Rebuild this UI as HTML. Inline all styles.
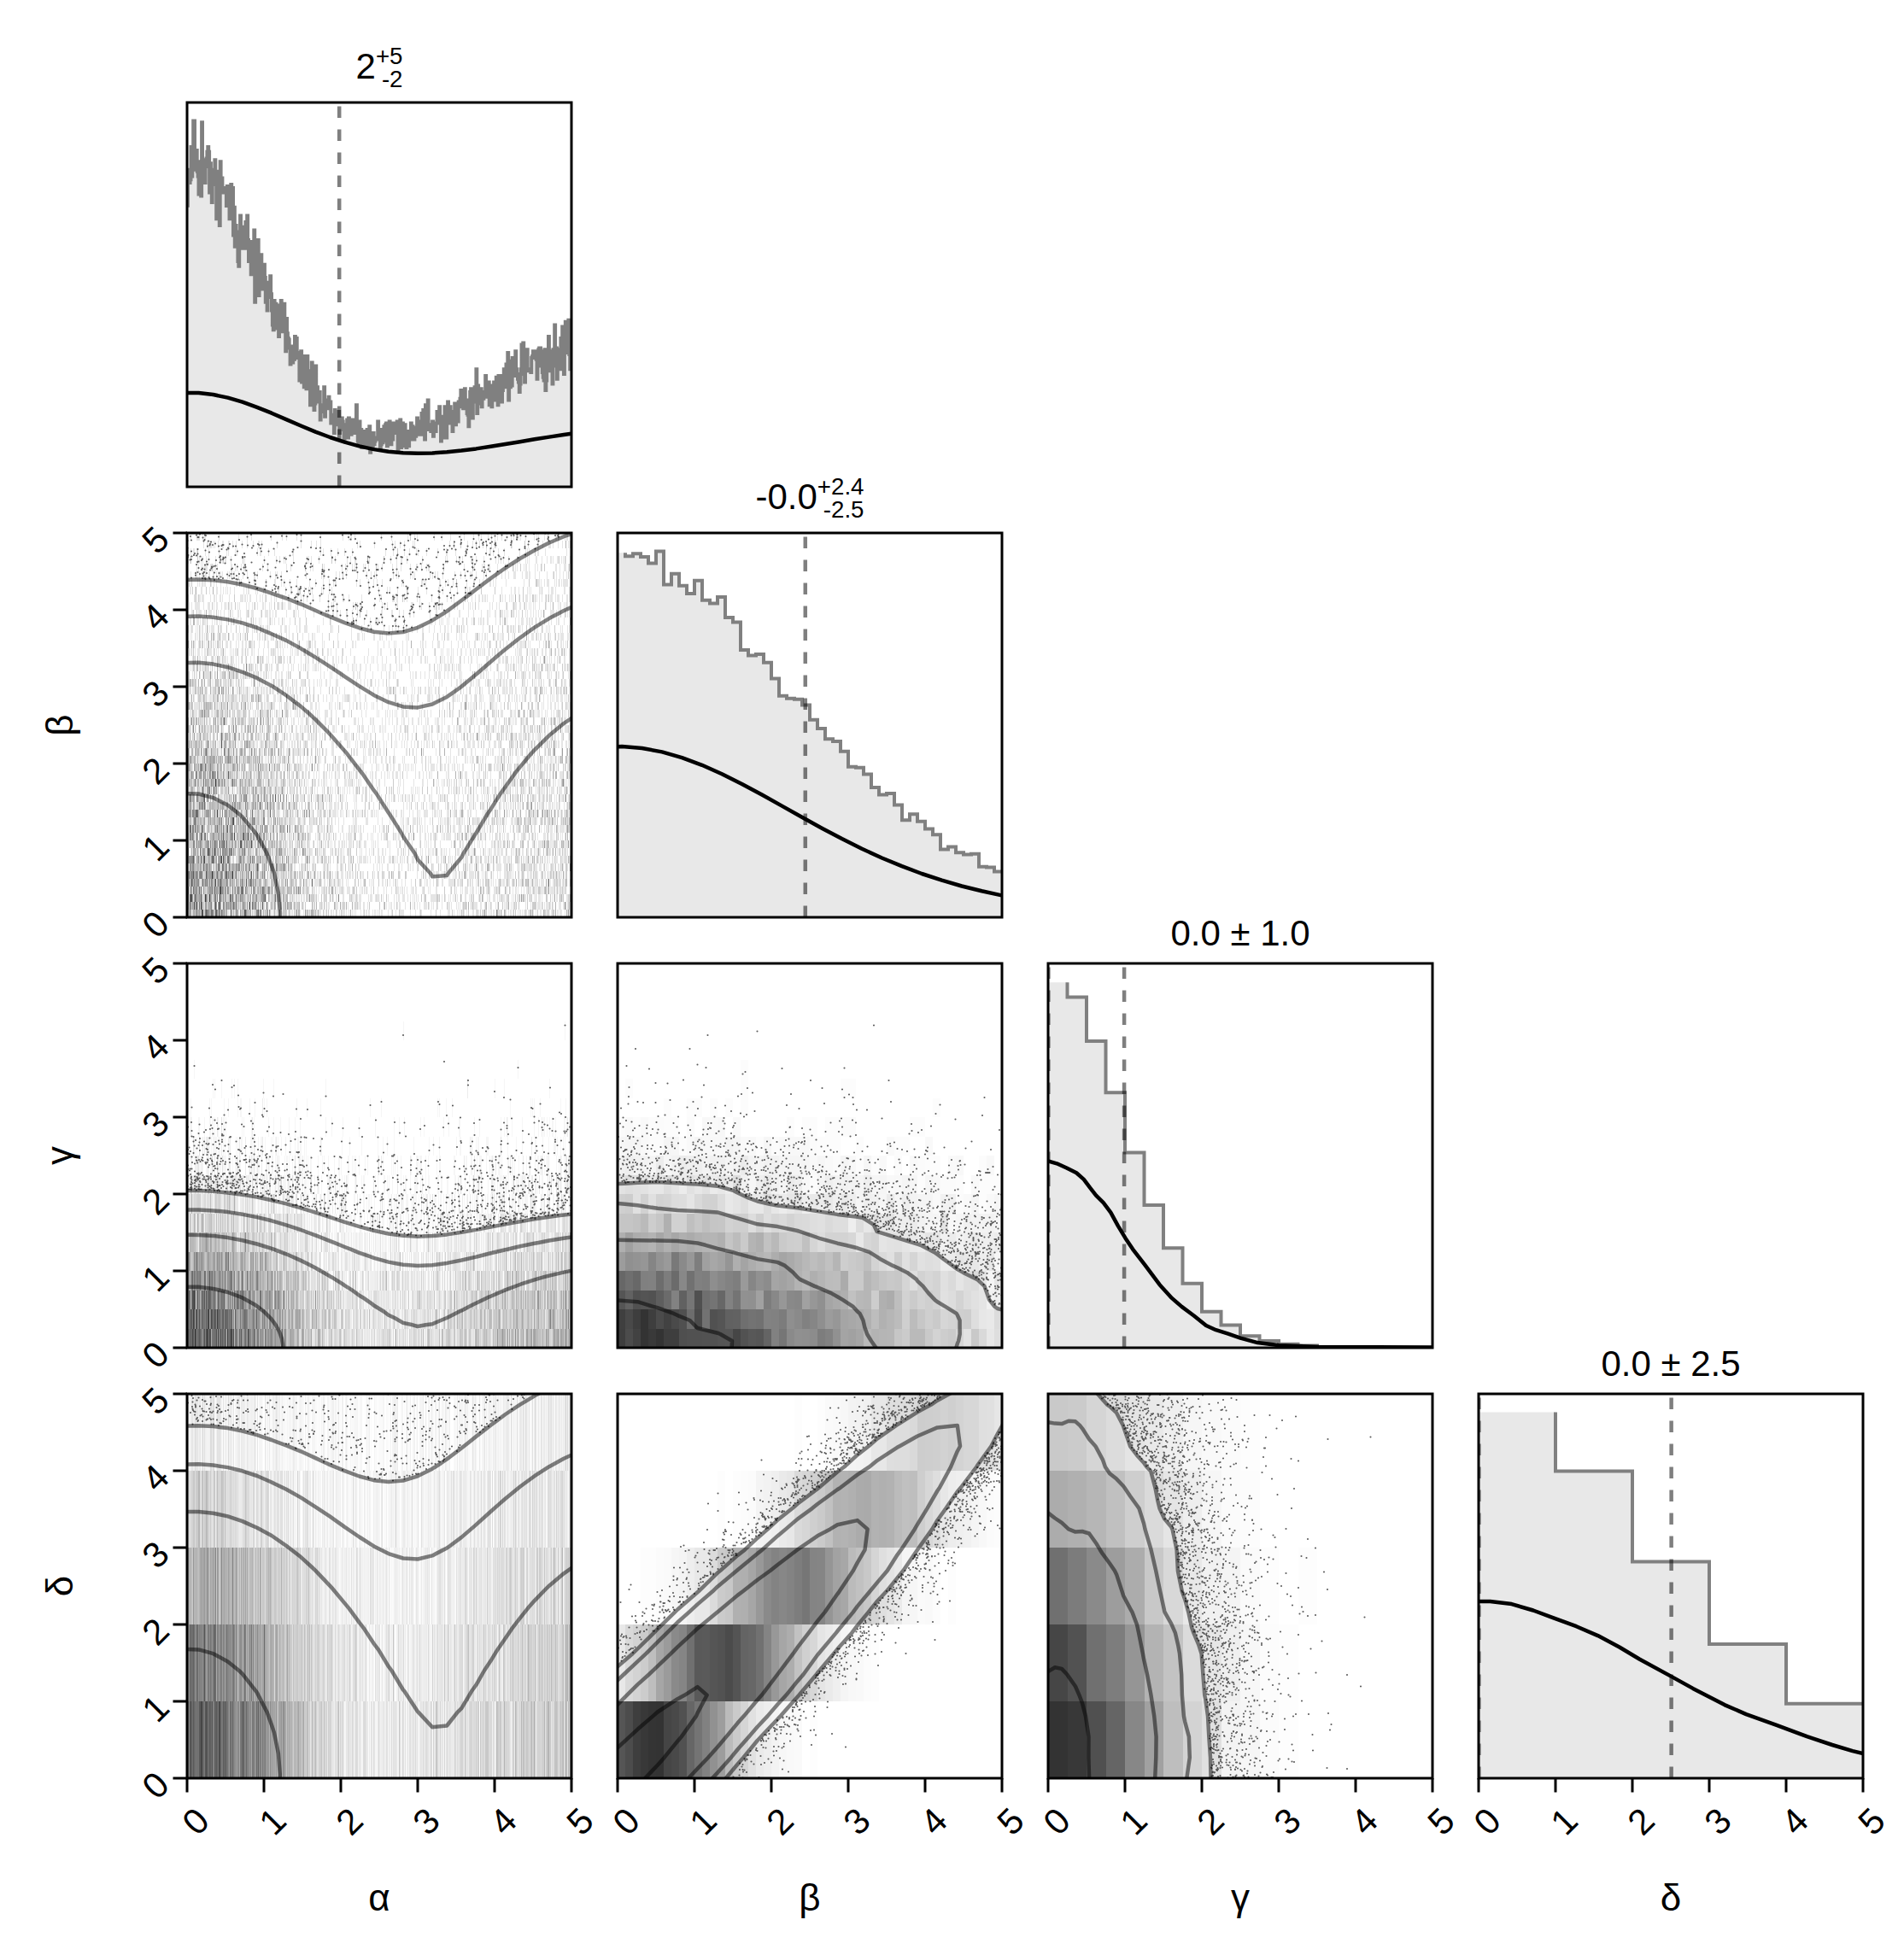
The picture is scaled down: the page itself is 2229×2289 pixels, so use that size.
<!DOCTYPE html><html><head><meta charset="utf-8"><title>pairplot</title><style>html,body{margin:0;padding:0;background:#fff}svg{display:block}text{font-family:"Liberation Sans",sans-serif;fill:#000}</style></head><body><svg width="2229" height="2289" viewBox="0 0 2229 2289"><rect width="2229" height="2289" fill="#fff"/><defs><clipPath id="c00"><rect x="219" y="120" width="450" height="450"/></clipPath><clipPath id="c10"><rect x="219" y="624" width="450" height="450"/></clipPath><clipPath id="c11"><rect x="723" y="624" width="450" height="450"/></clipPath><clipPath id="c20"><rect x="219" y="1128" width="450" height="450"/></clipPath><clipPath id="c21"><rect x="723" y="1128" width="450" height="450"/></clipPath><clipPath id="c22"><rect x="1227" y="1128" width="450" height="450"/></clipPath><clipPath id="c30"><rect x="219" y="1632" width="450" height="450"/></clipPath><clipPath id="c31"><rect x="723" y="1632" width="450" height="450"/></clipPath><clipPath id="c32"><rect x="1227" y="1632" width="450" height="450"/></clipPath><clipPath id="c33"><rect x="1731" y="1632" width="450" height="450"/></clipPath></defs><g clip-path="url(#c10)">
<g transform="translate(219.5,624) scale(1,9)" fill="none" stroke-width="1" shape-rendering="crispEdges"><path stroke="#333" d="M4 47v1m28-7v1m41 6v1"/><path stroke="#3c3c3c" d="M4 38v1m6 5v1m7-10v1m0 13v1m4-3v1m8-4v1m10 1v1m14-3v1"/><path stroke="#4d4d4d" d="M1 46v1m7 1v1m8-1v1m4-7v1m2 6v1m4-3v1m7-16v1m0 12v1m0 2v1m2-13v1m2 11v1m3-7v1m14-6v1m1 1v1m9 6v1m7-8v1m4 0v1"/><path stroke="#606060" d="M0 37v1m3-4v1m1 4v1m1 5v1m0 1v1m2-6v1m0 1v1m3 2v1m1-12v1m7 12v1m2-16v1m2 9v1m2-4v1m0 7v1m1-9v1m5 0v1m2-3v1m0 5v1m2 2v1m3-18v1m1 13v2m1-3v1m1-19v1m2 11v1m0 2v1m1-3v1m2 2v1m1 0v1m1-7v1m1-8v1m2 15v1m1-7v1m2-10v1m0 4v1m9 2v1m1-1v1m3-2v1m0 8v1m1 0v1m1-1v1m1-5v1m6-2v1m7-2v1m1 5v1m5-4v1m0 1v1m3-2v1m2 0v1m10-15v1m10 8v1"/><path stroke="#737373" d="M0 39v1m1 1v1m0 5v1m1-4v1m1-9v1m1 6v1m2-6v2m1 6v1m2-10v1m1-2v1m0 11v2m1-16v1m0 4v1m0 8v1m1-13v1m0 7v1m2 1v1m0 1v1m2-10v1m0 2v1m0 1v1m0 1v1m1-17v1m0 8v1m1-7v1m0 4v1m0 2v1m0 3v1m1-14v1m0 1v1m0 7v2m1-9v1m1-6v1m0 8v1m1-12v1m1 7v1m0 6v1m1-4v1m1-5v1m3 12v1m1-19v1m0 10v1m1-11v1m0 6v1m0 9v1m1-21v1m0 1v1m1 4v1m1 10v1m0 1v1m2-12v1m0 5v1m2-2v1m1-4v1m1 1v1m1-17v1m0 22v1m1-7v1m2-20v1m0 3v1m1 12v1m1 2v1m1-5v1m1 1v1m1-1v1m1-2v1m0 1v1m1-6v1m2-1v2m1 6v2m1 0v1m3-6v2m0 2v1m2-2v1m6-8v1m2 1v1m7 3v1m2-10v1m0 11v1m9-14v1m0 4v1m1 5v1m0 2v1m11-14v1m2 9v1m4 0v1m1-3v1m13-8v1m29 6v1m277-1v1"/><path stroke="#888" d="M0 34v1m0 5v1m1 1v1m0 5v1m2-14v1m0 6v1m0 4v2m1-20v1m0 14v1m0 3v2m1-19v1m0 10v1m0 1v1m1-9v1m0 5v4m1-21v1m0 10v1m0 1v1m0 1v1m0 2v1m1-7v1m0 2v1m0 3v2m1-16v1m0 7v1m0 2v1m0 5v1m1-17v1m1-2v2m0 8v1m0 4v2m1-9v1m1 3v1m0 2v1m1-11v1m0 8v1m1-15v1m0 4v1m0 4v2m0 2v1m1-15v1m0 16v1m1-14v1m0 3v1m0 8v2m2-18v1m1-9v1m0 15v1m1 5v1m0 3v1m1-3v1m1-9v1m0 4v2m1-14v1m0 13v1m1-14v1m1-3v1m0 1v1m0 7v1m0 3v2m1-17v1m0 9v1m1-9v1m0 12v1m0 2v1m1-4v2m0 2v1m1-6v1m1-12v1m0 1v1m0 6v1m4-12v1m0 15v1m1-5v1m0 1v1m1-26v1m0 16v1m0 4v1m0 6v1m1-2v2m1-20v1m0 13v1m1-8v1m0 1v2m0 3v1m1-9v1m0 3v2m0 4v1m1-9v1m0 1v2m0 1v1m0 4v1m1-17v1m0 16v1m1-23v1m2 13v1m0 3v1m0 2v1m1-3v1m1-19v2m0 7v1m0 6v1m2-16v1m1 17v3m1-6v1m1-2v1m1-19v1m0 8v1m2 0v1m1 0v1m0 11v1m1-20v2m0 5v1m1 6v1m2-1v1m1-2v1m0 4v1m1-2v1m1 0v2m1-6v3m3-11v1m0 10v1m1-30v1m0 16v1m0 1v1m1-10v1m0 9v1m1 0v1m2 1v1m0 2v1m1-2v1m1-15v1m0 16v1m1-9v1m0 4v1m1-10v1m0 11v1m1-9v1m0 8v1m2 1v1m1-2v1m0 1v1m1-6v1m0 4v1m1-20v1m0 3v1m0 5v1m1-12v1m1 9v1m0 5v1m1-22v1m2 15v1m1-4v1m0 8v2m1-14v1m0 2v1m0 6v1m0 2v1m1-7v1m2-3v1m2 6v1m1-17v1m0 18v1m1-16v1m1 8v1m1-16v1m1 14v1m1-6v1m3 4v1m1-5v1m0 3v1m3-3v1m0 7v1m1-16v1m2-12v1m19 22v1m5-6v1m5 0v1m6-13v1m31 16v1m161-5v1m24 5v1m78-18v1m8 10v1"/><path stroke="#9d9d9d" d="M0 38v1m0 8v1m0 1v1m1-22v1m0 11v1m0 3v2m1-16v1m0 11v1m0 2v1m0 3v1m1-12v1m1-5v1m0 7v1m0 2v2m1-23v1m0 8v1m0 12v1m1 0v2m1-15v2m0 3v1m0 1v1m1-16v1m0 9v1m0 5v1m0 3v2m0 1v1m1-18v1m0 3v1m0 8v2m1-20v1m0 4v1m0 4v2m0 7v1m1-23v1m0 17v1m1-11v1m0 1v1m0 10v1m0 1v1m0 1v1m1-20v1m0 9v1m1-16v1m0 5v1m0 15v1m0 1v1m1-24v1m0 4v1m0 11v1m0 3v1m1-20v1m0 2v1m0 9v1m1-23v1m0 20v1m0 3v1m1-22v1m1-6v1m0 16v1m0 10v1m1-18v1m0 7v1m0 3v1m1-14v1m0 2v2m0 15v1m1-17v1m0 7v1m0 2v1m0 1v1m0 2v1m1-20v1m0 3v2m0 12v1m0 1v1m1-27v1m0 3v1m0 6v1m0 3v1m1-2v1m0 4v3m0 3v1m1-6v2m0 4v1m1-32v1m0 10v1m0 1v1m0 4v2m0 6v1m0 1v3m1-21v1m0 13v1m0 1v1m0 1v1m1-18v1m0 5v1m0 5v1m1-11v1m0 8v2m1-18v1m0 12v1m0 9v1m1-16v1m0 5v2m0 5v1m0 1v2m1-25v1m0 6v1m0 6v1m0 1v2m1-10v2m0 6v1m0 1v3m0 1v1m0 1v1m1-31v1m0 11v1m0 9v1m0 5v1m0 2v1m1-25v1m0 13v1m0 1v1m1-4v1m0 6v1m1-1v1m1-11v1m0 5v1m0 5v2m1-29v1m0 17v1m0 6v2m1-15v1m0 2v1m0 8v1m0 4v1m1-30v1m0 10v1m0 14v2m1-6v2m0 4v1m1-13v1m0 7v1m0 1v1m1-21v1m0 2v1m0 6v2m0 8v2m0 1v1m1-14v1m0 1v2m1-18v1m0 6v1m0 5v1m0 9v1m1-13v1m0 12v1m0 1v1m1-31v1m0 17v1m0 5v1m1-4v1m0 4v2m0 2v1m1-13v2m0 1v1m0 3v1m1-3v1m1-22v1m0 14v1m0 3v2m0 4v1m0 2v1m1-21v1m0 1v1m0 10v1m1-16v1m0 5v1m0 2v1m0 2v1m0 9v1m1-25v1m0 1v2m0 6v1m0 5v1m0 5v1m1-22v1m0 19v1m0 3v1m1-19v1m0 3v1m0 13v1m2-13v1m0 5v1m0 2v1m1-12v1m0 6v1m1-11v2m0 3v1m0 7v1m0 3v1m1-22v1m0 5v1m0 7v2m1-11v1m0 6v2m0 3v1m1-8v1m0 2v1m0 4v1m1-14v2m0 2v1m0 4v1m0 4v1m1-21v2m0 1v1m0 3v1m0 5v1m1-19v1m0 11v1m0 3v2m0 3v1m1-4v1m0 2v2m0 4v1m1-15v1m0 10v1m0 1v1m1-9v1m0 3v1m1-18v1m0 1v1m0 11v1m0 1v1m0 2v1m1-15v1m0 12v1m1-21v1m0 13v1m0 4v1m0 2v1m0 1v1m1-4v1m2-13v2m0 1v1m0 1v1m0 4v1m0 1v3m1-30v1m0 22v1m1-6v1m0 7v1m0 2v1m1-20v2m0 4v1m1 3v1m0 1v1m0 1v1m1-5v1m1-19v1m0 21v1m0 4v1m1-18v1m1 6v1m0 3v1m0 6v1m1-20v1m1 16v1m1-10v1m0 5v1m0 2v1m1-12v1m0 2v2m1-8v1m0 5v1m0 3v1m0 2v1m1-12v1m0 2v1m0 6v1m1-12v1m1-9v1m0 8v1m0 2v1m0 3v1m0 6v1m1-15v1m0 13v1m1-18v1m1 13v1m1-12v1m0 3v1m0 2v1m1-14v1m0 14v1m1-5v1m1-7v1m0 9v1m1-8v1m1-8v1m0 17v1m1-23v1m0 10v1m1 3v1m1-2v1m2-13v1m2 9v1m1 2v1m1-9v1m0 8v1m1-8v1m0 2v1m0 8v1m1-17v1m2 13v1m1-25v1m0 12v1m0 7v1m1-13v1m0 14v1m0 2v1m1-20v1m0 12v2m1-16v1m0 6v1m1 1v2m4-17v1m0 11v1m1 6v1m1 2v1m1-7v1m1 7v1m0 2v1m2-11v1m2 6v1m4-2v1m1-10v1m1 12v1m2-29v1m3 14v1m0 10v1m3 1v1m3-6v1m1-16v1m8 4v1m9 9v1m2 1v1m27-8v1m69-1v1m9-12v1m8 13v1m38-12v1m5 12v1m1-23v1m6 19v1m4-2v1m12 7v1m21-20v1m2 5v1m10-1v1m10 10v1m9-12v1m3-2v1m7 0v1m6-1v1m2-21v1m0 23v1m3-5v1m2 9v1m7-23v1m0 3v1m0 7v1m7-12v1m2 2v1m3 8v1m0 10v1m1-15v1m1-2v1m0 2v1m1 1v1m1 1v1m0 8v1"/><path stroke="#b4b4b4" d="M0 15v1m0 11v1m0 1v1m0 5v1m0 6v4m0 2v1m1-35v1m0 7v1m0 2v1m0 3v2m0 8v1m0 9v1m1-28v1m0 4v1m0 1v1m0 2v1m0 3v1m0 1v2m0 8v1m1-30v1m0 6v1m0 2v2m0 1v1m0 4v1m0 1v1m0 3v2m0 1v1m0 2v1m1-31v1m0 4v1m0 10v3m1-24v1m0 6v2m0 4v2m0 3v1m0 1v1m0 6v1m1-23v1m0 3v1m0 4v1m0 2v1m0 1v2m1-24v1m0 2v1m0 9v1m0 6v1m0 5v1m0 7v1m0 2v2m1-39v1m0 17v2m0 1v1m0 1v2m0 5v1m0 1v1m1-25v1m0 8v2m0 13v1m1-37v1m0 12v1m0 7v1m0 16v1m1-5v1m0 1v1m0 5v1m1-34v2m0 10v2m0 3v1m0 3v1m0 1v1m0 1v3m0 4v1m1-30v1m0 4v1m0 3v1m0 3v1m0 1v1m0 1v3m0 4v1m0 2v2m0 1v1m1-32v1m0 8v1m0 10v3m1-21v1m0 13v1m0 2v1m0 1v1m0 9v1m1-27v1m0 3v1m0 9v2m0 1v1m0 2v1m1-24v1m0 2v1m0 1v1m0 7v1m0 8v1m0 2v1m1-17v1m0 14v1m1-24v1m0 4v1m0 1v1m0 1v1m0 2v1m0 3v1m0 3v1m0 3v1m1-27v1m0 2v1m0 1v2m0 5v1m0 4v1m0 1v1m0 4v1m0 1v1m1-11v2m0 3v1m0 2v1m1-34v1m0 11v2m0 6v1m0 5v1m1-25v1m0 9v1m0 3v3m0 11v2m1-25v2m0 12v1m0 1v1m0 10v2m1-32v1m0 7v1m0 4v1m0 1v2m0 9v1m0 6v1m0 1v1m1-21v2m0 4v1m0 6v1m0 5v1m1-30v2m0 1v1m0 11v2m0 3v1m0 1v1m0 1v1m0 5v1m1-37v1m0 11v1m0 3v2m0 2v1m0 4v2m0 3v1m0 3v1m1-18v1m0 6v1m0 2v1m1-34v1m0 5v1m0 6v2m0 3v1m0 1v1m0 2v1m0 2v2m0 1v1m0 9v1m1-13v1m0 9v2m1-26v1m0 1v1m0 8v1m0 1v1m0 3v1m0 6v1m0 4v1m1-31v1m0 5v1m0 1v1m0 5v1m0 1v1m0 6v1m0 3v1m1-18v1m0 8v2m1-24v2m0 3v1m0 1v1m0 2v1m0 1v1m0 6v1m0 1v1m0 3v1m0 3v1m1-27v1m0 1v1m0 1v1m0 5v1m0 1v2m0 1v2m0 6v1m0 1v1m0 1v1m0 1v2m1-34v1m0 13v1m0 3v2m0 3v2m0 3v1m0 1v2m1-19v1m0 6v2m0 1v1m0 1v3m1-20v1m0 4v1m0 1v2m0 4v2m1-17v1m0 1v2m0 6v1m0 14v1m1-25v1m0 2v1m0 2v1m0 15v1m1-31v1m0 8v1m0 10v1m0 9v1m0 3v1m1-20v1m0 3v2m0 2v1m0 2v1m0 3v1m1-28v1m0 3v1m0 1v1m0 3v1m0 10v1m0 2v1m0 2v1m0 1v1m1-29v1m0 14v2m0 2v1m0 1v3m0 2v1m0 2v1m1-12v1m0 5v1m0 5v1m1-27v1m0 2v1m0 12v1m0 1v1m0 2v1m0 3v1m1-36v1m0 3v1m0 2v1m1 4v5m0 4v1m0 5v1m0 3v1m0 3v1m1-30v1m0 11v1m0 3v1m0 5v2m1-26v1m0 9v1m0 4v1m0 11v2m1-24v1m0 6v1m0 5v1m0 1v1m0 2v1m0 6v1m0 1v1m1-23v1m0 2v1m0 2v1m0 2v1m1-19v1m0 24v1m0 5v1m1-20v1m0 5v1m0 6v1m0 1v2m1-17v1m0 10v1m0 2v1m0 3v1m1-21v2m0 2v1m0 1v1m0 3v1m0 1v1m1-23v1m0 18v1m0 1v1m0 8v1m1-26v1m0 15v1m0 5v1m0 1v1m0 1v1m1-26v1m0 10v1m0 2v1m0 1v3m0 4v2m1-29v1m0 5v1m0 2v2m0 10v1m0 4v1m1-19v1m0 6v1m0 2v2m0 4v1m0 3v1m1-27v1m0 13v1m0 1v2m0 5v1m0 1v1m1-24v1m0 3v1m0 3v1m0 3v2m0 11v1m1-29v1m0 7v2m0 11v1m1-17v1m0 4v1m0 6v1m0 1v2m0 4v1m0 2v1m1-12v2m0 4v2m1-21v1m0 6v2m0 14v1m1-22v1m0 3v1m0 7v1m0 6v1m1-34v1m0 15v1m0 3v1m0 2v1m0 2v2m0 8v1m1-25v1m0 5v2m0 9v1m0 2v1m0 1v1m1-23v1m0 18v2m0 3v1m1-22v1m0 2v1m0 6v1m0 3v1m1-12v1m0 4v2m0 3v1m1-21v1m0 4v1m0 5v1m0 6v1m1-14v1m0 8v1m0 2v1m0 1v1m0 6v1m1-27v1m0 3v1m0 16v2m1-16v2m0 9v1m0 8v1m1-21v1m0 4v3m0 10v2m1-22v1m0 6v1m0 4v1m0 2v1m0 2v2m0 1v1m1-23v1m0 7v1m0 4v1m0 3v1m0 1v1m1-29v1m0 7v1m0 4v1m0 2v1m0 1v2m0 4v1m0 1v1m0 3v1m1-31v1m0 14v2m0 3v2m0 4v1m0 1v1m0 1v1m1-19v1m0 3v1m0 6v1m0 6v1m1-24v1m0 8v1m0 11v1m1-22v1m0 8v1m0 2v1m0 6v1m0 4v1m1-15v2m0 1v4m0 4v1m1-20v1m0 4v1m0 11v2m1-20v1m0 24v1m1-22v1m0 7v1m0 1v1m0 2v1m1-15v1m0 5v1m0 6v1m0 5v1m0 2v1m1-23v1m0 10v1m0 2v3m1-14v1m0 10v1m0 3v1m1-23v1m0 10v1m0 6v1m0 2v1m0 1v1m1-23v2m0 2v1m0 11v2m0 1v1m0 3v1m2-25v1m0 9v1m0 7v1m0 1v1m1-22v1m0 8v1m0 3v1m0 9v1m0 2v1m1-8v1m0 5v1m1-18v1m0 4v2m0 8v1m1-27v1m0 15v1m0 3v1m1-12v1m0 7v1m0 3v1m0 6v1m0 1v1m1-17v1m0 8v1m0 3v1m0 1v1m1-23v2m0 14v1m0 1v1m1-15v1m0 6v1m0 4v1m1-34v1m0 10v1m0 13v2m0 5v1m1-26v1m0 13v1m0 11v2m0 3v1m1-11v2m0 8v1m1-8v2m0 1v1m0 4v1m1-24v1m0 12v1m0 4v1m0 4v1m1-14v1m0 7v1m1-12v1m0 1v1m0 9v1m0 1v1m0 1v2m1-21v1m0 4v1m1 3v2m0 8v2m1-7v1m0 4v1m1-14v1m0 11v1m1-12v1m0 9v2m1-2v1m0 1v1m1-18v1m1 14v1m0 1v1m1-13v1m0 7v1m0 3v1m1-6v1m0 1v2m0 1v1m2-10v1m1-19v1m0 13v1m0 10v1m0 1v1m1-17v1m0 5v1m0 3v1m1-21v1m0 22v1m1-15v1m0 3v1m1 0v1m0 1v1m1 10v1m1-36v1m0 17v1m0 7v1m0 7v2m1-12v1m2-1v1m0 1v1m1-2v1m1 1v1m1-14v1m0 5v1m1 4v1m0 1v1m0 1v1m1-8v1m1-1v1m0 9v2m0 1v1m1-22v1m0 15v1m1-22v1m0 11v1m0 8v1m1-3v1m1-18v1m1 8v1m0 14v1m1-17v1m0 14v1m1-13v1m1-12v1m0 23v1m2-9v1m0 7v1m1-2v1m2-15v2m0 13v1m1-11v1m1-3v1m0 7v1m2-19v1m0 12v1m1 1v1m1-8v1m1 8v1m0 2v1m1-22v1m1 20v1m2-10v1m2-5v1m1-9v1m0 18v1m0 1v1m3-2v1m2 1v1m1-20v1m3 12v1m3-9v1m0 13v1m2-24v1m1 22v1m4-1v1m5 0v1m2-7v1m0 4v1m1-38v1m0 14v1m0 15v1m7-10v1m7 11v1m3-43v1m9 23v1m5 7v1m5 2v1m1 9v1m2-21v1m2 9v1m1 5v1m1-25v1m2 23v1m2-25v1m2-6v1m9 23v1m9-2v1m0 9v1m1-35v1m1 7v1m5 3v1m0 15v1m20-11v1m4 8v1m0 3v1m1-15v1m3 6v1m5-11v1m1 13v1m3-16v1m2-6v1m1 13v1m5 3v1m0 4v1m1-15v1m2-8v1m4 22v1m1-12v1m1-1v1m0 2v1m2-14v1m1-5v1m0 20v1m1-3v1m0 6v1m1-10v1m1-2v1m1 9v1m1-12v1m3 1v1m1 8v1m2-31v1m2 3v1m1 3v1m0 2v1m1-4v1m3 19v1m2 0v1m1-13v1m2-12v1m2 23v1m1-14v1m0 7v1m1-1v1m0 1v1m3-24v1m2-3v1m1 21v1m1-9v1m1 1v1m2-3v1m0 7v1m1 6v1m1-2v1m1-3v1m1-37v1m0 8v1m1 29v1m3-17v1m1 15v1m1-39v1m0 22v1m0 11v1m3-7v1m1 7v1m1-6v1m1-10v1m1-9v1m2 7v1m2-3v1m1-25v1m0 9v1m1 22v1m0 3v1m1-46v1m0 26v1m1 6v1m0 2v1m1-26v1m0 10v1m1 23v1m1-16v1m0 1v1m0 1v1m1-15v1m1 22v1m1-14v1m0 2v1m0 4v1m0 6v1m1-25v1m0 1v1m0 17v1m1-15v1m0 7v1m1-24v1m0 23v1m0 6v1m1-33v1m1 21v1m1 2v1m0 3v1m0 2v1m1-13v1m1-11v1m0 13v1m1-3v1m0 13v1m2-8v1m0 2v1m0 3v1m1-18v1m0 3v1m1 3v1m0 1v1m5-2v1m1-21v1m0 3v1m0 12v1m1-19v1m0 8v1m2-13v1m2-8v1m0 38v1m1-26v1m1 21v1m1-33v1m0 17v1m0 12v1m1-13v1m0 6v1m0 8v1m1-9v1m1-28v1m0 13v1m0 11v1m0 8v1m3-35v1m0 8v1m0 11v1m1-11v1m0 10v1m1-29v1m0 21v1m0 5v1m0 3v1m0 2v1m0 4v1m1-33v1m0 9v2m1 11v1m0 6v1m1-29v1m0 11v1m0 9v1m0 6v2m1-19v1m0 6v1m0 5v1m4-29v1m0 30v1m1-19v1m1 10v1m0 6v1m1-19v1m0 2v1m0 10v1m1-7v1m0 2v1m0 3v1m1-30v1m0 4v1m1 12v1m0 2v1m0 4v2m1-42v1m0 27v1m0 9v1m1 5v1m0 3v1m1-22v1m0 2v1m0 7v1m1 2v1m1-13v1m0 4v1m0 1v1m2-15v2m0 9v1"/><path stroke="#ccc" d="M0 1v1m0 16v3m0 4v2m0 1v1m0 1v2m0 1v1m0 7v1m0 4v1m1-35v1m0 6v3m0 2v1m0 6v1m0 4v1m0 1v1m1-21v2m0 5v1m0 2v1m0 2v1m0 2v2m0 1v1m0 2v1m0 2v1m0 3v1m1-28v1m0 1v1m0 2v1m0 1v1m0 3v1m0 1v1m0 6v1m0 4v1m1-43v1m0 19v1m0 3v1m0 2v4m0 6v1m1-35v1m0 5v1m0 2v1m0 13v2m0 4v2m0 2v2m0 2v1m0 4v1m1-42v1m0 14v1m0 2v2m0 2v1m0 10v1m0 8v1m1-40v1m0 4v3m0 1v1m0 1v1m0 1v1m0 3v1m0 1v1m0 2v2m1-17v2m0 5v1m0 2v1m0 5v1m0 4v2m1-32v1m0 7v1m0 3v1m0 4v1m0 1v1m0 20v1m1-44v1m0 18v1m0 14v2m0 2v1m1-34v1m0 6v1m0 9v2m0 6v1m0 1v2m0 5v1m0 2v1m1-46v2m0 16v1m0 5v2m0 7v1m0 4v1m0 5v1m1-39v1m0 11v2m0 5v1m0 3v1m0 1v1m0 1v1m0 5v1m1-30v3m0 6v3m0 2v1m0 1v1m0 4v2m0 1v2m0 4v2m0 1v1m1-32v1m0 2v1m0 3v1m0 1v2m0 7v1m0 3v1m0 5v1m0 3v1m0 1v1m1-27v1m0 9v1m0 1v1m0 14v1m1-36v1m0 9v1m0 2v2m0 2v2m0 3v2m0 5v1m1-38v1m0 4v1m0 2v1m0 5v1m0 4v1m0 4v1m0 3v4m0 4v2m0 4v1m1-44v1m0 16v1m0 6v1m0 8v3m0 6v3m1-29v1m0 4v1m0 1v1m0 1v1m0 9v1m0 3v1m0 1v2m0 1v1m1-33v1m0 2v1m0 1v2m0 1v2m0 6v1m0 7v2m0 1v1m0 1v1m1-40v1m0 5v1m0 2v3m0 1v2m0 2v1m0 2v1m0 1v1m0 12v1m0 3v1m1-36v1m0 3v1m0 14v3m0 2v1m0 6v1m0 5v1m1-36v3m0 3v1m0 2v1m0 2v1m0 2v3m0 5v2m0 4v2m0 4v1m1-26v1m0 8v1m0 1v2m0 2v1m0 6v2m1-29v2m0 2v1m0 1v1m0 7v1m0 3v3m1-33v1m0 18v3m0 4v1m0 9v1m0 2v1m1-32v1m0 7v1m0 12v1m0 1v1m0 2v2m1-38v1m0 4v1m0 6v2m0 4v1m0 5v1m0 3v1m0 1v1m0 4v1m0 7v2m1-23v1m0 1v2m0 7v2m0 4v1m0 1v1m1-33v1m0 1v1m0 10v1m0 1v1m0 1v1m0 8v3m0 1v1m0 2v1m0 1v1m1-31v1m0 2v1m0 1v1m0 3v4m0 11v1m1-23v1m0 7v2m0 4v1m0 2v1m0 1v1m0 3v2m1-35v1m0 8v1m0 3v1m0 11v3m0 3v1m0 5v1m1-34v1m0 4v1m0 2v1m0 1v2m0 6v1m0 6v1m0 3v1m1-32v1m0 1v1m0 5v1m0 3v1m0 5v1m0 2v1m0 2v3m1-34v1m0 7v1m0 8v1m0 4v1m0 1v1m0 1v1m1-29v1m0 9v1m0 3v1m0 1v1m0 18v1m0 5v1m1-42v1m0 8v1m0 6v1m0 2v2m0 2v2m0 5v2m0 1v1m0 2v2m0 8v1m1-27v1m0 4v4m0 1v1m0 1v1m0 7v1m1-30v1m0 1v1m0 1v1m0 1v2m0 11v1m0 5v1m0 7v1m1-45v1m0 14v1m0 2v2m0 7v1m0 6v1m1-20v2m0 7v1m0 3v1m0 4v1m0 2v1m0 4v1m0 1v2m1-39v1m0 10v1m0 5v1m0 2v1m0 2v2m0 6v1m0 7v1m1-28v1m0 1v1m0 3v2m0 3v2m0 5v1m1-28v1m0 7v1m0 1v1m0 1v1m0 1v2m0 1v3m0 1v1m0 1v1m1-8v1m0 1v3m0 1v1m0 1v2m0 2v1m0 6v1m1-39v1m0 1v1m0 7v1m0 1v1m0 3v1m0 4v1m0 1v1m0 3v1m0 2v3m0 1v1m0 3v1m1-25v1m0 7v1m0 6v2m0 5v3m1-38v1m0 12v1m0 2v2m0 2v1m0 3v1m0 1v2m0 2v1m0 2v1m0 2v1m0 2v1m1-34v1m0 1v1m0 9v2m0 1v1m0 2v1m0 3v1m0 1v1m0 5v1m1-28v1m0 1v1m0 2v2m0 4v3m0 1v1m0 1v1m0 8v1m0 2v1m1-32v2m0 2v1m0 1v2m0 1v1m0 2v1m0 1v1m0 6v1m0 2v1m1-31v1m0 8v2m0 2v1m0 2v1m0 4v1m0 2v2m0 5v1m0 1v2m0 1v1m1-40v1m0 14v1m0 5v1m0 1v1m0 5v1m0 2v2m0 2v1m1-36v1m0 15v1m0 6v1m0 3v1m0 1v1m0 4v1m0 3v1m0 1v1m1-38v1m0 5v2m0 1v1m0 4v1m0 10v1m0 8v1m1-25v1m0 1v1m0 3v1m0 3v2m0 4v1m0 2v3m0 1v3m1-33v1m0 4v1m0 9v1m0 4v1m0 1v1m0 2v1m0 3v1m1-26v1m0 6v1m0 9v1m0 2v1m0 4v2m1-40v1m0 14v1m0 1v2m0 3v1m0 3v3m0 3v2m0 7v1m1-35v1m0 20v1m0 6v1m0 4v1m1-28v1m0 4v2m0 3v4m0 2v1m0 5v1m0 2v1m0 4v1m1-35v2m0 10v1m0 2v1m0 7v2m0 2v1m0 1v1m1-42v1m0 14v1m0 4v2m0 3v1m0 2v2m0 1v2m0 1v1m0 9v1m0 1v1m1-33v1m0 2v1m0 1v3m0 4v1m0 6v1m0 6v1m1-23v3m0 1v1m0 3v1m0 2v2m0 3v1m0 4v1m0 4v2m1-45v1m0 8v1m0 1v1m0 2v1m0 4v2m0 2v3m0 6v2m0 2v2m0 5v1m1-36v1m0 3v1m0 15v1m0 2v1m1-16v2m0 3v2m0 7v1m0 3v1m0 3v3m0 2v1m1-38v1m0 1v1m0 13v1m0 2v1m0 3v1m0 1v1m0 5v1m0 1v1m0 5v1m1-36v1m0 2v1m0 5v1m0 6v1m0 1v1m0 1v2m0 1v3m0 2v1m0 4v2m1-35v1m0 2v2m0 5v1m0 2v1m0 1v2m0 2v1m0 5v1m0 7v1m0 1v1m1-36v1m0 7v1m0 3v2m0 1v2m0 9v1m0 5v1m1-36v1m0 5v1m0 6v1m0 4v3m0 1v1m0 1v1m0 1v1m0 5v1m1-23v1m0 6v1m0 4v1m0 11v1m0 3v1m1-39v1m0 12v1m0 2v1m0 1v2m0 10v1m1-28v1m0 3v1m0 5v2m0 4v1m0 1v1m0 1v2m0 2v1m0 8v1m1-39v1m0 9v1m0 11v1m0 7v2m0 1v2m0 5v1m1-33v1m0 2v2m0 3v1m0 8v1m0 1v1m0 3v1m0 2v1m0 2v1m0 2v1m1-38v1m0 8v2m0 5v1m0 2v1m0 5v1m0 7v1m0 2v1m1-29v1m0 15v2m0 3v1m0 3v1m0 1v1m1-30v1m0 3v1m0 3v1m0 11v1m0 6v1m0 1v1m1-29v1m0 1v1m0 13v1m0 5v2m0 2v1m0 1v1m0 1v1m1-34v1m0 4v1m0 2v1m0 3v1m0 1v2m0 1v1m0 2v2m0 3v1m0 5v2m1-37v1m0 4v1m0 3v1m0 3v1m0 3v1m0 1v1m0 1v2m0 3v2m0 8v1m1-39v1m0 9v1m0 1v1m0 4v1m0 3v1m0 3v1m0 4v2m0 3v1m1-30v1m0 6v1m0 5v1m0 5v1m1-6v1m0 1v3m0 7v4m0 2v1m1-23v1m0 4v1m0 10v1m0 2v1m1-33v1m0 14v1m0 1v1m0 8v1m0 2v3m1-39v1m0 1v1m0 9v1m0 9v1m0 2v1m0 8v1m0 4v3m1-31v1m0 5v3m0 1v1m0 15v1m0 2v1m1-35v1m0 8v1m0 2v3m0 4v1m0 1v1m0 2v3m1-16v1m0 2v1m0 2v1m0 6v2m0 1v1m1-15v3m0 4v2m0 1v1m0 4v3m0 4v1m1-37v1m0 8v1m0 3v2m0 2v1m0 9v1m0 1v1m0 3v1m0 1v1m0 2v1m1-37v1m0 1v1m0 12v1m0 1v1m0 2v1m0 3v1m0 1v2m1-19v1m0 9v1m0 1v1m0 3v1m0 4v1m0 1v1m0 2v1m1-36v1m0 1v1m0 8v1m0 4v1m0 1v1m0 6v3m0 1v1m0 5v1m1-15v1m0 1v1m0 3v1m0 2v3m0 1v1m1-39v1m0 17v1m0 7v1m0 1v1m0 7v2m1-31v1m0 12v1m1-17v1m0 9v1m0 1v1m0 5v3m0 4v1m0 1v1m0 5v1m1-33v1m0 12v1m0 3v2m0 5v1m0 2v1m0 2v1m0 1v2m1-31v1m0 6v1m0 1v1m0 1v1m0 7v2m0 6v1m1-20v1m0 3v1m0 3v3m0 4v2m0 4v1m1-23v2m0 4v1m0 4v1m0 3v2m0 2v1m0 1v2m1-31v1m0 4v1m0 2v1m0 2v3m0 1v1m0 10v1m0 3v1m1-34v1m0 2v1m0 2v1m0 4v1m0 2v2m0 2v3m0 3v1m0 1v2m0 3v4m1-39v1m0 1v1m0 7v1m0 9v1m0 7v3m0 1v1m0 3v2m1-27v1m0 12v1m0 6v1m0 2v1m0 1v1m1-30v1m0 9v1m0 5v1m0 3v1m0 1v1m0 2v2m0 3v2m1-26v1m0 3v1m0 2v1m0 2v1m0 2v1m0 1v1m0 3v1m0 1v2m0 1v2m1-25v1m0 12v2m0 2v2m0 5v1m0 1v1m1-28v2m0 12v1m0 7v1m0 4v1m1-27v2m0 6v1m0 1v1m0 7v1m1-24v1m0 25v1m1-15v1m0 1v1m0 5v2m0 1v1m0 4v1m0 1v2m1-34v1m0 1v1m0 9v1m0 1v1m0 2v1m0 1v1m0 4v1m0 2v1m0 1v1m0 1v1m0 1v1m1-9v1m0 1v1m0 1v2m1-22v1m0 11v1m0 6v1m1-26v1m0 2v1m0 2v1m0 10v1m0 3v3m0 2v1m0 1v1m1-20v2m0 1v1m0 3v1m0 9v2m1-37v1m0 11v1m0 7v1m0 2v1m0 8v1m0 1v1m0 4v1m1-39v1m0 10v1m0 7v1m0 4v1m0 3v1m0 1v1m0 6v1m1-19v1m0 10v1m0 4v1m0 2v1m1-24v1m0 6v2m0 6v2m0 4v2m1-40v1m0 3v1m0 8v1m0 4v1m0 3v1m0 2v1m0 4v2m0 3v1m0 3v1m1-21v1m0 1v1m0 6v2m0 3v1m0 5v1m1-31v1m0 18v1m0 1v1m0 4v1m0 1v1m1-40v1m0 10v1m0 1v1m0 6v1m0 1v1m0 3v1m0 10v2m1-16v1m0 1v1m0 7v1m0 4v1m1-20v1m0 8v1m0 3v1m0 3v2m0 3v1m1-23v1m0 4v1m0 4v1m0 7v1m0 1v1m0 1v1m1-27v1m0 15v2m0 6v1m1-32v1m0 7v1m0 8v1m0 4v1m0 3v1m1-38v1m0 10v1m0 1v1m0 1v1m0 7v1m0 7v1m0 6v1m0 5v1m1-38v1m0 12v1m0 8v1m0 11v1m1-22v1m0 2v2m0 14v3m1-31v1m0 2v1m0 6v1m0 9v1m0 3v4m0 6v1m1-36v1m0 16v1m0 4v1m0 2v1m0 6v2m1-34v1m0 5v1m0 14v1m0 1v1m0 3v1m0 7v1m1-36v1m0 29v1m1-19v1m0 1v1m0 18v1m1-16v1m0 13v2m1-32v1m0 7v1m0 1v1m0 5v1m0 10v1m0 3v1m0 1v1m1-30v2m0 15v1m0 2v1m0 1v1m0 4v1m1-18v1m0 1v1m0 15v1m1-22v2m0 6v1m0 7v1m1-19v2m0 10v1m0 9v1m1-33v1m0 8v1m0 3v1m0 1v1m0 3v1m0 6v2m1-22v1m0 16v1m1-23v1m0 12v1m0 8v1m1 2v1m0 6v1m1-13v1m0 7v2m1-9v1m0 4v1m0 4v2m1-45v1m0 10v1m0 12v1m1 12v1m0 7v1m1-19v1m0 1v1m0 2v1m0 1v1m0 3v1m0 3v1m0 1v1m1-20v1m0 6v1m0 4v1m0 1v1m1-10v1m0 7v1m1-4v1m0 6v1m0 1v2m1-20v1m0 2v1m0 3v1m0 5v2m1-20v1m0 7v1m0 6v1m0 1v1m0 6v1m1-37v1m0 6v1m0 15v1m0 2v1m0 5v2m1-36v1m0 24v1m0 1v1m0 3v1m1-31v1m0 11v1m0 9v1m0 6v1m1-39v1m0 33v1m0 7v1m1-26v1m0 9v1m0 10v1m0 5v1m1-34v1m0 24v1m1-23v1m0 27v1m1-15v1m0 9v1m0 4v1m0 1v1m1-29v1m0 28v1m1-18v1m0 11v1m1-12v1m0 10v1m1-33v1m0 11v1m0 8v1m0 7v1m0 3v1m1-24v1m1 4v1m1 15v1m0 5v1m1-34v1m0 17v2m0 4v1m0 5v1m1-42v1m0 9v1m0 14v1m1-8v1m0 6v1m0 11v1m1-12v1m0 16v1m1-6v1m1-14v1m0 5v1m1-2v1m0 8v1m1-24v1m0 19v1m1 0v2m1-13v1m0 15v1m1-7v2m1-20v1m0 4v1m0 13v1m0 4v1m1-16v1m1 3v1m0 3v1m0 5v1m1-19v1m0 1v1m0 7v1m0 7v1m1-2v1m1-37v1m0 26v1m0 6v2m0 3v1m1-45v1m0 17v1m0 8v1m0 1v1m0 7v1m0 4v2m1-15v1m0 10v1m0 3v1m1-4v1m1-21v1m0 14v1m1-31v1m0 37v1m1-22v1m0 2v1m0 13v1m2-9v1m2-10v1m0 17v1m0 3v1m1-15v2m1-4v2m1 11v1m1-3v1m2-38v1m0 27v1m0 12v1m2-30v1m2 7v1m0 16v1m1-17v1m0 12v1m0 4v1m2-21v1m1-23v1m1 16v1m0 25v1m1-4v1m1 0v1m0 1v1m1 0v1m2-2v1m1-4v1m2-42v1m0 38v1m0 1v1m0 3v1m2-15v1m1-16v1m0 13v1m0 4v2m0 7v1m1-18v1m0 8v1m0 5v1m3-17v1m2-4v2m0 5v1m1 8v1m0 6v1m1-21v1m0 2v2m0 5v1m0 2v1m0 1v1m1-11v1m1-14v1m0 17v1m1-24v1m0 4v1m0 23v2m1 1v1m1-47v1m0 16v1m0 2v1m1 21v1m1-1v1m0 4v1m1-10v1m2-19v1m1-15v1m0 22v1m0 2v1m1-23v1m0 7v1m0 17v1m0 2v1m1-31v1m1 13v1m0 8v1m0 9v1m1-22v1m0 20v1m1-38v1m1 17v2m0 10v1m0 4v1m1-4v1m0 1v1m1-14v1m1-29v1m1 34v1m1-2v1m1-7v1m0 9v1m0 7v1m2-18v1m0 18v1m1-4v1m1-5v1m1-7v1m0 1v2m1-18v1m0 5v1m0 15v1m2 1v1m1-26v1m0 19v1m0 4v1m0 3v1m1-8v1m0 4v1m1-15v1m1-21v1m0 1v1m0 12v1m0 6v1m0 7v2m1 1v1m1-21v1m0 20v1m1-19v2m0 13v1m0 2v1m1-6v2m1-11v1m1 14v1m1-28v1m0 22v1m2-6v1m1-15v1m0 17v1m1-17v1m0 7v1m0 1v1m2-21v1m1-3v1m0 23v2m1-32v1m0 8v1m0 22v1m0 7v1m1-17v1m0 4v1m0 3v1m0 4v2m1-36v1m0 24v1m0 8v1m1-28v1m0 4v1m0 17v1m1-36v1m0 12v1m0 1v1m0 3v2m0 18v1m1-32v1m0 12v2m0 3v1m1 1v1m0 4v1m1-8v1m2-31v1m0 37v1m1-30v1m0 9v1m0 10v1m0 9v1m0 1v2m2-5v1m1-12v1m0 1v1m0 2v1m0 5v1m0 4v1m1-14v1m0 2v1m1-6v1m0 3v1m0 4v1m1-20v1m1 14v1m1-12v1m0 15v1m0 2v1m1-30v1m0 31v1m1-28v1m1-22v1m0 19v1m0 11v1m0 6v1m1-7v3m0 9v1m1-6v1m0 1v1m0 3v1m1-42v1m0 25v2m0 2v1m1-25v1m0 26v1m1-16v1m0 18v1m1-32v1m0 10v1m0 1v1m0 7v1m0 4v1m0 5v1m1-29v1m0 1v1m0 18v1m0 2v1m1-40v1m0 18v1m0 4v1m0 12v1m0 6v1m1-34v1m0 26v1m0 9v1m1-22v1m0 6v1m0 9v1m1-3v1m0 4v2m1-6v1m0 3v1m1-41v1m0 29v2m1-38v1m0 36v1m1-29v1m0 9v1m0 10v1m1-7v1m0 7v1m0 10v1m1-14v1m0 5v1m0 1v2m0 7v1m1-25v1m0 14v1m1-21v1m0 4v1m0 7v1m0 4v1m0 6v1m1-13v1m0 13v2m1-25v1m1-21v1m0 13v1m0 18v1m1-27v1m0 20v4m0 3v1m0 7v1m1-37v1m0 11v1m0 6v1m1-22v1m0 31v1m0 2v1m1-44v1m0 19v1m0 20v1m1-30v1m0 18v1m0 16v1m1-37v1m0 15v1m0 2v1m0 4v1m0 1v1m0 3v3m1-31v1m0 22v1m0 5v2m1-26v1m0 17v1m0 8v1m1-16v1m0 2v1m0 3v1m0 2v1m0 6v1m1-43v1m0 19v1m0 2v1m0 1v1m0 6v1m0 2v1m0 3v1m2-2v3m0 1v1m1-26v1m0 2v1m0 3v3m0 7v1m0 4v1m1-24v1m0 13v1m1-12v1m0 3v2m0 7v1m0 4v2m0 2v1m1-48v1m0 23v1m0 19v1m0 3v1m1-27v1m0 9v1m0 2v1m1-18v1m0 3v1m0 1v2m0 1v1m0 5v1m0 1v1m0 5v1m0 3v1m1-32v1m0 4v1m0 3v1m0 5v1m0 12v1m0 2v1m1-35v1m0 1v1m0 15v1m0 10v1m1-16v1m0 3v1m0 7v1m0 9v1m1-5v1m1-33v1m0 10v1m0 13v1m1-25v1m0 11v1m0 17v1m1-21v1m0 13v1m0 2v1m1-40v1m0 5v1m0 7v1m1 8v1m0 8v1m0 2v1m0 2v1m1-26v1m0 22v1m0 8v1m1-30v1m0 8v1m0 9v1m0 1v1m1-19v1m0 2v1m0 16v1m1-20v1m0 4v1m0 4v1m0 3v1m0 9v1m0 3v1m1-42v1m0 2v1m0 2v1m0 15v1m0 6v1m0 1v2m0 4v1m1-19v1m0 1v1m0 1v1m0 13v1m1-21v2m0 2v1m0 17v1m1-36v1m0 24v1m0 10v1m1-24v1m0 2v1m0 2v2m0 4v2m0 1v1m1-30v1m0 10v1m0 1v1m0 3v3m0 2v1m0 6v1m1-37v1m0 44v1m1-33v1m0 6v1m0 1v1m0 4v1m0 9v1m0 6v1m1-40v1m0 6v1m0 3v1m0 4v1m0 7v1m0 9v1m0 1v1m1-34v1m0 5v1m0 3v1m0 7v1m0 13v2m0 1v2m1-36v1m0 7v1m0 2v1m0 4v1m0 17v1m1-24v1m0 2v1m0 12v1m0 5v1m1-19v1m0 2v1m0 1v1m1-33v1m0 8v1m0 8v1m0 3v1m0 3v1m0 14v2m1-34v1m0 9v1m0 5v2m1-24v1m0 21v1m0 5v1m0 7v1m0 4v1m1-37v2m0 1v1m0 4v1m0 13v1m0 6v1m0 6v1m0 3v1m1-37v1m0 16v1m0 8v1m0 8v1m1-14v1m0 6v1m0 1v1m0 2v1m0 1v1m1-24v1m0 1v1m0 7v1m0 5v1m0 5v1m1-19v1m0 1v2m0 3v1m0 4v1m1-20v1m0 6v1m0 4v1m0 6v2m1-7v2m0 2v1m0 2v2m0 2v1m1-41v1m0 14v1m0 14v1m0 2v1m1-38v1m0 22v1m0 9v1m0 2v1m1-17v1m0 6v3m0 3v1m0 4v2m1-34v1m0 5v1m0 2v1m0 7v2m0 3v1m0 1v1m0 5v1m0 2v2m1-38v2m0 9v1m0 25v2m1-32v1m0 18v1m0 4v2m0 7v1m1-47v1m0 7v1m0 21v1m0 11v1m1-23v1m0 4v1m0 22v1m1-38v1m0 3v1m0 3v1m0 3v1m0 4v1m0 5v1m0 5v1m0 3v1m1-31v1m0 8v1m0 4v1m0 4v1m0 3v1m0 6v1m0 1v2m1-27v1m0 3v2m0 6v2m0 1v1m0 2v1m0 5v1m1-41v1m0 24v1m0 7v1m1-28v1m0 17v1m0 12v1m0 3v1m0 1v1m1-27v1m0 1v1m0 8v1m0 1v2m0 3v1m1-20v1m0 4v1m0 3v1m0 1v1m0 4v1m0 4v1m0 3v1m1-40v1m0 7v2m0 1v1m0 2v1m0 2v1m0 2v1m0 5v1m0 4v1m0 8v1m1-41v1m0 14v2m0 9v1m0 9v1m0 1v1m0 1v1m1-37v1m0 2v1m0 1v1m0 9v2m0 1v1m0 1v1m0 10v1m0 2v1m0 1v1m1-47v1m0 5v1m0 11v1m0 14v1m0 1v1m0 1v1m0 5v1m0 2v1m1-43v1m0 4v1m0 6v1m0 1v1m0 23v1m0 1v3m1-43v1m0 6v1m0 3v1m0 3v1m0 20v1m0 2v1m1-31v1m0 6v1m0 2v1m0 9v1m0 6v1m0 6v1m1-28v1m0 23v1m1-20v2m0 3v3m0 11v1m1-29v1m0 7v1m0 3v2m0 10v1m0 3v1m1-43v1m0 14v2m0 6v1m0 3v1m0 5v1m1-31v1m0 4v1m0 7v1m0 3v1m0 2v1m0 1v1m0 1v3m0 1v3m0 4v1m0 1v1m0 1v1m0 1v1m1-17v1m0 7v1m0 3v1m1-29v1m0 17v2m0 5v1m1-38v1m0 20v1m0 6v1m0 3v2m0 5v1m0 2v1m0 2v1m1-41v1m0 18v1m0 7v2m0 11v1m1-42v1m0 32v1m0 4v2m1-18v2m0 2v1m0 6v1m0 5v1m1-48v1m0 16v2m0 8v1m0 8v1m0 2v2m0 3v2m1-38v1m0 4v1m0 18v1m0 4v2m1-25v1m0 4v1m0 7v1m0 4v1m0 1v1m0 1v2m0 3v1m0 6v1m1-21v1m0 1v1m0 13v1m0 2v1m1-28v1m0 4v1m0 1v1m0 6v1m0 8v2m1 3v1m1-25v1m0 3v1m0 1v1m0 9v1m0 2v1m1-39v1m0 24v1m1-19v1m0 14v1m0 9v1m0 4v1m0 2v2m1-34v1m0 1v1m0 9v1m0 3v1m0 13v1m1-26v3m0 18v2m0 4v1m1-32v1m0 18v1m0 3v2m0 6v2m1-47v1m0 22v1m0 6v1m0 5v1m0 2v1m1-37v1m0 2v1m0 17v1m0 9v2m0 5v1m1-19v1m0 10v1m0 9v3m1-37v1m0 9v1m0 21v2m1-29v1m0 3v1m0 4v1m0 4v1m0 2v1m0 3v2m1-23v1m0 1v1m0 4v3m0 15v2m0 4v1m1-29v1m0 7v1m0 3v2m0 2v1m0 10v1m0 1v1m2-45v1m0 6v1m0 19v1m0 3v1m0 10v1m1-26v1m0 1v1m0 20v4m0 1v1m1-29v1m0 7v2m0 1v1m0 5v2m0 3v3m1-31v1m0 2v1m0 17v3m1-33v1m0 15v1m0 1v1m0 1v1m0 12v1m0 8v2m1-45v1m0 23v2m0 4v1m0 3v1m0 9v1m1-38v1m0 6v1m0 7v2m0 1v1m0 12v1m0 2v1m0 1v1m1-29v1m0 2v1m0 7v1m0 2v1m0 6v1m0 4v1m0 1v1"/><path stroke="#e5e5e5" d="M0 21v1m0 1v2m0 7v1m0 3v1m1-35v2m0 4v1m0 4v1m0 4v1m0 13v2m0 1v1m0 1v1m0 5v1m1-38v1m0 2v1m0 4v2m0 1v1m0 2v2m0 1v2m0 1v1m0 6v1m0 12v1m1-44v1m0 2v2m0 3v3m0 1v1m0 12v1m1-29v1m0 1v1m0 2v1m0 1v1m0 3v1m0 5v1m0 2v3m0 2v2m0 14v1m1-33v2m0 2v1m0 5v1m0 17v1m1-28v1m0 1v1m0 3v3m0 1v1m0 3v1m0 2v1m0 2v1m0 1v1m0 2v1m0 1v1m0 3v1m0 4v1m1-45v1m0 17v1m0 5v1m0 1v1m0 18v1m1-46v1m0 5v1m0 5v1m0 1v1m0 2v5m1-17v1m0 1v1m0 3v3m0 6v3m0 6v1m0 1v3m0 3v2m0 1v1m0 1v1m0 4v1m1-42v2m0 2v2m0 3v3m0 2v2m0 1v2m0 2v1m0 5v1m0 5v2m1-43v1m0 1v1m0 1v1m0 3v2m0 1v1m0 6v2m0 2v2m0 2v1m0 2v1m0 3v1m1-34v1m0 4v2m0 2v1m0 1v3m0 1v1m0 5v2m0 7v2m1-32v1m0 3v1m0 4v3m0 2v2m0 6v2m0 1v2m0 2v1m0 14v1m0 3v1m1-49v1m0 2v1m0 1v2m0 1v3m0 4v3m0 2v1m0 3v1m0 4v2m0 1v1m1-25v1m0 1v4m0 2v1m0 1v1m0 6v1m0 1v1m0 1v1m0 3v1m0 4v1m0 6v1m1-43v2m0 1v2m0 2v1m0 8v3m0 2v3m0 2v1m0 3v1m0 1v1m0 9v1m1-41v1m0 1v2m0 3v2m0 1v1m0 1v1m0 3v1m0 4v1m0 2v1m0 16v1m1-47v1m0 2v3m0 2v1m0 3v2m0 2v3m0 2v2m0 1v1m0 1v2m0 3v2m0 6v2m0 5v1m1-46v1m0 6v2m0 1v1m0 5v1m0 1v1m0 3v3m0 1v1m0 8v1m0 7v1m1-45v1m0 3v1m0 1v1m0 3v2m0 1v6m0 1v1m0 11v2m0 14v1m1-49v1m0 1v1m0 1v3m0 4v2m0 2v2m0 1v1m0 2v1m0 5v1m0 1v1m0 7v1m1-35v3m0 8v1m0 10v2m0 4v1m0 2v1m0 2v2m0 2v1m1-41v1m0 2v1m0 8v1m0 6v1m0 2v3m0 11v2m0 7v1m1-46v1m0 7v1m0 2v1m0 8v1m0 2v1m0 1v1m0 8v1m0 11v1m1-46v2m0 1v1m0 3v2m0 4v1m0 3v1m0 5v2m0 1v1m0 2v1m0 7v1m1-39v1m0 3v1m0 1v1m0 1v2m0 1v1m0 2v1m0 5v1m0 1v1m0 1v2m0 1v1m0 10v2m1-40v1m0 2v1m0 3v1m0 1v1m0 3v2m0 1v1m0 3v1m0 2v1m0 3v1m0 4v1m0 4v1m1-38v1m0 2v1m0 1v1m0 3v1m0 1v1m0 2v2m0 1v1m0 1v2m0 1v1m0 3v1m0 3v1m1-21v2m0 5v2m0 3v1m0 3v1m0 8v1m0 1v1m1-38v1m0 3v1m0 6v1m0 1v1m0 1v1m0 6v2m0 10v1m0 11v1m1-44v3m0 1v3m0 1v1m0 1v1m0 1v1m0 2v1m0 1v2m0 2v1m0 1v1m0 8v1m0 12v1m1-49v1m0 6v1m0 2v1m0 1v1m0 1v1m0 1v1m0 6v3m0 7v2m0 7v1m1-41v2m0 9v1m0 1v1m0 1v1m0 2v3m0 6v1m0 5v1m1-32v5m0 1v1m0 3v1m0 4v3m0 2v2m0 1v1m0 1v1m0 14v1m1-42v1m0 2v1m0 1v1m0 1v1m0 1v1m0 6v1m0 6v1m0 1v1m0 3v1m1-33v1m0 8v1m0 2v1m0 1v3m0 10v1m1-29v1m0 1v1m0 9v1m0 1v1m0 8v2m0 3v1m0 7v1m0 4v1m1-34v1m0 2v1m0 2v1m0 3v1m0 1v2m0 1v4m0 4v2m0 2v1m1-31v4m0 1v1m0 2v6m0 2v1m0 6v1m0 14v1m1-35v1m0 1v2m0 2v1m0 2v2m0 14v1m1-34v1m0 1v1m0 1v1m0 2v1m0 4v1m0 1v1m0 6v1m0 1v2m0 1v1m0 3v1m0 2v1m0 2v2m0 3v1m0 5v1m1-48v1m0 5v1m0 5v1m0 2v2m0 1v1m0 3v1m0 1v3m0 4v2m0 10v1m1-35v1m0 2v1m0 2v2m0 4v2m0 2v1m0 2v1m0 3v1m1-31v1m0 9v1m0 1v2m0 4v1m0 1v1m0 6v2m0 5v2m0 4v1m0 5v1m1-47v1m0 3v1m0 5v2m0 1v3m0 1v1m0 3v1m0 5v2m1-30v1m0 3v1m0 2v1m0 1v1m0 2v1m0 2v1m0 3v1m0 1v1m0 4v1m0 3v1m0 1v1m0 7v1m0 3v2m1-43v1m0 1v1m0 6v1m0 1v4m0 1v1m0 11v1m0 9v1m0 5v1m1-49v2m0 7v1m0 7v1m0 7v2m0 6v2m0 2v1m0 6v1m0 3v1m1-49v1m0 3v1m0 2v2m0 3v1m0 3v1m0 3v2m0 7v1m0 1v2m0 1v1m0 1v1m1-31v1m0 6v2m0 2v1m0 1v3m0 1v1m0 3v1m1-26v3m0 3v4m0 1v1m0 4v1m0 1v2m0 2v2m0 3v1m0 2v1m0 1v1m1-32v2m0 3v1m0 1v1m0 3v2m0 1v1m0 9v1m0 13v2m1-43v1m0 8v1m0 2v1m0 2v1m0 5v1m0 2v1m0 2v1m0 13v1m0 6v1m1-45v1m0 7v1m0 1v2m0 2v1m0 2v2m0 2v1m0 2v1m0 1v1m0 7v2m0 5v1m1-42v1m0 1v1m0 3v1m0 5v2m0 2v2m0 4v2m0 4v2m0 12v1m0 1v1m1-48v1m0 1v1m0 10v1m0 2v1m0 2v2m0 6v1m0 1v1m0 7v1m1-39v1m0 4v1m0 4v1m0 2v4m0 2v1m0 1v2m0 7v1m0 3v1m0 3v1m0 2v1m1-41v1m0 1v1m0 1v1m0 6v1m0 1v1m0 9v1m0 1v1m0 6v1m0 5v1m0 3v1m1-36v3m0 6v2m0 1v2m0 1v1m0 1v1m0 1v1m0 2v1m0 1v1m0 2v1m0 1v1m0 2v2m0 5v1m1-49v1m0 4v1m0 4v1m0 2v2m0 1v3m0 3v2m0 1v1m0 1v1m0 1v6m0 14v1m1-41v1m0 2v1m0 6v1m0 11v1m0 5v1m0 2v1m0 3v2m0 2v1m1-41v1m0 1v2m0 6v1m0 1v1m0 2v2m0 2v1m0 1v1m0 6v1m0 6v1m1-40v1m0 1v1m0 1v1m0 2v1m0 4v1m0 1v1m0 1v2m0 1v1m0 2v2m0 9v1m1-37v1m0 6v1m0 5v1m0 5v3m0 2v2m0 7v2m0 7v1m1-39v1m0 2v1m0 4v2m0 4v1m0 2v1m0 2v2m0 6v1m0 14v1m1-45v1m0 2v1m0 4v1m0 2v1m0 2v2m0 8v1m0 1v1m0 1v1m0 2v1m0 9v1m1-43v2m0 3v1m0 4v1m0 4v1m0 5v1m0 6v1m0 3v2m0 6v1m1-36v1m0 5v1m0 1v1m0 3v2m0 8v2m0 10v1m0 1v2m1-39v1m0 1v3m0 2v1m0 3v1m0 1v2m0 1v1m0 2v1m0 2v1m0 3v1m0 4v1m0 2v2m0 4v2m1-49v2m0 3v1m0 2v1m0 1v1m0 1v1m0 2v1m0 1v2m0 3v1m0 8v2m0 8v1m0 3v1m1-39v1m0 7v1m0 2v1m0 1v3m0 1v1m0 2v2m0 7v1m0 11v1m1-43v2m0 1v2m0 11v1m0 1v1m0 8v1m0 6v1m1-33v1m0 11v2m0 1v1m0 1v1m0 8v2m0 1v1m0 3v1m1-34v1m0 2v1m0 4v2m0 6v1m0 7v1m0 1v2m0 7v1m0 4v1m1-49v1m0 9v1m0 3v2m0 2v2m0 7v1m0 8v1m0 4v2m0 5v1m1-40v2m0 1v4m0 1v1m0 4v1m0 1v2m0 1v1m0 1v2m0 1v1m0 1v1m0 4v1m0 1v1m0 1v1m1-43v1m0 8v1m0 6v4m0 2v1m0 2v1m0 4v2m0 3v1m0 1v1m0 1v1m0 8v1m1-45v2m0 2v1m0 2v1m0 2v2m0 3v1m0 6v1m0 3v1m0 4v1m0 3v1m0 2v3m0 3v1m1-45v2m0 5v1m0 8v1m0 1v2m0 2v1m0 1v1m0 6v1m0 4v1m0 2v1m1-39v2m0 3v1m0 6v1m0 4v1m0 4v1m0 3v1m0 4v1m0 1v1m1-32v1m0 9v1m0 5v1m0 1v2m0 1v2m0 1v1m0 1v3m0 9v1m1-45v1m0 2v1m0 1v1m0 1v1m0 2v2m0 3v3m0 1v3m0 2v2m0 2v2m0 1v1m0 4v1m0 9v1m1-48v1m0 13v1m0 4v1m0 2v1m0 5v1m0 3v1m0 1v1m0 5v1m1-41v1m0 9v1m0 1v2m0 10v2m0 3v1m0 2v2m0 1v2m0 2v1m0 2v1m1-42v1m0 5v1m0 3v2m0 3v1m0 2v1m0 4v3m0 6v1m0 11v1m1-45v1m0 7v2m0 4v1m0 1v2m0 2v1m0 3v3m0 15v2m1-45v1m0 14v2m0 3v1m0 1v1m0 2v1m0 1v3m0 1v1m0 9v2m0 2v1m0 1v2m1-46v1m0 3v2m0 2v2m0 5v1m0 2v1m0 1v1m0 2v2m0 3v2m0 2v2m0 1v1m0 1v1m0 7v1m1-43v1m0 1v1m0 2v1m0 2v2m0 1v1m0 1v1m0 2v1m0 2v2m0 3v1m0 9v1m1-39v1m0 9v2m0 3v1m0 1v4m0 1v1m0 4v1m0 9v1m0 7v2m1-43v4m0 6v1m0 1v1m0 2v3m0 4v1m0 1v2m0 1v1m0 1v1m0 11v1m1-39v1m0 1v2m0 3v1m0 2v2m0 1v2m0 1v1m0 3v1m0 1v2m0 15v1m1-40v1m0 5v1m0 1v1m0 1v3m0 5v2m0 1v4m0 1v1m0 3v1m1-37v1m0 5v2m0 1v2m0 2v1m0 2v1m0 1v1m0 4v1m0 4v1m0 9v1m0 2v1m0 2v1m1-47v1m0 11v3m0 1v1m0 2v2m0 4v1m0 2v2m0 1v1m0 1v1m0 9v1m0 2v1m1-40v4m0 4v1m0 2v1m0 1v1m0 5v1m0 5v1m0 1v3m0 5v2m1-41v1m0 4v1m0 11v1m0 4v1m0 1v1m0 1v2m0 4v1m0 9v2m1-49v1m0 7v2m0 7v2m0 8v1m0 4v1m0 3v1m0 1v1m0 3v1m0 3v2m0 1v1m1-43v1m0 3v1m0 5v1m0 1v2m0 2v3m0 1v1m0 3v1m0 1v1m0 1v1m0 1v1m1-28v1m0 5v1m0 3v1m0 1v1m0 3v3m0 3v1m0 8v1m0 5v1m0 1v1m1-37v1m0 1v1m0 4v3m0 3v4m0 1v3m0 7v2m0 3v1m0 1v2m1-48v1m0 3v1m0 1v1m0 2v1m0 3v1m0 3v1m0 1v3m0 1v2m0 4v3m0 5v1m0 1v1m0 1v2m1-40v3m0 2v1m0 3v2m0 2v1m0 2v1m0 3v1m0 1v2m0 1v1m0 1v1m0 5v1m0 1v2m0 1v3m0 3v1m1-47v1m0 4v1m0 1v1m0 3v1m0 2v3m0 4v1m0 5v1m0 3v3m0 2v1m0 7v1m0 1v1m1-49v1m0 3v1m0 10v2m0 2v1m0 2v1m0 2v1m0 2v1m0 3v1m0 1v2m0 8v1m0 2v2m1-43v1m0 6v2m0 3v1m0 1v1m0 1v1m0 6v2m0 1v1m0 4v1m0 3v2m0 1v5m1-43v1m0 3v1m0 6v2m0 4v1m0 7v1m0 3v2m0 6v2m0 2v2m1-47v1m0 5v1m0 3v2m0 1v1m0 2v5m0 5v1m0 1v1m0 1v1m0 2v1m0 5v1m0 1v1m0 3v1m1-37v1m0 1v2m0 16v2m0 3v1m0 1v1m0 4v1m0 2v1m0 1v1m1-45v2m0 2v1m0 2v1m0 5v1m0 2v2m0 12v1m1-36v1m0 7v1m0 5v1m0 3v1m0 1v1m0 4v3m0 2v1m0 1v1m0 11v1m1-36v1m0 5v1m0 1v1m0 1v1m0 4v1m0 2v3m0 6v2m0 1v1m0 1v2m1-40v1m0 2v1m0 4v1m0 11v2m0 2v2m0 1v1m0 2v1m0 3v1m0 1v2m0 3v2m0 2v2m1-41v1m0 2v1m0 1v1m0 10v1m0 4v2m0 1v1m0 6v1m0 1v1m0 2v1m1-43v1m0 3v1m0 4v1m0 6v2m0 1v1m0 1v2m0 3v2m0 1v1m0 6v1m0 4v1m0 1v1m1-47v1m0 3v1m0 5v1m0 1v2m0 4v2m0 6v1m0 1v2m0 7v1m0 2v1m0 2v1m0 1v2m0 1v1m1-35v1m0 1v1m0 3v3m0 3v3m0 3v1m0 4v1m0 1v2m0 1v1m1-35v2m0 7v1m0 1v2m0 1v2m0 4v1m0 1v1m0 3v4m0 11v1m1-42v2m0 2v2m0 7v1m0 3v1m0 1v1m0 1v1m0 6v1m0 3v1m0 1v3m1-39v1m0 2v1m0 1v1m0 8v1m0 1v1m0 3v1m0 2v1m0 2v1m0 3v1m0 2v1m0 2v1m0 1v1m1-41v1m0 2v1m0 1v1m0 4v3m0 1v1m0 1v2m0 1v1m0 2v1m0 5v4m0 3v2m0 1v1m0 4v1m1-41v1m0 6v1m0 2v1m0 3v1m0 2v1m0 2v1m0 2v6m0 2v3m0 1v1m0 4v1m0 1v1m1-48v1m0 10v1m0 1v1m0 4v2m0 5v3m0 1v3m0 1v1m0 1v2m0 4v2m0 4v1m1-48v2m0 6v1m0 2v2m0 2v1m0 2v2m0 2v1m0 1v1m0 6v1m0 2v2m0 4v1m0 1v1m0 2v2m1-33v1m0 2v1m0 4v1m0 2v3m0 2v1m0 4v2m0 4v1m0 1v1m0 1v1m1-40v1m0 6v1m0 7v1m0 2v3m0 5v1m0 1v2m0 2v1m0 2v1m0 1v3m0 1v1m1-42v3m0 8v2m0 4v1m0 2v1m0 2v1m0 2v3m0 3v1m0 1v1m0 1v1m0 3v1m1-49v1m0 5v1m0 5v1m0 2v1m0 3v3m0 1v1m0 1v1m0 2v1m0 1v1m0 1v1m0 3v1m0 1v3m0 3v2m1-39v2m0 5v2m0 5v1m0 1v1m0 2v1m0 1v3m0 1v2m0 3v1m0 3v1m0 4v1m0 2v1m1-43v1m0 2v1m0 3v2m0 1v1m0 6v1m0 1v2m0 3v1m0 2v1m0 1v1m0 3v1m0 6v1m1-41v1m0 3v2m0 9v2m0 4v1m0 1v2m0 3v1m0 5v1m0 1v1m0 1v1m0 1v1m1-37v2m0 8v3m0 1v2m0 1v1m0 1v1m0 3v1m0 1v2m0 1v1m0 1v1m0 7v1m1-50v2m0 6v1m0 6v3m0 1v1m0 4v2m0 2v1m0 4v2m0 2v3m0 3v2m0 1v2m1-29v1m0 11v1m0 2v1m0 7v1m0 4v1m1-35v1m0 5v2m0 2v3m0 2v1m0 1v1m0 1v1m0 1v1m0 2v1m0 2v1m0 2v1m1-36v2m0 5v1m0 1v1m0 1v1m0 3v1m0 2v4m0 1v1m0 1v2m0 1v2m0 2v1m0 2v1m0 3v3m1-43v1m0 4v1m0 6v1m0 5v1m0 1v1m0 11v2m0 2v5m1-38v1m0 1v1m0 3v1m0 4v1m0 3v1m0 4v2m0 1v1m0 3v1m0 2v1m0 4v2m1-42v1m0 6v1m0 3v1m0 3v2m0 1v1m0 1v1m0 1v1m0 2v3m0 8v2m0 3v2m0 1v1m1-47v1m0 4v1m0 3v1m0 1v2m0 1v2m0 10v2m0 7v3m1-25v1m0 4v1m0 1v2m0 1v1m0 2v1m0 2v1m0 1v1m0 3v1m0 4v1m0 2v1m1-44v1m0 3v1m0 5v1m0 1v3m0 1v1m0 4v3m0 6v2m0 5v1m0 1v1m0 2v1m0 3v1m1-44v1m0 8v1m0 3v1m0 1v1m0 4v1m0 3v2m0 2v1m0 3v3m0 2v1m0 1v1m1-42v1m0 2v1m0 1v1m0 11v3m0 5v1m0 3v1m0 3v3m0 1v1m0 5v1m0 1v1m1-49v1m0 1v1m0 18v1m0 4v1m0 2v1m0 2v1m0 1v4m0 2v1m0 2v2m1-39v1m0 5v3m0 6v1m0 1v1m0 2v3m0 5v1m0 1v2m0 2v3m1-40v1m0 3v1m0 4v1m0 3v1m0 3v1m0 1v1m0 13v1m0 2v1m0 3v3m0 1v1m1-39v1m0 8v1m0 4v1m0 2v1m0 3v1m0 2v1m0 8v2m0 1v1m0 1v1m1-36v2m0 2v1m0 6v1m0 1v1m0 2v1m0 3v1m0 3v1m0 5v1m0 1v3m0 1v1m1-44v1m0 7v2m0 1v1m0 4v5m0 5v1m0 1v1m0 2v1m0 1v1m0 4v2m0 1v1m1-47v1m0 14v2m0 4v1m0 1v1m0 2v1m0 1v1m0 1v1m0 2v1m0 6v1m0 3v2m0 2v1m1-38v1m0 6v1m0 3v1m0 9v1m0 2v5m0 3v2m0 3v1m1-35v3m0 6v2m0 3v2m0 1v1m0 3v1m0 4v2m0 1v2m0 1v1m1-45v1m0 8v1m0 9v2m0 4v1m0 1v3m0 1v3m0 3v1m0 1v1m0 2v2m0 2v1m1-42v1m0 10v1m0 4v5m0 5v3m0 2v2m0 3v1m0 4v1m1-50v3m0 14v2m0 1v1m0 8v1m0 4v2m0 2v3m0 1v1m0 5v2m1-45v1m0 1v1m0 11v1m0 12v1m0 1v3m0 1v1m0 2v1m0 3v2m1-34v2m0 11v1m0 6v1m0 1v1m0 2v1m0 7v1m0 1v1m1-47v1m0 2v3m0 3v1m0 3v1m0 5v1m0 6v1m0 2v2m0 1v1m0 1v1m0 2v2m0 2v2m0 1v1m1-43v2m0 8v1m0 1v1m0 1v1m0 11v1m0 1v1m0 1v1m0 2v1m0 1v1m0 1v1m0 1v1m0 1v1m0 3v1m1-34v1m0 6v3m0 6v1m0 6v2m0 1v1m0 1v3m0 1v1m1-39v1m0 8v1m0 3v2m0 3v2m0 1v1m0 4v1m0 3v1m0 5v1m0 2v1m1-31v1m0 1v1m0 1v1m0 4v1m0 2v2m0 2v1m0 2v1m0 3v3m0 2v1m1-38v1m0 4v3m0 5v1m0 10v1m0 1v1m0 3v1m0 4v1m1-38v3m0 4v1m0 21v3m0 3v2m0 1v1m0 1v1m1-43v2m0 14v1m0 1v1m0 5v2m0 3v1m0 1v1m0 6v1m0 3v1m1-31v2m0 2v1m0 7v1m0 2v1m0 1v1m0 4v1m0 2v1m0 2v1m1-45v1m0 8v1m0 3v1m0 5v1m0 1v1m0 8v2m0 1v2m0 1v2m0 9v1m1-43v1m0 1v1m0 8v1m0 3v3m0 2v2m0 2v1m0 2v2m0 2v1m0 1v1m0 3v1m0 2v1m0 1v1m1-40v1m0 1v1m0 3v2m0 3v1m0 3v1m0 1v2m0 4v1m0 2v1m0 1v1m0 5v1m1-39v1m0 1v3m0 5v2m0 7v1m0 1v4m0 5v1m0 5v1m0 2v3m0 1v1m1-42v1m0 16v1m0 9v2m0 3v1m1-38v1m0 2v1m0 1v1m0 13v1m0 7v1m0 1v2m0 1v3m0 1v2m0 3v2m1-41v2m0 8v2m0 2v1m0 3v3m0 1v1m0 6v3m0 2v1m0 1v1m0 4v3m1-40v2m0 6v3m0 7v1m0 2v2m0 9v3m0 1v1m0 1v3m1-48v1m0 10v2m0 4v1m0 1v2m0 7v1m0 1v1m0 2v2m0 6v1m0 1v2m0 1v1m1-35v1m0 1v1m0 12v3m0 2v2m0 1v2m0 1v1m0 1v1m0 1v1m1-40v1m0 14v1m0 6v1m0 1v3m0 8v1m0 4v2m0 2v1m1-40v1m0 7v1m0 3v1m0 6v1m0 3v1m0 2v1m0 2v1m0 1v3m0 1v2m1-20v1m0 7v2m0 4v2m0 1v1m0 1v1m0 1v1m1-45v1m0 10v1m0 2v1m0 3v1m0 15v1m0 2v5m0 3v1m1-50v1m0 7v1m0 12v1m0 1v1m0 9v1m0 2v1m0 1v1m0 4v5m0 1v1m1-42v1m0 19v1m0 5v1m0 2v1m0 1v3m0 4v4m1-48v1m0 17v2m0 1v1m0 1v2m0 1v1m0 3v2m0 6v1m0 1v1m0 6v1m1-46v1m0 9v1m0 6v1m0 4v1m0 2v1m0 1v2m0 2v1m0 8v1m1-40v1m0 4v1m0 5v1m0 4v1m0 4v1m0 5v1m0 1v1m0 4v2m0 4v1m0 3v1m1-47v2m0 5v2m0 9v1m0 4v2m0 2v2m0 1v1m0 2v1m0 4v1m0 4v1m1-30v1m0 9v1m0 1v1m0 2v1m0 6v1m0 5v2m0 1v1m1-49v1m0 7v1m0 12v1m0 1v1m0 1v2m0 4v2m0 3v1m0 1v4m0 2v1m0 1v1m0 2v1m1-29v2m0 4v1m0 1v1m0 2v2m0 4v4m0 2v1m0 1v1m1-47v1m0 2v1m0 11v1m0 13v1m0 2v1m0 6v2m0 2v2m0 2v1m1-48v1m0 11v2m0 12v1m0 4v2m0 5v3m1-39v1m0 1v1m0 5v1m0 3v1m0 2v1m0 18v1m0 1v1m0 5v1m0 1v2m0 1v1m1-41v1m0 4v1m0 2v3m0 2v1m0 8v1m0 1v1m0 3v1m0 1v1m0 4v1m0 2v1m1-32v1m0 1v1m0 1v2m0 2v1m0 7v1m0 1v1m0 13v2m1-50v1m0 2v2m0 11v2m0 6v1m0 10v1m0 1v2m0 7v3m1-46v1m0 10v1m0 6v1m0 2v1m0 2v1m0 2v2m0 1v2m0 2v3m0 5v1m0 1v1m0 1v1m1-44v1m0 4v1m0 5v1m0 1v1m0 6v1m0 1v1m0 1v1m0 1v1m0 1v2m0 1v2m0 1v1m0 7v1m1-48v1m0 3v1m0 3v2m0 2v1m0 4v1m0 3v1m0 2v1m0 1v2m0 2v1m0 4v1m0 3v1m0 1v1m0 4v1m1-35v1m0 10v1m0 7v1m0 3v1m0 1v1m0 4v1m0 4v1m1-36v1m0 4v1m0 1v1m0 5v1m0 3v1m0 1v1m0 9v2m0 3v1m1-47v1m0 4v1m0 2v1m0 7v2m0 1v3m0 8v1m0 4v1m0 1v5m0 1v1m0 1v2m1-39v1m0 7v1m0 1v1m0 2v1m0 9v1m0 5v3m0 1v1m0 2v1m0 1v1m0 1v1m1-42v2m0 2v1m0 10v1m0 1v1m0 8v1m0 1v1m0 2v1m0 1v2m0 3v1m1-34v1m0 10v2m0 1v1m0 2v1m0 2v2m0 9v1m0 1v1m1-43v1m0 20v1m0 2v3m0 2v1m0 4v1m0 3v1m0 1v2m0 2v2m1-39v1m0 1v1m0 2v1m0 2v1m0 2v1m0 3v1m0 2v1m0 6v1m0 3v1m0 1v1m0 3v1m0 1v1m1-45v1m0 13v1m0 2v1m0 6v1m0 4v2m0 5v1m0 1v1m0 3v1m1-30v1m0 3v1m0 1v1m0 2v2m0 1v1m0 1v1m0 5v1m0 2v3m0 6v1m1-45v1m0 4v1m0 11v1m0 9v3m0 2v1m0 11v1m1-38v1m0 3v1m0 2v1m0 6v1m0 9v2m0 1v1m0 2v1m0 5v1m1-45v1m0 1v2m0 7v1m0 9v1m0 2v1m0 6v1m0 11v1m0 1v1m1-47v1m0 16v1m0 6v2m0 4v2m0 6v1m0 3v1m0 3v1m1-39v1m0 5v1m0 1v1m0 4v1m0 1v4m0 1v1m0 10v1m0 4v1m1-43v1m0 6v1m0 11v1m0 1v1m0 1v1m0 5v1m0 1v1m0 2v1m0 5v3m1-32v1m0 2v1m0 2v1m0 4v1m0 2v3m0 1v1m0 1v1m0 3v2m0 5v1m1-30v1m0 5v2m0 5v2m0 3v1m0 2v1m0 5v1m0 3v1m1-44v1m0 6v1m0 2v1m0 3v1m0 1v1m0 1v1m0 4v1m0 5v1m0 2v1m0 1v1m0 2v1m0 1v1m1-45v1m0 3v1m0 3v1m0 3v1m0 11v1m0 10v1m0 7v1m0 4v1m1-39v1m0 7v1m0 9v1m0 1v1m0 6v1m0 1v1m0 1v1m0 4v1m0 1v1m1-45v1m0 5v1m0 9v1m0 6v5m0 3v1m0 10v1m1-42v1m0 4v1m0 4v1m0 5v2m0 4v1m0 1v1m0 2v2m0 8v1m0 5v1m1-46v1m0 9v2m0 1v1m0 2v1m0 6v2m0 4v1m0 2v2m0 1v4m0 3v1m1-40v1m0 3v1m0 7v1m0 3v1m0 6v1m0 1v1m0 2v1m0 5v2m0 1v1m0 4v1m1-42v1m0 4v1m0 11v1m0 1v2m0 3v2m0 4v1m0 3v2m0 5v1m1-37v1m0 1v1m0 9v1m0 2v1m1-29v1m0 7v1m0 1v1m0 4v1m0 2v1m0 10v1m0 1v1m0 2v2m0 3v1m0 2v1m0 6v1m1-46v1m0 1v1m0 2v3m0 1v1m0 2v2m0 4v1m0 1v2m0 3v1m0 5v1m0 1v2m0 2v1m0 1v1m0 1v1m0 3v1m1-31v1m0 1v1m0 4v1m0 3v1m0 4v1m0 5v1m0 2v2m0 1v1m1-36v1m0 1v1m0 2v1m0 7v1m0 1v2m0 10v1m0 6v1m1-38v1m0 21v2m0 6v1m1-38v1m0 14v1m0 5v3m0 3v1m0 5v1m0 3v1m0 1v1m0 3v1m1-33v1m0 2v1m0 1v1m0 1v1m0 6v1m0 1v2m0 15v1m0 1v1m1-42v1m0 1v1m0 10v1m0 2v1m0 7v1m0 3v1m0 4v1m0 2v1m1-24v3m0 3v1m0 3v1m0 9v1m0 2v1m0 3v1m0 1v1m1-38v1m0 1v1m0 3v2m0 4v1m0 6v1m0 1v4m0 5v1m0 5v1m1-42v1m0 9v2m0 4v1m0 9v1m0 3v1m0 2v3m0 2v1m1-43v1m0 11v1m0 1v1m0 2v1m0 9v1m0 11v1m0 5v1m1-49v1m0 9v1m0 2v1m0 6v1m0 13v1m0 1v1m0 9v1m0 1v2m1-49v1m0 2v1m0 3v1m0 1v1m0 1v1m0 10v2m0 6v1m0 12v1m1-43v1m0 2v1m0 2v1m0 9v1m0 11v2m0 2v1m0 1v3m0 6v1m1-38v1m0 5v1m0 5v1m0 4v1m0 2v3m0 11v2m0 3v2m1-48v1m0 9v1m0 6v1m0 1v1m0 2v1m0 3v1m0 1v1m0 4v1m0 2v1m0 7v1m1-37v1m0 1v2m0 1v1m0 5v1m0 5v1m0 4v1m0 4v1m0 5v1m0 6v1m1-47v3m0 2v1m0 8v1m0 1v1m0 3v3m0 1v1m0 3v1m0 4v1m0 2v2m0 5v2m1-41v3m0 14v1m0 6v1m0 1v1m0 7v2m0 2v2m0 1v1m1-44v1m0 6v1m0 6v1m0 2v1m0 7v1m0 1v1m0 1v1m0 3v2m0 1v1m0 1v1m0 2v2m1-38v1m0 4v3m0 8v1m0 3v1m0 2v1m0 4v3m0 2v1m0 3v2m1-48v1m0 18v1m0 4v1m0 4v3m0 9v1m0 1v1m0 1v1m0 1v2m1-47v2m0 12v1m0 7v1m0 8v1m0 1v2m0 3v2m0 6v1m1-47v1m0 2v1m0 10v1m0 5v2m0 2v1m0 8v1m0 1v1m0 2v1m0 1v1m0 1v2m0 2v1m1-36v2m0 7v1m0 2v1m0 2v1m0 7v1m0 4v1m0 3v2m0 1v1m1-44v1m0 3v1m0 11v3m0 5v1m0 1v2m0 1v3m0 9v1m0 1v1m1-49v2m0 5v1m0 11v1m0 3v2m0 1v1m0 1v1m0 10v1m0 1v1m0 3v2m1-32v1m0 5v1m0 3v1m0 3v1m0 8v3m0 3v1m0 2v1m1-37v2m0 6v1m0 4v1m0 2v1m0 8v2m1-36v1m0 4v1m0 5v2m0 9v1m0 1v2m0 1v2m0 2v2m0 6v1m0 3v1m1-47v1m0 6v1m0 5v1m0 7v1m0 1v1m0 14v1m0 1v1m0 2v1m0 3v1m1-35v1m0 2v1m0 7v1m0 5v1m0 3v1m0 2v1m0 5v1m1-42v1m0 7v1m0 5v2m0 4v1m0 11v3m0 2v1m1-36v2m0 4v1m0 7v1m0 3v1m0 20v1m0 3v1m0 1v1m1-41v1m0 9v1m0 1v1m0 5v1m0 2v1m0 2v1m0 5v1m0 5v2m1-38v1m0 2v1m0 3v1m0 3v2m0 2v1m0 1v1m0 13v1m0 1v1m1-42v1m0 3v1m0 3v1m0 5v1m0 2v2m0 4v1m0 5v1m0 2v2m0 1v2m0 1v1m0 2v2m0 3v2m1-39v1m0 10v1m0 3v1m0 6v1m0 4v1m0 4v1m1-43v2m0 3v1m0 14v1m0 6v1m0 6v1m0 2v1m0 3v1m0 5v1m1-30v1m0 7v1m0 3v2m0 1v1m0 1v1m0 1v1m0 3v1m0 4v1m0 2v1m1-48v1m0 1v1m0 13v1m0 6v1m0 2v2m0 16v2m1-48v1m0 3v1m0 3v1m0 3v1m0 2v1m0 5v2m0 4v1m0 5v1m0 2v1m0 6v2m0 3v1m1-47v1m0 4v1m0 7v1m0 4v1m0 3v1m0 11v1m0 10v1m1-28v1m0 3v1m0 6v1m0 1v2m0 2v1m0 4v1m1-35v2m0 13v1m0 7v1m0 4v5m0 7v2m1-36v1m0 1v1m0 1v1m0 19v2m0 1v1m1-38v1m0 1v1m0 2v1m0 5v2m0 6v2m0 2v1m0 1v1m0 5v1m0 1v1m0 6v2m0 3v1m1-47v1m0 2v1m0 5v3m0 7v1m0 6v2m0 1v1m0 5v1m0 2v2m0 3v1m1-35v1m0 1v1m0 10v1m0 5v2m0 13v1m1-41v1m0 16v1m0 2v2m0 6v1m0 1v1m0 7v1m0 2v2m1-33v1m0 1v1m0 1v1m0 2v1m0 1v1m0 8v1m0 1v5m0 4v1m0 2v1m1-43v1m0 7v1m0 1v1m0 3v1m0 3v1m0 1v1m0 9v1m0 2v1m0 1v3m0 4v1m1-47v1m0 1v1m0 2v1m0 17v3m0 3v1m0 3v2m0 3v1m0 4v1m0 2v1m1-33v1m0 4v1m0 1v2m0 2v1m0 4v1m0 3v1m0 1v1m0 6v1m1-42v1m0 14v3m0 2v1m0 1v1m0 2v2m0 8v3m0 4v1m1-43v1m0 4v1m0 2v1m0 4v2m0 1v1m0 4v3m0 3v1m0 2v1m0 6v1m0 6v1m1-44v1m0 4v2m0 5v1m0 2v1m0 8v1m0 1v1m0 2v2m0 1v1m0 7v2m1-28v1m0 1v1m0 1v1m0 5v2m0 9v3m0 4v1m0 1v1m1-42v1m0 2v1m0 8v1m0 5v1m0 3v2m0 1v3m0 8v1m0 2v2m1-44v1m0 8v1m0 6v1m0 3v1m0 4v1m0 5v1m0 1v1m0 2v1m0 1v1m0 3v1m1-35v1m0 5v1m0 10v1m0 4v1m0 2v2m0 1v1m0 1v3m0 1v2m1-49v1m0 8v1m0 2v1m0 2v1m0 2v1m0 8v1m0 2v1m0 1v1m0 2v2m0 2v2m0 3v1m0 2v1m1-43v1m0 5v1m0 8v1m0 3v1m0 10v2m0 4v1m0 5v1m1-38v1m0 5v1m0 3v1m0 7v1m0 7v1m0 2v1m0 4v1m0 1v2m1-39v2m0 10v1m0 2v2m0 4v1m0 1v1m0 6v1m0 4v1m0 1v1m1-45v1m0 2v1m0 8v1m0 2v1m0 6v3m0 2v1m0 5v2m0 7v2m0 2v1m1-42v3m0 4v1m0 3v1m0 2v1m0 2v1m0 7v1m0 1v2m0 1v1m0 4v1m0 1v2m0 1v1m1-42v2m0 1v1m0 1v1m0 2v1m0 2v4m0 1v1m0 2v1m0 7v1m0 2v1m1-31v1m0 5v1m0 5v1m0 8v2m0 8v1m0 2v1m0 2v1m0 5v1m1-39v1m0 3v3m0 8v1m0 2v2m0 6v1m0 4v2m1-44v1m0 8v1m0 3v1m0 5v1m0 3v5m0 2v1m0 1v1m0 5v2m0 2v1m0 1v2m0 1v2m1-44v1m0 1v1m0 3v1m0 3v2m0 4v2m0 10v1m0 3v2m0 2v1m0 3v1m1-32v1m0 6v1m0 5v1m0 4v1m0 1v1m0 4v1m0 4v1m1-33v1m0 3v3m0 5v1m0 1v1m0 3v1m0 1v1m0 4v1m0 1v1m0 1v3m1-41v1m0 2v1m0 3v1m0 1v1m0 4v1m0 12v1m0 3v2m0 1v2m0 5v1m0 2v1m1-46v1m0 14v1m0 2v1m0 5v1m0 2v1m0 1v1m0 7v1m0 1v1m0 2v1m1-43v2m0 4v1m0 2v1m0 1v1m0 1v1m0 6v2m0 11v2m0 1v2m1-34v1m0 5v2m0 2v3m0 6v2m0 3v2m0 4v2m0 1v1m0 4v1m0 3v2m1-40v2m0 1v1m0 1v1m0 1v1m0 7v1m0 1v1m0 1v4m0 2v2m0 1v2m0 3v1m0 1v1m0 1v3m1-49v1m0 8v1m0 6v1m0 7v1m0 6v1m0 6v1m0 1v1m0 2v2m0 2v2m1-50v1m0 6v1m0 8v1m0 6v1m0 2v1m0 1v2m0 7v1m0 1v1m0 2v1m0 2v3m1-40v1m0 3v1m0 1v3m0 1v2m0 12v2m0 6v1m0 4v1m0 2v1m1-28v1m0 1v2m0 2v1m0 2v1m0 4v1m0 6v1m0 2v1m1-40v1m0 8v2m0 4v1m0 1v1m0 2v1m0 9v1m0 1v1m0 4v3m0 1v1m1-40v2m0 1v1m0 5v2m0 6v1m0 1v1m0 1v2m0 1v1m0 4v2m0 4v1m0 1v1m0 3v1m1-45v1m0 3v1m0 8v1m0 1v1m0 9v1m0 1v1m0 5v2m0 2v3m0 2v1m1-46v1m0 17v2m0 11v1m0 2v1m0 2v2m0 1v1m0 1v1m1-42v1m0 8v2m0 3v1m0 1v1m0 5v3m0 1v1m0 5v1m0 1v1m0 6v1m0 1v1m0 1v1m1-42v1m0 1v1m0 1v1m0 3v1m0 3v1m0 1v1m0 3v1m0 1v1m0 2v1m0 2v1m0 3v1m0 3v1m0 3v1m0 1v1m0 1v1m1-36v1m0 2v1m0 10v1m0 2v1m0 2v1m0 2v1m0 1v1m0 1v1m0 3v1m0 2v1m1-46v1m0 6v1m0 6v1m0 3v1m0 6v1m0 1v3m0 4v1m0 1v1m0 1v2m0 2v1m0 3v1m1-47v1m0 6v1m0 2v1m0 3v1m0 1v1m0 3v1m0 1v1m0 5v1m0 4v1m0 2v1m0 4v1m0 3v1m1-49v1m0 4v1m0 9v3m0 1v1m0 2v1m0 9v1m0 2v2m0 3v1m0 1v1m0 3v1m0 2v1m1-37v1m0 1v1m0 2v2m0 2v2m0 2v1m0 1v1m0 3v1m0 2v1m0 1v1m0 3v1m0 2v2m0 1v1m1-45v1m0 7v1m0 2v1m0 6v1m0 8v2m0 1v1m0 3v1m0 2v2m0 2v1m0 1v1m0 1v2m1-41v1m0 1v2m0 6v2m0 2v1m0 2v1m0 1v1m0 1v1m0 3v1m0 1v1m0 3v1m0 1v1m1-43v1m0 3v1m0 7v1m0 1v1m0 1v1m0 5v1m0 1v2m0 1v1m0 9v1m0 11v1m1-45v1m0 1v1m0 11v1m0 1v1m0 1v2m0 2v3m0 1v1m0 1v1m0 1v1m0 6v1m0 3v3m1-42v1m0 7v1m0 3v1m0 1v1m0 1v3m0 2v2m0 1v3m0 8v3m0 1v2m1-46v1m0 3v1m0 6v1m0 6v1m0 1v1m0 3v1m0 4v1m0 8v1m0 1v3m0 1v1m0 1v2m1-49v1m0 5v2m0 3v1m0 1v1m0 9v1m0 2v1m0 1v1m0 6v2m0 3v3m0 2v1m1-38v2m0 5v1m0 5v1m0 4v1m0 5v2m0 1v1m0 2v1m0 5v1m1-39v1m0 6v1m0 5v1m0 6v1m0 7v1m0 5v1m0 1v2m0 2v1m1-43v1m0 1v1m0 1v1m0 5v1m0 1v1m0 1v1m0 2v3m0 1v2m0 1v1m0 4v3m0 2v1m0 3v2m0 1v1m1-44v1m0 11v2m0 2v1m0 1v1m0 1v2m0 1v1m0 1v1m0 7v1m0 2v1m0 1v1m0 2v1m1-42v1m0 1v1m0 2v1m0 2v1m0 4v1m0 2v1m0 2v2m0 4v3m0 3v2m0 2v1m0 1v1m0 1v6m1-47v1m0 1v1m0 5v1m0 13v1m0 2v2m0 1v1m0 1v1m0 7v1m0 1v2m0 1v4m0 1v1m1-50v1m0 5v1m0 3v1m0 4v1m0 3v1m0 2v1m0 1v1m0 1v2m0 1v1m0 1v1m0 5v2m0 2v1m0 2v1m0 1v1m0 1v2m1-46v1m0 1v1m0 7v1m0 6v2m0 2v1m0 1v1m0 9v1m0 1v2m0 2v1m0 4v1m1-41v1m0 4v2m0 3v1m0 1v2m0 6v1m0 6v1m0 1v1m0 1v1m0 2v1m0 5v1m1-46v1m0 1v1m0 7v1m0 1v1m0 3v1m0 3v1m0 2v1m0 2v1m0 3v1m0 2v3m0 6v2m0 1v2m1-34v1m0 3v1m0 3v1m0 6v1m0 2v1m0 2v1m0 4v1m0 1v1m0 3v1m1-32v1m0 1v1m0 7v1m0 6v1m0 3v1m0 1v1m0 1v1m0 6v1m1-50v1m0 7v2m0 1v1m0 7v1m0 5v1m0 1v1m0 1v3m0 5v1m0 1v1m0 2v1m0 3v2m0 1v1m1-49v1m0 4v1m0 1v1m0 4v1m0 3v1m0 1v1m0 1v2m0 2v2m0 3v2m0 5v1m0 2v1m1-30v1m0 3v1m0 2v1m0 1v2m0 2v1m0 4v1m0 8v1m0 2v1m0 3v1m0 1v2m1-49v1m0 9v2m0 2v1m0 2v2m0 2v2m0 1v1m0 8v1m0 1v1m0 1v1m0 5v1m0 4v1m1-45v1m0 3v1m0 4v1m0 1v1m0 4v1m0 3v1m0 1v1m0 2v1m0 4v1m0 3v1m0 1v1m0 2v2m0 4v1m1-49v1m0 4v1m0 1v1m0 2v2m0 5v1m0 2v1m0 6v3m0 1v1m0 3v1m0 2v1m0 1v1m0 1v1m1-41v3m0 5v1m0 2v2m0 2v1m0 4v1m0 2v1m0 11v1m0 5v1m0 4v1m1-46v1m0 3v1m0 4v1m0 1v1m0 1v1m0 4v1m0 2v1m0 6v1m0 1v3m0 1v2m0 2v1m0 5v1m1-41v1m0 4v1m0 3v1m0 1v1m0 9v1m0 3v1m0 2v1m0 3v4m0 5v1m1-48v1m0 2v1m0 10v3m0 9v1m0 5v1m0 1v2m0 4v1m0 1v1m0 1v1m1-39v1m0 1v2m0 1v2m0 1v2m0 1v1m0 5v2m0 4v1m0 6v1m0 5v4m1-48v1m0 3v1m0 5v2m0 4v1m0 1v1m0 5v1m0 5v1m0 2v1m0 3v1m0 3v1m1-38v1m0 7v1m0 1v1m0 4v1m0 5v3m0 5v1m0 1v3m0 4v1m0 2v1m0 1v3m1-48v1m0 1v1m0 1v1m0 2v2m0 8v1m0 1v2m0 2v1m0 1v1m0 4v1m0 2v2m0 1v2m0 3v1m0 1v3m1-46v1m0 3v1m0 7v1m0 1v2m0 1v1m0 1v1m0 6v1m0 2v2m0 1v1m0 7v1m0 1v1m0 4v1m1-50v2m0 19v2m0 2v1m0 4v1m0 6v1m0 2v3m0 2v1m0 2v2m1-41v1m0 5v1m0 5v2m0 2v1m0 2v1m0 3v2m0 2v1m0 1v3m1-39v1m0 3v1m0 1v1m0 12v3m0 4v1m0 5v1m0 2v2m0 5v2m0 1v1m0 1v1m1-37v1m0 2v1m0 1v4m0 2v2m0 1v1m0 2v1m0 2v1m0 1v1m0 5v1m0 1v1m0 2v2m0 1v1m1-50v1m0 9v1m0 2v1m0 6v1m0 1v1m0 4v1m0 1v2m0 1v3m0 2v1m0 2v3m0 3v2m1-47v1m0 1v1m0 1v2m0 3v2m0 2v1m0 5v1m0 2v1m0 1v1m0 1v1m0 1v1m0 4v2m0 4v2m0 3v2m0 1v1m1-44v1m0 3v1m0 7v1m0 1v1m0 2v2m0 2v1m0 3v1m0 5v1m0 2v1m0 3v1m1-44v1m0 3v1m0 8v1m0 1v1m0 3v1m0 1v1m0 7v2m0 6v1m0 1v6m0 1v3m1-47v2m0 8v2m0 1v5m0 5v3m0 1v2m0 1v2m0 3v1m0 3v1m0 1v1m0 1v2m0 2v1m1-41v1m0 6v1m0 7v1m0 2v3m0 2v2m0 2v1m0 1v2m0 1v3m0 3v1m1-35v1m0 2v1m0 1v1m0 2v1m0 5v1m0 3v1m0 2v3m0 5v3m0 1v2m1-45v1m0 4v1m0 1v1m0 7v1m0 3v2m0 1v2m0 6v3m0 2v1m0 2v1m0 1v1m0 3v1m1-48v1m0 4v1m0 1v1m0 2v1m0 2v1m0 1v1m0 2v2m0 3v1m0 4v1m0 1v1m0 1v1m0 4v1m0 2v2m0 7v1m1-42v1m0 1v2m0 1v1m0 2v1m0 3v1m0 2v1m0 1v1m0 2v1m0 5v1m0 4v1m0 1v1m0 3v1m0 1v1m1-45v1m0 9v2m0 1v1m0 2v2m0 5v1m0 2v2m0 3v2m0 6v1m0 2v1m0 1v1m1-46v1m0 7v1m0 7v3m0 10v2m0 1v2m0 1v1m0 1v1m0 2v4m0 1v2m1-44v1m0 2v1m0 6v2m0 3v2m0 3v1m0 6v2m0 4v1m0 1v1m0 1v3m1-39v1m0 2v2m0 5v1m0 2v1m0 9v1m0 2v2m0 1v3m0 4v6m0 1v1m1-50v1m0 3v1m0 6v2m0 1v1m0 4v1m0 6v1m0 8v2m0 2v3m0 2v1m0 1v2m1-38v1m0 5v2m0 7v1m0 2v1m0 4v2m0 1v1m0 2v1m0 2v2m1-41v1m0 1v1m0 6v1m0 4v1m0 4v1m0 3v1m0 5v2m0 1v1m0 3v1m0 2v1m0 1v2m0 3v1m1-42v1m0 10v3m0 3v1m0 2v1m0 1v1m0 1v2m0 2v1m0 5v1m0 1v2m1-34v1m0 4v1m0 1v2m0 1v3m0 1v2m0 1v2m0 1v1m0 2v1m0 2v1m0 4v2m0 1v1m0 2v1m1-50v1m0 6v2m0 3v1m0 1v1m0 1v2m0 7v1m0 4v3m0 2v1m0 1v1m0 3v1m0 2v1m0 3v2m1-49v1m0 10v1m0 8v1m0 2v2m0 2v2m0 2v1m0 4v1m0 2v2m0 3v1m0 1v1m1-40v2m0 3v1m0 3v1m0 5v1m0 3v2m0 2v1m0 1v1m0 1v1m0 1v2m0 4v2m0 1v1m0 1v2m1-50v1m0 3v2m0 8v1m0 1v1m0 7v1m0 2v1m0 4v1m0 2v1m0 3v3m0 5v2m1-44v1m0 1v1m0 1v1m0 7v1m0 1v1m0 1v1m0 1v1m0 2v1m0 4v1m0 2v1m0 2v1m0 2v1m0 4v1m1-42v2m0 1v1m0 1v1m0 1v2m0 2v1m0 4v1m0 1v3m0 1v3m0 1v5m0 2v1m0 3v1m0 4v1m0 1v1m1-49v1m0 8v2m0 5v2m0 2v2m0 2v1m0 5v2m0 2v1m0 2v2m0 7v1m1-44v2m0 9v2m0 2v1m0 2v2m0 6v1m0 4v1m0 3v1m0 2v1m0 5v1m1-45v1m0 10v1m0 1v1m0 11v1m0 2v1m0 4v1m0 1v2m0 1v1m0 2v1m0 1v2m0 1v1m1-50v1m0 6v2m0 1v2m0 3v4m0 7v1m0 2v3m0 10v1m0 4v1m1-46v2m0 5v1m0 4v2m0 5v1m0 4v2m0 4v1m0 2v3m0 4v2m0 5v1m1-50v1m0 8v1m0 2v1m0 1v4m0 6v3m0 1v1m0 4v1m0 1v1m0 2v1m0 6v1m0 3v1m1-39v1m0 2v5m0 1v1m0 4v4m0 10v2m0 3v3m1-42v1m0 5v2m0 1v1m0 3v1m0 2v2m0 1v1m0 5v1m0 2v1m0 1v1m0 3v1m0 1v1m0 5v1m0 1v1m1-39v1m0 7v2m0 2v2m0 1v1m0 2v2m0 2v1m0 4v2m0 1v3m1-40v1m0 1v1m0 2v1m0 3v1m0 4v2m0 1v1m0 2v1m0 1v2m0 2v2m0 5v1m0 4v1m0 1v3m0 2v1m1-33v5m0 1v1m0 1v2m0 3v1m0 1v1m0 1v1m0 4v1m0 7v1m0 1v1m1-50v1m0 1v4m0 2v1m0 1v1m0 7v1m0 1v1m0 3v2m0 3v1m0 2v2m0 2v2m0 1v1m0 2v2m0 3v2m1-45v2m0 2v2m0 1v1m0 3v1m0 1v1m0 8v1m0 1v1m0 3v1m0 3v3m0 3v2m0 2v1m0 2v1m1-48v2m0 1v1m0 1v2m0 1v2m0 7v1m0 3v1m0 1v1m0 2v1m0 1v1m0 6v1m0 2v5m0 1v1m1-46v1m0 11v2m0 2v1m0 7v1m0 4v1m0 1v1m0 3v1m0 4v1m0 1v2m0 4v1m1-48v4m0 1v1m0 1v1m0 1v1m0 4v1m0 1v1m0 3v1m0 3v3m0 1v1m0 1v1m0 2v1m0 1v1m0 4v2m0 1v3m0 1v1m1-45v1m0 2v1m0 2v1m0 2v2m0 2v1m0 1v2m0 3v2m0 1v2m0 1v3m0 2v1m0 7v1m0 1v1m1-40v1m0 1v2m0 9v2m0 5v1m0 5v1m0 4v1m0 3v7m1-38v1m0 1v1m0 1v1m0 7v1m0 1v1m0 2v2m0 6v1m0 2v1m0 1v1m0 2v2m0 3v1m1-39v1m0 1v1m0 1v1m0 2v1m0 4v1m0 2v2m0 2v1m0 5v2m0 2v1m0 5v1m1-38v2m0 2v1m0 3v1m0 8v1m0 2v1m0 7v1m0 1v2m0 1v2m0 1v1m0 3v1m1-50v1m0 15v1m0 2v2m0 2v3m0 3v1m0 1v1m0 2v1m0 1v3m0 2v1m0 2v1m0 2v1m1-44v2m0 3v1m0 6v3m0 2v1m0 3v1m0 1v1m0 4v1m0 1v1m0 1v1m0 1v1m0 2v1m0 1v2m1-42v1m0 6v1m0 1v2m0 1v2m0 2v1m0 1v3m0 2v1m0 3v1m0 1v3m0 1v2m0 2v1m0 2v1m0 5v1m1-50v1m0 2v1m0 4v1m0 11v1m0 4v1m0 5v2m0 3v2m0 3v1m0 1v2m1-44v2m0 1v1m0 1v1m0 5v1m0 5v1m0 1v1m0 2v1m0 2v1m0 1v4m0 1v1m0 5v1m0 1v1m0 2v3m0 1v1m1-49v3m0 3v1m0 3v1m0 2v1m0 3v3m0 3v1m0 2v2m0 1v2m0 1v3m0 1v1m0 3v1m0 1v1m0 4v2m1-44v5m0 1v1m0 2v1m0 2v3m0 3v1m0 2v1m0 4v1m0 3v1m0 4v2m0 1v1m0 1v1m0 1v2m1-42v1m0 3v1m0 1v1m0 2v1m0 4v1m0 3v1m0 7v3m0 1v1m0 2v2m0 1v1m0 3v3m1-44v1m0 3v1m0 2v1m0 3v2m0 5v2m0 3v2m0 7v1m0 1v1m0 2v3m0 3v1m1-47v2m0 3v1m0 6v1m0 6v2m0 1v2m0 3v1m0 3v1m0 5v1m0 4v1m0 1v1m1-47v1m0 10v1m0 2v1m0 1v1m0 2v1m0 3v1m0 4v1m0 1v1m0 2v2m0 1v1m0 4v1m0 2v1m0 2v1m1-35v1m0 4v1m0 1v2m0 1v1m0 6v3m0 5v2m0 2v1m0 1v2m1-47v1m0 5v1m0 3v2m0 1v1m0 6v1m0 5v6m0 1v2m0 3v2m0 2v1m0 1v1m0 3v1m1-47v1m0 5v1m0 4v5m0 5v1m0 1v3m0 2v1m0 8v2m0 1v1m0 1v1m1-36v1m0 2v1m0 2v1m0 1v1m0 2v1m0 3v1m0 2v1m0 6v3m0 1v1m0 1v1m0 2v1m0 4v1m1-46v1m0 1v2m0 9v2m0 5v1m0 3v3m0 2v1m0 4v3m0 2v1m0 3v1m0 1v1m1-43v1m0 1v1m0 3v3m0 6v2m0 2v2m0 5v1m0 1v1m0 2v2m0 3v2m0 2v1m0 1v1m1-49v2m0 4v2m0 3v1m0 7v1m0 4v1m0 4v1m0 5v2m0 11v1m1-48v1m0 10v1m0 2v4m0 9v1m0 1v2m0 1v1m0 1v1m0 6v1m0 1v1m1-44v1m0 1v1m0 4v3m0 2v1m0 1v1m0 1v1m0 1v4m0 1v1m0 1v1m0 2v1m0 1v2m0 1v2m0 1v5m0 1v1m0 1v2m0 1v1m1-46v1m0 3v2m0 1v2m0 2v1m0 1v1m0 1v1m0 3v2m0 2v1m0 2v2m0 2v1m0 3v4m0 5v1m0 2v1m1-43v2m0 1v1m0 6v1m0 3v1m0 3v1m0 3v1m0 3v1m0 1v1m0 2v2m0 1v3m0 2v2m0 1v1m1-49v1m0 1v1m0 1v1m0 1v1m0 2v1m0 16v1m0 4v2m0 1v2m0 5v1m0 2v2m0 1v1m1-39v1m0 8v3m0 1v2m0 1v1m0 2v1m0 1v3m0 5v1m0 4v4m0 1v1m1-44v1m0 6v1m0 1v3m0 4v1m0 2v2m0 3v1m0 3v2m0 2v1m0 4v2m0 4v1m1-50v1m0 3v1m0 2v2m0 9v1m0 3v1m0 1v1m0 1v2m0 4v1m0 3v2m0 2v1m0 1v1m0 1v2m1-46v1m0 3v3m0 3v2m0 9v1m0 1v1m0 1v1m0 1v1m0 1v2m0 3v2m0 6v1m0 3v2m1-45v1m0 4v1m0 7v2m0 2v2m0 1v2m0 10v2m0 2v4m0 1v1m0 2v1m0 1v1m1-49v1m0 1v1m0 4v2m0 1v1m0 1v4m0 1v1m0 1v3m0 2v3m0 1v1m0 2v1m0 5v1m0 4v4m0 2v1m1-50v1m0 7v1m0 1v2m0 1v1m0 1v1m0 2v1m0 1v1m0 2v1m0 1v1m0 1v1m0 1v1m0 3v1m0 2v1m0 6v3m0 2v1m1-45v2m0 3v1m0 14v1m0 4v1m0 1v3m0 1v1m0 2v1m0 1v2m0 6v2m1-41v1m0 2v3m0 6v1m0 2v1m0 6v1m0 1v1m0 2v4m0 1v1m0 3v5m1-47v1m0 2v1m0 6v2m0 5v3m0 3v3m0 2v1m0 1v2m0 3v1m0 3v3m0 1v1m0 2v1m1-49v1m0 6v1m0 3v2m0 4v2m0 1v1m0 3v3m0 3v1m0 2v1m0 1v4m0 2v1m0 2v1m0 1v1m1-45v1m0 1v2m0 6v2m0 5v1m0 17v1m0 2v3m0 2v1m0 1v1m1-45v1m0 1v2m0 1v1m0 1v1m0 4v2m0 1v1m0 3v2m0 7v1m0 2v1m0 2v1m0 1v1m0 3v1m0 1v1m0 1v1m1-49v1m0 3v1m0 1v2m0 8v2m0 1v1m0 1v1m0 2v2m0 6v1m0 6v2m0 5v1m0 2v1m1-47v2m0 1v1m0 2v2m0 3v2m0 1v1m0 1v1m0 3v3m0 1v1m0 2v1m0 6v2m0 1v1m1-41v1m0 1v1m0 2v2m0 1v2m0 11v2m0 2v1m0 1v1m0 4v1m0 2v1m0 4v2m0 5v1m1-48v1m0 5v1m0 1v3m0 1v2m0 8v1m0 2v1m0 3v2m0 2v1m0 6v2m0 1v1m0 3v3m1-49v1m0 2v1m0 8v1m0 3v2m0 3v1m0 3v2m0 1v4m0 1v4m1-31v2m0 1v1m0 1v1m0 2v3m0 1v1m0 6v1m0 4v1m0 4v1m0 5v1m0 4v1m0 1v1m1-49v1m0 1v1m0 3v2m0 5v1m0 4v2m0 1v1m0 2v1m0 2v1m0 2v3m0 1v3m0 6v1m1-39v1m0 2v3m0 2v5m0 1v2m0 5v2m0 2v2m0 4v2m0 3v1m0 5v1"/></g>
<path transform="translate(219,624) scale(.5)" d="M1 18h0m0 17h0m7-27h0m2 35h0m0-26h0m8 31h0m4-43h0m3 44h0m0-11h0m0-28h0m2 0h0m3-7h0m7 8h0m2 8h0m2-3h0m1-11h0m1 36h0m1-35h0m4 25h0m2-12h0m2 26h0m1-16h0m1-3h0m2-5h0m4 7h0m6-3h0m8 6h0m0-22h0m1 34h0m6-13h0m0 8h0m2-10h0m2 0h0m8 11h0m3-4h0m1 2h0m3-11h0m8 5h0m6 0h0m4 12h0m4-27h0m7 11h0m5 21h0m7-39h0m1 20h0m8-25h0m2 31h0m3-5h0m9 17h0m2-21h0m3 2h0m3 8h0m2 7h0m1-16h0m16 16h0m5-34h0m7 28h0m8-14h0m11-16h0m11 1h0m14 36h0m2-5h0m8-35h0m2 30h0m8-29h0m0 14h0m23 15h0m12 2h0m10-26h0m0 25h0m0 8h0m26-1h0m16 5h0m10-42h0m7 39h0m7-34h0m5 5h0m1-11h0m4 41h0m6-31h0m4 10h0m8 8h0m33-8h0m16-13h0m11 27h0m13-29h0m2 18h0m2 12h0m4-5h0m13-10h0m9 5h0m0 11h0m9-22h0m4-14h0m1 0h0m6 29h0m4 2h0m1-21h0m6 3h0m2 25h0m19 0h0m5-5h0m12-27h0m10 35h0m8-35h0m6 29h0m0-9h0m6 15h0m2-5h0m5-10h0m2-30h0m3 37h0m5-7h0m1-9h0m3 18h0m9-30h0m3 17h0m1-10h0m0 7h0m7-22h0m4 42h0m1 4h0m2-8h0m1-8h0m11 3h0m3-20h0m6 10h0m1 12h0m5-31h0m1 28h0m5-17h0m3 8h0m1 4h0m1-6h0m6 26h0m0-28h0m2 9h0m4-14h0m4 9h0m1 12h0m2-25h0m1 10h0m4 22h0m3-36h0m0 20h0m1-3h0m1 5h0m4-27h0m10 3h0m5 36h0m3-24h0m4-7h0m9 18h0m1-5h0m0-17h0m1 13h0m4-17h0m1 4h0m7 9h0m1-5h0m0-8h0m0 2h0m4-4h0m1 39h0m3-33h0m10 30h0m0-4h0m2-24h0m6 19h0m1-7h0m12-18h0m3 35h0m4-22h0m2 12h0m2-8h0m0-6h0m16-12h0m6 13h0m1-4h0m1 8h0m15-12h0m6 1h0m1-3h0m1 5h0m-78 42h0m-17 7h0m-21 3h0m-4 16h0m-4 1h0m-5-20h0m-6 3h0m-4-6h0m-2-3h0m-2 38h0m-5-33h0m-11 4h0m0 0h0m-2 29h0m-1-39h0m-2 25h0m-1 9h0m-7 2h0m-2 5h0m0-25h0m-1 13h0m-4 9h0m-13-24h0m-4-15h0m0 23h0m-1 13h0m-4-5h0m-1-10h0m0-8h0m0 17h0m-1 19h0m-2-43h0m-8 34h0m-5-37h0m-3 33h0m-4-18h0m-4 31h0m-1-27h0m-2 1h0m0-16h0m-2 11h0m-5-1h0m-3 32h0m-18-32h0m-4 0h0m-6 16h0m0-9h0m-1 21h0m-15-38h0m-9 37h0m-5-2h0m-3-13h0m-3-3h0m-4 5h0m-8-18h0m-2 23h0m-3-14h0m-8 8h0m-2-30h0m-1 35h0m-8 7h0m-4 5h0m-1-13h0m-2-34h0m-5 13h0m-12-6h0m-2 15h0m-1-16h0m-8-5h0m-1 2h0m-1 32h0m-1-26h0m0 40h0m-7-6h0m-1-7h0m-5-24h0m-15-1h0m-1 9h0m-5 13h0m-9 3h0m-3 0h0m0 13h0m-1-25h0m-16-17h0m-1 30h0m-2-32h0m0 15h0m-1-3h0m-6 15h0m-4 7h0m-14 3h0m-2-11h0m0-8h0m-2-12h0m-2 27h0m0-30h0m-5 30h0m-6-17h0m-6-14h0m-1 21h0m-2 20h0m-1-14h0m-8 9h0m-2-16h0m-15-14h0m-7-5h0m0-1h0m-8 29h0m-11 2h0m-1 3h0m-1-39h0m-2 34h0m0 4h0m-1 6h0m-7-35h0m-16 17h0m-3-6h0m-1 8h0m-5-18h0m-3-2h0m0 36h0m-2-25h0m-1 12h0m-1 16h0m-1-20h0m0-2h0m-26-7h0m-5 6h0m-4-23h0m-7 37h0m-2-29h0m-4-2h0m-11 8h0m-7-2h0m-1 34h0m-2-18h0m-18 6h0m0-14h0m-8-9h0m-3 15h0m-7 6h0m-7 14h0m-5-1h0m-2-4h0m-6-25h0m-12 19h0m-2-8h0m-1-5h0m-1-19h0m-1 41h0m-1-16h0m-2 13h0m-1-36h0m0-2h0m-4 29h0m-4 11h0m-4-17h0m-5-27h0m-1 22h0m-3 22h0m-3-13h0m-2 2h0m-1 11h0m0-33h0m-9 34h0m-4-40h0m-1 14h0m-3-12h0m-1-1h0m-1 4h0m-5 1h0m-1-9h0m-1 15h0m-1-12h0m-1 37h0m-5-10h0m-2-20h0m-1 13h0m-3 16h0m-1-15h0m-4 2h0m-1-1h0m-1 4h0m-3 4h0m-3-25h0m-3 12h0m-1-1h0m-1 21h0m0-27h0m-4 8h0m-1 10h0m-1 7h0m-3 3h0m-1-34h0m0 22h0m-2-19h0m0 22h0m-3-31h0m-1 41h0m-3-29h0m0 15h0m-2 10h0m-1-24h0m0 0h0m-2 6h0m0-21h0m-2 46h0m0-5h0m-4-42h0m-5 3h0m-1 7h0m-3 1h0m-4-11h0m-1 4h0m8 49h0m26 1h0m3-5h0m3 5h0m1 2h0m8-4h0m2 3h0m8-4h0m3 7h0m6-8h0m4 5h0m5-4h0m5 3h0m15-6h0m7 7h0m4-1h0m5 2h0m1-8h0m3 9h0m5 8h0m3-1h0m15-11h0m4 11h0m12-5h0m2 1h0m0 8h0m4 10h0m18 2h0m3-8h0m0-9h0m10-13h0m5 32h0m4-12h0m2 9h0m2-6h0m0 13h0m4-33h0m1 25h0m1-4h0m6-24h0m1 8h0m7 6h0m4 17h0m9-17h0m3 11h0m1 12h0m11-14h0m2 18h0m1-40h0m2 40h0m0 2h0m2-13h0m3-6h0m0 4h0m7 17h0m1-11h0m4-5h0m4 18h0m4-14h0m2-26h0m0 34h0m5-13h0m9-12h0m9 29h0m4-4h0m5-13h0m0-7h0m1-22h0m10 2h0m3 31h0m0-13h0m5 23h0m4-33h0m1 33h0m2-33h0m2 12h0m1-17h0m8 2h0m7 37h0m1-38h0m32 5h0m9 12h0m14-24h0m5 16h0m1 26h0m1-14h0m1 11h0m3-33h0m5 20h0m2-25h0m8 21h0m3 13h0m2 11h0m5-22h0m12 16h0m6 0h0m2-29h0m1-3h0m5 41h0m8-4h0m2 1h0m1-18h0m3-27h0m8 11h0m1 35h0m1-31h0m0 31h0m3-2h0m4-20h0m3 6h0m1 11h0m0-14h0m17-20h0m5 41h0m2-6h0m8-19h0m3-15h0m4 11h0m3-11h0m2 21h0m5-22h0m7 38h0m7-43h0m8 4h0m1 29h0m1-28h0m1 30h0m2-15h0m5 11h0m8-20h0m3 34h0m2-26h0m5 18h0m4-14h0m3-18h0m2 38h0m6-21h0m0-6h0m2 22h0m18-41h0m1 40h0m0-12h0m2-16h0m5 29h0m3 1h0m2-1h0m0-41h0m7 25h0m1-6h0m2-10h0m3-4h0m8 17h0m15-22h0m-49 51h0m-33 1h0m-16 29h0m-5-14h0m-5 0h0m-1-15h0m-1-2h0m-1 18h0m0-17h0m-3 42h0m0-29h0m-3 28h0m-1-27h0m0 2h0m-4 5h0m-9 10h0m-1-10h0m-1 13h0m-16-19h0m-6 6h0m-1-22h0m-13 36h0m-1-18h0m-2 6h0m-2 4h0m-1-6h0m-2 9h0m-2 8h0m-6-37h0m-4 2h0m-5 42h0m-9 0h0m-5-18h0m-3-10h0m-4-17h0m-2 4h0m-1 40h0m-1-1h0m-12-16h0m-6-12h0m-6 32h0m0-24h0m-3 17h0m0-37h0m-14 14h0m0-14h0m-2 16h0m-19 23h0m-9-19h0m0-12h0m-2 16h0m-1 5h0m-1-17h0m-1 15h0m-6-10h0m-1 20h0m-2-23h0m-1 0h0m-5 4h0m-2 16h0m-8-30h0m-5 36h0m-1-14h0m-7-24h0m-8 37h0m-7-10h0m-1-16h0m-4-17h0m-4 21h0m-1-15h0m0 26h0m-1 12h0m-2-22h0m-8-12h0m0 13h0m0 9h0m-5 1h0m-12 4h0m-19-29h0m-6 7h0m-22-7h0m-8 2h0m-4-10h0m-3 2h0m-15 0h0m139 58h0m10 3h0m0-4h0m4 2h0m0 1h0m0-6h0m6-1h0m13 19h0m7-23h0m9 16h0m5-9h0m1 17h0m12-15h0m1-10h0m2 14h0m4-4h0m6-1h0m6 8h0m11 17h0m9-16h0m5-12h0m2 12h0m0-15h0m4 28h0m2-12h0m12 3h0m0 7h0m1-21h0m1-3h0m5 12h0m12 4h0m45-18h0" fill="none" stroke="#333" stroke-opacity=".8" stroke-width="4.2" stroke-linecap="round"/>
<g fill="none" stroke="rgba(0,0,0,.49)" stroke-width="4.5" stroke-linejoin="round"><path d="M323.3 1116.3L327.1 1092.9L328 1069.5L326 1046.1L321.1 1022.7L318 1013.7L312.5 999.3L300.9 977.7L299.7 975.9L283.8 956.7L279.2 952.5L266.7 942.8L249.6 934.1L232.5 929.5L215.4 929.1L198.3 932.8L181.2 940.8L165.4 952.5L164.1 953.7"/><path d="M506.1 1121.5L523.2 1122.4M728.4 815.1L711.3 819.7L694.2 826.5L677.1 835.5L677.1 835.5L660 847L645.4 858.9L642.9 861.1L625.8 878.1L621.9 882.3L608.7 898.1L602.7 905.7L591.6 921.3L586 929.1L574.5 947.4L571 952.5L557.4 975.4L557 975.9L542.5 999.3L540.3 1003.8L524.5 1022.7L523.2 1025.1L506.1 1026.3L504.1 1022.7L489 1006.6L485.6 999.3L471.9 979.3L470.3 975.9L455.6 952.5L454.8 951.5L440.6 929.1L437.7 925.4L424.3 905.7L420.6 901.2L406.2 882.3L403.5 879.3L386.4 859.7L385.7 858.9L369.3 842.3L361.9 835.5L352.2 827.1L335.1 814.2L332 812.1L318 802.9L300.9 793.9L288.2 788.7L283.8 786.8L266.7 781.2L249.6 777.6L232.5 775.8L215.4 775.9L198.3 777.9L181.2 781.8L164.1 787.9L162.5 788.7"/><path d="M728.4 693.8L721.4 695.1L711.3 696.9L694.2 701.4L677.1 707.4L660 715L653.5 718.5L642.9 724.1L625.8 734.7L615.5 741.9L608.7 746.8L591.6 760.2L585.5 765.3L574.5 774.7L558.4 788.7L557.4 789.6L540.3 803.8L528.6 812.1L523.2 815.9L506.1 824.5L489 828.4L471.9 827.4L454.8 822.2L437.7 813.9L434.9 812.1L420.6 803.4L403.5 792.2L398.5 788.7L386.4 780.6L369.3 769.6L362.1 765.3L352.2 759.3L335.1 749.9L318 742.2L317.2 741.9L300.9 735L283.8 729.4L266.7 725.4L249.6 722.8L232.5 721.6L215.4 721.8L198.3 723.5L181.2 726.8L164.1 731.8"/><path d="M728.4 610.6L711.3 613.2L694.2 617L677.1 622.1L669.5 624.9L660 628.2L642.9 635.5L625.8 644.2L618.8 648.3L608.7 654L591.6 665L582.3 671.7L574.5 677.1L557.4 690L550.8 695.1L540.3 703L523.2 715.6L518.8 718.5L506.1 726.4L489 734.8L471.9 740L454.8 741.5L437.7 739.7L420.6 735.2L403.5 729.1L386.4 722.2L377.5 718.5L369.3 714.8L352.2 707.3L335.1 700.5L319.1 695.1L318 694.7L300.9 689L283.8 684.5L266.7 681.3L249.6 679.2L232.5 678.4L215.4 678.8L198.3 680.5L181.2 683.6L164.1 688.3"/></g>
</g>
<g clip-path="url(#c20)">
<g transform="translate(219.5,1128) scale(1,22.5)" fill="none" stroke-width="1" shape-rendering="crispEdges"><path stroke="#333" d="M8 17v1m3 0v1"/><path stroke="#393939" d="M25 17v1m26 1v1"/><path stroke="#3f3f3f" d="M7 18v1m2 0v1m16-2v1m22 0v1m24-1v1"/><path stroke="#454545" d="M6 19v1m17-1v1m1-1v1m2-1v1m9-2v1"/><path stroke="#4b4b4b" d="M6 17v1m4 1v1m2-3v1m12 0v1m4-1v1m8 0v1"/><path stroke="#515151" d="M2 17v1m3 0v1m9-1v1m6 0v1m2-1v1m5-1v1m7-1v1m4-2v1m1 0v1m13-1v1m2-1v1m24-1v1"/><path stroke="#585858" d="M4 19v1m3-3v1m1 0v1m6 0v1m6-3v1m3-1v1m6 0v1m2-2v1m1 0v1m4-1v1m8 0v1m7-2v1m14-2v1"/><path stroke="#5e5e5e" d="M3 18v1m4 0v1m15-2v1m4-3v1m6-1v1m1 1v1m8 0v1m1-2v1m1-2v1m2 0v1m18 0v1"/><path stroke="#656565" d="M2 19v1m4-4v1m6 2v1m4-1v1m2-2v1m9-2v1m3 1v1m1-2v1m1 0v1m4-3v1m5 0v1m3-3v1m3 1v1m4-3v1m5 1v1m2-2v1"/><path stroke="#6c6c6c" d="M1 19v1m3-2v1m9 0v1m2-1v1m2-3v2m1-2v1m2-2v1m2 0v1m22 0v1m2-1v1m3-1v2m1-1v1m5-3v1m6 1v1m5-2v1m2 0v1m4-3v1m6 0v1m3-1v1m30 0v1"/><path stroke="#737373" d="M1 18v1m2 0v1m2-1v1m3-4v1m0 2v1m2-2v1m5-3v1m4 2v1m1-2v1m1-3v1m5 0v1m7 1v1m4-5v2m3 0v1m2 1v1m6-5v1m0 3v1m10-1v1m6-4v1m3 1v1m1-1v1m17-2v1m1-1v1m0 1v1"/><path stroke="#7a7a7a" d="M6 18v1m5-4v1m1 0v1m1 1v1m1-2v1m5-1v2m6 0v1m5-4v1m0 1v1m7-2v1m1 1v1m2-2v2m1-3v1m2 1v1m2-1v1m7-2v1m1-2v1m0 1v1m3-1v1m1-1v1m2-3v1m1-1v1m2-1v2m1-2v1m4 1v1m2-2v1m1-3v1m2 2v1m1-1v1m9-4v1m0 2v1m9-1v1m7-1v1m10-2v1m5-2v1"/><path stroke="#818181" d="M1 15v1m1 2v1m9-3v1m3-1v1m4 2v1m3-2v2m2-2v1m4-1v1m1-3v1m1 0v1m0 1v1m2-1v1m6-2v2m2-3v1m3-1v1m3-3v1m3 2v1m7-3v1m9 0v1m6 0v1m8-2v1m5 1v1m7-2v1m7-1v1m6-2v1m3 0v1m1-2v1m7 1v1m311-2v1m19-1v1m2-1v1"/><path stroke="#888" d="M0 17v1m0 1v1m3-5v1m1 0v1m1-1v1m3-2v1m1 0v2m2 1v1m2-4v1m2 1v1m1-4v1m0 2v1m8-4v1m1 0v1m3 0v1m1-2v1m3 0v1m1-1v1m1 0v1m1-4v1m4 0v1m2-1v1m2 1v1m5-2v1m2 0v1m2-3v1m5 1v1m5 0v1m2-2v1m5 0v1m5-3v1m0 1v1m2-1v1m1-2v1m3-1v1m8-1v2m8-3v2m25 0v1"/><path stroke="#909090" d="M0 14v1m1 1v2m1-2v1m1 0v1m2-1v1m4 0v1m1-4v2m2 1v1m6-4v1m3 1v1m2-4v1m4 1v1m4-2v1m4 3v1m4-2v1m7-4v1m3 0v1m1-1v2m3-4v1m1 3v1m2-2v1m4-2v1m4-2v1m0 3v1m1-4v1m3-3v1m0 2v1m5-1v1m1-2v1m2 1v1m1-4v1m4 0v1m2 1v1m2-3v1m1-2v1m5-1v1m1 3v1m1-3v1m1-2v1m1 2v1m2-3v1m2-1v1m1 0v2m3-1v1m8-2v1m8-1v1m249 0v1m7-1v1m9-1v1m24-4v1m2 0v1m33-1v1m6 1v1"/><path stroke="#989898" d="M4 17v1m3-2v1m3 0v1m2-3v1m1 1v1m1-3v1m2 0v2m1 1v1m6-4v1m1-1v1m2 1v1m4-2v1m5-1v1m3-1v1m1-3v1m1-1v1m7 0v1m1-1v1m3 0v1m8-2v1m0 1v1m6-1v1m1-2v1m0 1v1m1-3v1m5 0v1m4-3v2m1 1v1m2-1v1m1-4v1m2 1v1m3-1v1m9 0v1m3-1v1m2-4v1m2 1v1m1-2v1m0 1v1m3-1v1m1-3v1m1 1v1m8-1v1m12-2v1m8 0v1m15-3v1m213 1v1m3-1v1m15-4v1m12 2v1m10-1v1m4-1v1m4-3v1m18 0v1m8 0v1m5-2v1m1 0v1"/><path stroke="#a0a0a0" d="M0 18v1m2-4v1m20-2v1m2 2v1m3-4v1m8 1v1m3-1v1m4-1v1m5-2v1m0 1v1m6-3v1m0 2v1m1-4v2m6 2v1m1-3v1m4 1v1m5-1v1m1-4v1m2-1v1m0 1v1m1-4v1m0 2v1m1-1v2m2-3v1m3 1v1m3-4v1m1 1v1m4-4v1m0 1v1m1 0v1m2-2v2m2-1v1m1-2v2m2 0v1m2-4v1m0 1v1m1 0v1m3-4v1m3 0v1m5 1v1m13-2v1m5-2v1m1 0v1m2-1v1m4-1v1m218-2v1m12 0v1m10-3v1m2 2v1m4-1v1m6-1v1m10-1v1m1-1v1m22-1v1m2-3v1m2 0v1m5-2v1m1 1v1m4-1v1m6-3v2"/><path stroke="#a8a8a8" d="M9 15v1m6-2v1m2-2v4m1-1v1m1-1v1m2-3v1m4-1v1m1 0v1m2 3v1m4-5v1m1-2v1m1 1v1m7-2v1m2-2v1m1 0v1m1-2v1m4 2v1m2-3v1m6 1v1m1 0v1m3-1v1m2-4v2m0 1v1m4-4v1m2 1v1m1-1v1m5-3v1m3 0v1m2-2v1m1 3v1m1-3v1m2 1v1m3-2v1m2 0v1m3-3v1m1-3v1m0 3v1m2-3v1m9-1v1m0 1v1m4-4v2m0 1v1m1-3v2m3-2v1m3 0v1m3-2v1m1 1v1m4-1v1m1-3v1m0 1v1m2-4v1m3 2v1m16-1v1m6-2v1m3 0v1m8-2v1m151-2v1m25 1v1m2-4v1m29 0v1m0 1v1m13-2v1m3-3v1m1 1v1m6-1v1m4-2v1m9 1v1m1-3v3m3-1v1m2-2v1m12 0v1m5-2v1m1 0v1m4-1v1m5-3v1m0 1v1m2-1v1m2-1v1m2-1v1"/><path stroke="#b0b0b0" d="M1 14v1m2-1v1m9-2v1m1 1v1m2-1v1m0 1v1m4-4v2m6-1v1m2-1v1m1-2v1m1 0v1m1-1v1m1-2v1m2 1v1m1-2v1m2 0v1m1-3v1m3 1v1m4 0v1m1-1v1m1-2v1m0 2v1m7-4v1m1-3v1m1-3v1m2 3v1m2 2v1m1-2v1m1-3v1m1-2v1m4-1v1m1-2v1m1 1v1m3 1v1m4-3v1m1-2v1m1 0v1m4 0v1m1-3v1m1 1v1m2-3v1m0 3v1m2-4v2m0 1v1m2-4v1m3-2v1m0 2v1m6-5v1m0 2v1m1 0v1m1-3v1m2 1v1m1-3v1m1 1v1m1-4v2m1-1v1m0 2v1m3-4v1m3 2v1m2-2v1m2-3v2m2-2v1m3 0v1m1-1v2m6-1v1m2-1v2m2-2v1m3-3v1m1 2v1m4-3v1m2 1v1m4-2v1m7 0v1m91-1v1m54-1v1m14-1v1m13-1v1m23-2v1m22 0v1m1-1v1m1-3v1m9-1v1m4-1v2m6-2v1m10 1v1m12-3v1m3 1v1m5-1v1m5-3v1m6 1v1m2-5v1m1 3v1m4-2v2m3-3v1m1-3v1m3 3v1m1-1v1m1-6v1m0 4v1"/><path stroke="#b8b8b8" d="M0 15v1m4-2v1m1-3v1m0 1v2m1-2v1m1-1v2m1-3v1m1 0v1m2 2v1m9-4v2m2-1v1m6-1v1m8-1v1m5-2v1m2 1v1m7-2v1m1-3v1m1 3v1m3-4v2m0 3v1m1-5v1m1-1v1m1-1v1m10-1v1m1 0v1m1-4v1m9 1v1m3-3v1m6 2v1m3-1v1m2-1v1m2-1v1m1-1v1m1-1v1m4 2v1m1-6v1m3 3v1m5-3v2m2 0v1m5-6v1m2 3v1m2 0v1m1 0v1m1-3v1m1-2v1m3-2v1m1 3v1m1-4v1m1-1v1m4 2v1m6-2v1m7-1v1m8 0v1m3-1v1m2-2v1m4-2v1m3 0v1m14-1v1m52-3v1m58 1v1m14 0v1m7-2v1m4-1v1m6-1v1m13-4v1m3 1v1m2 1v1m3-2v1m1-1v1m6 0v1m2-3v1m3 0v1m7-2v1m11-3v1m1 2v1m1-2v1m4 1v1m5-5v1m3 0v2m4-3v1m0 3v1m2-2v1m6-1v2m3-1v1m2-3v1m5 0v1m6-1v1m3-2v1m1-2v1m3 2v1m3-3v1m2-2v1m0 1v1m1 0v1m3-1v1m1-3v1m6-3v1m4 0v1m1-1v1m2-1v1m1 0v1m1-1v1m1 0v1m1-2v1"/><path stroke="#c0c0c0" d="M4 13v1m4 0v1m1-2v1m5 0v1m4-2v2m4 1v1m1-2v1m1-3v1m2-1v1m1-2v1m1 0v1m1 0v1m2 1v1m2-2v1m1-3v2m0 2v1m2-4v1m6-1v2m3 0v1m1 0v1m1-5v1m2-2v1m2 1v1m3-2v1m0 3v1m3-4v1m1 1v1m4-3v1m3 0v1m1-3v1m5 0v2m0 1v1m1-4v1m3 2v1m3-4v1m1 2v2m1-2v1m1-3v1m3 1v1m3-3v1m2 1v1m1-2v2m5-3v1m2-1v1m6 2v1m1-4v1m5 3v1m2-4v1m2-2v1m0 2v2m3-1v1m1-4v1m1 1v1m3-3v1m4 2v1m1-1v1m2-5v2m1 0v1m4-2v1m1-2v1m2 0v1m0 1v1m2-3v1m0 2v1m2-1v1m1-5v1m1 0v3m3-2v1m4 0v1m3-2v1m2-2v1m1 0v1m3-2v1m0 1v1m2-2v1m6 0v1m2 0v1m4-2v1m2-1v1m3-3v1m2 2v1m15-4v1m3-1v1m1 2v1m15-2v1m36-4v1m23 1v1m4 1v1m6-1v1m1-1v1m10-4v1m2 2v1m6-2v1m4-1v1m2 0v1m12-2v2m2-2v1m4-3v1m1-1v1m10 1v1m1 0v1m7-4v2m3 1v1m1-1v1m1-3v1m4 0v1m1-1v2m1-3v1m1 0v1m2 0v1m3-3v1m0 1v1m1-2v1m2-1v2m3-3v1m3 0v1m1-2v1m1 1v1m6-2v1m8 0v1m1-2v1m3-2v1m0 1v1m1-4v1m0 1v1m2-2v1m1-2v1m4 0v2m1-2v1m1 0v1m2-2v2m1-1v1m2-4v1m1 0v1m4 1v2m1-1v1m1-1v1m1-1v1m2-4v1m2-1v1m0 1v1m1-1v1m1-2v1m1-2v1m2 1v1m1-1v1m2-3v1m1 1v1m4-2v2m1-3v2m5-1v2m1-1v1m3-3v1m1-2v1m3 1v1m4-1v1m1 0v1"/><path stroke="#c9c9c9" d="M3 16v1m1-6v1m2 3v1m4-4v1m1 1v1m1-3v1m1 0v1m6-1v1m2 1v1m3-2v1m3-2v1m4-1v1m1 0v1m1-3v1m2-2v1m0 2v1m1-2v1m1-2v1m1 2v1m1-3v1m1 0v1m1-2v1m2 1v1m1-4v1m2 1v1m1-3v1m1 1v1m1-1v2m1-4v1m5 5v1m1-5v1m3 0v1m1-1v1m5-2v1m1 1v1m1-1v1m2-2v1m1-2v2m2 0v1m4-5v1m0 1v1m1-2v2m7-1v1m0 1v1m1-4v1m1 2v1m2-3v1m2-2v1m0 5v1m4-5v1m1 2v1m6-7v1m0 2v1m9 2v1m2-4v1m2-1v1m0 1v1m2-3v1m1 3v1m1-1v1m2-4v1m0 2v1m2-4v1m2 1v1m1-3v2m1-1v2m1-3v1m5 0v1m1 0v1m1-2v1m2-1v1m3-2v1m0 1v1m1-5v1m4 4v1m3-3v1m1 0v1m2-1v2m2-4v1m1 1v1m6-2v1m2-2v1m3-1v1m1 1v1m1 0v1m3-3v1m0 1v1m2-3v1m2-2v1m0 1v1m4-2v1m1 1v1m1-3v1m5 1v1m5-2v1m18-1v1m24-1v1m6 0v1m22-3v1m5-1v1m10 1v1m7-1v1m1-6v1m7 2v1m3-3v1m0 2v1m7 0v1m3-3v1m1 1v1m3-2v1m2-2v2m1-2v1m5-2v1m1 0v1m5 1v1m1-1v1m1-4v1m0 2v1m2-3v1m1 0v1m2-2v1m0 1v1m3-4v1m0 2v1m1-2v2m1-2v1m1-2v1m1-1v1m4 0v1m3 0v1m1-4v1m4-1v2m3 1v1m1-3v1m1 0v1m1 0v1m5-6v1m1 2v1m1-2v1m0 1v2m1-2v1m1-1v1m1-3v1m2-1v2m1-2v1m1 1v1m3-1v1m2-1v1m1-1v1m1-3v4m5-5v2m1 0v1m1-1v1m0 1v1m2-5v1m0 1v1m1-1v2m1-1v1m4 0v1m1-2v1m3 0v1m2-3v1m4-4v1m2 2v1m0 1v1m1-5v1m2-1v1m0 1v1m1-2v1m1-3v1m0 2v1m2 0v1m1-2v1m0 1v1m3-4v1m1 0v1m1-2v1m0 1v1m1-4v1m0 3v1m1-5v1m0 1v1m0 1v1m2-1v1m1-4v1m0 2v1m3-7v1m0 3v1m2-3v2m1 0v1m3-1v1m1-2v1m2-1v1m1 1v1m1-4v2m1 1v1m4-2v1m2-4v2m2 3v1m2-6v1m2 4v1m2-5v2m2-3v1"/><path stroke="#d2d2d2" d="M1 13v1m1-2v1m1 0v1m5-2v1m1-2v1m1 2v1m3-3v1m1-1v1m1-1v1m1 1v1m5-2v1m1-1v1m4 0v1m3-2v1m5-2v1m4 0v2m1-1v1m4-3v1m1 0v1m4-1v1m4 0v2m1-3v1m3 2v1m2-4v1m3 1v1m1 0v1m1-3v1m3-1v1m3-1v1m1-3v1m2 0v1m1 1v1m2-3v1m1-1v1m3 2v1m1-3v1m1-1v1m2 0v1m1-1v1m1-2v1m1-2v1m0 4v1m1-5v1m2-1v2m1-1v1m2 0v1m3-5v1m1 1v2m1-3v1m1 1v1m1-2v1m1 2v1m2-5v1m0 1v1m1-2v2m4 0v1m1-4v1m1 0v1m1 0v1m2-3v1m1 2v1m1-3v1m1 0v1m0 1v1m1 0v1m1-5v1m0 3v1m2-3v1m1 1v1m3-3v1m1-2v1m1-3v1m0 4v1m2-2v1m0 1v1m3-3v1m3 1v1m1-2v1m1-2v1m2-2v1m0 1v1m1-5v1m3 3v1m2-1v2m2-5v1m1-2v2m7 1v1m1 0v1m1-4v1m1 3v1m1-6v1m2 4v1m1-4v1m1-3v1m2-2v1m3 3v1m2-1v1m2 0v1m3 0v1m7-2v1m3 0v1m2-2v1m4 0v1m4-3v1m0 1v1m5-3v2m4-2v2m1-1v1m2-3v1m6 1v1m7-1v1m1 0v1m7-4v1m3-1v1m1 2v1m2-4v1m2 2v1m2-1v1m1-2v1m3-3v1m2-1v1m0 1v1m1-2v1m3-2v1m3 0v1m3-2v1m3 1v1m3-3v1m0 1v1m2 0v1m1-6v1m4 3v1m1 0v1m3-3v1m1-1v1m1-1v1m3-2v1m7 0v1m1 0v1m3-2v1m3-2v1m3-1v1m4-2v1m0 1v2m6-2v1m1-3v1m4 3v1m2-4v1m1 1v1m3-2v1m1 0v1m3-2v1m1 0v1m3-3v1m2-4v1m1 2v1m3 1v2m1-5v1m2 0v1m2-2v1m1 1v1m1 0v1m2-1v1m1-4v1m0 1v1m1-1v1m1-4v1m1 2v3m3-3v1m1-1v1m0 1v1m2-3v2m1 0v1m1-2v1m1-3v2m1-3v2m0 1v1m2-2v1m0 1v1m1-6v1m1 1v1m2-2v1m1 0v1m2-1v1m0 1v1m2-2v1m0 1v1m2-5v1m0 3v1m1-6v1m0 3v1m1-4v1m1 1v1m0 1v1m1-4v1m1 1v1m4-5v2m5 2v1m1-3v1m0 1v1m2-1v1m1-1v1m2-8v1m1 1v1m0 2v1m0 2v1m1-4v1m1-3v1m0 4v1m1-5v3m1-3v1m1 0v3m1-2v1m1-5v1m0 4v1m1-6v1m2 1v1m1 2v1m1-1v2m1-2v1m1-1v1m1-3v1m1-1v1m1-1v1m1 0v1m4-2v1m1-2v1m1-3v1m0 3v1m3-3v1m2-1v1m0 2v1m2-3v3m2-2v1m2-4v1m1 4v1m1-2v1m2-3v1m1-4v1m0 3v1m2 1v1m2-5v1m1 1v1m1-2v1m1-3v1m4-1v1m0 3v1m2-3v1m2 1v1m3-2v1m2 0v1m1-3v1m1 1v1m1-5v3m1 1v1"/><path stroke="#dadada" d="M0 16v1m4-5v1m1-2v1m1 1v1m1-1v1m5 0v1m1-4v1m3 1v1m4-2v1m1-1v1m3-2v2m1-2v1m0 1v1m3-3v1m2 2v1m5-5v1m0 1v1m1-1v1m2-1v1m1-1v1m3 0v1m1-1v1m2-1v1m1-3v2m1-2v1m0 2v1m1-3v1m1 0v1m3-3v2m2-1v1m2-1v2m2-2v1m6 1v1m3-2v1m1-2v1m4-1v1m2 1v1m4-2v1m0 1v1m3-3v1m6-1v1m3 0v1m2-1v1m1-1v1m2-2v2m1-2v1m2-2v1m1 2v1m2 1v1m2-5v1m3-1v1m1 4v1m1-4v1m1-1v1m1-5v1m1 5v1m2-4v1m1 1v1m1-3v1m0 1v1m1-4v2m2-2v1m1 1v1m1-3v1m0 1v1m5-1v1m2-2v1m1-3v1m1 0v1m1 1v1m1 0v1m0 2v1m2-8v2m0 3v1m1-5v1m4 3v1m1-4v1m0 4v1m2-3v1m0 1v1m2-3v1m2-7v1m1 4v1m2-1v1m3-3v1m0 4v1m1-2v2m2-7v1m0 3v1m1 0v1m2-3v3m1-2v1m1-2v1m0 1v1m1-7v1m0 6v1m1-2v2m1-4v1m1-3v1m0 2v1m0 1v1m2-3v1m2-1v1m2 0v1m1-4v1m1-1v2m0 1v1m1 0v1m2-4v2m0 1v1m1-3v1m0 1v1m1-6v1m0 1v1m2-1v1m1-4v1m1 5v1m1-4v1m1 1v1m1-2v1m2 1v1m1-2v2m1-2v2m4-4v1m3 1v2m2-5v1m1 1v1m2-1v3m2-1v1m4-1v1m3-5v1m1 2v1m3-3v1m3 2v1m2-7v1m1 3v1m1-1v1m1-1v1m1-1v1m2 0v2m2-7v1m0 5v1m3-1v1m1-1v1m3-1v1m1-2v1m2-2v1m0 1v1m3-6v2m3 2v2m2-5v1m0 2v1m2-3v1m1 2v1m1-4v1m1-1v1m0 2v1m4-5v1m0 1v1m1 1v1m1-3v2m1 0v1m1-4v1m0 1v1m6-1v2m2-1v1m1-1v1m1-2v1m1 0v1m1-2v2m2-1v1m1-1v1m3-3v1m2-2v1m1 0v2m1-1v1m3-1v1m2-2v1m1 0v1m1 0v1m1-4v1m0 2v1m1-5v1m0 2v1m3-1v1m8-4v1m2 2v1m1-3v1m3 2v1m3-3v2m1-4v1m0 3v1m2-2v2m2-5v1m1 3v1m1-5v1m2 3v1m1-1v1m1-5v4m2-5v1m1 2v1m2-1v1m1 0v2m2-3v1m1 0v1m1-2v1m1-3v1m0 2v2m1-2v1m1-3v1m1-1v1m0 2v1m3-9v1m0 5v1m1-4v1m1 3v1m3-1v1m2-1v2m3-1v1m2-5v1m4-1v2m2-3v2m2-2v1m2-3v1m4 2v1m2 1v1m1-4v1m2 0v1m1-3v1m1 2v1m1-2v1m1 1v1m1-2v1m1-1v1m1-3v1m1 1v1m0 2v1m1-6v1m1 1v1m1 0v1m1-1v1m2-3v2m1-3v1m0 3v1m1 0v1m1-5v1m1-3v2m2-2v1m2 1v1m1-1v2m1-1v1m2-1v2m1-2v1m1-3v1m1-1v1m0 2v1m1-3v1m0 3v1m1-6v4m1-3v1m1-2v1m1-1v1m1-1v1m0 3v1m1-7v1m0 3v1m1-4v1m1 0v1m0 3v2m3-4v1m1 1v1m1-4v1m1 0v1m1-4v1m0 1v1m1-3v1m1-1v1m2 0v1m1-1v1m6 0v1m2 0v1m0 2v1m1-5v1m1 3v1m1-1v1m1-5v1m3-3v3m1-2v1m0 3v1m1-7v1m0 1v1m1 1v2m1-5v2m0 1v1m0 1v1m1-4v1m0 3v1m1-6v1m1 1v1m1 0v1m1-5v2m1-2v1m1-1v1m2-1v1m1 1v1m0 1v1m3-2v1"/><path stroke="#e3e3e3" d="M0 11v1m1 0v1m1 0v2m2 0v1m2-4v1m1-4v1m0 2v1m2-1v1m2-2v3m1-3v1m1-2v1m1-2v1m0 3v1m1-1v1m3-3v2m1-1v1m2-2v1m2 0v2m2-2v1m1-1v1m1-2v1m1 0v1m1-3v1m0 1v1m1 0v1m2-2v2m1-3v1m4-1v1m0 1v1m3-6v1m0 4v1m1-4v1m3 3v1m6-1v1m2-2v1m1-3v1m2 1v1m1-3v1m1 1v1m2-1v2m1-2v2m2-4v1m1 1v1m2-3v2m4 0v1m2-1v1m1-3v1m0 3v1m1-3v2m2-1v1m1-4v1m1 0v1m2 0v2m3-1v1m1-1v1m1-2v1m3-2v1m2 0v1m2-1v1m1-1v1m4-3v1m1-1v1m0 2v1m2-3v1m1 1v2m1 0v1m1-5v1m2 0v2m0 1v1m1-4v1m2-1v1m0 1v1m1-2v1m1-4v1m0 1v1m1 0v1m1-1v1m1-3v1m1-1v2m2-1v1m2-2v1m0 4v1m1-3v1m1-4v1m1 1v1m0 2v1m1-3v1m1-4v4m1-5v1m0 2v2m2-2v1m1-5v1m0 2v1m0 1v1m2-3v1m1-3v1m0 3v1m1-3v2m1-2v1m0 3v1m1-5v3m0 3v1m1-5v1m1-2v1m2 0v1m1-3v1m0 5v1m1-5v1m0 2v1m1-4v1m0 1v1m1-6v1m0 2v2m2-2v1m1 0v1m1 0v1m1-2v1m0 1v1m1 0v1m2-3v1m0 1v1m1-7v1m0 2v2m0 1v1m1-5v2m1-5v1m0 2v1m4 0v1m2 2v1m3-5v1m2 1v1m1-2v1m1-4v2m1 0v2m0 2v1m1-6v2m1-3v1m0 5v1m3-1v1m2-3v1m1-3v1m1-1v1m1 0v1m1 0v3m1-6v2m0 3v1m3-8v1m0 2v1m0 1v1m2-2v1m2-3v1m1-3v1m0 2v1m1-1v1m1-1v1m0 1v1m1-1v2m1-2v1m1-2v3m1-2v1m1 1v1m1-5v2m1 0v1m1-3v1m0 1v3m1-4v1m0 1v2m1-2v1m1-4v1m2-1v1m0 2v2m2-6v1m1 1v2m0 1v1m1-3v1m0 1v1m2-4v3m2-5v1m0 4v1m1-5v2m1 2v1m1-4v1m1 0v1m1-4v1m0 4v1m2-5v2m1 0v1m1-2v1m0 1v2m2-2v1m1-1v1m1-1v1m1-2v1m1-2v2m1-8v1m0 6v2m1-3v1m0 1v1m1-5v2m0 2v1m1-2v1m0 1v1m1-8v1m0 3v1m0 1v1m1-4v1m1 0v2m1-3v1m0 3v1m1-5v1m0 2v1m1-2v1m0 1v1m2-4v1m2 0v1m1 1v1m1-4v1m1 0v1m1-2v2m1-4v1m1 4v1m1-7v2m1-1v1m0 3v1m1-2v2m1-5v1m0 3v1m1-4v1m1-3v1m0 5v1m2-1v1m1-2v2m2-6v1m1 1v2m3 1v1m3-1v1m1-5v2m1-1v1m0 1v1m1-1v1m2-3v2m1 0v1m2-5v1m0 1v1m0 1v1m1-4v1m2 3v1m1-3v2m1-7v1m0 2v1m1 2v1m1-4v1m0 2v1m3-1v2m1-5v1m2-3v1m0 1v3m2-1v1m0 1v1m1-2v1m2-7v1m0 1v1m0 2v1m0 1v1m1-1v1m2-6v1m0 4v1m1-1v1m1-4v2m0 1v1m1-2v2m1-5v3m0 1v1m1-4v1m1-4v1m0 1v1m0 1v1m3-2v1m0 1v1m1-2v1m0 1v1m1-6v1m0 4v1m1-1v1m2-7v2m0 1v1m0 1v1m1-4v1m0 1v1m1-4v2m0 1v1m1-2v1m2-3v1m0 4v1m4-6v2m1 3v1m1-6v2m0 2v1m1-4v2m1-1v2m1-6v1m0 1v1m0 4v1m1-4v1m1 0v2m2-2v1m1 1v1m1-5v1m1-2v1m1 0v1m2 2v1m2-2v1m1-4v1m0 2v1m1-5v1m0 1v1m1-1v1m1-1v1m0 2v2m1-4v1m0 2v1m2-4v1m1-1v1m1-1v1m1-2v1m1-5v1m0 4v1m0 1v1m3 0v1m1-4v1m1 1v1m1-6v1m0 3v1m3-2v1m1-3v1m1 1v1m0 1v1m1-6v1m0 5v1m1-4v1m1-4v1m0 5v1m2-4v1m0 2v1m1-7v1m1-2v3m1 0v1m1-2v1m4-1v1m1-1v1m1-6v1m0 5v1m1-3v1m0 3v1m1-5v1m1-1v1m0 1v1m1-4v1m1 0v1m2 1v1m0 1v1m1 0v1m1-5v1m1-3v2m1-1v1m0 5v1m1-7v2m0 1v1m3-4v2m2 2v1m4-6v1m1 1v1m0 4v1m1-6v2m2-3v1m1-1v1m1 1v1m0 3v1m1-7v1m0 1v1m3-3v1m2 1v1m2-3v2m1-1v1m1 0v1m1 2v1m3-4v1m1-3v2m3-1v1m0 1v1m1-2v1m1-2v1m2 1v1m0 1v1m1-5v1m0 2v1m1-6v1m0 2v1m2-2v2m1-2v1m0 1v1m0 1v1m1-5v1m1-1v1m1-3v1m1 0v1m1-3v1m0 1v1m0 2v1m1-4v1m1 0v1m1-2v1m1-1v1m0 1v1m2-5v1m1 5v1m1-7v2m3 2v2m1-5v1m1 0v1m0 2v1m2-3v1m0 1v1m1-3v2m2-2v2m1-5v1m0 1v2m2-1v1m1 0v1m1-4v1m0 2v2"/><path stroke="#ececec" d="M0 10v1m0 1v2m2-5v1m0 1v1m1 0v1m1-5v1m1 1v1m2 0v1m1-1v1m1-2v1m1 0v1m1-2v1m1-1v1m1 3v1m1-4v1m1-1v1m1-1v2m1-3v1m0 1v1m1-4v1m2-1v1m0 1v1m2-3v1m0 1v2m1-4v1m1-1v2m2 0v1m4-1v1m1-1v2m1-3v2m1 1v1m1-3v1m1-4v1m0 4v1m1-4v2m2-1v1m1-1v1m1-3v1m0 2v1m1-1v1m1-2v2m2-2v1m1 0v1m1 0v1m2-5v1m1 0v1m1-2v3m1-1v1m2 0v1m2-2v1m2-1v1m1-2v2m0 2v1m1-5v1m1 0v1m1-3v3m0 2v1m1-3v1m1-1v1m1-1v2m1-1v1m1-2v1m2-4v2m1 0v2m1-2v1m3-2v1m0 1v1m1-2v3m1-4v1m0 1v1m1-5v1m1 2v1m1-3v2m0 1v1m1-2v2m1 0v1m1-3v1m1-2v2m1 0v1m3-2v1m0 2v1m1-5v1m1-4v1m0 1v1m0 1v1m0 1v1m2-3v1m1 0v1m0 1v1m1-3v1m1-3v2m1 2v1m1-5v1m3 2v1m1-1v1m1-2v1m1 1v1m2-4v1m1-3v1m0 2v1m1-3v1m1 0v1m0 2v1m1-5v3m0 1v1m3-2v1m1 1v1m1-2v1m0 1v1m2-4v1m2-2v1m1 2v1m1-5v2m0 1v1m1-4v1m0 2v1m1-3v1m1 0v1m2-2v2m1-2v1m0 1v1m2-1v1m1-4v3m4-4v1m0 4v1m2-2v1m1 1v1m1-7v1m0 3v2m1-4v3m1-1v1m4-2v2m0 1v1m1-3v1m1-2v2m1-4v1m0 6v1m1-6v1m1 3v1m1-2v1m0 2v1m1-6v2m1-1v1m1-3v2m1-2v1m0 3v1m2-7v1m0 1v2m0 1v1m2-4v1m1-5v1m0 2v1m0 2v1m0 2v1m2-6v1m1 0v1m2-3v1m1 1v2m1-1v1m0 2v1m1-1v1m2-8v1m0 1v1m1-3v1m0 3v1m2-2v2m1-4v1m0 4v1m1 1v1m1-5v1m1-5v2m1 0v1m1 0v1m0 3v1m1-4v1m1 2v1m1-6v1m0 3v2m2-5v1m1-3v2m0 3v1m0 1v1m1-6v2m0 1v1m1-6v2m0 4v1m1-4v2m1 0v1m1-7v1m0 1v1m0 2v2m2 1v1m1-6v3m1-2v1m0 3v1m1-2v2m1-6v1m0 2v2m2-5v2m2-3v2m0 2v1m1-7v1m1 2v1m1-3v1m0 2v2m2-2v1m0 1v1m1-5v1m0 1v1m0 3v1m2-6v1m1 2v2m2-4v1m0 3v1m1-2v1m1-2v1m1-4v2m1-1v1m0 3v1m1-1v1m1-3v1m1-5v1m0 1v1m0 1v2m1-2v1m1-5v1m0 4v2m2-9v1m0 2v1m0 4v1m1-5v2m1-3v1m0 1v1m1-1v1m0 2v1m1-7v1m0 1v2m0 2v1m2-1v1m1-3v1m1-6v1m0 4v1m0 1v1m1-10v1m0 7v1m1-5v1m0 2v1m1-1v1m1-4v1m0 3v1m1-3v2m1-4v1m0 2v1m1-3v1m1 1v2m1-1v1m1-1v1m1-6v1m1 4v1m1-7v1m0 6v1m1-6v2m0 2v1m1-6v1m1 1v1m1 0v1m1 0v1m1-3v1m0 1v1m0 1v1m1-9v1m0 1v1m0 1v1m1-1v1m0 1v1m1-4v1m0 3v1m2 0v1m1-8v1m0 3v3m2-3v2m1-2v1m0 2v1m1-5v1m1 1v1m0 1v1m1-6v2m0 2v2m2-7v1m0 2v1m1-2v1m0 2v1m1-9v1m1 2v2m1 2v1m0 1v1m1-8v1m0 3v1m1-2v2m1-2v1m1-1v1m0 1v1m1-4v4m1 1v1m1-4v1m0 1v1m1-3v1m0 1v1m1-3v1m0 1v1m1 0v1m1-2v1m1-8v1m0 5v1m0 1v1m1-3v1m1-5v2m0 1v1m0 2v1m1-4v2m1-3v3m1-6v1m0 1v1m0 2v2m1-7v1m0 1v1m2-1v1m0 1v1m0 1v1m1-7v1m0 1v2m2 1v1m2-1v2m1-5v3m0 1v2m3-6v1m1-2v1m0 1v1m0 1v1m1 0v1m2-3v1m0 2v1m1-7v1m0 3v2m1-6v1m0 2v2m1-5v2m1-2v1m1 1v1m1 2v1m1-7v1m1 2v1m0 1v1m1-4v1m0 1v1m1-4v1m1 1v1m1-2v1m2-3v1m0 2v1m0 1v1m1-3v2m0 1v1m1-3v1m1-5v1m1 1v1m0 3v1m1-3v1m0 2v1m1-7v1m1-3v1m0 2v2m2-3v1m0 3v1m1-7v1m0 3v1m1-2v1m1-3v1m0 1v2m1-3v2m0 3v1m1-9v1m0 3v1m0 1v1m1 0v1m1-4v1m1-2v1m0 2v1m1-11v1m0 5v2m0 1v2m1 0v1m1-4v2m1-7v1m0 2v1m1 1v1m1-6v1m0 6v1m0 2v1m1-4v1m2-7v1m0 8v1m2-8v1m1-1v4m1-5v2m0 1v1m0 2v1m1-4v1m0 2v1m1-5v3m1-3v1m0 1v1m1-5v1m0 1v2m1-3v1m2 1v1m0 1v1m1-4v1m1 0v1m1-1v2m0 2v1m2-4v1m2-2v1m0 2v1m2-7v1m0 1v1m0 1v1m0 1v1m0 1v1m1-10v2m0 3v1m0 1v2m1-5v1m1 2v1m1-2v1m1-7v1m0 5v1m1-5v1m0 1v1m2-2v1m1-2v1m0 2v1m1 1v1m1-7v2m0 1v1m0 1v1m0 2v1m1-6v2m1-4v1m0 3v1m1-6v1m0 2v1m1-2v1m1 1v1m1-3v1m1-6v1m0 5v1m2-2v1m0 1v1m0 1v1m0 1v1m2-10v1m0 3v1m3-3v2m3-2v1m2 1v1m6-4v1m0 3v1m1-6v1m0 3v1m1-4v1m0 1v1m1 2v1m1-4v1m3-3v1m0 3v1m1-5v1m1-2v1m0 2v1m2-5v1m0 1v1m0 4v1m1-6v2m1-1v2m1-2v3m2-4v1m0 2v1m1 1v2m2-4v1m1-4v1m1 2v1m1-3v2m1-6v1m0 1v1m1 4v1m3-2v2m0 2v1m1-6v1m0 3v1m1-8v1m1 0v2m1-3v1m0 1v1m1-2v1m0 3v1m2-2v1m1-1v1m1-2v1m5 1v1m1-3v1m1-2v1m0 2v1m0 1v1m1-4v1m1-5v2m3 0v1m1 5v1m1-8v2m1-3v1m0 2v1m1-4v2m1-4v1m1 1v2m0 1v1m1-1v1"/><path stroke="#f6f6f6" d="M0 9v1m1-2v1m0 1v2m2-2v1m1-4v1m0 2v1m1-3v1m0 4v1m1-3v1m2-7v1m0 3v1m1-1v1m1 0v1m0 2v1m1-5v1m2-2v1m1-1v1m0 1v1m1-1v1m1-1v1m1 0v1m1-2v1m2-3v1m0 4v1m2-4v1m1-1v2m2-3v2m1-4v3m1-2v1m0 1v1m1-4v1m0 1v2m1-3v1m1-3v1m0 1v2m0 2v1m1-4v1m1-4v1m0 1v2m1-1v1m1-1v1m2-2v2m1-1v2m1-2v2m1-1v1m1-5v1m0 4v1m1-1v1m1-4v3m1-4v2m0 1v1m1-2v2m1-3v1m0 1v2m3-5v1m0 2v2m1-3v1m0 1v1m2 0v1m1-7v1m1 3v1m1 0v1m1-6v1m1 3v1m1-2v2m0 1v1m2-7v2m0 1v1m0 1v2m1-1v1m1 0v1m1-7v1m0 2v1m0 2v1m1-7v1m0 1v1m0 1v1m1-4v2m0 1v1m2-4v1m0 2v1m1-1v2m1 0v1m3-3v2m1-3v1m1-4v1m1 1v1m1-2v2m1-1v2m1-1v1m1-3v1m1-2v1m0 1v2m1 0v2m1-3v1m1 1v1m1-4v2m0 2v1m1-4v1m0 1v1m1-2v2m1-4v1m0 2v1m1-4v1m1 2v1m1-7v1m0 4v2m1-6v1m0 4v1m1-4v1m0 1v1m1-2v2m1-5v1m0 4v2m1-3v3m1-6v1m1 1v1m0 1v1m1-1v1m1-4v1m1 0v1m1-2v3m0 1v1m1-8v1m0 1v1m1 2v1m1-3v2m0 1v1m1-2v1m1 0v1m0 1v1m1-6v1m0 5v1m2-5v2m1-5v1m0 3v1m1-4v1m1 2v2m1-3v1m1-1v1m1-2v3m1-4v1m0 1v2m1-3v1m1-1v2m2-4v1m0 1v1m0 2v1m1-5v1m1-1v1m0 1v1m0 2v1m2-5v1m1 0v1m0 1v1m2-6v2m0 1v2m2-6v1m0 3v1m0 2v1m1-6v1m1-1v3m1-1v1m0 2v1m1-7v5m0 3v1m1-8v2m1 0v1m1-1v3m2-5v4m0 2v1m0 1v1m1-7v3m1-5v3m0 1v1m1-7v1m0 5v1m1-4v3m1-1v1m1 2v1m1-6v1m0 3v3m1-7v1m0 3v1m1-3v2m1-1v1m0 1v1m1-4v2m1-3v2m0 1v1m1-3v1m1 3v1m1-6v1m0 3v1m1-6v1m0 4v1m1-5v1m0 3v1m1-4v1m0 1v1m1-8v1m0 5v2m0 1v2m1-9v1m0 1v2m1-3v1m1 2v1m0 1v1m1-6v1m0 2v2m1 0v1m0 1v1m1-12v1m0 1v1m0 4v1m0 5v1m2-9v2m0 6v1m1-10v5m1-3v1m0 3v1m1-5v1m0 1v1m0 1v1m1-6v1m0 3v2m0 1v1m1-11v1m0 2v1m1 1v2m0 1v1m1-6v1m1-2v1m0 2v2m1-1v1m0 2v1m1-7v1m0 2v1m1 0v1m1-5v2m1-3v1m1-1v3m1 3v1m0 1v1m1-9v1m0 2v1m0 2v1m1-8v1m0 1v1m0 2v2m1-8v1m0 3v2m0 5v1m1-6v1m0 1v1m1-6v2m0 4v2m1-5v1m0 1v1m1-5v1m0 1v1m1-4v1m0 1v2m1-5v2m0 1v3m1-6v1m0 2v1m1-5v1m0 3v1m1-1v3m1-3v1m0 1v1m1-6v1m1 2v1m1-4v1m0 1v1m0 3v1m1-6v2m1-3v1m0 3v2m0 3v1m1-9v1m0 4v1m1-3v1m1-1v1m1-7v1m0 1v1m0 3v1m0 1v1m1-5v1m1 0v1m1-5v1m0 1v1m0 1v1m0 1v2m0 1v1m1-5v2m1-5v2m0 2v1m0 3v1m1-9v4m0 2v1m1-8v1m0 5v2m1 1v1m1-8v1m0 3v3m1-9v1m0 2v2m0 2v1m1-6v1m0 2v1m1-4v1m0 2v2m1-10v1m0 8v1m1-5v1m0 1v1m0 3v1m1-5v1m2-2v1m0 1v2m1-5v2m1-6v1m0 2v1m0 1v1m0 1v1m0 3v1m1-6v1m1-1v1m0 3v1m1-10v3m0 1v3m1-3v3m1-2v2m2-9v1m0 7v2m1-4v1m0 1v1m1-7v2m0 2v1m0 4v1m1-8v3m0 1v1m1-5v1m2 2v1m1-6v1m0 1v1m0 1v1m0 2v1m1-5v1m0 1v2m1-5v1m0 1v2m0 1v2m1-6v1m0 1v3m1-4v1m0 3v1m1-8v1m0 2v1m0 1v1m0 1v2m1-8v1m0 1v1m0 5v1m1-10v1m0 3v2m1-8v2m0 2v1m0 4v1m1-8v1m0 3v1m1-3v1m0 2v2m1-5v2m1-4v1m1 1v1m0 6v1m1-12v1m0 3v1m1 3v1m0 1v1m1-9v4m0 2v3m1-6v1m1-2v1m1-10v1m0 7v5m0 2v1m1-11v1m1 2v1m1-1v3m1-2v1m0 3v2m1-6v4m0 1v1m1-4v1m0 3v1m1-5v1m0 1v1m1-6v1m0 4v3m1-9v1m0 1v1m0 4v1m1-5v2m1-2v3m1-7v1m0 2v3m0 2v1m1-7v2m0 1v1m1-4v4m0 1v1m1-7v4m1-4v2m0 1v1m0 1v1m1-6v1m1 1v4m1-6v1m1-3v1m0 1v2m0 1v2m0 1v1m1-7v1m0 2v1m1 1v2m1-5v1m0 1v1m1-7v1m0 3v1m0 2v1m1-2v1m0 4v1m1-10v3m1 0v1m0 5v1m1-7v1m0 1v2m1-7v2m1-3v1m0 1v1m0 1v1m1 2v1m1-4v3m1-2v2m0 2v1m1-6v1m1-5v1m0 3v1m1-2v1m1-1v2m0 1v3m1-6v1m0 1v2m0 1v1m1-8v1m1-4v1m0 3v1m0 2v1m1-4v4m1-8v1m0 1v2m1-1v1m0 1v1m0 1v1m1-4v2m0 1v1m0 4v1m1-9v1m0 6v1m1-4v1m0 1v1m1-10v1m0 3v1m0 1v1m1-2v1m1-1v2m0 1v1m1-10v1m0 6v1m0 2v2m1-8v1m1-1v3m1-6v1m1 3v3m1-2v1m1-2v1m0 2v2m1-10v1m0 5v2m0 1v1m1-4v2m0 2v1m1-8v1m0 2v2m1-5v2m0 1v1m0 2v1m1-6v1m0 5v1m1-9v1m1 4v1m1-2v1m1-6v1m1-1v2m0 1v2m0 2v1m1-7v1m0 3v1m1-3v1m0 1v1m0 2v1m2-2v1m1-4v2m1-3v1m0 1v1m0 1v1m1-6v1m1-1v1m0 1v1m0 1v1m1-1v1m0 4v1m1-7v2m1-4v1m0 1v1m1-1v1m1-4v1m1-1v1m0 2v1m1-3v2m0 1v1m1-1v1m1-7v1m0 2v3m0 2v1m1-3v2m1-7v1m0 1v1m0 3v1m1-6v1m1-2v1m1-1v1m0 3v1m0 1v1m1-8v1m0 1v2m1-2v1m1-1v1m0 1v1m0 2v1m1-5v1m0 2v2m1-4v1m0 1v2m3-4v2m1-5v2m0 2v1m1-5v1m0 2v2m1-5v1m0 1v3m2-4v1m0 4v1m1-4v1m0 3v1m1-7v1m0 1v1m2-3v2m0 3v1m1-5v1m0 3v1m1-10v1m0 4v1m0 1v1m1-1v1m2-3v1m0 4v1m1-7v1m1-1v2m1-2v1m0 1v2m1-6v1m1 1v1m0 1v1m0 5v1m1-8v1m0 2v1m1-3v1m1-7v1m0 1v1m0 2v1m1-1v1m0 2v1m1-4v2m1-2v1m1-4v3m0 2v1m0 1v1m1-6v2m2-5v1m1 4v1m0 2v1m1-8v1m0 1v2m0 2v1m1-5v2m0 3v1m2-6v1m0 1v1m0 1v1m2-6v1m0 1v1m0 1v1m0 1v1m1-5v1m1-7v1m0 5v1m0 2v1m1-5v2m1 1v1m1-3v2m1-2v1m0 2v1m1-7v2m0 2v1m0 1v1m1-4v2m2-2v2m1-2v2m0 1v1m1-5v1m0 1v2m1-2v1m2-3v1m1 0v1m0 4v1m1-10v1m0 7v1m1-4v1m1-6v1m0 5v1m2-7v2m1 0v4m0 1v2m1-7v1m0 2v1m2-3v2m0 2v1m1-7v1m0 1v1m2-4v1m0 2v1m1-1v1m1 0v3m1-5v5m1-6v1m0 3v2m0 1v1m1-8v1m0 1v1m0 2v1m1-1v1m2-6v1m0 3v1m0 2v1m1-3v1m1-5v1m1-4v1m0 1v1m0 4v2m1-1v1m1 0v1m1-8v1m1-1v1m0 2v2m1-4v1m0 2v1m0 2v1m1-7v1m1-2v2m1 0v1m0 1v1m1-4v1m0 1v1m0 1v1m0 2v1m2-7v2m1-1v1m0 1v1m1-7v1m0 1v1m0 2v2m1-4v2m0 1v1m1-2v1m1-4v1m1-2v1m0 1v1m0 1v1m1-10v1m0 4v2m1-3v1m0 3v2m1-5v1m2 3v1m1-5v3m1 0v3m1-1v1"/></g>
<path transform="translate(219,1128) scale(.5)" d="M885 145h0m-379 23h0m-489 72h0m585-10h0m173 14h0m75 47h0m-192-17h0m0 11h0m-548 1h0m-5 4h0m-24-16h0m-15 21h0m-6-11h0m-49 53h0m41 2h0m44 4h0m24-34h0m1 27h0m3 5h0m2-2h0m33-13h0m20-23h0m2 37h0m6 6h0m15-35h0m23-5h0m31 35h0m26 1h0m43-31h0m104 21h0m26-8h0m133 0h0m3 6h0m31 3h0m98-33h0m22 14h0m15 5h0m49 19h0m3 2h0m18-11h0m45 20h0m24 34h0m-5-9h0m0 15h0m-3 4h0m-2-33h0m-1 37h0m-2-4h0m-7-41h0m-13 41h0m-6-29h0m-2 28h0m-6-5h0m-5-8h0m-7-2h0m-4 13h0m-1-18h0m-1 12h0m-7-15h0m-11-10h0m0 14h0m-27 19h0m-26-29h0m-11 23h0m0-6h0m-7-7h0m-7 16h0m-50-23h0m-13 8h0m-32-13h0m-4 24h0m-24-10h0m-4-19h0m-8 28h0m-44-4h0m-10 8h0m-37-15h0m-11 24h0m-12-25h0m-44-5h0m-39 19h0m-38 0h0m-25-11h0m-14 20h0m-13-39h0m-47 8h0m-12 30h0m-35 2h0m-17 2h0m-10-15h0m-4 10h0m-10-34h0m-2-4h0m-22 20h0m0 13h0m-4-19h0m-4-17h0m-13 30h0m-5-5h0m-37-4h0m-3 16h0m-1-34h0m-5 21h0m-8 11h0m-2 1h0m-2-14h0m-5-7h0m-4 32h0m-2-13h0m-3-26h0m0 19h0m-2 9h0m-10 2h0m-4 5h0m-11-18h0m-2 21h0m-16-6h0m-1-20h0m-8 11h0m0 53h0m3 10h0m0-15h0m3 9h0m3-35h0m4 1h0m0 11h0m0 27h0m2-17h0m3-13h0m3 19h0m4-7h0m2-7h0m1-9h0m0 28h0m6-12h0m2 22h0m2-31h0m0 0h0m5 5h0m0 12h0m2 14h0m1-12h0m1 6h0m0-18h0m2-2h0m2-13h0m3 40h0m5-25h0m2 23h0m3-1h0m1-28h0m3 14h0m4-17h0m0 19h0m2-11h0m6-5h0m0-15h0m0 10h0m0-13h0m3 3h0m1 36h0m3-12h0m7 13h0m1-16h0m3-17h0m1 39h0m1-40h0m13 11h0m5 19h0m3 1h0m1-28h0m2 31h0m3 5h0m6-13h0m3-4h0m11 2h0m2 14h0m3-34h0m3 37h0m1-29h0m0-16h0m1 26h0m7 8h0m7 2h0m2-9h0m2 11h0m0 0h0m7 9h0m3-3h0m10-7h0m4-13h0m7 13h0m1-10h0m0 2h0m4-3h0m7 8h0m11-11h0m7-25h0m3 42h0m2-26h0m10-4h0m4 30h0m3 1h0m1-1h0m1 0h0m4-24h0m1-11h0m8 0h0m4 1h0m17 2h0m16 29h0m0-10h0m4-18h0m46 6h0m19 4h0m29-15h0m37 1h0m13 36h0m9-20h0m16 25h0m27-43h0m20 41h0m35-8h0m10-13h0m14 6h0m41-1h0m9-14h0m1 4h0m22 8h0m0 15h0m3 4h0m1-30h0m5-15h0m4 37h0m4 4h0m1 4h0m10-15h0m8 8h0m3-10h0m2 3h0m30-9h0m1-8h0m0 25h0m15-19h0m1-22h0m19 38h0m12 6h0m4-25h0m13-19h0m7 22h0m1-2h0m7 24h0m2-36h0m1 20h0m1 11h0m13-12h0m4 15h0m10 3h0m14-1h0m2-26h0m0-5h0m5 13h0m9-11h0m5 20h0m4 14h0m10-30h0m1 33h0m-2 17h0m0-8h0m-2 36h0m-3-24h0m0 15h0m-2-18h0m-1 15h0m-2 2h0m-6-15h0m-3-5h0m0 0h0m-3-7h0m0 33h0m-1-29h0m-4 32h0m-3-4h0m-9 6h0m-1-6h0m-8-9h0m0-1h0m-3 4h0m0 9h0m-5-21h0m-5-14h0m-2-1h0m-1 12h0m-1 8h0m-1-17h0m-4 6h0m-1 22h0m-5-28h0m0 23h0m-2 11h0m-1-14h0m-11-28h0m0 4h0m-1 19h0m-2-9h0m-6 26h0m-8-3h0m0-23h0m-10 27h0m-9-34h0m-2 38h0m-3-43h0m-3-5h0m-3 37h0m0-9h0m-4-2h0m-2-20h0m-14 16h0m-3 5h0m-3-27h0m-2 16h0m-6-7h0m0-7h0m-6 30h0m-1-7h0m-1 20h0m0-24h0m-1-9h0m-5-1h0m-5 36h0m-2-8h0m-10-29h0m-3 30h0m-2-6h0m-2-11h0m-5 11h0m-5-12h0m-2-12h0m-1 14h0m-4 6h0m-3-6h0m-10 19h0m-2-13h0m-3 6h0m-2-12h0m-8 24h0m-2-18h0m-10-18h0m-2 13h0m-34-16h0m0 27h0m-7-25h0m-20 12h0m-7-12h0m-9 21h0m-1-18h0m-1 27h0m-2-4h0m-5-28h0m-1 33h0m-2-13h0m-1 18h0m-11-37h0m-1 23h0m0-12h0m-22 6h0m-9 18h0m-1-33h0m-5 5h0m-4-17h0m-3 0h0m-20 33h0m-3-19h0m-2 28h0m-1-17h0m-5 11h0m0-27h0m-1 19h0m-2-16h0m-23-12h0m-6 32h0m-15-10h0m-8-13h0m0 37h0m-1-1h0m-1-2h0m-3 1h0m-11-7h0m-2-22h0m-15-11h0m-3-2h0m-3 28h0m-7 16h0m-3-45h0m-7 44h0m-6-13h0m-2-4h0m-2 18h0m-7-29h0m-3 22h0m-12-14h0m-15 21h0m0-42h0m-2 35h0m-6-3h0m-2 9h0m-1-23h0m-2 16h0m-4-13h0m-3-3h0m0-11h0m-4 10h0m-1 17h0m-1 7h0m-1-7h0m0-17h0m-3-18h0m-1 38h0m-7 1h0m0-16h0m0 12h0m-6-29h0m-8 35h0m-3 2h0m-2-14h0m0-13h0m-5 15h0m-5-15h0m-8 15h0m0 12h0m-1-18h0m-1 18h0m0-1h0m-2-23h0m-1 16h0m-4-3h0m-7-20h0m-1 9h0m-3 21h0m0-1h0m-2-42h0m-2 37h0m-1-22h0m-2 0h0m-3-14h0m0 1h0m-1 30h0m-6 11h0m-4-2h0m0-32h0m-5-11h0m-2 24h0m-2-17h0m-2 36h0m0-32h0m-1 34h0m0-30h0m-3 30h0m-1-34h0m-2-3h0m0 13h0m0-1h0m-4 1h0m-3 5h0m-1 14h0m-2-31h0m-1 4h0m-1 12h0m-6-10h0m-1-7h0m-1-9h0m-2 10h0m-2 0h0m-9 3h0m0 23h0m0 10h0m-1-12h0m-3 6h0m0-13h0m-2-6h0m-1-2h0m0 23h0m-1 1h0m0-37h0m-1 12h0m-3-16h0m-4 38h0m-1 9h0m-1-1h0m-4-7h0m-1 2h0m-1-27h0m-1 25h0m0-33h0m-3 25h0m-6-18h0m-1 5h0m-1 22h0m-2 0h0m-2 1h0m0-31h0m0 32h0m-4-37h0m0 42h0m-1-35h0m-2 6h0m-3 22h0m-1-42h0m-1 47h0m0-46h0m-1 30h0m0-25h0m-1 14h0m0-4h0m-4 14h0m0 17h0m-1-23h0m0 24h0m-3-23h0m0 10h0m-3-15h0m0-6h0m-1-3h0m-2 32h0m-1-36h0m-3 15h0m-2 5h0m-1 22h0m0-38h0m-1-2h0m-1 7h0m-1 32h0m-2-29h0m-1-3h0m-6 30h0m0-34h0m-1-7h0m-2 5h0m0 30h0m-3-26h0m0 29h0m-3-33h0m-1 35h0m0-4h0m-3 1h0m0-25h0m-1-5h0m-1-1h0m-1-7h0m-3 33h0m0 12h0m0-30h0m-6-3h0m-1-13h0m0 28h0m-3 13h0m-1-13h0m-1 4h0m-3 12h0m-1-15h0m0-9h0m-2 3h0m0 24h0m1 22h0m3 7h0m4 0h0m0-12h0m0 8h0m1-22h0m1 27h0m0-12h0m0 5h0m0-11h0m0-12h0m1 26h0m0-19h0m2 8h0m5-7h0m0 13h0m0-7h0m0 13h0m2-21h0m0 0h0m1 4h0m1 13h0m0 8h0m1-31h0m1 2h0m0 2h0m1 3h0m1-2h0m1 23h0m0-5h0m1-5h0m1-15h0m0 20h0m0 6h0m1-19h0m1 2h0m2 17h0m0 0h0m2-11h0m2-13h0m3-5h0m0 5h0m3 16h0m1 10h0m0-23h0m0-1h0m1 5h0m4 13h0m0-9h0m0 4h0m0-14h0m2-3h0m2 26h0m0-7h0m2-22h0m1 5h0m0 20h0m1 1h0m0-6h0m3-10h0m1 17h0m1-15h0m0 2h0m1-2h0m0 16h0m1 4h0m4-26h0m0-6h0m3 24h0m0-6h0m0-6h0m0 20h0m1-10h0m2 8h0m1-10h0m1-16h0m0 29h0m1-13h0m3 6h0m2-8h0m1-6h0m2 10h0m4-14h0m0 27h0m2-22h0m1 14h0m1-15h0m0 4h0m0-1h0m1-15h0m1 16h0m0-16h0m0 9h0m1 6h0m5 0h0m1 9h0m0 10h0m1-34h0m2 0h0m0 26h0m1-6h0m0-5h0m2-6h0m1 7h0m1 5h0m1-15h0m1 30h0m1-10h0m0 13h0m2-4h0m0-9h0m1-8h0m1 16h0m0-23h0m2 2h0m1 12h0m1-19h0m1 15h0m1 15h0m1-29h0m1-7h0m1 33h0m1 5h0m1-33h0m2 28h0m0-23h0m1 5h0m1 1h0m2 6h0m1 9h0m0-31h0m2 41h0m2-28h0m1 1h0m1 19h0m0 6h0m2-11h0m1 1h0m1 1h0m0-6h0m3-14h0m0 11h0m5 14h0m1 5h0m0-10h0m2-24h0m0 18h0m4 14h0m0-31h0m2 8h0m2 8h0m1 14h0m1 8h0m4-39h0m0 9h0m3 32h0m0 0h0m0-9h0m1-30h0m0 9h0m2 29h0m1-3h0m0-17h0m1-9h0m1 26h0m2-29h0m1-4h0m1 4h0m2 20h0m0 0h0m2 5h0m1-27h0m2 20h0m1 9h0m2-25h0m0 24h0m1-19h0m2-18h0m1 41h0m4-39h0m4 11h0m0 0h0m2-2h0m0-1h0m0-3h0m1 34h0m0-39h0m1 29h0m4-30h0m4 3h0m0 35h0m2-20h0m0 10h0m0 4h0m1 3h0m1-16h0m0 4h0m0-25h0m3 28h0m1-28h0m0 34h0m4-2h0m0 0h0m2 2h0m4-2h0m1-27h0m0 34h0m0-1h0m3-4h0m0-36h0m3 30h0m0-7h0m0 23h0m2-40h0m1 40h0m1 2h0m1-1h0m0-12h0m1-17h0m0 3h0m2 17h0m3-31h0m1 17h0m0 4h0m3-27h0m1 11h0m1 23h0m0-11h0m1-17h0m1-5h0m1 15h0m2 12h0m6 9h0m1-19h0m1 24h0m3-41h0m2 23h0m5 21h0m2-44h0m4 1h0m1 26h0m1-14h0m0 18h0m1-10h0m5 15h0m3-19h0m6 0h0m1-18h0m1 5h0m1 8h0m8-4h0m6 31h0m8-25h0m3 12h0m2-3h0m1 13h0m0-36h0m4 11h0m1 35h0m1-25h0m4-22h0m1 40h0m0-30h0m2 35h0m1-7h0m1-23h0m0 26h0m2-8h0m4-27h0m1 36h0m3 0h0m1-21h0m2 22h0m3-4h0m1-25h0m2 6h0m1 23h0m2-22h0m1-3h0m1 17h0m2 2h0m18-3h0m3-14h0m12 5h0m3 10h0m2-17h0m22-19h0m0 35h0m1 6h0m2-31h0m1 36h0m1-25h0m5 14h0m9 12h0m1-7h0m1-1h0m3-26h0m3-3h0m5 21h0m3-2h0m10-27h0m11 4h0m1 6h0m3 32h0m4-27h0m1 23h0m3 3h0m2-29h0m2 17h0m5-24h0m9 22h0m5 19h0m6-34h0m4 22h0m2-21h0m7 19h0m2 15h0m2-43h0m2 13h0m7 11h0m4-7h0m4 2h0m14 19h0m2-41h0m4 11h0m1 14h0m6 7h0m1-34h0m12 47h0m1-46h0m2 46h0m1-47h0m9 37h0m7-10h0m1-11h0m5 14h0m1-15h0m1 30h0m1-27h0m5 10h0m0-7h0m1 4h0m6 15h0m2-36h0m5 26h0m1-18h0m5 8h0m7 10h0m1-1h0m1-24h0m0 29h0m0 1h0m1-15h0m1-14h0m2 26h0m2-27h0m4 6h0m1 20h0m0 8h0m2-39h0m0 3h0m1-2h0m3 36h0m1-26h0m1 13h0m0 19h0m2-40h0m2 38h0m16-38h0m4 26h0m0-8h0m1 27h0m1-27h0m2-17h0m1 26h0m1-25h0m6 33h0m1-36h0m1 6h0m3 29h0m0 9h0m4-29h0m0 2h0m5-8h0m0 6h0m1 27h0m0-19h0m1 10h0m2-34h0m3 15h0m3-4h0m4 20h0m6-1h0m2-6h0m3 3h0m1-28h0m0 5h0m1 16h0m0 0h0m3 20h0m1-3h0m2-37h0m2 19h0m1 0h0m1 26h0m1-1h0m2-2h0m0-6h0m2-18h0m2 18h0m2-9h0m0 11h0m1 4h0m1-34h0m1 25h0m1-23h0m1 24h0m2-15h0m5 5h0m0-24h0m4 28h0m0-20h0m2 22h0m1 13h0m1-1h0m1-30h0m1 10h0m1-4h0m1 9h0m1 12h0m3-30h0m2-5h0m1 41h0m4-35h0m4 13h0m0-3h0m6 3h0m1 0h0m5-9h0m1 26h0m7-23h0m0 3h0m3 7h0m1-16h0m3 9h0m0-1h0m1 18h0m5-32h0m6 14h0m1-4h0m0-2h0m2 29h0m0-2h0m1-14h0m0-26h0m1 36h0m1 3h0m1-37h0m3 3h0m1 27h0m1 1h0m1-32h0m7 41h0m0-34h0m1-6h0m1 22h0m2 9h0m1-4h0m0 6h0m1-27h0m1 18h0m1-21h0m1 20h0m1 20h0m0-47h0m4 24h0m1 25h0m0 5h0m0 25h0m-2-12h0m-5 19h0m-2-31h0m-4-2h0m0 7h0m-3 6h0m-2 9h0m0-14h0m-1 6h0m-2 4h0m0-16h0m-1 0h0m-2 17h0m-5-22h0m-1 5h0m0 22h0m-1-15h0m0 27h0m-1-15h0m-1 9h0m-1-27h0m-4 31h0m-1-23h0m-2 15h0m-2 10h0m-1-12h0m0 13h0m-6-16h0m-1-24h0m0 3h0m-1 33h0m0-12h0m0 9h0m-1 7h0m-1-24h0m-1-14h0m-1 17h0m-4 22h0m0-8h0m-1 1h0m-2 3h0m-2-35h0m-1 31h0m-2-30h0m-1 33h0m0-32h0m-2 22h0m-1 10h0m-4 6h0m-4-7h0m-1-29h0m-2 28h0m-1 14h0m0-2h0m-1-33h0m0 27h0m0-33h0m-1 8h0m-2-7h0m-1 31h0m-1-17h0m0 23h0m-1-15h0m-1 2h0m-1 2h0m-1-4h0m0 16h0m-8-26h0m-1 23h0m-2-19h0m-1-5h0m-1 25h0m-1-29h0m-3 11h0m-1 16h0m-4-7h0m0 6h0m-2 6h0m0-47h0m-1 36h0m-4-18h0m-3 18h0m-1 2h0m0 1h0m-2-30h0m0 27h0m-1 10h0m0 2h0m-2 0h0m0-15h0m-1 14h0m-1 2h0m0-8h0m-2-38h0m-1 27h0m-3-9h0m-3-2h0m-2-19h0m0 3h0m-1 41h0m-2-8h0m-2-3h0m-2 10h0m-1 0h0m-1 6h0m-1-1h0m-1-18h0m0-21h0m-1 10h0m0 27h0m-3-17h0m0 18h0m0-38h0m-2 0h0m-1 14h0m-1-19h0m-1 25h0m0 16h0m-2-28h0m-7 9h0m-1-18h0m-4 35h0m-1-22h0m0 3h0m0 25h0m0-15h0m-1 12h0m-2-19h0m0-11h0m-1 11h0m-1 3h0m-1-17h0m-9 0h0m-1 5h0m-3 31h0m-1-25h0m-2 21h0m0-3h0m-5-37h0m0 35h0m-2-21h0m-2-4h0m-6 18h0m-1-17h0m-1 6h0m-1 5h0m0 3h0m-1-24h0m-5 24h0m-1 14h0m-4-14h0m-4 16h0m-1-17h0m0-19h0m-4 22h0m-1 14h0m0-28h0m-4 4h0m-8 21h0m-1-14h0m0 2h0m-1 15h0m-3-13h0m-3-15h0m-1-11h0m0 10h0m-3 23h0m-2 6h0m-5-42h0m0 16h0m-4 22h0m0-13h0m-1-19h0m-2-5h0m0 0h0m0 8h0m-1 17h0m-2 14h0m-3-11h0m0 16h0m-5-3h0m-2-36h0m-4 34h0m-1-10h0m-1-1h0m-2 4h0m0-3h0m-2 3h0m-3-20h0m-1 11h0m0 20h0m-4-24h0m-1 23h0m-7-28h0m-1 22h0m-2-27h0m-3 18h0m-1-26h0m0 17h0m-2 16h0m-2-29h0m-1 18h0m-2 20h0m-3-13h0m-1-13h0m-1 4h0m0 11h0m-2-5h0m0-28h0m-1 2h0m-3-4h0m-1 34h0m-1-26h0m-4-1h0m-1 20h0m-7-14h0m-5 18h0m-2-6h0m-1-15h0m-3 10h0m-2 7h0m-1 19h0m-1-8h0m-3-37h0m-7 26h0m-1-5h0m-3 1h0m-6 7h0m-3 2h0m0-33h0m-8 10h0m-3 11h0m-1 14h0m-1 7h0m0-38h0m-2 33h0m-1-33h0m-3-3h0m-2 45h0m0 1h0m-2-5h0m-2-15h0m0 6h0m-3-31h0m-1 4h0m0 40h0m0-32h0m0 20h0m-5-7h0m-9 9h0m0-5h0m-1 6h0m-1-36h0m-2 41h0m-1-40h0m-3 28h0m0-26h0m-7 31h0m-7 0h0m-2 0h0m-2 7h0m-2-1h0m-1-20h0m0 19h0m-5-12h0m-1 2h0m-6-31h0m-6 30h0m-1-1h0m-6 14h0m-1-7h0m0-33h0m-1 7h0m-6 3h0m-1 2h0m-4 22h0m0-11h0m-2-10h0m-6 18h0m-9 8h0m-3-12h0m-1 16h0m-1-37h0m-1 22h0m-1-16h0m-4-15h0m0 40h0m-3-35h0m0 23h0m-2-12h0m0-3h0m-2 28h0m-1 4h0m-5-21h0m-4 24h0m-2-35h0m-6-9h0m-5 10h0m-2-8h0m-3 17h0m-2 9h0m-1 9h0m-1 0h0m0-2h0m-3-8h0m0-20h0m-2 13h0m0 2h0m-1-3h0m-5-18h0m-3 18h0m-1-8h0m-1 21h0m-1-28h0m-6 20h0m-1-4h0m0-16h0m-2 6h0m-1 6h0m-2-19h0m-2 13h0m-3 5h0m-7 0h0m-2-10h0m-2-8h0m0 16h0m-4-14h0m-1 15h0m-2-14h0m-2 11h0m-2 7h0m-3-11h0m-1 8h0m-2 0h0m-5-17h0m-3 14h0m-1-1h0m-3 1h0m-5 0h0m-9-11h0m-3 1h0m-4-3h0m-18 3h0m-9-1h0m-1 1h0m-3-2h0m-2-3h0m-1 0h0m186 56h0m6-5h0m19 13h0m7-5h0m7-4h0m1 0h0m5 14h0m5-15h0m0 9h0m1 8h0m6-19h0m5 13h0m2-1h0m1 2h0m1-3h0m1 4h0m0-12h0m6 12h0m12 2h0m3 2h0m6-17h0m2 25h0m8-22h0m1 11h0m2 13h0m1-4h0m5 8h0m2-25h0m1-1h0m0 18h0m1-24h0m3 20h0m3-15h0m2 23h0m5-18h0m2 22h0m2-12h0m0 11h0m1-29h0m0 28h0m0-26h0m5 25h0m1-31h0m0 28h0m6-19h0m4 9h0m1 17h0m1-16h0m2 4h0m4-17h0m3-3h0m2 33h0m0-36h0m2 21h0m6-13h0m5 20h0m1-11h0m2-3h0m1-2h0m1-7h0m10 12h0m2-17h0m5 15h0m2 5h0m1 8h0m2-8h0m2-15h0m3 23h0m1-18h0m0-8h0m0-2h0m2 32h0m1-12h0m2 4h0m1-22h0m0 11h0m2-11h0m2 11h0m2 5h0m4 7h0m0-20h0m0-2h0m2 11h0m3 0h0m5-6h0m0 14h0m1-8h0m0 0h0m4 7h0m2-16h0m0 24h0m6-13h0m6-8h0m1-8h0m1 27h0m4-20h0m0 6h0m0 5h0m1 6h0m1-20h0m1 6h0m0 8h0m2 1h0m4-20h0m1 8h0m3 1h0m2 6h0m2 5h0m1-3h0m1-7h0m3-1h0m7-9h0m5 9h0m0 13h0m6-13h0m0-6h0m1 16h0m1-10h0m6 4h0m3-14h0m1 17h0m4-3h0m1-7h0m3 4h0m1-2h0m1-4h0m3 7h0m0-12h0m2 7h0m5 8h0m1-3h0m13-7h0m3-2h0m0-2h0m1 0h0m1 10h0m3-2h0m1-5h0m7 5h0m2-9h0m6 2h0m1-2h0m3 2h0m0-1h0m6 4h0m3-5h0m18 3h0" fill="none" stroke="#333" stroke-opacity=".8" stroke-width="4.2" stroke-linecap="round"/>
<g fill="none" stroke="rgba(0,0,0,.49)" stroke-width="4.5" stroke-linejoin="round"><path d="M283.8 1636.4L293.3 1631.4L300.9 1626.6L305.3 1623.4L314.3 1615.3L318 1611.1L321 1607.3L325.9 1599.3L329.1 1591.3L330.9 1583.3L331.1 1575.3L329.9 1567.3L327.1 1559.3L322.8 1551.3L318 1544.8L316.7 1543.3L308.5 1535.2L300.9 1529.4L297.7 1527.2L283.8 1519.5L283.1 1519.2L266.7 1513L259.7 1511.2L249.6 1508.9L232.5 1506.8L215.4 1506.7L198.3 1508.6L186.6 1511.2L181.2 1512.6L164.1 1519.2L164.1 1519.2"/><path d="M432.7 1631.4L437.7 1627.5L444.8 1623.4L454.8 1616.3L457 1615.3L471.9 1607.3L471.9 1607.3L489 1603L506.1 1605.7L509.2 1607.3L523.2 1612.8L527.4 1615.3L540.3 1621.5L543.4 1623.4L557.4 1630.2L559.6 1631.4M728.4 1480.3L711.3 1481.7L694.2 1483.6L677.1 1486.3L672.2 1487.2L660 1489.6L642.9 1493.6L636.9 1495.2L625.8 1498.4L610.9 1503.2L608.7 1504L591.6 1510.4L589.5 1511.2L574.5 1517.7L570.9 1519.2L557.4 1525.8L554.2 1527.2L540.3 1534.4L538.4 1535.2L523.2 1543L522.5 1543.3L506.1 1550.2L498.3 1551.3L489 1553L483.1 1551.3L471.9 1548.9L462.3 1543.3L454.8 1539.8L448.8 1535.2L437.7 1528.5L436.2 1527.2L424.8 1519.2L420.6 1516.7L413.1 1511.2L403.5 1505.2L400.7 1503.2L387.9 1495.2L386.4 1494.4L374.2 1487.2L369.3 1484.6L359.1 1479.2L352.2 1475.9L341.9 1471.2L335.1 1468.3L321.6 1463.2L318 1461.8L300.9 1456.5L295.5 1455.2L283.8 1452.3L266.7 1449.1L250.8 1447.1L249.6 1447L232.5 1445.9L215.4 1445.8L198.3 1446.8L195.7 1447.1L181.2 1448.9L164.1 1452.1"/><path d="M728.4 1443.2L711.3 1444.2L694.2 1445.7L680.9 1447.1L677.1 1447.5L660 1449.8L642.9 1452.5L629.1 1455.2L625.8 1455.8L608.7 1459.3L592 1463.2L591.6 1463.2L574.5 1467.3L558.9 1471.2L557.4 1471.6L540.3 1475.5L523.2 1478.9L520.9 1479.2L506.1 1481.2L489 1481.9L471.9 1480.7L463.4 1479.2L454.8 1477.6L437.7 1472.8L433.2 1471.2L420.6 1466.8L411.7 1463.2L403.5 1460L391.7 1455.2L386.4 1453.1L371.4 1447.1L369.3 1446.3L352.2 1440L349.6 1439.1L335.1 1434.3L324.2 1431.1L318 1429.3L300.9 1425.1L290.6 1423.1L283.8 1421.7L266.7 1419.1L249.6 1417.4L232.5 1416.5L215.4 1416.5L198.3 1417.3L181.2 1419L164.1 1421.6"/><path d="M728.4 1417L711.3 1417.8L694.2 1419L677.1 1420.6L660 1422.5L655.6 1423.1L642.9 1424.7L625.8 1427.3L608.7 1430.2L603.8 1431.1L591.6 1433.3L574.5 1436.6L561.3 1439.1L557.4 1439.9L540.3 1442.8L523.2 1445.4L506.1 1447.1L506.1 1447.1L489 1447.7L478.1 1447.1L471.9 1446.8L454.8 1444.5L437.7 1440.8L431.6 1439.1L420.6 1436.1L404.4 1431.1L403.5 1430.8L386.4 1425.2L380.2 1423.1L369.3 1419.6L354.7 1415.1L352.2 1414.3L335.1 1409.4L325.5 1407.1L318 1405.2L300.9 1401.5L286 1399.1L283.8 1398.7L266.7 1396.4L249.6 1394.8L232.5 1394L215.4 1394L198.3 1394.7L181.2 1396.2L164.1 1398.6L161.5 1399.1"/></g>
</g>
<g clip-path="url(#c21)">
<g transform="translate(723,1128)" shape-rendering="crispEdges"><path fill="#333" d="M27 427.5h9v22.5h-9zM27 405h9v22.5h-9zM45 427.5h9v22.5h-9z"/><path fill="#393939" d="M36 427.5h9v22.5h-9z"/><path fill="#3e3e3e" d="M0 427.5h9v22.5h-9zM18 405h9v22.5h-9zM36 405h9v22.5h-9zM54 427.5h9v22.5h-9zM63 427.5h9v22.5h-9z"/><path fill="#3f3f3f" d="M0 405h9v22.5h-9z"/><path fill="#424242" d="M18 427.5h9v22.5h-9zM54 405h9v22.5h-9z"/><path fill="#464646" d="M135 427.5h9v22.5h-9z"/><path fill="#494949" d="M9 405h9v22.5h-9z"/><path fill="#4a4a4a" d="M63 405h9v22.5h-9z"/><path fill="#4b4b4b" d="M45 405h9v22.5h-9zM90 405h9v22.5h-9z"/><path fill="#4c4c4c" d="M9 427.5h9v22.5h-9z"/><path fill="#4f4f4f" d="M72 427.5h9v22.5h-9z"/><path fill="#505050" d="M72 405h9v22.5h-9zM90 382.5h9v22.5h-9z"/><path fill="#515151" d="M18 382.5h9v22.5h-9zM81 427.5h9v22.5h-9zM90 427.5h9v22.5h-9zM108 405h9v22.5h-9z"/><path fill="#525252" d="M36 382.5h9v22.5h-9zM99 427.5h9v22.5h-9zM108 427.5h9v22.5h-9zM144 427.5h9v22.5h-9z"/><path fill="#545454" d="M27 382.5h9v22.5h-9z"/><path fill="#555" d="M0 382.5h9v22.5h-9zM117 427.5h9v22.5h-9zM117 405h9v22.5h-9z"/><path fill="#565656" d="M126 427.5h9v22.5h-9zM162 427.5h9v22.5h-9z"/><path fill="#585858" d="M153 427.5h9v22.5h-9z"/><path fill="#5e5e5e" d="M45 382.5h9v22.5h-9z"/><path fill="#616161" d="M72 382.5h9v22.5h-9zM126 405h9v22.5h-9z"/><path fill="#626262" d="M9 382.5h9v22.5h-9zM135 405h9v22.5h-9z"/><path fill="#646464" d="M171 427.5h9v22.5h-9z"/><path fill="#676767" d="M0 360h9v22.5h-9zM117 382.5h9v22.5h-9z"/><path fill="#686868" d="M18 360h9v22.5h-9z"/><path fill="#6b6b6b" d="M54 382.5h9v22.5h-9zM63 360h9v22.5h-9z"/><path fill="#6d6d6d" d="M45 360h9v22.5h-9zM81 405h9v22.5h-9z"/><path fill="#6f6f6f" d="M9 360h9v22.5h-9zM99 382.5h9v22.5h-9zM144 405h9v22.5h-9z"/><path fill="#717171" d="M81 360h9v22.5h-9zM162 405h9v22.5h-9z"/><path fill="#727272" d="M99 405h9v22.5h-9z"/><path fill="#737373" d="M153 405h9v22.5h-9z"/><path fill="#747474" d="M108 382.5h9v22.5h-9zM135 382.5h9v22.5h-9z"/><path fill="#767676" d="M81 382.5h9v22.5h-9zM189 427.5h9v22.5h-9z"/><path fill="#797979" d="M63 337.5h9v22.5h-9z"/><path fill="#7c7c7c" d="M189 405h9v22.5h-9z"/><path fill="#7d7d7d" d="M54 360h9v22.5h-9zM171 382.5h9v22.5h-9zM234 427.5h9v22.5h-9z"/><path fill="#7e7e7e" d="M90 337.5h9v22.5h-9zM99 360h9v22.5h-9zM135 360h9v22.5h-9z"/><path fill="#808080" d="M27 360h9v22.5h-9zM90 360h9v22.5h-9z"/><path fill="#818181" d="M36 360h9v22.5h-9zM180 427.5h9v22.5h-9zM180 405h9v22.5h-9zM216 405h9v22.5h-9z"/><path fill="#828282" d="M63 382.5h9v22.5h-9zM126 382.5h9v22.5h-9zM126 360h9v22.5h-9zM171 405h9v22.5h-9zM243 427.5h9v22.5h-9z"/><path fill="#858585" d="M36 337.5h9v22.5h-9z"/><path fill="#868686" d="M153 360h9v22.5h-9zM225 405h9v22.5h-9z"/><path fill="#878787" d="M117 360h9v22.5h-9zM207 382.5h9v22.5h-9z"/><path fill="#888" d="M72 360h9v22.5h-9zM180 382.5h9v22.5h-9z"/><path fill="#898989" d="M198 382.5h9v22.5h-9z"/><path fill="#8a8a8a" d="M72 337.5h9v22.5h-9zM198 427.5h9v22.5h-9zM207 405h9v22.5h-9z"/><path fill="#8c8c8c" d="M171 360h9v22.5h-9zM225 427.5h9v22.5h-9z"/><path fill="#8e8e8e" d="M108 360h9v22.5h-9z"/><path fill="#8f8f8f" d="M198 405h9v22.5h-9zM216 427.5h9v22.5h-9zM234 405h9v22.5h-9z"/><path fill="#909090" d="M9 337.5h9v22.5h-9zM153 382.5h9v22.5h-9zM207 427.5h9v22.5h-9zM234 382.5h9v22.5h-9z"/><path fill="#919191" d="M144 382.5h9v22.5h-9zM162 360h9v22.5h-9zM252 427.5h9v22.5h-9z"/><path fill="#939393" d="M18 337.5h9v22.5h-9zM45 337.5h9v22.5h-9z"/><path fill="#959595" d="M126 337.5h9v22.5h-9z"/><path fill="#969696" d="M27 337.5h9v22.5h-9z"/><path fill="#979797" d="M81 337.5h9v22.5h-9zM189 382.5h9v22.5h-9zM225 382.5h9v22.5h-9zM252 405h9v22.5h-9z"/><path fill="#9a9a9a" d="M54 337.5h9v22.5h-9zM144 360h9v22.5h-9z"/><path fill="#9c9c9c" d="M0 337.5h9v22.5h-9zM243 405h9v22.5h-9z"/><path fill="#a0a0a0" d="M9 315h9v22.5h-9zM99 337.5h9v22.5h-9z"/><path fill="#a1a1a1" d="M162 382.5h9v22.5h-9zM216 382.5h9v22.5h-9zM270 427.5h9v22.5h-9z"/><path fill="#a2a2a2" d="M117 337.5h9v22.5h-9zM189 360h9v22.5h-9z"/><path fill="#a4a4a4" d="M144 337.5h9v22.5h-9zM261 427.5h9v22.5h-9z"/><path fill="#a5a5a5" d="M180 360h9v22.5h-9zM189 337.5h9v22.5h-9zM243 382.5h9v22.5h-9zM261 405h9v22.5h-9z"/><path fill="#a6a6a6" d="M45 315h9v22.5h-9zM279 427.5h9v22.5h-9z"/><path fill="#a7a7a7" d="M63 315h9v22.5h-9zM108 337.5h9v22.5h-9zM198 360h9v22.5h-9z"/><path fill="#a8a8a8" d="M270 405h9v22.5h-9z"/><path fill="#aaa" d="M198 337.5h9v22.5h-9zM252 382.5h9v22.5h-9z"/><path fill="#ababab" d="M81 315h9v22.5h-9zM261 360h9v22.5h-9zM279 405h9v22.5h-9z"/><path fill="#acacac" d="M18 315h9v22.5h-9zM315 382.5h9v22.5h-9z"/><path fill="#adadad" d="M153 337.5h9v22.5h-9zM180 337.5h9v22.5h-9z"/><path fill="#afafaf" d="M0 315h9v22.5h-9zM27 315h9v22.5h-9zM72 315h9v22.5h-9zM135 337.5h9v22.5h-9zM162 315h9v22.5h-9zM225 360h9v22.5h-9zM261 382.5h9v22.5h-9z"/><path fill="#b0b0b0" d="M54 315h9v22.5h-9zM54 292.5h9v22.5h-9zM117 315h9v22.5h-9zM306 382.5h9v22.5h-9z"/><path fill="#b1b1b1" d="M90 315h9v22.5h-9zM207 337.5h9v22.5h-9zM288 405h9v22.5h-9zM306 405h9v22.5h-9z"/><path fill="#b3b3b3" d="M36 315h9v22.5h-9zM162 337.5h9v22.5h-9zM207 360h9v22.5h-9zM297 427.5h9v22.5h-9z"/><path fill="#b4b4b4" d="M99 315h9v22.5h-9zM153 315h9v22.5h-9z"/><path fill="#b5b5b5" d="M108 315h9v22.5h-9zM234 360h9v22.5h-9zM252 337.5h9v22.5h-9zM306 427.5h9v22.5h-9z"/><path fill="#b6b6b6" d="M288 382.5h9v22.5h-9zM288 360h9v22.5h-9zM315 427.5h9v22.5h-9zM315 405h9v22.5h-9z"/><path fill="#b8b8b8" d="M171 337.5h9v22.5h-9zM216 337.5h9v22.5h-9zM279 382.5h9v22.5h-9z"/><path fill="#b9b9b9" d="M180 315h9v22.5h-9zM234 337.5h9v22.5h-9zM288 427.5h9v22.5h-9z"/><path fill="#bababa" d="M27 292.5h9v22.5h-9zM216 360h9v22.5h-9zM342 427.5h9v22.5h-9zM351 427.5h9v22.5h-9z"/><path fill="#bcbcbc" d="M135 315h9v22.5h-9zM243 360h9v22.5h-9zM324 405h9v22.5h-9zM342 405h9v22.5h-9z"/><path fill="#bdbdbd" d="M252 360h9v22.5h-9zM297 405h9v22.5h-9z"/><path fill="#bebebe" d="M225 337.5h9v22.5h-9zM297 360h9v22.5h-9zM324 382.5h9v22.5h-9z"/><path fill="#bfbfbf" d="M81 292.5h9v22.5h-9zM99 292.5h9v22.5h-9zM288 337.5h9v22.5h-9z"/><path fill="#c1c1c1" d="M216 315h9v22.5h-9zM243 337.5h9v22.5h-9zM270 382.5h9v22.5h-9z"/><path fill="#c2c2c2" d="M18 292.5h9v22.5h-9zM171 315h9v22.5h-9z"/><path fill="#c5c5c5" d="M0 292.5h9v22.5h-9zM9 292.5h9v22.5h-9zM108 292.5h9v22.5h-9zM126 315h9v22.5h-9zM306 360h9v22.5h-9z"/><path fill="#c6c6c6" d="M45 292.5h9v22.5h-9zM117 292.5h9v22.5h-9zM324 427.5h9v22.5h-9z"/><path fill="#c7c7c7" d="M90 292.5h9v22.5h-9zM279 337.5h9v22.5h-9zM324 360h9v22.5h-9zM351 405h9v22.5h-9z"/><path fill="#c9c9c9" d="M315 360h9v22.5h-9zM360 427.5h9v22.5h-9zM414 427.5h9v22.5h-9z"/><path fill="#cacaca" d="M144 315h9v22.5h-9zM189 315h9v22.5h-9zM270 360h9v22.5h-9zM270 337.5h9v22.5h-9zM279 360h9v22.5h-9zM369 405h9v22.5h-9zM387 427.5h9v22.5h-9z"/><path fill="#cbcbcb" d="M333 427.5h9v22.5h-9zM342 382.5h9v22.5h-9z"/><path fill="#cdcdcd" d="M9 270h9v22.5h-9zM36 292.5h9v22.5h-9zM297 382.5h9v22.5h-9zM324 337.5h9v22.5h-9zM378 427.5h9v22.5h-9z"/><path fill="#cecece" d="M198 315h9v22.5h-9zM261 337.5h9v22.5h-9zM405 405h9v22.5h-9z"/><path fill="#cfcfcf" d="M0 270h9v22.5h-9zM135 292.5h9v22.5h-9zM144 292.5h9v22.5h-9zM207 315h9v22.5h-9zM333 405h9v22.5h-9zM360 405h9v22.5h-9zM360 382.5h9v22.5h-9zM396 405h9v22.5h-9z"/><path fill="#d1d1d1" d="M27 270h9v22.5h-9zM63 292.5h9v22.5h-9zM72 292.5h9v22.5h-9zM108 270h9v22.5h-9zM162 292.5h9v22.5h-9z"/><path fill="#d2d2d2" d="M99 270h9v22.5h-9zM126 292.5h9v22.5h-9zM333 382.5h9v22.5h-9zM351 360h9v22.5h-9z"/><path fill="#d3d3d3" d="M45 270h9v22.5h-9zM198 292.5h9v22.5h-9zM243 315h9v22.5h-9zM252 315h9v22.5h-9zM261 315h9v22.5h-9zM297 337.5h9v22.5h-9zM297 315h9v22.5h-9zM351 382.5h9v22.5h-9zM369 427.5h9v22.5h-9zM369 382.5h9v22.5h-9zM369 360h9v22.5h-9zM387 405h9v22.5h-9zM396 382.5h9v22.5h-9z"/><path fill="#d5d5d5" d="M54 270h9v22.5h-9zM225 315h9v22.5h-9zM333 360h9v22.5h-9zM342 337.5h9v22.5h-9z"/><path fill="#d6d6d6" d="M378 405h9v22.5h-9zM396 427.5h9v22.5h-9z"/><path fill="#d7d7d7" d="M180 292.5h9v22.5h-9zM270 315h9v22.5h-9zM288 315h9v22.5h-9zM360 360h9v22.5h-9z"/><path fill="#d9d9d9" d="M90 270h9v22.5h-9zM207 292.5h9v22.5h-9zM423 427.5h9v22.5h-9z"/><path fill="#dadada" d="M189 292.5h9v22.5h-9zM216 292.5h9v22.5h-9zM243 292.5h9v22.5h-9zM306 337.5h9v22.5h-9zM387 360h9v22.5h-9z"/><path fill="#dcdcdc" d="M63 270h9v22.5h-9zM117 270h9v22.5h-9zM405 382.5h9v22.5h-9zM414 360h9v22.5h-9zM441 405h9v22.5h-9z"/><path fill="#ddd" d="M72 270h9v22.5h-9zM153 292.5h9v22.5h-9zM171 270h9v22.5h-9zM234 315h9v22.5h-9zM279 292.5h9v22.5h-9zM387 382.5h9v22.5h-9z"/><path fill="#dedede" d="M9 247.5h9v22.5h-9zM54 247.5h9v22.5h-9zM135 247.5h9v22.5h-9zM144 270h9v22.5h-9zM171 292.5h9v22.5h-9zM225 292.5h9v22.5h-9zM252 292.5h9v22.5h-9zM261 292.5h9v22.5h-9zM342 360h9v22.5h-9zM360 337.5h9v22.5h-9zM405 360h9v22.5h-9zM414 405h9v22.5h-9zM441 427.5h9v22.5h-9z"/><path fill="#e0e0e0" d="M18 270h9v22.5h-9zM18 247.5h9v22.5h-9zM36 270h9v22.5h-9zM234 292.5h9v22.5h-9zM297 292.5h9v22.5h-9zM315 337.5h9v22.5h-9zM333 337.5h9v22.5h-9zM369 337.5h9v22.5h-9zM378 360h9v22.5h-9z"/><path fill="#e1e1e1" d="M81 247.5h9v22.5h-9zM99 247.5h9v22.5h-9zM324 315h9v22.5h-9zM351 337.5h9v22.5h-9zM378 382.5h9v22.5h-9zM414 382.5h9v22.5h-9z"/><path fill="#e2e2e2" d="M0 247.5h9v22.5h-9zM27 247.5h9v22.5h-9zM207 270h9v22.5h-9zM315 315h9v22.5h-9zM405 427.5h9v22.5h-9z"/><path fill="#e4e4e4" d="M63 247.5h9v22.5h-9zM135 270h9v22.5h-9zM315 292.5h9v22.5h-9zM360 315h9v22.5h-9zM378 292.5h9v22.5h-9z"/><path fill="#e5e5e5" d="M81 270h9v22.5h-9zM306 315h9v22.5h-9zM333 315h9v22.5h-9zM396 360h9v22.5h-9zM396 337.5h9v22.5h-9zM423 382.5h9v22.5h-9z"/><path fill="#e7e7e7" d="M36 247.5h9v22.5h-9zM45 247.5h9v22.5h-9zM90 247.5h9v22.5h-9zM117 247.5h9v22.5h-9zM180 270h9v22.5h-9zM198 270h9v22.5h-9zM288 292.5h9v22.5h-9zM306 292.5h9v22.5h-9zM369 315h9v22.5h-9zM423 405h9v22.5h-9zM423 360h9v22.5h-9zM432 427.5h9v22.5h-9zM441 360h9v22.5h-9z"/><path fill="#e8e8e8" d="M126 270h9v22.5h-9zM153 270h9v22.5h-9zM162 270h9v22.5h-9zM261 270h9v22.5h-9zM279 315h9v22.5h-9zM405 337.5h9v22.5h-9zM414 337.5h9v22.5h-9zM432 337.5h9v22.5h-9z"/><path fill="#e9e9e9" d="M171 247.5h9v22.5h-9zM225 270h9v22.5h-9zM243 270h9v22.5h-9zM342 315h9v22.5h-9zM414 315h9v22.5h-9zM432 405h9v22.5h-9z"/><path fill="#ebebeb" d="M108 247.5h9v22.5h-9zM144 225h9v22.5h-9zM198 247.5h9v22.5h-9zM315 270h9v22.5h-9zM342 292.5h9v22.5h-9zM351 315h9v22.5h-9zM387 337.5h9v22.5h-9z"/><path fill="#ececec" d="M45 225h9v22.5h-9zM72 247.5h9v22.5h-9zM72 225h9v22.5h-9zM126 247.5h9v22.5h-9zM189 270h9v22.5h-9zM234 270h9v22.5h-9zM378 337.5h9v22.5h-9zM387 315h9v22.5h-9zM441 315h9v22.5h-9z"/><path fill="#eee" d="M216 270h9v22.5h-9zM270 292.5h9v22.5h-9zM270 270h9v22.5h-9zM333 292.5h9v22.5h-9zM423 337.5h9v22.5h-9zM441 382.5h9v22.5h-9z"/><path fill="#efefef" d="M9 225h9v22.5h-9zM81 225h9v22.5h-9zM90 225h9v22.5h-9zM162 247.5h9v22.5h-9zM207 247.5h9v22.5h-9zM243 247.5h9v22.5h-9zM252 270h9v22.5h-9zM288 270h9v22.5h-9zM288 247.5h9v22.5h-9zM324 292.5h9v22.5h-9zM333 270h9v22.5h-9zM405 315h9v22.5h-9zM423 315h9v22.5h-9zM432 315h9v22.5h-9z"/><path fill="#f1f1f1" d="M0 225h9v22.5h-9zM108 225h9v22.5h-9zM117 225h9v22.5h-9zM144 247.5h9v22.5h-9zM261 247.5h9v22.5h-9zM297 270h9v22.5h-9zM378 315h9v22.5h-9zM387 270h9v22.5h-9zM405 292.5h9v22.5h-9zM432 382.5h9v22.5h-9z"/><path fill="#f2f2f2" d="M18 225h9v22.5h-9zM63 225h9v22.5h-9zM135 225h9v22.5h-9zM171 225h9v22.5h-9zM180 247.5h9v22.5h-9zM180 225h9v22.5h-9zM351 292.5h9v22.5h-9zM378 270h9v22.5h-9zM396 315h9v22.5h-9zM432 292.5h9v22.5h-9z"/><path fill="#f3f3f3" d="M27 225h9v22.5h-9zM99 225h9v22.5h-9zM126 202.5h9v22.5h-9zM153 225h9v22.5h-9zM252 247.5h9v22.5h-9zM270 247.5h9v22.5h-9zM342 270h9v22.5h-9zM414 292.5h9v22.5h-9zM423 292.5h9v22.5h-9z"/><path fill="#f5f5f5" d="M9 202.5h9v22.5h-9zM18 202.5h9v22.5h-9zM36 225h9v22.5h-9zM54 202.5h9v22.5h-9zM90 202.5h9v22.5h-9zM126 225h9v22.5h-9zM135 202.5h9v22.5h-9zM162 225h9v22.5h-9zM189 247.5h9v22.5h-9zM189 225h9v22.5h-9zM198 225h9v22.5h-9zM207 225h9v22.5h-9zM216 225h9v22.5h-9zM234 247.5h9v22.5h-9zM261 225h9v22.5h-9zM279 270h9v22.5h-9zM279 247.5h9v22.5h-9zM306 247.5h9v22.5h-9zM333 247.5h9v22.5h-9zM351 270h9v22.5h-9zM360 292.5h9v22.5h-9zM360 270h9v22.5h-9zM369 292.5h9v22.5h-9zM414 270h9v22.5h-9zM432 360h9v22.5h-9zM441 292.5h9v22.5h-9z"/><path fill="#f6f6f6" d="M0 202.5h9v22.5h-9zM54 225h9v22.5h-9zM63 202.5h9v22.5h-9zM153 247.5h9v22.5h-9zM171 202.5h9v22.5h-9zM234 225h9v22.5h-9zM288 225h9v22.5h-9zM297 247.5h9v22.5h-9zM306 270h9v22.5h-9zM324 270h9v22.5h-9zM342 247.5h9v22.5h-9zM360 247.5h9v22.5h-9zM396 292.5h9v22.5h-9zM441 337.5h9v22.5h-9zM441 270h9v22.5h-9z"/><path fill="#f8f8f8" d="M99 202.5h9v22.5h-9zM99 180h9v22.5h-9zM108 202.5h9v22.5h-9zM117 202.5h9v22.5h-9zM117 180h9v22.5h-9zM153 202.5h9v22.5h-9zM198 202.5h9v22.5h-9zM207 202.5h9v22.5h-9zM216 247.5h9v22.5h-9zM216 202.5h9v22.5h-9zM270 225h9v22.5h-9zM324 247.5h9v22.5h-9zM369 247.5h9v22.5h-9zM387 292.5h9v22.5h-9zM396 225h9v22.5h-9zM432 225h9v22.5h-9z"/><path fill="#f9f9f9" d="M9 180h9v22.5h-9zM27 202.5h9v22.5h-9zM27 180h9v22.5h-9zM81 202.5h9v22.5h-9zM108 180h9v22.5h-9zM135 180h9v22.5h-9zM144 202.5h9v22.5h-9zM189 202.5h9v22.5h-9zM225 225h9v22.5h-9zM243 225h9v22.5h-9zM306 225h9v22.5h-9zM315 247.5h9v22.5h-9zM315 202.5h9v22.5h-9zM342 225h9v22.5h-9zM360 202.5h9v22.5h-9zM369 270h9v22.5h-9zM387 225h9v22.5h-9zM405 270h9v22.5h-9zM414 247.5h9v22.5h-9zM432 270h9v22.5h-9z"/><path fill="#fbfbfb" d="M0 180h9v22.5h-9zM36 202.5h9v22.5h-9zM45 202.5h9v22.5h-9zM45 180h9v22.5h-9zM81 180h9v22.5h-9zM180 202.5h9v22.5h-9zM225 247.5h9v22.5h-9zM225 202.5h9v22.5h-9zM252 225h9v22.5h-9zM261 180h9v22.5h-9zM270 180h9v22.5h-9zM324 225h9v22.5h-9zM351 225h9v22.5h-9zM378 247.5h9v22.5h-9zM387 247.5h9v22.5h-9zM396 270h9v22.5h-9z"/><path fill="#fcfcfc" d="M9 135h9v22.5h-9zM18 180h9v22.5h-9zM36 180h9v22.5h-9zM54 180h9v22.5h-9zM54 157.5h9v22.5h-9zM63 180h9v22.5h-9zM72 202.5h9v22.5h-9zM81 157.5h9v22.5h-9zM90 157.5h9v22.5h-9zM108 157.5h9v22.5h-9zM126 157.5h9v22.5h-9zM144 157.5h9v22.5h-9zM144 135h9v22.5h-9zM144 112.5h9v22.5h-9zM162 202.5h9v22.5h-9zM198 180h9v22.5h-9zM216 180h9v22.5h-9zM225 180h9v22.5h-9zM234 202.5h9v22.5h-9zM243 202.5h9v22.5h-9zM243 180h9v22.5h-9zM252 202.5h9v22.5h-9zM252 180h9v22.5h-9zM261 135h9v22.5h-9zM270 135h9v22.5h-9zM279 225h9v22.5h-9zM279 202.5h9v22.5h-9zM297 225h9v22.5h-9zM324 202.5h9v22.5h-9zM333 202.5h9v22.5h-9zM342 180h9v22.5h-9zM351 247.5h9v22.5h-9zM351 180h9v22.5h-9zM360 225h9v22.5h-9zM369 225h9v22.5h-9zM369 157.5h9v22.5h-9zM396 247.5h9v22.5h-9zM423 270h9v22.5h-9zM423 247.5h9v22.5h-9zM423 225h9v22.5h-9zM432 247.5h9v22.5h-9zM441 247.5h9v22.5h-9z"/></g>
<path transform="translate(723,1128) scale(.5)" d="M600 145h0m-273 14h0m-116 9h0m-190 72h0m21-40h0m32 47h0m95-47h0m18 37h0m20 7h0m178 2h0m146-1h0m104 29h0m-109 21h0m-47-3h0m-27-18h0m-148 18h0m-5-38h0m-6 5h0m-91 26h0m-48-12h0m-37 8h0m-28-1h0m-62 10h0m-19 49h0m17-10h0m1-17h0m21 12h0m13 2h0m29 0h0m34-6h0m40 17h0m14-13h0m11 16h0m9-27h0m32 25h0m23-5h0m14 13h0m16-35h0m8-5h0m26-3h0m5 43h0m75-14h0m10-26h0m19 34h0m59-12h0m47-14h0m11-7h0m9 7h0m1 16h0m8 13h0m24 0h0m56-19h0m115 7h0m104-17h0m35 76h0m-40-34h0m-63 9h0m-46-13h0m-11 29h0m-22 9h0m-8 6h0m-15-4h0m-1-16h0m-5 23h0m-64-36h0m-61 10h0m-8-6h0m-24 16h0m-2-20h0m-4 6h0m-2 25h0m-19-21h0m-12 21h0m-36-5h0m-19-3h0m-28-3h0m-1 1h0m-9 11h0m-92-41h0m-6 5h0m-8-8h0m-13 23h0m-3 6h0m-2 4h0m-4 14h0m-15-23h0m-2-13h0m0 25h0m-2-18h0m-10 24h0m-6 5h0m-4-39h0m-8 15h0m-1 12h0m-2-1h0m-4 3h0m0-14h0m-11 15h0m-19-33h0m-12 34h0m-5-11h0m-21 18h0m-2-38h0m-3 24h0m-8-9h0m-20-19h0m0 44h0m-16-41h0m0 31h0m-2 8h0m-2-25h0m-9 16h0m-13 10h0m0-19h0m-1 7h0m-17-6h0m-11 6h0m-4 5h0m-3-20h0m-13-3h0m-7 15h0m0-22h0m-7 14h0m-4 31h0m6 25h0m4-15h0m2 24h0m3-2h0m1-2h0m3 0h0m3 11h0m0-43h0m4 6h0m1-4h0m3 36h0m0 6h0m1-9h0m4-33h0m1 24h0m2 4h0m3-12h0m2 23h0m2-30h0m4 32h0m6-19h0m1-23h0m9 41h0m3-20h0m0 8h0m8-32h0m1 32h0m3-8h0m5 14h0m14-10h0m0 16h0m1 0h0m7-46h0m0 46h0m2-40h0m1 37h0m0-14h0m1 11h0m1-8h0m4 13h0m9-26h0m0 6h0m1 4h0m2-20h0m4 24h0m8-12h0m11 16h0m5-30h0m12 35h0m2-39h0m5 21h0m0-5h0m2 17h0m3-3h0m1-6h0m5-10h0m3 15h0m0-19h0m4 23h0m2-15h0m1 16h0m0 11h0m2-47h0m1 16h0m2 8h0m4 21h0m3-46h0m9 30h0m1-14h0m4 22h0m3 11h0m4-22h0m6 1h0m4 2h0m0-7h0m8 5h0m3-7h0m2 21h0m1-32h0m3 33h0m1-5h0m2 9h0m5-37h0m3 16h0m3-19h0m1-3h0m4 39h0m1 3h0m2-25h0m3 4h0m2 14h0m1-15h0m14 11h0m4-13h0m1 0h0m1 19h0m3-25h0m4 8h0m3 13h0m2-15h0m6 7h0m2 2h0m11 1h0m10 4h0m1 7h0m0-2h0m2-24h0m0 25h0m8-17h0m6-16h0m5 35h0m4-26h0m9 18h0m6 6h0m3-14h0m3-14h0m7-3h0m1 33h0m0-17h0m10 4h0m1-6h0m5-4h0m5 13h0m1-16h0m6 2h0m2-2h0m2 27h0m2-45h0m1 23h0m0-15h0m1 8h0m0 1h0m16 19h0m1-33h0m8 44h0m2-34h0m12 16h0m7 11h0m8-13h0m7 10h0m7 5h0m8-1h0m12-40h0m19 4h0m9 38h0m4-41h0m4 20h0m11 18h0m12-11h0m34 11h0m12 4h0m1-20h0m6-2h0m1 6h0m9-9h0m7 15h0m11 2h0m12 4h0m17-5h0m25 12h0m2-9h0m3 2h0m1-9h0m15 14h0m24-14h0m50 2h0m14-16h0m45 19h0m16 59h0m-11-19h0m-8 14h0m-3 0h0m-1-8h0m-2 8h0m-3 0h0m-13-3h0m0 9h0m-3-10h0m-4 10h0m-29-25h0m-10 1h0m-1-10h0m-1 1h0m-3 20h0m-1-9h0m-5 22h0m-10-36h0m-5 29h0m-1-16h0m-1 17h0m-13 6h0m-15-3h0m-5-28h0m-5 32h0m-9-11h0m-2-29h0m-7 34h0m-5 4h0m-8-41h0m-6 27h0m-3-27h0m-2 18h0m-3 16h0m-6 7h0m-8-23h0m-14 22h0m-3-27h0m-2-8h0m-11 18h0m-22 7h0m-7 0h0m-4-2h0m-2 8h0m-3-31h0m-7 8h0m-13-1h0m0 0h0m-1 20h0m-2-26h0m-3 24h0m-5 0h0m-10-25h0m-2 31h0m-8 6h0m-5-34h0m-3 1h0m0 27h0m-7-14h0m-1 5h0m-3-24h0m-3 35h0m0-36h0m-3 21h0m-2 8h0m-3 6h0m-1 6h0m0 1h0m-1-32h0m-5 30h0m-2-23h0m-2 2h0m-7 12h0m-15 7h0m-7-7h0m0-34h0m-1 41h0m-8-18h0m-1 11h0m-1-2h0m-5-13h0m-1 16h0m-3 1h0m-5-5h0m-6-9h0m0 6h0m-8 12h0m-2-4h0m-2-38h0m-3 42h0m-2-6h0m-1-12h0m-1 4h0m-2-19h0m-6-9h0m0 40h0m-1-40h0m-1 35h0m-1-8h0m-4-7h0m-1 3h0m-13-4h0m-4 21h0m-2 0h0m-1 2h0m0-23h0m-1 21h0m-2 8h0m0-20h0m-5-3h0m0-19h0m-2 34h0m-1-1h0m-3 7h0m-1-47h0m-2 14h0m-2 5h0m-3 27h0m-1 1h0m-3-23h0m-2 3h0m0 1h0m-3 11h0m-1-10h0m0-15h0m-1 21h0m-7 6h0m-3-32h0m-2 11h0m-1 20h0m-4-34h0m-1 25h0m-1-30h0m-4 35h0m0-11h0m-3-15h0m-1 18h0m-1 6h0m-3-23h0m-2 23h0m-8-30h0m-3 13h0m0-3h0m-2 28h0m-2-24h0m0-15h0m0 31h0m-1 9h0m-8-12h0m-3 13h0m0-17h0m-2 8h0m-3 10h0m-1-26h0m0 11h0m0 0h0m-3 12h0m-1-30h0m-4 20h0m-2-3h0m0-29h0m-2 32h0m0-31h0m-2 7h0m0 0h0m-2 5h0m-3 20h0m0-8h0m-2 13h0m0-1h0m-6-21h0m-2 19h0m-1-28h0m0 11h0m0 15h0m-6 13h0m-2-5h0m-1-27h0m-1-13h0m-4-1h0m0 19h0m-1 20h0m-6-37h0m-1 31h0m-1 12h0m-1 1h0m-1-23h0m-3 4h0m-2-4h0m-1-21h0m-1 33h0m0 6h0m-1-9h0m-1 15h0m-4-45h0m-2 37h0m0-23h0m-4 13h0m-1 12h0m-1-18h0m-1 7h0m-3-2h0m-1 13h0m-3-21h0m-1 13h0m-2-6h0m-1-6h0m0 7h0m-1-3h0m-5 19h0m-2-40h0m0 18h0m-1 4h0m-3-10h0m-6 29h0m-3-33h0m-2-2h0m0 36h0m-3-46h0m-2 15h0m0 3h0m-2-3h0m-1 21h0m-1-6h0m0-16h0m-3-10h0m-3 21h0m-2-14h0m-3 31h0m-2-9h0m0-19h0m-2-4h0m-3 28h0m0-1h0m0-2h0m-2 14h0m0-9h0m0-24h0m-3 2h0m-4-8h0m0-2h0m-4 21h0m-1 11h0m-3 3h0m0-12h0m0 8h0m-1 6h0m0-1h0m-1-1h0m0-23h0m-2-13h0m-1 16h0m-1 14h0m0-18h0m-1-9h0m-3 39h0m-4-24h0m-1 10h0m-2-23h0m-2 0h0m-1 35h0m-2-14h0m-3-1h0m-1-22h0m-3 14h0m-5-2h0m0 26h0m-4-11h0m-3-4h0m-1-2h0m0 9h0m-3-3h0m-1 4h0m-4-12h0m0-4h0m-2 4h0m0-23h0m-1 36h0m-1 6h0m0-5h0m-2-32h0m-1 1h0m-2-5h0m-4 35h0m-2 5h0m-3-31h0m-3 14h0m-2 5h0m0-16h0m-1 23h0m-1 7h0m-1-44h0m-2 42h0m-1-17h0m-5-6h0m-1 20h0m-4 4h0m0 1h0m-1-41h0m0 31h0m-2-16h0m-1-5h0m0 28h0m-1-13h0m-1-12h0m-2 25h0m-1-1h0m-4-13h0m-1-13h0m-1 3h0m-3-6h0m-2 22h0m-1-28h0m-2 15h0m-1-9h0m-1 16h0m-2-5h0m-2 22h0m-2-15h0m-1-17h0m0-16h0m0 14h0m-1 32h0m-3-19h0m-1-19h0m-1 12h0m-1-1h0m-6-9h0m-1 33h0m0-41h0m-1 45h0m0-27h0m-1-19h0m0 17h0m-4 12h0m-3 14h0m0-37h0m-4 4h0m8 40h0m2 8h0m4-2h0m2 2h0m1 3h0m1 1h0m0 0h0m2-8h0m2 6h0m3 0h0m11-10h0m1 10h0m8-8h0m0-2h0m4 2h0m0-2h0m0 3h0m1 5h0m0-10h0m2 7h0m1-3h0m10 8h0m1-4h0m2-2h0m9 4h0m0 2h0m6 0h0m0-8h0m7 7h0m1 1h0m1-4h0m3-5h0m1 2h0m1-5h0m2 12h0m3-9h0m1-1h0m6 10h0m1-9h0m3 7h0m6-3h0m5 2h0m1-3h0m1 7h0m10-11h0m3 10h0m2-7h0m1-2h0m4 8h0m3 2h0m5-7h0m0 9h0m1-5h0m0-6h0m4 8h0m12-4h0m1 1h0m0-8h0m1 12h0m0-6h0m8 1h0m3 5h0m4-7h0m3-5h0m1 14h0m1-3h0m0-9h0m4 11h0m3-2h0m0-2h0m3 4h0m0-14h0m3 13h0m6 6h0m2-14h0m3-4h0m1 3h0m0 10h0m9-8h0m3 8h0m2 3h0m0-9h0m6 14h0m2-16h0m3 2h0m2 6h0m1 8h0m2-4h0m2 5h0m1-1h0m3-16h0m4 6h0m0 3h0m3-12h0m3 5h0m3 20h0m1-20h0m1-3h0m5 20h0m1-15h0m0 2h0m3 15h0m1-4h0m0 3h0m1-2h0m0-21h0m0 25h0m1 3h0m1-13h0m3 15h0m1-4h0m0-17h0m0 15h0m0 9h0m1-30h0m1 22h0m0-15h0m1 5h0m0-8h0m2-5h0m3 24h0m4 5h0m1-25h0m2 35h0m0-3h0m1 4h0m1-22h0m1 17h0m2-22h0m1 7h0m0 6h0m1-25h0m1 37h0m1-4h0m4 3h0m8-6h0m2-6h0m1 8h0m0-2h0m0-35h0m1 25h0m2 3h0m0-22h0m2-7h0m0 7h0m4 31h0m3 10h0m1-39h0m0 21h0m2-6h0m3-5h0m1 0h0m0-2h0m0 20h0m1 0h0m2-17h0m1-20h0m1 46h0m0-8h0m0 10h0m1-14h0m0 11h0m1-43h0m0 13h0m1-8h0m1 8h0m1 14h0m1-2h0m1 20h0m3 1h0m0-32h0m1 33h0m2-18h0m1-19h0m0-8h0m3 39h0m0-32h0m1 18h0m2 20h0m2-35h0m0 32h0m1-18h0m0-24h0m0 28h0m8 15h0m4 0h0m1-25h0m0-11h0m6-4h0m0 28h0m6-13h0m1 10h0m1-22h0m1-7h0m2 12h0m0-10h0m0 22h0m1 1h0m2-15h0m3-12h0m3 29h0m2-10h0m1-19h0m3 48h0m0-15h0m1 6h0m1-19h0m1-17h0m1 30h0m0-8h0m1 19h0m0-5h0m1 7h0m3-46h0m2 18h0m1-17h0m1 38h0m0 9h0m2-14h0m0-19h0m3-13h0m2 37h0m1 0h0m1-23h0m1 22h0m7 8h0m1-13h0m0-1h0m7-33h0m1 23h0m12 14h0m2-30h0m1 9h0m1 27h0m2 2h0m1-15h0m0 19h0m2-49h0m1 40h0m1-16h0m3 17h0m1 5h0m1-25h0m1 5h0m3-15h0m0 19h0m1 4h0m2-12h0m5 6h0m0 11h0m2-17h0m0 23h0m2-40h0m0 40h0m2-18h0m2 8h0m0 6h0m1-38h0m1 35h0m2-36h0m1 37h0m1-6h0m4-8h0m3-9h0m2 33h0m3-9h0m0-23h0m1-14h0m3 27h0m5 4h0m2-16h0m0 28h0m2-8h0m0 8h0m1-36h0m0 35h0m1-7h0m6-4h0m1-23h0m4-1h0m3 28h0m0-7h0m1 7h0m1-36h0m6 20h0m1 0h0m1-1h0m1-11h0m2 38h0m1-26h0m1-6h0m0 7h0m12 18h0m1-25h0m0 28h0m1-9h0m0-8h0m3-24h0m1 39h0m0-8h0m4-5h0m1 6h0m4-17h0m1-2h0m0-13h0m1 30h0m2-6h0m2-15h0m2 3h0m3 7h0m1 22h0m4-7h0m0-25h0m5 16h0m0-17h0m0 3h0m7 11h0m2-9h0m6 0h0m2-1h0m5-1h0m1 21h0m5 8h0m2-19h0m3-9h0m7-4h0m0 28h0m2-29h0m1 28h0m5-16h0m6 14h0m1 2h0m8-14h0m2 23h0m3-8h0m0-18h0m1-16h0m1 2h0m5 30h0m3-31h0m1 23h0m5 6h0m1-16h0m15 15h0m6-6h0m3 11h0m10-29h0m2 6h0m0 18h0m1-5h0m5 6h0m1-13h0m3-6h0m1 16h0m6-3h0m7-29h0m13 44h0m2-41h0m10-1h0m6-1h0m1 30h0m7-2h0m1 15h0m13-30h0m19-1h0m4 32h0m4-1h0m0-19h0m4 17h0m2 1h0m2-9h0m5-27h0m28 23h0m0 0h0m4-7h0m9 17h0m6 1h0m1 0h0m0 32h0m-3 4h0m-2 12h0m-4-3h0m-2 7h0m-4-14h0m0-19h0m-5 20h0m0-4h0m-5-6h0m-3 25h0m-6-38h0m-4 22h0m-3 17h0m-1 0h0m-3-25h0m-1 23h0m0 5h0m-10-31h0m-5-4h0m0 29h0m-1-13h0m-1 11h0m-10-32h0m-3 11h0m-1 16h0m-3 7h0m-3 1h0m-1-26h0m-3 30h0m0-13h0m-8-27h0m-5 3h0m-7 0h0m-2 24h0m0-6h0m-1-16h0m0 17h0m-3 5h0m-2-16h0m-1-19h0m-5 23h0m-2 25h0m0-45h0m0 28h0m-3 8h0m0-1h0m-2 5h0m0-1h0m-4-38h0m-1 6h0m-1 21h0m-4 0h0m0-22h0m0 34h0m0-7h0m-1-17h0m-2 20h0m0 10h0m0-18h0m-1 1h0m-2-1h0m-5-12h0m-2 3h0m-4 24h0m-5-23h0m-8-5h0m0-10h0m-1 22h0m-1-17h0m-2 10h0m-2 23h0m0-31h0m0 17h0m-7-4h0m-3 16h0m-2-14h0m-1-6h0m-3-19h0m-2 24h0m-1-25h0m-1 41h0m-1-23h0m-3 17h0m-7 8h0m0-18h0m-1 0h0m-1-7h0m0-12h0m-1 16h0m-1 8h0m0-11h0m-1 17h0m-3-4h0m0 13h0m0-13h0m-1-26h0m0 36h0m-2-41h0m0 37h0m-2-12h0m-2-29h0m-5 33h0m0-7h0m-1 14h0m-1-30h0m0 26h0m-3-7h0m0-5h0m0 11h0m-1-17h0m0 1h0m-2-4h0m-3-15h0m-4 48h0m-4-14h0m-2-17h0m0 9h0m-2-19h0m0 23h0m0 13h0m-4 4h0m0-2h0m-1-17h0m0-16h0m0 19h0m-1-13h0m-3-17h0m-1 15h0m-3 22h0m-1-7h0m0-22h0m-1 13h0m-1 1h0m0-14h0m-3 28h0m-1-18h0m0-6h0m0 27h0m-3-14h0m-2 9h0m-2 4h0m-1-35h0m0 23h0m-2 16h0m-1-20h0m-6 22h0m-1-45h0m0 35h0m-1-16h0m-1 16h0m-2 7h0m-1-12h0m0 3h0m-1-7h0m-4-17h0m-1 4h0m-1 18h0m-2 9h0m-1 0h0m-1-31h0m0 32h0m-1 6h0m0-2h0m-1-16h0m-1-16h0m-2 27h0m-1 8h0m-1-24h0m-2-10h0m0-12h0m-1 35h0m-1 5h0m0-40h0m-1 41h0m-2-24h0m-1-17h0m-2 42h0m0-1h0m-1-7h0m0-10h0m0 12h0m-3-19h0m-1 23h0m-1-4h0m0-19h0m0 23h0m-1-11h0m0-25h0m-2 23h0m-7 6h0m-2 4h0m-1-7h0m-3-11h0m0 7h0m-1 9h0m-3-18h0m0 11h0m-1-6h0m0-10h0m-1 6h0m-2 12h0m-2-14h0m-1-15h0m-1 9h0m-3 17h0m-2 8h0m-1-30h0m0 0h0m0 14h0m0 13h0m-1-20h0m0 24h0m-3-5h0m-1-23h0m-2 3h0m0-1h0m-3 22h0m0-22h0m-3 22h0m0 1h0m-1-23h0m0 14h0m-2-6h0m-1-19h0m-2 16h0m0 17h0m-1-9h0m-2-16h0m0-2h0m-3 10h0m0-3h0m-1-3h0m-1 14h0m-1-6h0m-6 11h0m-6 1h0m-3-18h0m-2 19h0m0-5h0m-2-12h0m-1-7h0m0 6h0m-1 5h0m0-12h0m-4 3h0m0-5h0m0 15h0m-2-15h0m-1 17h0m-6-5h0m-2 12h0m-3-30h0m-3 11h0m-2 19h0m-1-23h0m0 7h0m-1-10h0m-1 0h0m-9 8h0m-2-2h0m-2 14h0m0 3h0m0-7h0m-3-6h0m-1 4h0m0-1h0m0-16h0m-6 9h0m0 16h0m-7-6h0m-2-8h0m-3 7h0m-3-19h0m0 18h0m-1-15h0m-3 18h0m-1-11h0m-7-4h0m-1 15h0m0-10h0m0 4h0m-2-3h0m-2-1h0m-1 0h0m-2-3h0m0-3h0m0 5h0m-7 4h0m-1-12h0m-1-2h0m-3 19h0m-5-7h0m-3-9h0m-2 3h0m0 8h0m-9-3h0m-3 3h0m-4 1h0m-9-6h0m-2-9h0m-2 11h0m-2-2h0m-3-4h0m-2 1h0m0-1h0m-2-5h0m-5 0h0m-3 4h0m-3 1h0m-4-1h0m-6-4h0m-13 0h0m287 61h0m3-8h0m0 6h0m2 5h0m1-13h0m2 13h0m1-8h0m1 22h0m1-6h0m0-6h0m1 11h0m3-24h0m0 17h0m1-16h0m1 14h0m5-2h0m1-6h0m1 6h0m1-1h0m3-3h0m0-7h0m2 3h0m0 15h0m4-19h0m0 8h0m1-3h0m1 12h0m0 1h0m0-16h0m3-4h0m1 13h0m3-15h0m1 23h0m0-14h0m2-5h0m1 35h0m0-32h0m1 19h0m0-17h0m4 4h0m3 14h0m3-3h0m1-7h0m0 13h0m2-20h0m1 29h0m1-11h0m1-27h0m1 32h0m1-5h0m0 7h0m2 1h0m2-5h0m1-3h0m2-2h0m3-9h0m0-2h0m1 8h0m1-14h0m1 38h0m0-2h0m3-17h0m1 9h0m1 8h0m1 2h0m2-36h0m0 17h0m0-4h0m1 11h0m0-17h0m6-15h0m0 28h0m1 1h0m2 2h0m0 1h0m3-9h0m0 22h0m1-19h0m3-10h0m0-16h0m3 25h0m1 10h0m1 8h0m3-4h0m1-14h0m1 16h0m1-26h0m1 4h0m1 7h0m2 17h0m4-36h0m1 33h0m5-40h0m2 40h0m1 3h0m2-7h0m0-18h0m1-3h0m3-13h0m0 18h0m2-14h0m1 26h0m1-3h0m1-8h0m1-6h0m3 10h0m0-19h0m2 30h0m6-12h0m1-11h0m1-13h0m0 44h0m1-35h0m0-3h0m1 15h0m2 7h0m2-26h0m7 26h0m0-17h0m0 9h0m2-14h0m0-9h0m1 49h0m0-23h0m2 12h0m11-7h0m2-17h0m0 10h0m1-20h0m8 23h0m3 19h0m0-29h0m1 8h0m2-16h0m1 0h0m0 40h0m1-12h0m1-37h0m6 29h0m2-8h0m2-2h0m1-15h0m0-4h0m5 33h0m1 8h0m3-4h0m1-30h0m1 15h0m0 0h0m1 8h0m0 3h0m1-22h0m3 34h0m0-3h0m0 7h0m0-3h0m5-31h0m2 18h0m1 1h0m0-1h0m3-14h0m1 28h0m3-15h0m0-25h0m0 28h0m3 3h0m2 0h0m3-19h0m3 22h0m3-27h0m2-4h0m3-3h0m2 34h0m2-9h0m1 5h0m1-27h0m1 19h0m0-16h0m1-3h0m0-6h0m2 4h0m3-2h0m3 40h0m1-42h0m2 42h0m0-29h0m2 32h0m0-41h0m3 13h0m1 21h0m0 4h0m2-14h0m2 4h0m0 39h0m-1-15h0m-1-2h0m-1 35h0m-1-25h0m-6-16h0m0 7h0m-2 37h0m-1-19h0m-2 14h0m-4 2h0m-1-36h0m0 41h0m-1-28h0m-2-15h0m0 5h0m0 22h0m0-7h0m-2-8h0m-1 1h0m0 27h0m-2-34h0m0 17h0m-2 15h0m0-8h0m-1-15h0m0 29h0m-6-33h0m-2 28h0m-1-17h0m0-10h0m-2-14h0m-4 5h0m-2 17h0m-1 16h0m-1-11h0m0-30h0m-1 15h0m-1 32h0m0-21h0m0 4h0m-3-1h0m0 0h0m-1 2h0m-1 11h0m0-15h0m0-17h0m0-3h0m-1 23h0m0 5h0m-1-9h0m-5-16h0m0 11h0m-1-3h0m0 22h0m-1 2h0m0-6h0m0 12h0m-2 1h0m-1-25h0m-2-17h0m-1 27h0m-3 9h0m-2-28h0m0 12h0m-1 21h0m-1-46h0m0 26h0m-1-7h0m0-12h0m-2 9h0m-2-7h0m-3 18h0m0 2h0m-6-4h0m0 3h0m-2 19h0m0-2h0m-1-41h0m-1-1h0m-1 18h0m-1 25h0m-1-24h0m0-5h0m-4-10h0m0 29h0m0 6h0m0-41h0m-2 45h0m-1-43h0m0 7h0m-1 13h0m-1-3h0m-3-5h0m-1-9h0m0 38h0m-1-21h0m-2 3h0m0-24h0m-1 12h0m0 33h0m-3-23h0m-2-12h0m0-3h0m0 38h0m-2-37h0m-1 10h0m-3-10h0m-1 20h0m-2-28h0m-2 19h0m-1 15h0m-1-6h0m-1-30h0m-5 5h0m0-5h0m-2 25h0m0-14h0m-1-2h0m0-3h0m0 10h0m-2 6h0m-3-22h0m0 13h0m-2 5h0m-3-6h0m0 6h0m-2-14h0m-1 10h0m-1 3h0m0-19h0m-6 0h0m0 0h0m-4 18h0m-1-3h0m-1-12h0m0 10h0m0-13h0m-5 1h0m0 2h0m-2 5h0m-1 0h0m-3 0h0m-6-5h0m-7-1h0m-7 0h0m-11-2h0m100 57h0m7 4h0m2-4h0m0 7h0m1-6h0m1 3h0m3-3h0m2-4h0m2 14h0m4-12h0m2 8h0m4 2h0m1 7h0m0-20h0m1-1h0m1 20h0m1-9h0m1-11h0m3 16h0m2 2h0m3-7h0m0-11h0m3 3h0m4 23h0m0-5h0m2 8h0m2-12h0m3 14h0m0 3h0m3-2h0m4 5h0m1-14h0m0 6h0m1-10h0m3-2h0m0-13h0m1 12h0m0 11h0m1 8h0m0-14h0m2-19h0m2 36h0m0 1h0m0-16h0m0 14h0m3-30h0m2-9h0m1 13h0m0-2h0m1 24h0m0 3h0m1-37h0m0 25h0m1 14h0m1-36h0m0 12h0m1 25h0m11-26h0m0-10h0m1 21h0m1-17h0m1 27h0m1-18h0m1 16h0m0-10h0m1 7h0m5-2h0m1-26h0m0 39h0m1-14h0m3-2h0m1 15h0m1-9h0m1-4h0m0-15h0m1 64h0m0 21h0m-5-2h0m-1-22h0m0-16h0m0 40h0m-2-40h0m-1 5h0m0-8h0m-3 24h0m-2-8h0m0-10h0m-1 35h0m0-40h0m0 16h0m-1 27h0m0-9h0m-3 2h0m0-17h0m-6-23h0m-1 27h0m0 12h0m-2-4h0m0-30h0m-2 24h0m-2-15h0m-6-4h0m-4-10h0m42 55h0" fill="none" stroke="#333" stroke-opacity=".8" stroke-width="4.2" stroke-linecap="round"/>
<g fill="none" stroke="rgba(0,0,0,.49)" stroke-width="4.5" stroke-linejoin="round"><path d="M676.2 1626.1L699.6 1630.4L723 1630.7L746.4 1626.8L751.1 1626.1L769.8 1621.8L781.3 1618L793.2 1615.1L812.5 1610L816.6 1608.8L834.3 1602L840 1599.9L852.2 1594L856.2 1586L856.6 1578L857 1570L843.2 1562L840 1560.7L816.6 1555L815.5 1554L807.7 1546L793.2 1540.1L788.7 1537.9L769.8 1531.2L765 1529.9L746.4 1524.2L723 1522.6L711.5 1521.9L699.6 1520.8L693 1521.9L676.2 1526.6L668.4 1529.9M676.2 1626.1L676.2 1626.1"/><path d="M988.4 1634.1L999.8 1626.1L1003.8 1623.3L1009.9 1618L1017.5 1610L1019.6 1602L1024.3 1594L1027.2 1589.2L1029.3 1586L1027.2 1582L1025.6 1578L1019.9 1570L1015.1 1562L1012.3 1554L1010.5 1546L1006.6 1537.9L1003.8 1535.6L998.8 1529.9L986.6 1521.9L980.4 1518.2L972.7 1513.9L957 1507.2L953.5 1505.9L936.4 1497.9L933.6 1495.4L928.7 1489.9L918.9 1481.9L910.2 1477.9L886.8 1474.1L886.1 1473.9L863.4 1467.9L857 1465.9L840 1461.9L825.8 1457.8L816.6 1455.5L793.2 1452.9L769.8 1452.4L746.4 1452.3L723 1451.8L699.6 1451.7L676.2 1452.7"/><path d="M1097.4 1637.7L1101.6 1634.1L1110.4 1626.1L1116.5 1618L1116.3 1610L1109.7 1602L1108 1594L1114.6 1586L1119.4 1578L1120.8 1573.3L1122.1 1570L1123.7 1562L1123.6 1554L1123.6 1546L1120.8 1539.6L1119.7 1537.9L1106.8 1529.9L1097.4 1524.3L1094.4 1521.9L1086.8 1513.9L1080.5 1505.9L1074 1499.8L1072.8 1497.9L1062 1489.9L1050.6 1484.2L1045.2 1481.9L1030.2 1473.9L1027.2 1471.9L1017.6 1465.9L1003.8 1461.3L989.5 1457.8L980.4 1455.7L959.2 1449.8L957 1449L936.3 1441.8L933.6 1441L910.2 1436.1L890.7 1433.8L886.8 1433.3L863.4 1426.4L861.5 1425.8L840 1419.4L816.6 1418.1L809.2 1417.8L793.2 1417.1L769.8 1414.8L746.4 1411.2L731.6 1409.8L723 1409L720.1 1409.8L699.6 1414.1L676.2 1415.1"/><path d="M1161.7 1634.1L1167.6 1631.2L1181.3 1626.1L1191 1620.3L1193.9 1618L1197.6 1610L1197 1602L1193 1594L1192.7 1586L1196.2 1578L1194.1 1570L1191 1565.8L1188.7 1562L1191 1555.9L1191.9 1554L1193.4 1546L1191 1540.4L1188.6 1537.9L1167.6 1532L1164.5 1529.9L1158.2 1521.9L1155.4 1513.9L1152.5 1505.9L1144.2 1498.2L1143.8 1497.9L1127.5 1489.9L1120.8 1486.1L1115.2 1481.9L1104.3 1473.9L1097.4 1468.7L1093.4 1465.9L1077.6 1457.8L1074 1456.6L1052.1 1449.8L1050.6 1449.3L1027.2 1442.1L1026.5 1441.8L1022.7 1433.8L1010 1425.8L1003.8 1424.8L980.4 1421.9L957 1418.1L954.9 1417.8L933.6 1414.3L910.2 1411.6L900.9 1409.8L886.8 1406.5L874.5 1401.8L863.4 1396.5L858.4 1393.8L840 1388.7L816.6 1386.6L799.8 1385.8L793.2 1385.3L769.8 1384L746.4 1384.7L731.2 1385.8L723 1386.1L699.6 1386.1L676.2 1389"/></g>
</g>
<g clip-path="url(#c30)">
<g transform="translate(219.5,1632) scale(1,90)" fill="none" stroke-width="1" shape-rendering="crispEdges"><path stroke="#333" d="M17 4v1"/><path stroke="#393939" d="M4 4v1"/><path stroke="#494949" d="M37 4v1"/><path stroke="#4d4d4d" d="M38 4v1"/><path stroke="#505050" d="M22 4v1"/><path stroke="#545454" d="M15 4v1m1-1v1m4-2v1"/><path stroke="#575757" d="M21 4v1m2-1v1m6-1v1"/><path stroke="#5b5b5b" d="M3 3v1m4 0v1m7-1v1m12-1v1m6-2v1m2 0v1m8-1v1m2-1v1"/><path stroke="#5e5e5e" d="M53 4v1m13-1v1"/><path stroke="#626262" d="M7 3v1m20 0v1m5-1v1m1-1v1m18-1v1"/><path stroke="#656565" d="M8 4v1m11-1v1m16-1v1m29-1v1m19-1v1"/><path stroke="#696969" d="M0 4v1m5-2v1m1 0v1m5-2v1m28-1v2m6-1v1m20-1v1m4-1v1"/><path stroke="#6d6d6d" d="M0 3v1m10 0v1m2-2v2m12-1v1m1-1v1m3-1v1m15-1v1m3-1v1m35-1v1m9-2v1"/><path stroke="#717171" d="M3 4v1m3-2v1m2-1v1m25-1v1m58 0v1"/><path stroke="#757575" d="M1 4v1m4-1v1m4-1v1m4-1v1m5-1v1m9-2v1m3-1v1m6 0v1m11-1v1m3-1v1m4-2v1m13-1v1m19 0v1m2-1v1"/><path stroke="#787878" d="M2 4v1m2-2v1m7 0v1m5-2v1m8-1v1m7-1v1m9 0v1m1-1v1m5-2v1m16 0v1m1-1v1m12-2v1m1 0v1"/><path stroke="#7c7c7c" d="M14 3v1m5-1v1m1 0v1m5-2v1m10-1v1m18-1v1m18 0v1m6-1v1m1-1v1"/><path stroke="#808080" d="M18 3v1m10-1v1m3 0v1m6-2v1m31-1v2m14-1v1m30-1v1"/><path stroke="#848484" d="M21 3v1m9 0v1m12-2v1m1-1v1m2-1v1m2-1v1m1 0v1m5-3v1m1 1v1m5-1v1m11-1v1m15-1v1"/><path stroke="#888" d="M1 3v1m8-1v1m6-1v1m18-2v1m7 0v1m8-1v1m7-1v2m3-2v1m9 0v1m23-1v1m3-1v1"/><path stroke="#8c8c8c" d="M10 3v1m3-1v1m13-1v1m14-2v1m9 0v1m1-1v1m1-1v1m6 0v1m3-1v1m2-2v1m4-1v1m7-1v2m1-1v1m3-2v1m5-1v1m2 0v1m5-1v1m8-1v1"/><path stroke="#909090" d="M17 2v1m7-1v1m28 1v1m11-2v1m17 0v1m5-2v1m29 0v1"/><path stroke="#949494" d="M17 3v1m12-1v1m7-1v1m13 0v1m7-1v1m1-2v1m15 0v1m8-2v1m15 0v1m15-1v1"/><path stroke="#999" d="M1 2v1m1 0v1m5-2v1m12-1v1m3 0v1m1-2v1m7-1v1m5-1v1m6 0v1m11-1v1m9-1v1m3-1v1m10-1v1m5 0v1m25-1v1m1-2v1"/><path stroke="#9d9d9d" d="M20 2v1m3 0v1m37-1v1m10-1v1m2-1v1m27 0v1"/><path stroke="#a1a1a1" d="M15 2v1m21-1v1m12-1v1m8 0v1m2-2v1m25 0v1m4 0v1m2-2v1m2-1v1m3 0v1m13-1v1m2-1v1"/><path stroke="#a5a5a5" d="M4 2v1m23-1v1m5-1v1m11-1v1m1 0v1m13-2v1m1 1v1m3-1v1m2-3v1m5-1v1m7 1v1m1-2v1m2-1v1m7-2v1m2 0v1m11 0v1m2-1v1m1-1v1m1-1v1m6-1v1m5-1v1m4-2v1m13 0v1m6-1v1"/><path stroke="#aaa" d="M2 2v1m8-1v1m12-1v1m12 0v1m4-1v1m32-2v1m11 0v1m7-1v1m4 0v1m1-2v1m4-1v1m1-1v1m1-1v1m5-1v1m13 0v1m3-1v1"/><path stroke="#aeaeae" d="M21 2v1m7-1v1m11-1v1m3-1v1m3-1v1m4-1v1m3-1v1m13-1v1m38 0v2m16-1v1m3-1v1m7-1v1m277-1v1"/><path stroke="#b3b3b3" d="M8 2v1m8-1v1m6-2v1m7 0v1m2-1v1m10-1v1m3-1v1m2-1v1m8-1v1m2-1v1m9 0v1m1-2v1m3 0v1m2-1v1m5-2v1m8 0v1m8-1v1m3-2v1m1 1v1m1-3v1m3 0v1m1-1v1m9-2v1m1 1v1m4-1v1m3-1v1m14-1v1m239-1v1m52-1v1m17-1v1m5-2v1"/><path stroke="#b7b7b7" d="M12 2v1m1-2v1m1-1v2m11-1v1m22-1v1m3-1v1m11-1v1m18 0v1m4-2v1m3-1v1m8 0v1m1-1v1m3-2v1m7 1v1m2-2v1m1-1v1m4-1v1m13 0v1m1-1v1m1-1v1m13-1v1m6-1v1m238-1v1m7-1v1m8-2v1m4 0v1m15-1v1m4-1v1m4-2v1m13-2v1m5 0v2m2-1v1"/><path stroke="#bcbcbc" d="M0 2v1m9-1v1m2-1v1m7-1v1m17-2v1m16 0v1m4-1v1m12-1v1m6-1v1m1-1v1m1-1v1m5-1v1m6 0v1m7-2v1m16 0v1m7-1v1m4-1v1m1 0v1m10-1v1m4-1v1m15-1v1m27-1v1m185-1v1m5-1v1m27-1v1m21-2v1m6-1v1m8-2v1m11 0v1m3-1v2"/><path stroke="#c0c0c0" d="M13 2v1m4-2v1m7-1v1m2 0v1m34-1v1m9-1v1m8-1v1m19-1v1m15 0v1m2-2v2m3 0v1m3-2v1m4 0v1m1-2v1m4-1v2m1-3v1m4 0v1m1 0v1m3-2v1m6-1v1m149 0v1m37-2v1m52-1v1m47-1v1m2 0v1m2-1v1m7-1v1m8-2v1"/><path stroke="#c5c5c5" d="M3 2v1m3-1v1m5-2v1m7-1v1m14-1v1m5 0v1m3-2v1m1-1v1m23 0v1m4-2v1m3 0v1m11-1v1m4-2v1m2 0v1m6-1v1m2 0v1m4-2v1m2-1v1m4-1v1m0 1v1m4-2v1m8-1v1m8-1v1m7 0v1m7-2v1m1 0v1m1-3v1m3 0v1m12 0v1m10-1v1m74-2v1m97 0v1m2-1v1m23-1v1m3-4v1m4 1v1m15 0v1m7-2v1m1 0v1m7-2v1m7-1v1m3-2v1m2 0v1m18-1v1m1-1v2m6-1v1m5-2v2m6-1v1m1-2v1"/><path stroke="#c9c9c9" d="M5 2v1m2-2v1m1-1v1m15-1v1m11 0v1m3-2v1m2-1v1m3-1v1m2-1v1m35 0v1m10-1v1m14-1v1m1-1v1m4-1v1m8-1v1m6 0v1m16 0v1m4-2v1m7 0v1m4-2v1m7 0v1m37-2v1m51 0v1m53-2v1m19 0v1m5-1v1m18-1v1m6-1v1m1-1v1m1-1v1m1-1v1m7-2v1m6-1v1m13-2v1m17 0v1m2 0v1m1-1v1m4-2v2m11-3v1m5-1v1m3 1v1m4-1v1m8-1v1m1-3v1m2 1v1m3-2v1m7-2v1m3-1v1"/><path stroke="#cecece" d="M12 1v1m8-1v1m1-1v1m6-1v1m4-1v1m7 0v1m13-2v1m8 1v1m3-2v1m10-1v1m6-2v1m3 0v1m9-1v1m2-1v1m19-1v1m3 0v1m6-2v1m4 1v1m4-3v1m1 0v1m2-1v1m1-2v1m3 0v1m2 0v1m1-2v1m1-2v1m2 0v1m2 0v1m13-1v1m5-1v1m2-1v1m1-2v1m1 0v1m4-2v1m122 0v1m15-2v1m26 0v1m3-2v1m29 0v1m1-1v1m6-2v1m2-2v1m0 1v1m5-2v1m1-2v1m2 1v1m3-3v1m5 1v1m2-3v1m2-1v2m1-2v1m2 1v1m3-1v1m6-1v1m2-1v1m5-3v1m1 0v1m2-2v1m0 1v1m2-1v1m1-2v1m2 0v1m3-2v1m1-1v2m2-3v1m4-1v1m3 0v1m5-2v1m0 1v1m6-3v1m2 0v1m2-2v1"/><path stroke="#d3d3d3" d="M1 1v1m4-1v1m1-1v1m4-1v1m35-1v1m14 0v1m10-2v1m24-1v1m13-1v1m9 0v2m2-2v1m2-1v1m2 0v1m2-2v1m2-1v1m2-1v1m2-2v1m1 0v2m4-1v1m5 0v1m2-3v1m1 1v1m4-2v1m1 0v1m3-3v2m1 0v1m1-3v2m2 0v1m1-1v1m4-2v1m1-1v1m8-1v1m11 0v1m10-2v1m75 0v1m21-1v1m2-2v1m1 0v1m8-1v1m17-2v2m9-1v1m4-3v1m1 0v1m1-1v1m5-1v1m2-2v1m5 0v1m1 0v1m5-1v1m1-2v1m4-2v1m2 0v1m4-1v1m3-2v1m1 0v1m5 0v1m9-2v2m2-3v1m5 1v1m2-4v1m3 1v2m1-4v1m0 1v1m2-2v2m2-2v1m0 1v1m6-3v2m3 0v1m2-2v1m1-3v1m0 2v1m1-2v1m1-2v1m2 0v1m2 0v1m1-2v2m1-1v1m1-1v1m3-1v1m3-2v1m13-3v1m0 1v1m2 0v1m2-2v1m1-3v1m1 1v1m1-3v1m4 0v1m2-1v1m2 1v1m2-4v1m0 2v1"/><path stroke="#d8d8d8" d="M0 1v1m9-1v1m6-1v1m4-1v1m7-1v1m8-1v1m16-1v1m7-1v1m15-1v1m6 0v1m6-1v1m3-2v2m4-1v1m3-2v1m1-1v1m11 1v1m1-2v1m2-1v1m15-1v1m1 0v1m7-1v1m8-3v1m6 0v1m2 1v1m6-2v1m1-1v1m11-1v1m1-1v1m2 0v1m7-1v1m5-1v1m2-2v1m4-1v1m6 0v1m4-1v1m1-2v1m10 0v1m1-2v1m15 0v1m6-1v1m17-2v1m54 0v1m11-2v1m6 0v1m2-2v1m1 0v1m1-2v1m4 0v1m4-1v1m1-1v1m3-2v1m2 0v1m2-3v1m4 0v1m4-1v1m1 0v1m2-2v1m6 0v1m1-1v1m7-3v1m1-2v1m1 0v1m1 0v1m2-2v1m4 1v1m2-3v1m2 1v1m3-5v1m0 2v1m3-3v1m2 1v1m2-2v1m5 0v1m6-2v1m3 1v1m1-4v3m3-1v1m2-3v1m0 1v1m2-2v1m2 0v1m5-3v1m1 1v1m7-3v1m5 2v1m3-3v1m4-2v1m7 0v1m6 0v1"/><path stroke="#dcdcdc" d="M2 1v1m1-1v1m1-1v1m5-2v1m9-1v1m9-1v1m1-1v2m2-2v2m1-2v1m5 0v1m7-1v1m4-1v1m1-2v1m1 0v1m4-1v1m1-1v1m2-1v1m3-1v1m7-1v1m1-1v1m3-1v1m1-1v1m6-1v1m4-1v1m1-1v1m19 0v1m1 0v1m9-3v1m1 0v1m2-1v1m4-2v1m4 0v1m4-1v1m1 0v1m4-2v1m4-1v1m2-1v1m3-1v1m3-1v1m2 1v1m4-2v1m2-2v2m7-1v2m1-1v1m6-2v1m1 0v1m7-2v2m2-1v1m2-2v1m4-1v1m1 0v1m2-2v1m4 0v1m2-2v1m4-3v1m1 1v1m1-1v1m2-2v1m0 1v1m1-1v1m4-2v1m3 0v1m1-1v1m7-3v1m4 1v1m17-2v1m1-1v1m3 0v1m5-4v1m5 2v1m3-1v1m1-2v1m11-1v1m3 0v1m5-2v1m4 0v1m3-1v1m1-1v1m2-2v1m10-1v1m3-3v1m1 0v1m2 1v1m6-2v2m1-3v1m9 1v1m2-1v1m2-2v1m2-3v1m1 1v1m4-2v2m6-3v1m2 2v1m1-1v1m1-1v1m1-3v1m8-2v1m0 2v1m1-1v1m3-2v1m5 0v1m1-3v1m0 1v1m3-4v1m1 0v1m0 1v1m11-4v2m0 1v1m1-3v1m0 1v1m4-1v1m3-1v1m3-2v1m2-1v1m1-2v2m2-1v1m1-4v1m0 2v1m6-3v1m1-2v1m1 0v1m1 2v1m1-2v1m4-3v1m3 0v1m1-1v1m3-3v1m1 0v1m1 0v1m0 1v1m3-4v1m2 1v2m3-2v1m3-2v1m1-1v1m1 0v1m3-3v3m2-1v2m1-3v1m2-2v1m4 1v1m3-1v1m1-3v1m3-1v1m2-2v1m2-1v1"/><path stroke="#e1e1e1" d="M20 0v1m5 0v1m10-2v1m2-1v1m11 0v1m4-1v1m3-1v1m10-1v1m23-1v1m3-1v1m1-1v1m7 0v1m3-2v1m3 0v1m4-2v1m1-1v1m6-1v1m7 1v1m1-3v1m12 0v2m2-3v2m6-1v2m3-3v1m0 1v1m5 0v1m1-1v1m1-3v1m1-1v1m2 0v1m5 0v1m4-3v1m1-1v1m3 0v1m4-2v1m2 0v1m13 0v1m2-2v1m1-2v1m2 0v2m5-3v1m2 0v1m1 0v1m3-2v1m10 0v1m5-2v1m5-1v1m3-3v1m5 1v2m1-1v1m7-1v1m2-5v1m0 3v1m10-1v1m2-1v1m5-1v1m1-1v1m8-2v1m5-3v1m7 2v1m5-1v1m7-2v2m2-3v1m3-1v2m3-2v1m4 0v1m2-2v1m0 1v1m1-2v1m1-3v1m2-1v1m1-1v1m3 0v2m4-1v1m1-2v1m3 1v1m5-1v1m3-2v1m5-3v1m1 2v1m2-3v1m5-1v2m4 0v1m4-4v3m1-3v1m1-1v1m1 1v1m4 0v1m1-4v1m2 0v1m2-1v1m2-1v1m1-1v1m4-2v2m1-2v1m0 1v1m1-1v1m2-2v1m6-1v1m4-1v1m1 1v1m4-1v1m6-5v2m1-1v1m7-2v1m1 1v1m4-2v1m5-2v1m0 1v1m5 1v1m1-2v1m2-3v2m1-3v1m1 0v1m2-2v2m3 2v1m6-1v1m2-3v1m5-3v1m5 1v1"/><path stroke="#e6e6e6" d="M5 0v1m1-1v1m4-1v1m1-1v1m1-1v1m3-1v1m14 0v1m7-2v1m2-1v2m1-2v1m3-1v1m3-1v1m1 0v1m5-2v1m3-1v1m4 0v1m6-1v1m6-2v1m4 0v1m1-1v1m4-2v1m3-1v1m1 0v1m1-1v1m5-1v1m2-2v1m6 0v1m1-1v1m5-1v1m1-2v1m10 0v1m4 0v1m3-2v1m10-1v1m5-1v1m5-1v1m3 2v1m4-4v3m5-2v1m3 0v1m1-2v1m3-2v1m1 1v1m1-2v1m6 1v1m2-3v1m1-2v1m0 2v1m2-3v1m1 0v2m1-4v1m3 1v1m2 0v1m1-3v1m2 1v1m3-3v1m0 1v1m4-1v1m1-1v1m11-3v1m1-1v1m6 1v1m1-1v1m5-3v1m1-1v1m0 1v1m1-3v1m1-1v1m1 1v1m4-2v1m5-1v2m5-3v1m4 0v1m5 0v1m2-1v1m1-1v1m5-2v1m2-2v1m5-1v1m1 0v2m1-2v1m1-2v1m2 1v1m1-4v2m3 1v1m2-3v1m1 1v1m1-4v1m3 2v1m1-1v1m3-1v1m1-3v1m3-1v1m1 1v1m1-3v1m3-1v1m3-2v1m0 1v1m1-1v2m3-4v2m1-1v1m0 1v1m1-5v1m0 2v1m1-1v1m1-1v1m4-3v1m1 1v1m1 0v1m1-4v1m1 2v1m1-3v1m2-1v1m0 1v1m6-2v1m4-2v1m1-1v1m7 0v1m1-2v1m3-1v2m1-2v1m1-1v1m1-1v1m1-3v1m5 2v1m1-3v1m1 0v1m1-1v1m1-1v2m4-3v2m1-3v2m1 0v1m1 0v1m4-1v1m1-3v1m5 1v1m1-3v2m1 0v1m2-1v1m3-3v1m1 1v1m6-4v1m2 1v2m1-1v1m1 0v1m2-3v1m5-2v1m2 0v1m2-1v2m1-4v1m1 0v1m6-2v1m0 2v1m3-4v1m2 0v2m3-2v1m3-2v1m5 0v1m3-1v1m1 0v1m2-2v2m3-3v1m1 1v1m2-3v1m1 3v1m2-4v1m3-2v1m1 1v1m1-2v1m1-1v1m1 1v1m5-3v1m1 0v1m2-2v1m2 2v1m3-4v1"/><path stroke="#ebebeb" d="M14 0v1m2 0v1m1-2v1m12-1v1m31-1v2m1-2v2m1-1v1m1-2v2m1-2v1m2-1v1m7 0v1m3-1v1m2-2v1m2 0v1m16-2v1m5 0v1m3-1v1m1-2v2m3-1v1m5-1v1m4-1v1m4 0v1m3-3v1m9 1v1m1-1v1m5-2v1m0 1v1m5-3v1m1 0v1m5-2v1m8-1v1m3 0v1m1 0v1m1-1v1m1-3v1m0 2v1m4-4v1m2-1v1m0 2v1m1-3v1m5-1v1m2 1v1m1-2v1m3-3v1m0 1v1m3-1v1m2 0v1m5-1v1m2-3v1m1 1v1m2-4v1m4 0v1m0 1v1m1-4v1m5-1v1m1 1v1m3 0v1m2-2v2m8-2v1m1-2v2m1-2v1m0 1v1m1-2v1m1-2v1m0 1v1m2-4v1m3 0v1m2-1v3m2-2v1m2-2v1m0 1v1m1-1v1m2-4v1m0 1v1m3-1v1m1-3v1m1 0v1m1-3v1m3 2v1m1-1v1m2-2v1m0 1v1m1-2v1m1-3v1m1-1v1m1 1v1m1-2v1m1-3v1m5 1v1m3 0v1m1-1v1m2-1v2m1-3v1m2 0v1m1 0v1m1-2v1m1-2v2m1 0v1m1-5v1m1 2v1m1 0v1m1-5v1m0 2v1m1-2v2m2-3v1m1 1v2m1-4v1m5 2v1m2-4v1m3-1v1m0 1v1m1 0v1m4-2v1m3-4v1m4 0v1m0 2v1m3-2v2m1-2v2m1-1v1m1-3v1m0 1v1m3-4v1m0 2v1m1-5v2m0 1v1m1-2v1m0 1v1m1-4v1m1-1v1m0 2v1m2-4v1m1 0v1m1-2v2m1-2v2m0 1v1m1-5v2m1-1v1m1 2v1m1-3v1m1 1v1m3-2v1m1-3v1m2-1v1m1 1v1m1-4v1m0 1v2m2 0v1m2-4v1m1-2v1m3 1v1m3-1v1m3-2v1m0 1v1m4-2v1m1 0v1m2-4v1m0 2v1m1-2v1m1-3v1m1-1v1m0 3v1m7-4v1m0 2v1m2-5v1m4 0v1m1-2v2m1-2v1m3 0v1m1 2v1m1-4v1m1 0v1m1-2v1m0 2v1m5-1v1m3-5v1m3 2v1m1-3v1m4 0v1m8-2v1m1 2v1m2-4v1m1-2v1m0 1v1m3-2v1m1-2v1m1 1v1m1-3v1m1-1v2m2-2v1m4-1v1m0 1v1m3-1v1m1-3v1m1 0v1m0 1v1m3-4v1m3-1v1m0 1v1m1-3v1m0 1v1m2-3v1m2-1v1m1 2v2m3-5v2m3-2v2"/><path stroke="#f0f0f0" d="M1 0v1m1-1v1m2-1v1m3-1v1m1-1v1m5-1v1m6-1v1m2-1v1m1-1v1m2-1v1m2-1v1m7 0v1m1-2v1m15-1v1m1-1v1m8-1v1m1-1v1m6-1v1m2-1v1m4-1v1m1-1v1m2-1v1m1-1v1m1-1v1m4-1v1m10 0v1m4-2v1m5 0v1m1-2v1m1-1v1m2-1v1m4-1v2m1-2v1m3-1v1m9 0v1m3-1v1m2-2v1m1-1v1m2-1v1m2 0v1m3-2v1m2 0v1m2-1v1m1-2v1m4-1v2m1-1v1m3-1v1m1 0v1m2-1v1m4-2v1m3 0v1m2-1v1m1-3v1m1-1v1m0 1v1m3-1v1m6-1v1m1-3v1m1-1v1m0 2v1m1-2v3m2-5v1m3-1v2m2-1v1m1 1v1m1-4v1m1-1v1m1 1v1m1-1v1m1-1v1m1-3v1m0 2v1m1-3v1m1 0v1m1-1v1m1-1v1m3 0v1m2-2v1m1-3v1m0 3v1m2-4v1m1 1v1m1 0v1m2-2v1m1 0v1m2-3v1m1 0v1m1-2v2m2-2v1m1-3v1m1 0v2m1-1v1m1-3v2m3 1v1m1-1v1m1-3v1m2 0v1m1-2v1m1-1v1m1-1v1m3 0v1m0 1v1m1-1v1m1-3v1m1-1v1m4-2v1m1 0v1m3-2v2m3 1v1m1-5v2m1 0v1m1-1v1m2-2v3m1-4v1m0 1v2m2-2v1m3 0v1m1-3v1m1 0v1m1-1v1m1-2v1m2-1v1m0 2v1m1-4v1m3-2v1m1 0v1m0 1v1m2-3v2m1 1v1m1-5v1m3-1v1m1 1v3m5-4v1m0 1v1m1-3v3m2-1v1m1-2v1m3-1v1m1-3v1m1 3v1m2-5v1m2 2v1m2-4v1m2 1v1m2-3v1m2 0v1m1 0v1m2-3v2m0 2v1m1-3v3m3-5v1m0 2v1m2-3v1m2-2v1m1 0v1m1 0v1m1-1v1m3-2v1m3 0v1m1 0v1m1-4v1m3 1v1m3 0v1m2-4v1m1 0v1m1-2v1m7-1v1m2 0v1m1 1v1m1-3v1m2 1v1m2-3v1m2 1v1m1-3v2m1-3v1m2 0v1m1-2v1m0 1v1m3-3v1m0 1v1m1-3v1m2 1v1m1 1v1m2-4v1m3-1v1m2-2v1m2-1v1m4 0v1m1-2v1m1-1v1m0 1v1m1-3v1m1 2v1m2-3v1m2-1v1m1 2v1m1-4v1m1-2v1m5 0v1m2-2v1m0 1v1m1-3v1m1 0v1m3-1v1m1-2v1m1-1v1m0 1v1m1-1v1m2-3v2m2 0v1m6-3v1m3 2v1m2-3v1m16-2v2m2-2v1m4 1v1m1-3v1m8 0v1m3-1v1m1-2v1"/><path stroke="#f5f5f5" d="M3 0v1m20-1v1m2-1v1m7-1v1m8-1v1m3-1v1m4-1v1m5-1v1m1-1v1m3-1v1m1-1v1m11-1v1m1-1v1m4-1v1m4-1v1m7-1v1m1-1v2m1-2v1m1-1v1m5-1v1m8 0v1m2-2v1m4-1v1m4-1v1m3-1v1m2 0v1m2-2v1m2-1v2m1-2v1m1-1v1m1 0v1m1-2v1m2 0v1m1-1v1m1-1v1m4-2v1m1-1v2m3-2v1m5-1v1m1-1v1m5-1v1m1-1v1m1-1v1m1-1v1m2 0v1m3-2v2m1-1v1m1-1v1m1-2v1m2 0v2m2-2v1m1-1v1m1-1v1m1-2v1m0 1v1m1-3v1m0 1v1m1-2v1m1-1v1m1-2v1m0 1v1m1-3v1m4-1v2m1-1v1m1 0v2m1-4v1m1 1v1m1-2v1m1 0v1m1-1v1m1-2v1m1 0v1m1-2v1m2-2v1m0 3v1m1-4v1m1-2v1m0 1v1m1-2v1m3-2v1m1 0v1m0 1v1m1-2v1m1-3v1m1 0v1m1-1v2m1-1v1m1-3v1m1-1v1m2 0v1m1-2v1m2-1v5m1-1v1m1-3v1m2-2v2m2-1v2m2-4v1m2 0v1m0 1v1m3 0v1m1-2v1m1-4v2m1-1v1m0 2v1m1-3v1m0 1v1m1-1v1m2-4v1m1-1v1m2 0v2m2-4v1m0 3v1m1-5v1m0 2v1m1-1v1m4-3v1m0 2v1m3-5v2m0 2v1m1-3v1m1-3v2m0 1v1m6-3v1m0 2v1m1-4v2m0 1v1m1-4v1m1 0v1m2-3v2m1-2v1m2 2v2m1-3v1m1-3v1m1 2v1m1-2v1m1-2v1m0 2v1m1-4v1m1 0v2m2-1v2m1-5v1m1-1v1m0 1v1m1-2v1m1 0v2m1-3v1m1-1v1m2 0v1m1-3v1m1-1v1m0 1v1m1-3v1m1-1v1m3 0v1m1-1v1m1-1v1m1-1v1m0 1v1m1-4v1m1 0v1m1 1v1m1-4v2m0 1v1m1-3v1m0 1v1m1-4v1m0 1v1m1-2v2m1-1v1m2-3v1m1-1v1m5 0v1m0 2v1m2-3v1m1-2v1m2 0v1m0 1v1m2-5v1m0 1v1m2-3v1m1 0v1m3-1v1m1 0v1m2-3v1m1 0v1m5-2v1m1-1v1m1-1v1m1-1v2m1 1v1m1-4v1m3-1v1m1 0v1m1-1v1m3-1v1m1-2v1m1 1v1m2-3v1m2-1v2m2 0v1m2-2v1m3-2v2m1-2v1m6-1v1m3-1v1m1-1v1m1 1v1m2-3v1m1 3v1m2-5v1m1-1v2m0 1v1m2-3v1m2 1v1m1-4v1m1 2v1m8-4v2m5-2v1m1-1v1m1-1v1m3 0v1m5-2v1m7-1v2m4-2v2m7-2v1m2-1v1m4-1v1m1 0v1m2-2v1m2 0v1m10-1v1m2-2v1m3 0v1m1-2v1m2-1v1m1 1v1m1-3v1m5 0v1m2-2v1m1-1v1"/><path stroke="#fafafa" d="M0 0v1m16-1v1m17-1v1m8-1v1m3-1v1m2-1v1m16-1v1m17 0v1m9-2v1m5-1v1m2-1v1m1 0v1m1-2v1m1-1v1m1-1v1m10-1v1m3-1v2m2-2v1m1-1v1m1-1v1m2-1v1m4-1v1m5-1v1m1 0v1m2-2v1m4-1v1m2-1v1m7-1v1m1-1v1m6-1v1m1-1v1m1-1v2m4-2v1m2-1v1m3-1v1m4 0v1m1-2v1m1-1v1m2 0v1m3-2v1m4 0v1m2-2v1m0 1v1m1-3v1m5 0v1m0 2v1m4-2v1m1-4v2m1-1v1m1-1v2m1-3v1m1-1v2m4-2v1m2 0v1m1-2v1m0 1v2m3-4v2m2-1v1m3-2v1m1 0v1m1-1v1m1-2v1m0 2v1m1-3v1m0 1v2m1-3v1m1 1v1m1-5v2m0 1v1m2-3v1m2 0v1m1-3v1m1-1v1m1-1v1m2-1v1m0 1v1m1-3v1m1-1v1m1-1v1m1-1v1m1 2v1m1-3v1m1-1v2m0 1v1m1-4v1m1-2v1m1-1v1m1-1v1m0 1v1m1-2v1m1-2v1m1 2v1m2-2v1m1-1v1m1-3v2m1 1v1m7-4v2m0 2v1m4-5v1m2 0v1m0 1v2m2-5v1m1-1v1m0 1v1m1-3v1m0 2v1m1-3v1m6-1v1m1-2v1m3 0v1m0 2v1m2-4v1m2 0v1m2-2v2m3-3v1m4 1v1m1-1v1m2-2v1m0 2v1m1-5v1m2 0v2m1-1v2m1-3v1m5-2v1m1-1v2m2-2v1m1-1v1m2 0v1m2-2v1m2 2v1m4-1v1m1-4v1m1 1v1m1-3v1m0 1v1m1-3v1m2 0v1m6-2v1m6-1v1m0 1v1m1-3v2m1-2v1m8-1v1m2-1v1m1 3v1m1-5v1m6-1v1m1 0v1m1-2v1m6-1v1m8-1v1m2-1v1m2-1v1m4 0v1m7-2v1m5-1v1m4 0v1m12-2v1m1-1v1m3-1v1m2 1v1m2-3v1m4-1v1m7 0v1m1-2v1m9-1v1"/></g>
<path transform="translate(219,1632) scale(.5)" d="M2 21h0m6 23h0m3-40h0m1 26h0m1-11h0m0 16h0m1 3h0m0-28h0m2 31h0m2 8h0m1-7h0m0-17h0m1 3h0m0 3h0m3-16h0m4-6h0m3 20h0m4 20h0m1-14h0m1-21h0m1 26h0m3 1h0m1-24h0m2 0h0m2 25h0m1-18h0m6 11h0m2 8h0m0-1h0m1-34h0m0 18h0m1-3h0m2 21h0m3-3h0m7-35h0m1 26h0m2-7h0m0 19h0m1-4h0m2-12h0m2 8h0m3 7h0m1-36h0m1 35h0m9-2h0m6-2h0m1-12h0m6-2h0m0-2h0m3-6h0m3-2h0m9 18h0m0-11h0m1-6h0m3 18h0m5-28h0m5 10h0m0 29h0m6-4h0m3-39h0m1 14h0m0 21h0m1 6h0m18-3h0m3-3h0m11-4h0m10 6h0m2 5h0m2-22h0m6-6h0m5 16h0m5 3h0m4-14h0m15 11h0m4 12h0m12-32h0m0 19h0m7 2h0m9-11h0m8 25h0m3-40h0m11 16h0m1 25h0m10-25h0m4 17h0m4-24h0m5 28h0m7-38h0m10 32h0m1-6h0m1-4h0m1 19h0m9-6h0m8-33h0m2 5h0m6 0h0m7 33h0m2-43h0m1 1h0m19 26h0m6 7h0m1-23h0m4 11h0m6 12h0m1-27h0m29 18h0m3 20h0m1-11h0m0-25h0m5 0h0m7 32h0m4 3h0m28-45h0m3 23h0m9 24h0m1-4h0m2-18h0m6-16h0m17 8h0m14 28h0m5-17h0m6-2h0m11 17h0m14-24h0m5-14h0m2 34h0m6-14h0m1-17h0m4-4h0m3 12h0m6 21h0m3-24h0m2-4h0m0 0h0m8-2h0m3 6h0m6 1h0m3 18h0m3-24h0m1 13h0m11 7h0m3 3h0m7-14h0m4 21h0m4-24h0m7 3h0m1-3h0m2 6h0m3-5h0m1 4h0m0-18h0m9 38h0m3-7h0m4-7h0m0 22h0m10-22h0m0 13h0m13-2h0m3-17h0m0-12h0m2 6h0m5-12h0m1 1h0m2 15h0m3 30h0m5-19h0m0-28h0m3 42h0m6-28h0m25 0h0m7 10h0m2 11h0m3-24h0m8-12h0m2 5h0m10-2h0m2 5h0m3 3h0m0-9h0m-57 54h0m-8-2h0m-1 8h0m-6-4h0m-3 5h0m-3 0h0m-5 13h0m-4-6h0m-4-15h0m-1 22h0m-4 6h0m-3-9h0m-4 16h0m-6-7h0m-2-6h0m-1 11h0m-2-20h0m-3-2h0m-2-13h0m-14 13h0m-2 19h0m-1-3h0m-1 11h0m0-39h0m-3 34h0m0-38h0m-5 23h0m-2 0h0m-2 19h0m-2-4h0m-7-35h0m-5 6h0m-16 39h0m-4-33h0m0 1h0m-4 29h0m-6-35h0m-2 15h0m-3-15h0m-2 17h0m-14-7h0m-4-6h0m-2 17h0m-1 5h0m-8 2h0m-1 8h0m-5-19h0m-2 21h0m-2-16h0m-3-32h0m-1 6h0m-12 24h0m-1-22h0m-4 7h0m-5 26h0m-3 4h0m-3-12h0m-1-26h0m-1 10h0m0 12h0m-10-8h0m-2 23h0m-12-7h0m-2-25h0m0 13h0m-3-11h0m-4 17h0m-1-5h0m0-8h0m-5 18h0m-10 1h0m-6 1h0m-5-37h0m-5 43h0m-5-17h0m-21-21h0m-5 18h0m-32-20h0m-2 38h0m-12-16h0m-2-8h0m0-17h0m-8 40h0m-16-23h0m0 20h0m-1 4h0m-3-20h0m-2 1h0m0 20h0m-1-2h0m-7-7h0m-2-25h0m-1-5h0m-9 11h0m-5 33h0m-19-10h0m-2 6h0m0-1h0m-2-25h0m-1 17h0m-7 9h0m-8-19h0m-12 8h0m-1 4h0m-8-30h0m0-4h0m-3 33h0m-5-1h0m-23-24h0m-3 34h0m-10-21h0m-2 14h0m-2-26h0m-1 23h0m-6 3h0m-6-3h0m-5-35h0m-2 43h0m-6 2h0m-1-13h0m0 13h0m-7-40h0m-3-2h0m-1 31h0m0-15h0m-2 2h0m0 7h0m-5-4h0m-2 12h0m-2-22h0m-3 6h0m-2 23h0m0-3h0m-4 0h0m-2-6h0m-3 0h0m-4 4h0m-8-6h0m0-14h0m-3 0h0m-5 14h0m-7-23h0m0 20h0m-3-27h0m0 16h0m0-8h0m-8 13h0m-4 6h0m-3-26h0m-2-2h0m-8 9h0m-5-2h0m-1 6h0m-5 5h0m-3-1h0m-3 6h0m-4-13h0m-8 10h0m-1-12h0m-4 12h0m-1-11h0m-3-3h0m-3-7h0m-2 9h0m-1 0h0m-2 2h0m-8-8h0m-1 11h0m-5-13h0m-5 11h0m-1 2h0m-1-8h0m-2 3h0m-9 12h0m219 46h0m6 0h0m4-14h0m3 8h0m2-7h0m7 23h0m1 1h0m6-18h0m2 6h0m4-9h0m1 11h0m2-2h0m1 2h0m2 5h0m3 3h0m8-10h0m2-15h0m2 0h0m14 36h0m12-18h0m1 28h0m1-37h0m16-2h0m3-7h0m3 24h0m1-5h0m4 9h0m6-4h0m5-10h0m5 28h0m3-40h0m0 29h0m1-18h0m1 0h0m9 31h0m2-45h0m5 0h0m4 26h0m2 17h0m4-41h0m6 19h0m1-12h0m0 16h0m1 15h0m0-3h0m3-29h0m4 12h0m1-14h0m2 11h0m2 18h0m0-7h0m7-24h0m10 44h0m11-38h0m2 13h0m3-12h0m10-10h0m9 3h0m7 30h0m17 11h0m1-3h0m0-36h0m0 5h0m3 33h0m1-42h0m13 2h0m7 9h0m2 32h0m4-35h0m2-3h0m3-1h0m17 32h0m12-26h0m0 10h0m8-15h0m8-6h0m5 8h0m2-4h0m7 20h0m1 13h0m1 3h0m1 2h0m2 4h0m5-16h0m7-13h0m1 25h0m3 3h0m0 1h0m2-11h0m1-35h0m3 40h0m4-36h0m3 24h0m5-6h0m12 11h0m1-33h0m3 24h0m3-5h0m-37 33h0m-2 4h0m-8 2h0m-3-1h0m-8 6h0m-8-1h0m-7-8h0m-1 11h0m-5 10h0m-6-8h0m-1-5h0m0-11h0m-7 19h0m-2-13h0m-3 29h0m-1-19h0m-1 5h0m-2 15h0m-1-25h0m0 24h0m-3-31h0m-2 23h0m-3 10h0m-7 3h0m-6-1h0m-1-28h0m-5 31h0m0 5h0m-4-36h0m-3-12h0m-4 44h0m-2 0h0m-4-42h0m-3 34h0m-2-28h0m-5 25h0m-5-27h0m0 12h0m-11 18h0m-3 3h0m-1 0h0m-1-12h0m-1-2h0m-5 0h0m-1 11h0m0 2h0m-3 0h0m0 9h0m-2-35h0m-5 19h0m-4 17h0m-15-1h0m-1-4h0m-3-43h0m-2 11h0m-5 19h0m-21-9h0m-3 6h0m-17-25h0m-9 25h0m-8-19h0m-13-1h0m-5 6h0m-9-12h0m-6 0h0m-3 7h0m162 44h0" fill="none" stroke="#333" stroke-opacity=".8" stroke-width="4.2" stroke-linecap="round"/>
<g fill="none" stroke="rgba(0,0,0,.49)" stroke-width="4.5" stroke-linejoin="round"><path d="M323.1 2126.1L326.9 2101.8L327.8 2077.5L325.9 2053.2L321 2028.9L318 2019.7L312.6 2004.6L300.9 1981.9L299.9 1980.3L283.8 1959.8L279.8 1956L266.7 1945.4L249.6 1936.2L233.5 1931.7L232.5 1931.5L215.4 1931L212.2 1931.7L198.3 1934.8L181.2 1943.2L164.8 1956L164.1 1956.7"/><path d="M728.4 1809.5L725.8 1810.2L711.3 1814.3L694.2 1821.2L677.1 1830.5L671.1 1834.5L660 1842.3L642.9 1856.7L640.7 1858.8L625.8 1874.1L617.9 1883.1L608.7 1894.6L598.9 1907.4L591.6 1918.2L582.3 1931.7L574.5 1944.6L566.9 1956L557.4 1972.8L552 1980.3L540.3 2000.1L535.7 2004.6L523.2 2020.5L506.1 2022.2L489.7 2004.6L489 2004.1L473.5 1980.3L471.9 1978.5L458.5 1956L454.8 1951.1L443.1 1931.7L437.7 1924.5L426.6 1907.4L420.6 1899.7L408.5 1883.1L403.5 1877.1L388.2 1858.8L386.4 1856.9L369.3 1838.9L364.7 1834.5L352.2 1823.1L335.7 1810.2L335.1 1809.8L318 1798L300.9 1788.7L294.3 1785.9L283.8 1781.1L266.7 1775.4L249.6 1771.7L232.5 1769.9L215.4 1770L198.3 1772L181.2 1776L164.1 1782.3"/><path d="M728.4 1685.7L713 1688.7L711.3 1689L694.2 1693.7L677.1 1699.9L660 1707.8L650.6 1713L642.9 1717.2L625.8 1728.2L613.4 1737.3L608.7 1740.8L591.6 1754.7L583.7 1761.6L574.5 1769.7L557.4 1785.2L556.6 1785.9L540.3 1799.9L526.4 1810.2L523.2 1812.5L506.1 1821.4L489 1825.5L471.9 1824.5L454.8 1819.1L437.7 1810.5L437.3 1810.2L420.6 1799.5L403.5 1787.9L400.8 1785.9L386.4 1775.7L369.3 1764.3L365 1761.6L352.2 1753.4L335.1 1743.7L321.5 1737.3L318 1735.5L300.9 1728L283.8 1722.3L266.7 1718.1L249.6 1715.5L232.5 1714.3L215.4 1714.5L198.3 1716.2L181.2 1719.6L164.1 1724.7"/><path d="M728.4 1599.4L711.3 1602.1L694.2 1606.1L677.1 1611.3L665.4 1615.8L660 1617.8L642.9 1625.3L625.8 1634.3L616.3 1640.1L608.7 1644.6L591.6 1656L580.3 1664.4L574.5 1668.6L557.4 1681.9L548.9 1688.7L540.3 1695.4L523.2 1708.4L516.5 1713L506.1 1719.7L489 1728.3L471.9 1733.6L454.8 1735.1L437.7 1733.2L420.6 1728.5L403.5 1722.2L386.4 1715.1L381.8 1713L369.3 1707.1L352.2 1699.3L335.1 1692.4L324.9 1688.7L318 1686L300.9 1680.1L283.8 1675.5L266.7 1672.1L249.6 1670.1L232.5 1669.2L215.4 1669.6L198.3 1671.4L181.2 1674.5L164.1 1679.3"/></g>
</g>
<g clip-path="url(#c31)">
<g transform="translate(723,1632)" shape-rendering="crispEdges"><path fill="#333" d="M45 360h9v90h-9z"/><path fill="#343434" d="M36 360h9v90h-9z"/><path fill="#383838" d="M27 360h9v90h-9z"/><path fill="#3e3e3e" d="M18 360h9v90h-9z"/><path fill="#454545" d="M54 360h9v90h-9z"/><path fill="#494949" d="M63 360h9v90h-9z"/><path fill="#4b4b4b" d="M126 270h9v90h-9z"/><path fill="#4c4c4c" d="M9 360h9v90h-9z"/><path fill="#515151" d="M72 360h9v90h-9z"/><path fill="#525252" d="M117 270h9v90h-9z"/><path fill="#545454" d="M135 270h9v90h-9z"/><path fill="#555" d="M0 360h9v90h-9zM108 270h9v90h-9z"/><path fill="#595959" d="M90 270h9v90h-9z"/><path fill="#5a5a5a" d="M99 270h9v90h-9z"/><path fill="#646464" d="M144 270h9v90h-9z"/><path fill="#666" d="M81 360h9v90h-9z"/><path fill="#676767" d="M153 270h9v90h-9z"/><path fill="#707070" d="M81 270h9v90h-9z"/><path fill="#717171" d="M162 270h9v90h-9z"/><path fill="#747474" d="M90 360h9v90h-9z"/><path fill="#767676" d="M216 180h9v90h-9z"/><path fill="#7d7d7d" d="M207 180h9v90h-9z"/><path fill="#818181" d="M99 360h9v90h-9z"/><path fill="#838383" d="M180 180h9v90h-9zM198 180h9v90h-9z"/><path fill="#848484" d="M171 270h9v90h-9zM225 180h9v90h-9z"/><path fill="#858585" d="M72 270h9v90h-9zM234 180h9v90h-9z"/><path fill="#878787" d="M189 180h9v90h-9z"/><path fill="#8a8a8a" d="M63 270h9v90h-9zM171 180h9v90h-9z"/><path fill="#919191" d="M108 360h9v90h-9z"/><path fill="#959595" d="M243 180h9v90h-9z"/><path fill="#989898" d="M162 180h9v90h-9zM180 270h9v90h-9z"/><path fill="#9b9b9b" d="M54 270h9v90h-9z"/><path fill="#9d9d9d" d="M117 360h9v90h-9z"/><path fill="#a2a2a2" d="M252 180h9v90h-9z"/><path fill="#a6a6a6" d="M45 270h9v90h-9zM153 180h9v90h-9zM189 270h9v90h-9z"/><path fill="#a7a7a7" d="M261 180h9v90h-9z"/><path fill="#aaa" d="M288 90h9v90h-9z"/><path fill="#ababab" d="M279 90h9v90h-9z"/><path fill="#adadad" d="M198 270h9v90h-9z"/><path fill="#afafaf" d="M144 180h9v90h-9z"/><path fill="#b0b0b0" d="M135 180h9v90h-9zM270 90h9v90h-9zM306 90h9v90h-9z"/><path fill="#b2b2b2" d="M252 90h9v90h-9zM297 90h9v90h-9zM315 90h9v90h-9z"/><path fill="#b3b3b3" d="M261 90h9v90h-9z"/><path fill="#bbb" d="M126 360h9v90h-9zM270 180h9v90h-9zM324 90h9v90h-9z"/><path fill="#bebebe" d="M36 270h9v90h-9zM342 90h9v90h-9z"/><path fill="#c0c0c0" d="M333 90h9v90h-9z"/><path fill="#c1c1c1" d="M243 90h9v90h-9zM279 180h9v90h-9z"/><path fill="#c2c2c2" d="M207 270h9v90h-9z"/><path fill="#c7c7c7" d="M126 180h9v90h-9z"/><path fill="#c8c8c8" d="M288 180h9v90h-9z"/><path fill="#cacaca" d="M135 360h9v90h-9zM234 90h9v90h-9z"/><path fill="#cbcbcb" d="M117 180h9v90h-9z"/><path fill="#ccc" d="M27 270h9v90h-9z"/><path fill="#cdcdcd" d="M351 0h9v90h-9z"/><path fill="#cecece" d="M351 90h9v90h-9zM360 0h9v90h-9z"/><path fill="#cfcfcf" d="M225 90h9v90h-9zM369 0h9v90h-9zM387 0h9v90h-9z"/><path fill="#d0d0d0" d="M216 270h9v90h-9z"/><path fill="#d2d2d2" d="M378 0h9v90h-9z"/><path fill="#d3d3d3" d="M18 270h9v90h-9zM396 0h9v90h-9z"/><path fill="#d5d5d5" d="M144 360h9v90h-9zM297 180h9v90h-9z"/><path fill="#d6d6d6" d="M216 90h9v90h-9z"/><path fill="#d7d7d7" d="M225 270h9v90h-9zM360 90h9v90h-9zM405 0h9v90h-9zM414 0h9v90h-9z"/><path fill="#d9d9d9" d="M9 270h9v90h-9zM342 0h9v90h-9z"/><path fill="#dadada" d="M207 90h9v90h-9z"/><path fill="#dbdbdb" d="M108 180h9v90h-9z"/><path fill="#ddd" d="M324 0h9v90h-9zM333 0h9v90h-9z"/><path fill="#dedede" d="M315 0h9v90h-9zM369 90h9v90h-9z"/><path fill="#dfdfdf" d="M306 180h9v90h-9zM423 0h9v90h-9z"/><path fill="#e0e0e0" d="M432 0h9v90h-9z"/><path fill="#e1e1e1" d="M153 360h9v90h-9z"/><path fill="#e4e4e4" d="M315 180h9v90h-9z"/><path fill="#e5e5e5" d="M234 270h9v90h-9z"/><path fill="#e6e6e6" d="M441 0h9v90h-9z"/><path fill="#e7e7e7" d="M198 90h9v90h-9zM297 0h9v90h-9zM306 0h9v90h-9zM378 90h9v90h-9z"/><path fill="#e8e8e8" d="M0 270h9v90h-9zM90 180h9v90h-9zM99 180h9v90h-9z"/><path fill="#eaeaea" d="M162 360h9v90h-9zM189 90h9v90h-9zM243 270h9v90h-9zM324 180h9v90h-9z"/><path fill="#ededed" d="M387 90h9v90h-9z"/><path fill="#eee" d="M81 180h9v90h-9zM171 360h9v90h-9z"/><path fill="#efefef" d="M180 90h9v90h-9zM252 270h9v90h-9zM396 90h9v90h-9z"/><path fill="#f0f0f0" d="M288 0h9v90h-9z"/><path fill="#f1f1f1" d="M405 90h9v90h-9z"/><path fill="#f2f2f2" d="M171 90h9v90h-9zM279 0h9v90h-9z"/><path fill="#f3f3f3" d="M180 360h9v90h-9zM270 0h9v90h-9z"/><path fill="#f4f4f4" d="M72 180h9v90h-9zM162 90h9v90h-9z"/><path fill="#f5f5f5" d="M261 270h9v90h-9zM333 180h9v90h-9zM414 90h9v90h-9z"/><path fill="#f6f6f6" d="M63 180h9v90h-9zM342 180h9v90h-9z"/><path fill="#f7f7f7" d="M189 360h9v90h-9zM261 0h9v90h-9z"/><path fill="#f8f8f8" d="M270 270h9v90h-9zM423 90h9v90h-9z"/><path fill="#f9f9f9" d="M198 360h9v90h-9zM252 0h9v90h-9zM279 270h9v90h-9zM360 180h9v90h-9z"/><path fill="#fafafa" d="M54 180h9v90h-9zM207 360h9v90h-9zM243 0h9v90h-9zM351 180h9v90h-9z"/><path fill="#fbfbfb" d="M45 180h9v90h-9zM153 90h9v90h-9zM432 90h9v90h-9z"/><path fill="#fcfcfc" d="M144 90h9v90h-9zM288 270h9v90h-9zM369 180h9v90h-9zM441 90h9v90h-9z"/><path fill="#fdfdfd" d="M27 180h9v90h-9zM36 180h9v90h-9zM117 90h9v90h-9zM135 90h9v90h-9zM207 0h9v90h-9zM225 360h9v90h-9zM234 0h9v90h-9zM297 270h9v90h-9zM387 180h9v90h-9z"/></g>
<path transform="translate(723,1632) scale(.5)" d="M498 33h0m19 0h0m19-18h0m14 27h0m5-34h0m7 32h0m4-10h0m8-15h0m2 25h0m4 4h0m1-3h0m6-12h0m0 7h0m2 0h0m4-7h0m0 20h0m2-19h0m2 3h0m1-5h0m1-1h0m1-20h0m0 27h0m1 9h0m8 3h0m10-15h0m2 17h0m2-5h0m0-8h0m1 14h0m6-24h0m1 18h0m2-1h0m2-33h0m0 12h0m1 14h0m1-21h0m3-4h0m0 36h0m2-2h0m1 4h0m0-6h0m0 5h0m2-7h0m2-12h0m0 20h0m1-31h0m1 27h0m2-1h0m1-42h0m3 48h0m3-20h0m1 16h0m0-7h0m1-31h0m1-3h0m3 33h0m1-17h0m0 19h0m4-27h0m2-3h0m1 21h0m0 2h0m1 10h0m2-11h0m2-11h0m0 21h0m1-5h0m3-16h0m2 1h0m1-6h0m3 5h0m2 19h0m1-11h0m0-17h0m1 3h0m1 8h0m1 17h0m2-5h0m2-24h0m3 28h0m2-5h0m0-2h0m1 2h0m0 9h0m1-23h0m0 16h0m2 2h0m0-21h0m1 6h0m0 16h0m1-35h0m0 8h0m1 6h0m0-7h0m1-2h0m0 20h0m3-14h0m0 4h0m0 12h0m1-4h0m2-11h0m1-4h0m1 18h0m0-2h0m1-3h0m3-2h0m0-9h0m2-4h0m1 10h0m2-16h0m2 20h0m1-2h0m0 5h0m1-1h0m4-3h0m1-19h0m3 16h0m3-15h0m1 11h0m5-5h0m1-1h0m0-3h0m1 6h0m3-7h0m1 4h0m2-2h0m140 83h0m-1 1h0m-2-1h0m-1 5h0m-213-42h0m-4-3h0m-1 9h0m-6-3h0m-2-3h0m-1 2h0m-1 11h0m0-7h0m-11 9h0m-2-12h0m0 5h0m0 12h0m-1-20h0m-1-1h0m0 0h0m-3 21h0m0-2h0m-2 7h0m0-1h0m-1-26h0m-5 6h0m-2 3h0m-1 23h0m0-32h0m-1 27h0m-1-10h0m-2 15h0m-1-2h0m-2-6h0m-1-16h0m-2-3h0m0 5h0m0-9h0m-5 6h0m0 5h0m-1 30h0m0-35h0m-2 12h0m-1 23h0m-1-25h0m-1 30h0m0-26h0m-2 11h0m-1 15h0m-1-6h0m0-6h0m-1-1h0m-1-17h0m0-4h0m0 27h0m-4-23h0m-3-11h0m0 11h0m0 15h0m0 12h0m-1 1h0m-2 2h0m-1-3h0m-6-11h0m0 11h0m-3 3h0m-2-29h0m-3-6h0m0 36h0m-2-10h0m0-18h0m-1 12h0m-3 6h0m-2-11h0m-1-6h0m0 6h0m0-27h0m0 46h0m-6-4h0m-5 3h0m-5-9h0m-1-23h0m-2 21h0m-1 13h0m-1-20h0m-1 15h0m-4-3h0m-7 4h0m-7-15h0m-1 9h0m-11-4h0m-2-16h0m-3 23h0m-4-35h0m-1 37h0m-21-32h0m-5 34h0m-38 4h0m-21 40h0m4-4h0m13-35h0m2 31h0m6-13h0m14 27h0m9-10h0m2-19h0m1 21h0m7 1h0m2-11h0m1 13h0m0-19h0m2-11h0m4-5h0m4 22h0m1 11h0m0-9h0m0-25h0m8 27h0m5-20h0m7-6h0m2 20h0m1 18h0m1-26h0m1 23h0m1-7h0m2-1h0m2 6h0m2-32h0m0 41h0m1-40h0m1 8h0m3 25h0m1 2h0m0-27h0m1-14h0m0 30h0m0-18h0m0 27h0m2-14h0m1-23h0m1 4h0m1 1h0m1 19h0m1-20h0m1 19h0m0-17h0m1 3h0m1 13h0m1 2h0m1-16h0m2 11h0m2-4h0m0 18h0m1-14h0m0 17h0m1-25h0m1 19h0m0-5h0m1 3h0m1-13h0m0 11h0m1 3h0m2-22h0m0 24h0m1 8h0m2-5h0m1-6h0m0-30h0m0 13h0m0-12h0m1 5h0m2 26h0m1-17h0m1-7h0m2 7h0m2 9h0m9-11h0m1-8h0m1 12h0m7-3h0m3-12h0m1-3h0m3 1h0m1 0h0m2 8h0m2-9h0m0 2h0m255 43h0m1 1h0m4-7h0m1-1h0m1 0h0m0 2h0m2 9h0m2-8h0m4 6h0m1-7h0m0-15h0m1 3h0m0 17h0m2-22h0m0-6h0m1-3h0m0 3h0m2 29h0m2-42h0m0 14h0m0 20h0m1-16h0m0-5h0m0 18h0m2-15h0m0-7h0m1 18h0m0-11h0m2 22h0m0 6h0m2-10h0m0-11h0m1-24h0m1 33h0m0-34h0m1 45h0m0-38h0m1-3h0m2 17h0m0 6h0m2 1h0m-1 56h0m-1 6h0m0-32h0m-3-10h0m-1 29h0m-3 9h0m-1-29h0m-1 17h0m-1-8h0m-2-9h0m-2 26h0m-1-33h0m0 16h0m0-10h0m-1-5h0m-2 8h0m-1 4h0m-3 16h0m-1-7h0m-2-6h0m-2-10h0m0 16h0m-1-24h0m0 24h0m0 25h0m0-46h0m-1 35h0m-1-29h0m-1 24h0m-1 12h0m0-36h0m0 25h0m-1-28h0m0-5h0m0 12h0m-1 4h0m0 10h0m-1 19h0m0-46h0m-2 7h0m-2 5h0m0 30h0m0-12h0m0-23h0m-1 38h0m-1-21h0m0 12h0m-1-9h0m-1-1h0m-2 4h0m0 19h0m-1-9h0m0-13h0m-2 4h0m0 7h0m0-14h0m0 18h0m-2-17h0m-1-13h0m-2 20h0m-1 14h0m-1-5h0m0-7h0m0-12h0m-1 0h0m-1 11h0m-1 15h0m0-13h0m-1-1h0m-4 14h0m-5-11h0m-287-29h0m0-8h0m-2 5h0m-5-5h0m-2 13h0m-4-1h0m0-5h0m-2-2h0m-1-5h0m0 6h0m-2 7h0m-4-1h0m-1 16h0m-3-13h0m-1 10h0m-2-23h0m-1 2h0m0 13h0m-1-15h0m-2 1h0m-1-1h0m-1 29h0m-1-24h0m0 11h0m-2 8h0m0-23h0m-3 30h0m-1-19h0m-2 13h0m-2-17h0m0 32h0m-3 4h0m0-13h0m-1 1h0m-1-33h0m-2 20h0m0-12h0m-1 40h0m-1-23h0m0-1h0m-1 14h0m-3-30h0m0 21h0m-1 15h0m-4-3h0m0-12h0m-1 5h0m-3 10h0m0-12h0m-2-19h0m-1 28h0m-2-2h0m-5-10h0m0-2h0m-4 6h0m-4-30h0m-3 12h0m0 27h0m-8-40h0m-1 26h0m-5 18h0m-1-3h0m-1-2h0m-3 6h0m-4-46h0m-2 15h0m-3 13h0m-2-28h0m-4 43h0m-2-33h0m-6 36h0m-49 0h0m-21-9h0m-5-34h0m-102 78h0m49-2h0m35 13h0m1 4h0m14 1h0m2-22h0m23 11h0m1-7h0m12-27h0m5 40h0m5 0h0m2-23h0m2 2h0m1 26h0m3-3h0m2-27h0m0 30h0m3-38h0m1 3h0m2 32h0m1 2h0m8-8h0m1-1h0m1-3h0m0-27h0m2 23h0m1-21h0m0 32h0m2-28h0m1 4h0m0 17h0m2-3h0m1-5h0m0-22h0m1 29h0m1-27h0m0-3h0m1 9h0m0 4h0m1 31h0m0-49h0m0 4h0m1 27h0m0 1h0m2-31h0m1 24h0m1 21h0m3-25h0m2 19h0m2-2h0m1-23h0m3 24h0m4-14h0m3-14h0m3-8h0m4 26h0m2-25h0m2 11h0m0-6h0m0 11h0m3 2h0m1 1h0m2 1h0m0-11h0m4 4h0m2-7h0m0-3h0m1 8h0m2-9h0m1 12h0m6-16h0m0 2h0m2-3h0m307 41h0m5-7h0m1 6h0m4 4h0m2-14h0m0-3h0m2 20h0m0 1h0m3-24h0m0 4h0m4-1h0m1-3h0m0 23h0m1-16h0m1-21h0m0 2h0m1 18h0m0-18h0m0-2h0m5 3h0m0 11h0m1 14h0m0-36h0m1 10h0m0 6h0m1-11h0m0 0h0m1 10h0m2 11h0m0-13h0m1-6h0m1 8h0m1 6h0m0-16h0m0 26h0m0-28h0m0 17h0m3-13h0m1 37h0m1-21h0m0-10h0m1-1h0m0 34h0m2-24h0m1 15h0m1 4h0m1-12h0m1-31h0m0 17h0m0 27h0m0-22h0m1-18h0m1-2h0m2 38h0m2-24h0m1-12h0m0 3h0m1 12h0m1-10h0m2 5h0m2 9h0m2-15h0m0 19h0m4-22h0m3-3h0m1 38h0m2 7h0m1-42h0m0 9h0m5-7h0m2 27h0m3-29h0m3 20h0m4-21h0m1 13h0m6-14h0m5 0h0m1 3h0m-16 61h0m-4 30h0m-3-27h0m-5-3h0m-18 19h0m-1-1h0m-6-24h0m-3 15h0m-3-8h0m-6 10h0m0 8h0m-2-23h0m-1 29h0m-2-16h0m-4-7h0m0 6h0m-2-18h0m-1 13h0m0-19h0m-1 11h0m-4 21h0m-3 5h0m-1-30h0m-1 17h0m0-19h0m0-6h0m-3 45h0m-1-20h0m0-11h0m-1 6h0m-1 4h0m-2-7h0m-2-16h0m-1 43h0m-2-36h0m-1 2h0m0 36h0m-3-38h0m0 16h0m-1-4h0m0 16h0m-1 2h0m0 3h0m-7-17h0m-1 22h0m-1-43h0m0 36h0m-1-14h0m0-18h0m-2 9h0m-3 28h0m0-27h0m-2 2h0m-4 21h0m-12 8h0m-2-3h0m-2 0h0m-329-42h0m-7 2h0m-3 5h0m-7-6h0m-2 6h0m-10-5h0m-1-4h0m-2 23h0m-1-17h0m-3 16h0m0 3h0m-2 0h0m-2-18h0m-3 16h0m-1-15h0m-1-7h0m-3 38h0m-1 1h0m-1-22h0m0 26h0m-2-2h0m-1-2h0m-3-41h0m-3 12h0m-1 7h0m-1 18h0m0 1h0m-1-21h0m-4 6h0m-2-21h0m0 37h0m-2-3h0m-3-17h0m-2 22h0m-1 3h0m-1-3h0m-1-3h0m-1-2h0m-3 1h0m0-5h0m0-31h0m-1 28h0m-1 5h0m-3-7h0m-4 15h0m-11-3h0m-15-19h0m-4-16h0m-17 4h0m-49 15h0m-23-17h0m-10 91h0m8-30h0m36 23h0m2-16h0m1 17h0m1-13h0m2-11h0m0 4h0m2 0h0m6-22h0m6 30h0m5-29h0m8 47h0m5-11h0m3-10h0m2 3h0m4-12h0m1 21h0m1 9h0m1-9h0m3-2h0m0-12h0m0 23h0m2-2h0m5-41h0m2 39h0m0-13h0m2 17h0m5-29h0m0 21h0m1-16h0m8 9h0m0-20h0m0 8h0m1-16h0m0 20h0m0 0h0m2-7h0m1-15h0m3 28h0m2-7h0m3 2h0m3-15h0m3 1h0m1-3h0m2 2h0m2 5h0m2-6h0m0 3h0m3 1h0m6-5h0m1-3h0m0-5h0m3 5h0m361 42h0m4-4h0m1 3h0m0 2h0m4-18h0m3-4h0m1 1h0m6-9h0m2-8h0m0 23h0m1 0h0m0 0h0m0-30h0m1 3h0m1 1h0m0-3h0m1 17h0m1 1h0m1 17h0m2-28h0m0-1h0m0-6h0m1 32h0m5-37h0m3 16h0m2 2h0m0 15h0m1-18h0m0 9h0m4-11h0m1-9h0m1-2h0m0 43h0m2-22h0m2 2h0m1-16h0m1 20h0m3-25h0m1 10h0m4-1h0m1-5h0m5 29h0m2-16h0m5 19h0m3-3h0m4 2h0m6-31h0m11 10h0m3-5h0m3 5h0m10 15h0m5-5h0m6-25h0m2 1h0m8 14h0m2-5h0m30-5h0m5 7h0m-90 35h0m-7 9h0m-8 38h0m-2-26h0m-3 24h0m-3-11h0m-7 6h0m-1 7h0m-7-28h0m-2 9h0m-2-18h0m-2-7h0m-6 8h0m-3 35h0m-1-21h0m-2-22h0m-2 6h0m-3-6h0m-1 27h0m-7 0h0m0 1h0m-4-17h0m-2-11h0m-1 37h0m-1-29h0m0 2h0m-1 18h0m-1 1h0m0-29h0m0 7h0m0 15h0m-1-9h0m0-14h0m-1-2h0m0 24h0m0 10h0m0-27h0m-1-7h0m-1 48h0m0-1h0m0-21h0m-3 23h0m-2-35h0m0-2h0m-2 11h0m0 0h0m-2-11h0m-6 12h0m0 1h0m-4 4h0m-1 5h0m-2 0h0m0 12h0m0-20h0m-1 13h0m-1-12h0m-2 1h0m0 3h0m-1 2h0m0-3h0m-3 6h0m-402-35h0m-11 27h0m0 0h0m-1-4h0m-1 4h0m-1-4h0m-1-19h0m-4 22h0m0-22h0m0 13h0m-2 4h0m0-8h0m-2 14h0m-2 9h0m-2-21h0m-1 1h0m-1 5h0m-2-6h0m0 14h0m-1-2h0m-5-18h0m-2 22h0m-1 1h0m0 13h0m-1-42h0m-1 39h0m-1-35h0m-1 39h0m-1-22h0m-3 22h0m-6-14h0m-3 1h0m-1-22h0m-1 26h0m-3-22h0m-3 0h0m-5 24h0m-2 9h0m-2-11h0m0 8h0m-1-21h0m0-8h0m-2 6h0m-10-9h0m-1 31h0m-15 0h0m0-23h0m-4 7h0m-2 4h0m-14-17h0m-8 2h0m-2 28h0m-2-41h0m-7 3h0m-117 89h0m100-11h0m0-9h0m1-20h0m7 28h0m0 13h0m1-16h0m6-25h0m7 11h0m1 24h0m7-8h0m1-3h0m1-20h0m3 32h0m1-25h0m21-2h0m2 28h0m1 5h0m3-15h0m1 7h0m0-8h0m5-3h0m0 10h0m3-11h0m1-4h0m4 1h0m2-22h0m1 22h0m6-9h0m1 3h0m0 2h0m4-17h0m2 18h0m0-2h0m11-11h0m9-8h0m406 37h0m3 2h0m5 6h0m1-18h0m1 10h0m4-6h0m0-7h0m1 4h0m0-8h0m3 2h0m0 10h0m2 1h0m0 0h0m3-21h0m1 33h0m1-19h0m5-4h0m1 13h0m1-29h0m1 34h0m1-17h0m1-13h0m4 24h0m3-30h0m4 22h0m2-20h0m1 23h0m2-21h0m3-8h0m3 13h0m3-5h0m4 38h0m3-20h0m2-20h0m2 2h0m6 32h0m4-29h0m0-1h0m3 17h0m4 2h0m3 13h0m2-41h0m3 36h0m8-18h0m14-7h0m17-12h0m-7 83h0m-17-29h0m-8 31h0m-4-17h0m0 22h0m-8-41h0m-2 12h0m-6 4h0m-19-4h0m0-9h0m-15 42h0m-7 0h0m-3-17h0m0 2h0m-3-9h0m-1 12h0m-3 10h0m-6-41h0m-3 1h0m-4 9h0m-1 2h0m-3-5h0m-1 12h0m0-1h0m-1-20h0m0 2h0m-2 2h0m-1 24h0m-2 19h0m-3-30h0m-2-13h0m0 38h0m-3-1h0m0-29h0m-1-4h0m-2 0h0m-1 0h0m0-6h0m0 33h0m-2-14h0m0 7h0m-1 13h0m0-29h0m-1-6h0m0 17h0m-4-18h0m-1 4h0m-3 21h0m0-7h0m-1 13h0m-2 12h0m-1-37h0m-9 16h0m-6 6h0m-3 6h0m-4 6h0m-1 2h0m-4-5h0m-414-37h0m-9 12h0m-10-11h0m-3-7h0m-4 24h0m0 1h0m0 1h0m-8-13h0m-1 24h0m-2-11h0m-3 17h0m-3-6h0m0-1h0m0-10h0m-3 12h0m-11-14h0m-2-8h0m-8-15h0m0 24h0m0 11h0m-3-2h0m-9 6h0m-3 0h0m0 7h0m-3-37h0m-3 27h0m-1 0h0m0-14h0m-1 26h0m-6-35h0m-7 29h0m-1 3h0m-4-2h0m-30-6h0m-24-30h0m-20 30h0m20 59h0m7-26h0m8 10h0m0-11h0m2 15h0m1 12h0m13-27h0m1-9h0m1 30h0m1-3h0m2-24h0m4 19h0m0-30h0m6 38h0m7-11h0m2-26h0m0 39h0m1-11h0m0-13h0m5 13h0m6 13h0m1-12h0m2-7h0m2-15h0m0 31h0m6-37h0m0 2h0m3 5h0m1 13h0m1-2h0m2-17h0m2 3h0m3-2h0m2-2h0m3 5h0m8-10h0m2 5h0m1 1h0m435 43h0m1-4h0m6 1h0m1-8h0m4-5h0m0-1h0m0-1h0m1 5h0m7 10h0m1-19h0m2-9h0m1 12h0m0-17h0m3 28h0m9-39h0m2 11h0m0 26h0m3 5h0m2-5h0m1-36h0m1-1h0m0 23h0m0-25h0m1 11h0m8-11h0m1 30h0m0 3h0m0-33h0m0 22h0m1 5h0m0 0h0m7 11h0m2-35h0m6 4h0m9 4h0m2 11h0m3-10h0m2 17h0m3 19h0m6-19h0m2-13h0m15 2h0m22 16h0m8-28h0m27 28h0m5 42h0m-92 7h0m-27-19h0m-4-5h0m-2 17h0m-15 4h0m0-16h0m-14 1h0m-1-9h0m-1 19h0m-4 18h0m0-33h0m-1 13h0m-4-13h0m-1-4h0m-1 22h0m-2 6h0m0-18h0m-1-6h0m-3 8h0m-1-11h0m0 10h0m-2 17h0m0-10h0m-2-2h0m0 27h0m-1-23h0m-2-25h0m-3 6h0m0 0h0m-4 38h0m0-18h0m-2 7h0m0-4h0m-1-6h0m-2-7h0m-4 9h0m-1-6h0m-1 18h0m-1-11h0m0-3h0m-1 18h0m-6 2h0m-2-10h0m-15 13h0m-4 0h0m-421-47h0m-8 5h0m-3 0h0m-15-3h0m-6 4h0m-7 19h0m-2-19h0m-1 3h0m0 11h0m-6-10h0m-5 33h0m0-31h0m-5 34h0m-4 0h0m0 0h0m-2 2h0m-1-26h0m-4 15h0m-4-16h0m-1-4h0m-1 19h0m-4-18h0m-2 2h0m-3-7h0m-2 4h0m0 19h0m-2-9h0m-4 18h0m-2 27h0m9 3h0m2-7h0m1-2h0m0-12h0m5 10h0m3-8h0m7-6h0m9 6h0m444 43h0m1-6h0m0 1h0m3-1h0m2-4h0m3 3h0m5-9h0m2-5h0m2 9h0m0 7h0m1-15h0m1 2h0m1-4h0m2 12h0m0-23h0m2-5h0m3-5h0m3 35h0m0 7h0m0-26h0m3-9h0m0 20h0m2-28h0m3 44h0m1-20h0m1-15h0m3 22h0m0-16h0m1-1h0m4-12h0m2 39h0m0-3h0m1-28h0m2-5h0m0-6h0m2 25h0m2 15h0m1-36h0m7 29h0m10-22h0m8 13h0m2-20h0m5 5h0m3-11h0m2-1h0m10 11h0m17-3h0m7 27h0m8-32h0m57 4h0m-115 47h0m-1 14h0m0-2h0m-25 12h0m-1-17h0m-5 18h0m-1-20h0m-8-4h0m-3 8h0m-17-4h0m-2-2h0m-7-6h0m-5 46h0m-2-39h0m0 10h0m-4 3h0m0-22h0m-3 46h0m-3-46h0m0 4h0m-2 17h0m0 18h0m-1-33h0m-1 10h0m0-7h0m-3-1h0m-1 2h0m0 19h0m0-6h0m-1-8h0m-2 12h0m-12 10h0m-1-4h0m-7 15h0m-32 46h0m0-10h0m0 6h0m0 2h0m4-8h0m3-15h0m0 9h0m1-3h0m1 3h0m1-6h0m1 10h0m4 8h0m2-21h0m0 20h0m4-21h0m0 8h0m1-20h0m2 6h0m2 32h0m0-44h0m2 7h0m1-5h0m1 19h0m3-19h0m8 18h0m7-4h0m4 16h0m1 12h0m0-40h0m9-1h0m1 10h0m11-13h0m7 34h0m1-13h0m10 75h0m-38 3h0m-4-44h0m0 32h0m-8 1h0m-11-29h0m-12-5h0m-2 9h0m-2 0h0m-2 26h0m-1-13h0m-1 9h0m-4-10h0m-1-16h0m-2 15h0m-3-19h0m-2 9h0m-4 33h0m-3-36h0m0-3h0m0 21h0m-3-2h0m-2-2h0m-1 21h0m0-40h0m-4 18h0m-2-5h0m-1 11h0m-2-23h0m0 2h0m-3 21h0m-1 7h0m-1 8h0m-2-15h0m-6-15h0m0-1h0m-1 11h0m0 22h0m0-11h0m-4-2h0m-1 4h0m0 2h0m-2-8h0m-11 14h0m-1-7h0m-6 10h0m-3-1h0m-40 48h0m1 0h0m5 0h0m0-10h0m13-2h0m1-4h0m2 6h0m8 12h0m1-35h0m0-1h0m1 10h0m2-15h0m1 3h0m1 18h0m1-15h0m5 16h0m1-16h0m5-6h0m12 30h0m1-11h0m0 21h0m4-41h0m1 3h0m1 27h0m5-10h0m8 3h0m4-3h0m1-7h0m14-6h0m24-11h0m26 20h0m80 5h0m-134 58h0m-11-26h0m-3 20h0m-6-26h0m-20 10h0m-7-8h0m-9 9h0m-8 4h0m-5 30h0m-12-31h0m-6-6h0m-10-5h0m-1-1h0m0 31h0m-3-27h0m-1-3h0m-1 25h0m0-27h0m-3 31h0m-1-5h0m0 19h0m0-31h0m-2 5h0m-5-8h0m0 15h0m-1 13h0m-14 4h0" fill="none" stroke="#333" stroke-opacity=".8" stroke-width="4.2" stroke-linecap="round"/>
<g fill="none" stroke="rgba(0,0,0,.49)" stroke-width="4.5" stroke-linejoin="round"><path d="M699.6 2138.4L708 2130.6L723 2115.4L731.6 2106.3L746.4 2091.1L755.2 2082L769.8 2066.7L777.8 2057.7L793.2 2038.7L797.8 2033.4L815.1 2009.1L816.6 2005.6L827.6 1984.8L816.6 1975.1L801.4 1984.8L793.2 1989.2L769.8 2004.5L764.6 2009.1L746.4 2024.8L737.1 2033.4L723 2046.4L711 2057.7L699.6 2070.5L689.7 2082L676.2 2097.3L669 2106.3"/><path d="M759.9 2130.6L769.8 2120L782.7 2106.3L793.2 2095.2L806 2082L816.6 2070.7L829.1 2057.7L840 2045.4L850.3 2033.4L863.4 2017.6L871 2009.1L886.8 1990.3L891.7 1984.8L910.2 1960.5L910.2 1960.5L928.5 1936.2L933.6 1928.9L946.7 1911.9L957 1898.2L965.6 1887.6L980.4 1866.3L982.6 1863.3L998.8 1839L1003.8 1829.6L1012.5 1814.7L1015.6 1790.4L1003.8 1780.1L980.4 1785.3L971.8 1790.4L957 1798.3L933.6 1814.4L933.2 1814.7L910.2 1832.2L901.7 1839L886.8 1849.8L869.6 1863.3L863.4 1867.9L840 1887.5L839.9 1887.6L816.6 1906.7L811.1 1911.9L793.2 1928.3L785.3 1936.2L769.8 1950.9L759.7 1960.5L746.4 1972.4L733.8 1984.8L723 1995.8L709.9 2009.1L699.6 2018.6L684.8 2033.4L676.2 2042.3"/><path d="M786.6 2130.6L793.2 2123.6L810 2106.3L816.6 2099.5L833.9 2082L840 2075.6L855.9 2057.7L863.4 2048.5L876.7 2033.4L886.8 2021.7L898.7 2009.1L910.2 1995.8L920.3 1984.8L933.6 1968.4L940.5 1960.5L957 1937.7L958.3 1936.2L978.8 1911.9L980.4 1909.8L998.7 1887.6L1003.8 1880.6L1018.4 1863.3L1027.2 1852.6L1038.8 1839L1050.6 1820.3L1054.8 1814.7L1070.8 1790.4L1074 1784.9L1085.5 1766.1L1097.4 1745.5L1100 1741.8L1113.1 1717.5L1120.8 1699.2L1124 1693.2L1120.8 1668.9L1097.4 1671.4L1074 1681.5L1053.2 1693.2L1050.6 1694.6L1027.2 1709.8L1017.7 1717.5L1003.8 1726.6L983.9 1741.8L980.4 1744L957 1761L950.8 1766.1L933.6 1778.6L919.9 1790.4L910.2 1798.4L892.2 1814.7L886.8 1818.9L863.4 1838.2L862.5 1839L840 1857.7L834.2 1863.3L816.6 1878.4L806.6 1887.6L793.2 1899.5L780.8 1911.9L769.8 1922.6L756.3 1936.2L746.4 1945.3L730.2 1960.5L723 1967.4L705.7 1984.8L699.6 1991L681.9 2009.1L676.2 2014.7"/><path d="M793.2 2140.1L802.3 2130.6L816.6 2116.1L826.2 2106.3L840 2092.6L849.8 2082L863.4 2065.7L870.4 2057.7L886.8 2037.8L891 2033.4L910.2 2013L913.9 2009.1L933.6 1986.8L935.4 1984.8L955.8 1960.5L957 1958.8L976 1936.2L980.4 1930.8L997.2 1911.9L1003.8 1903.2L1016.6 1887.6L1027.2 1874.5L1037.7 1863.3L1050.6 1847.3L1057.4 1839L1073.9 1814.7L1074 1814.6L1091.3 1790.4L1097.4 1780L1107.4 1766.1L1120.8 1746.4L1124.8 1741.8L1143.2 1717.5L1144.2 1715.9L1160.4 1693.2L1167.6 1679.3L1173.5 1668.9L1182.9 1644.6L1187.4 1620.3L1167.6 1605.8L1144.2 1614.4L1135.4 1620.3L1120.8 1627L1097.4 1639.7L1090.2 1644.6L1074 1653.3L1050.6 1668L1049.3 1668.9L1027.2 1684.3L1016.9 1693.2L1003.8 1703.4L988.3 1717.5L980.4 1723.2L958.8 1741.8L957 1743.1L933.6 1760.8L927.6 1766.1L910.2 1779.8L898.8 1790.4L886.8 1800.7L871.8 1814.7L863.4 1821.1L843.2 1839L840 1841.6L817.7 1863.3L816.6 1864.2L793.2 1884.5L790 1887.6L769.8 1907.3L765.4 1911.9L746.4 1930.5L740.5 1936.2L723 1951.4L713.5 1960.5L699.6 1974.2L689.5 1984.8L676.2 1998.2L665.8 2009.1"/></g>
</g>
<g clip-path="url(#c32)">
<g transform="translate(1227,1632)" shape-rendering="crispEdges"><path fill="#333" d="M0 360h22.5v90h-22.5z"/><path fill="#383838" d="M22.5 360h22.5v90h-22.5z"/><path fill="#464646" d="M0 270h22.5v90h-22.5z"/><path fill="#505050" d="M45 360h22.5v90h-22.5z"/><path fill="#525252" d="M22.5 270h22.5v90h-22.5z"/><path fill="#656565" d="M67.5 360h22.5v90h-22.5z"/><path fill="#707070" d="M0 180h22.5v90h-22.5zM45 270h22.5v90h-22.5z"/><path fill="#7c7c7c" d="M22.5 180h22.5v90h-22.5z"/><path fill="#7d7d7d" d="M67.5 270h22.5v90h-22.5z"/><path fill="#878787" d="M90 360h22.5v90h-22.5z"/><path fill="#8a8a8a" d="M45 180h22.5v90h-22.5z"/><path fill="#959595" d="M90 270h22.5v90h-22.5z"/><path fill="#9d9d9d" d="M67.5 180h22.5v90h-22.5z"/><path fill="#a1a1a1" d="M112.5 360h22.5v90h-22.5z"/><path fill="#acacac" d="M0 90h22.5v90h-22.5zM90 180h22.5v90h-22.5z"/><path fill="#b0b0b0" d="M22.5 90h22.5v90h-22.5z"/><path fill="#b3b3b3" d="M112.5 270h22.5v90h-22.5z"/><path fill="#b6b6b6" d="M45 90h22.5v90h-22.5z"/><path fill="#bebebe" d="M135 360h22.5v90h-22.5z"/><path fill="#c0c0c0" d="M67.5 90h22.5v90h-22.5z"/><path fill="#c3c3c3" d="M135 270h22.5v90h-22.5z"/><path fill="#c8c8c8" d="M112.5 180h22.5v90h-22.5z"/><path fill="#c9c9c9" d="M0 0h22.5v90h-22.5z"/><path fill="#cbcbcb" d="M22.5 0h22.5v90h-22.5z"/><path fill="#cecece" d="M90 90h22.5v90h-22.5z"/><path fill="#d3d3d3" d="M157.5 360h22.5v90h-22.5z"/><path fill="#d5d5d5" d="M45 0h22.5v90h-22.5z"/><path fill="#d8d8d8" d="M135 180h22.5v90h-22.5z"/><path fill="#dadada" d="M112.5 90h22.5v90h-22.5z"/><path fill="#dbdbdb" d="M157.5 270h22.5v90h-22.5z"/><path fill="#dcdcdc" d="M67.5 0h22.5v90h-22.5z"/><path fill="#e0e0e0" d="M180 360h22.5v90h-22.5z"/><path fill="#e4e4e4" d="M90 0h22.5v90h-22.5z"/><path fill="#e5e5e5" d="M135 90h22.5v90h-22.5z"/><path fill="#e6e6e6" d="M180 270h22.5v90h-22.5z"/><path fill="#e8e8e8" d="M157.5 180h22.5v90h-22.5z"/><path fill="#e9e9e9" d="M112.5 0h22.5v90h-22.5z"/><path fill="#eee" d="M157.5 90h22.5v90h-22.5z"/><path fill="#efefef" d="M135 0h22.5v90h-22.5zM202.5 270h22.5v90h-22.5z"/><path fill="#f1f1f1" d="M180 180h22.5v90h-22.5z"/><path fill="#f3f3f3" d="M202.5 360h22.5v90h-22.5z"/><path fill="#f4f4f4" d="M202.5 180h22.5v90h-22.5z"/><path fill="#f6f6f6" d="M157.5 0h22.5v90h-22.5zM180 90h22.5v90h-22.5zM225 360h22.5v90h-22.5z"/><path fill="#f7f7f7" d="M225 270h22.5v90h-22.5z"/><path fill="#f9f9f9" d="M180 0h22.5v90h-22.5z"/><path fill="#fafafa" d="M225 180h22.5v90h-22.5z"/><path fill="#fbfbfb" d="M202.5 90h22.5v90h-22.5zM202.5 0h22.5v90h-22.5zM247.5 360h22.5v90h-22.5z"/><path fill="#fcfcfc" d="M225 90h22.5v90h-22.5zM247.5 270h22.5v90h-22.5z"/><path fill="#fdfdfd" d="M225 0h22.5v90h-22.5zM247.5 180h22.5v90h-22.5zM270 360h22.5v90h-22.5zM270 270h22.5v90h-22.5zM292.5 180h22.5v90h-22.5z"/></g>
<path transform="translate(1227,1632) scale(.5)" d="M120 1h0m6 10h0m4-9h0m0 6h0m3-2h0m2 2h0m4 17h0m1-14h0m0 13h0m3-23h0m2 14h0m1 13h0m4-7h0m1-10h0m1 22h0m1-2h0m1 4h0m0-31h0m3-1h0m0 9h0m2 8h0m0 13h0m1-6h0m1-2h0m1-10h0m0 23h0m2-5h0m0-7h0m2 9h0m0-2h0m2 1h0m2 10h0m0-22h0m0 19h0m2 0h0m2-12h0m0-4h0m1 19h0m4 0h0m1-15h0m1 3h0m0-19h0m0-6h0m1 17h0m2 12h0m2-8h0m0-13h0m1 25h0m0-17h0m0 8h0m0 13h0m2-34h0m1 27h0m1-2h0m3-2h0m0 0h0m4 13h0m0-24h0m2 7h0m0 16h0m1-7h0m4-10h0m2-14h0m1-8h0m0 24h0m3-22h0m0 16h0m1-7h0m1-7h0m2 29h0m3-30h0m0 23h0m4 7h0m1-20h0m3 17h0m1-13h0m0 13h0m3-1h0m0 12h0m2-22h0m1 19h0m0-29h0m1 19h0m1-24h0m0 30h0m2-25h0m0-10h0m2-3h0m3 45h0m2 1h0m2-2h0m10-20h0m1 21h0m1 1h0m1-22h0m3-24h0m2 47h0m3-2h0m2-17h0m1-13h0m2-3h0m7-13h0m2 11h0m0 21h0m2 5h0m0-29h0m6 7h0m0 15h0m1-11h0m2 5h0m10-8h0m2 3h0m2 28h0m4 1h0m1-7h0m2-14h0m3-14h0m2 29h0m1-20h0m5 9h0m2-21h0m5 24h0m0 5h0m0 3h0m4-11h0m4-2h0m8 14h0m5-32h0m3 18h0m6 14h0m1-41h0m15 21h0m4 15h0m17-18h0m7 17h0m3-1h0m2-23h0m4 17h0m3 8h0m12-29h0m12 4h0m139 39h0m-32 9h0m-13 19h0m-16-31h0m-36 0h0m-23 24h0m0 14h0m-17-34h0m-15 45h0m0-8h0m-4-32h0m-10 22h0m-1-10h0m-7-12h0m-16 24h0m-3 5h0m-1-5h0m-2-5h0m-6-10h0m-7 30h0m-2-15h0m-3-11h0m-11-15h0m-9 34h0m-9-3h0m-7-36h0m-3 12h0m-3 28h0m-3-7h0m0-21h0m-1 32h0m-1-40h0m0 42h0m-1-43h0m-2 8h0m-2 19h0m0-26h0m0 27h0m-6-9h0m-1 20h0m0-9h0m-1-33h0m-1 41h0m0-11h0m-3-10h0m-1 19h0m-1-40h0m-1 17h0m-2 30h0m0-41h0m-4 15h0m-2 11h0m-3-8h0m-2-4h0m0 27h0m-1-42h0m-1 0h0m-2 6h0m-1 1h0m-3 0h0m-2 31h0m-1-18h0m-4-25h0m-4 4h0m-1 20h0m-2-5h0m0 8h0m-1 0h0m0-25h0m-1 19h0m0-4h0m-4-16h0m-4 24h0m-1 14h0m-1-35h0m-2 33h0m0-29h0m-3 35h0m0-5h0m-2-20h0m0-3h0m-3 31h0m0-38h0m-2 38h0m0-3h0m0-43h0m-2 18h0m-1-1h0m-4-9h0m0 34h0m-1-32h0m0 27h0m-2 5h0m0 3h0m0-20h0m-2 10h0m-2-8h0m-1 1h0m0 5h0m0-3h0m-1-26h0m0 35h0m-2-19h0m-1-4h0m-1 21h0m-2 5h0m0-34h0m-2 21h0m-1-30h0m-1 5h0m-2 6h0m-4 14h0m-1 23h0m-1-10h0m-1 4h0m-1-21h0m-1-7h0m0 29h0m0-1h0m-1-9h0m-1-8h0m0 19h0m-2-1h0m0-25h0m-1 0h0m-1-14h0m-2 22h0m0-10h0m-2 32h0m0-1h0m0-14h0m-1-20h0m-1 25h0m0-28h0m0 12h0m-1 26h0m-1-6h0m0 2h0m0-34h0m-2-8h0m0 1h0m-1 27h0m0-6h0m0 15h0m-3-37h0m-1 40h0m0-12h0m0-20h0m-3 22h0m-2-8h0m-1-13h0m-1-6h0m-2 5h0m14 42h0m1 9h0m8 15h0m0-13h0m1 1h0m0 6h0m0-15h0m2-3h0m2 4h0m0 26h0m7 8h0m0-5h0m1-25h0m1 12h0m1 8h0m0-18h0m0 7h0m1 7h0m0-7h0m2-1h0m1 20h0m0 9h0m0-37h0m0 7h0m4-16h0m1-1h0m0 38h0m1-11h0m0-23h0m0 36h0m1-34h0m1 21h0m0 6h0m1-24h0m1-3h0m0 18h0m1 12h0m2-34h0m0 20h0m1-17h0m1 40h0m2-18h0m0 0h0m0-3h0m1 5h0m1 10h0m1-7h0m3 3h0m2-32h0m0 43h0m0 1h0m1-32h0m1 20h0m0 14h0m2-11h0m0 8h0m2-45h0m2 43h0m2-34h0m0 25h0m1 14h0m0 0h0m0-39h0m2 37h0m1-17h0m3-7h0m1-15h0m0 30h0m0-37h0m3 15h0m1-9h0m3 1h0m3-8h0m1 24h0m2 13h0m0 10h0m1-9h0m0 5h0m1 2h0m0-22h0m3-1h0m0-12h0m1 15h0m0 22h0m0 0h0m2-34h0m2 33h0m2-2h0m7-13h0m1-5h0m3-12h0m0 27h0m2-36h0m1 43h0m3-34h0m4 20h0m1-9h0m1 8h0m3 4h0m1-21h0m1 20h0m3-4h0m1-7h0m1 21h0m1-1h0m1 2h0m1 1h0m1-31h0m1-4h0m5 13h0m1-6h0m1 11h0m3-21h0m6 13h0m3-7h0m1 27h0m1-35h0m1 31h0m11-27h0m2-1h0m0-6h0m7 18h0m3 8h0m4-21h0m5 4h0m3 3h0m1-3h0m11 9h0m5 13h0m2-14h0m7-10h0m6 11h0m1-11h0m6 1h0m1 27h0m14-33h0m6 11h0m0 14h0m8-14h0m0 6h0m9-17h0m1 2h0m8 16h0m3-13h0m2-7h0m35 43h0m2-21h0m2 0h0m2-25h0m145 4h0m100-5h0m-169 56h0m-17-5h0m-45 47h0m-14-30h0m-9 15h0m-36-11h0m-25-10h0m-5 2h0m-8 33h0m0-28h0m-14 29h0m-3-48h0m-6 21h0m-1-12h0m-3 1h0m-7 8h0m-15 26h0m-2-29h0m-3-2h0m-1-7h0m-6 18h0m0-10h0m-1 24h0m-6-29h0m-3-8h0m0 31h0m-1 9h0m-2-17h0m-6-22h0m-7 34h0m0 5h0m0 0h0m-1 3h0m-8-40h0m0-1h0m-5 4h0m-1 30h0m-2-10h0m-2 13h0m-1-3h0m0-1h0m-2-2h0m-2-23h0m-1 0h0m0 32h0m-1-34h0m-2 16h0m0 0h0m-1-9h0m-2 12h0m-1-22h0m-1 11h0m0-6h0m-1 25h0m-2 6h0m0 2h0m0-13h0m-1 12h0m-3-4h0m-3 0h0m-2-15h0m0-16h0m0-8h0m-2 32h0m-2-24h0m0 10h0m0 1h0m0-19h0m-5 12h0m-1 34h0m-2-13h0m-1-21h0m-5-6h0m-1-3h0m-3-2h0m-1 8h0m-3 13h0m0-13h0m0-4h0m0-6h0m-2 34h0m-2-7h0m-3-7h0m0 20h0m-2 6h0m-1-34h0m0 5h0m-3 29h0m-1-36h0m-1 26h0m0-18h0m0 21h0m0-10h0m-1 10h0m-1-7h0m-2-5h0m0-18h0m-2 0h0m0 26h0m0-5h0m-3-24h0m0-5h0m0 2h0m-4 4h0m0 2h0m-2 17h0m-2-21h0m-3 12h0m-4 2h0m0-9h0m-2-1h0m-9-7h0m32 52h0m1 17h0m1-12h0m0-9h0m1 15h0m1 2h0m1 2h0m0 3h0m1 5h0m0-5h0m0 25h0m3-13h0m1 3h0m1 2h0m1 1h0m0-37h0m0-3h0m2 26h0m3 9h0m2-25h0m1-4h0m1 41h0m0-44h0m0 40h0m1-20h0m1-18h0m2-4h0m1 7h0m1 1h0m4-4h0m3-4h0m0 16h0m3 21h0m3-29h0m0 14h0m2 21h0m1-31h0m2 14h0m0-2h0m1-18h0m2 37h0m1-32h0m1 15h0m1-12h0m1-9h0m2 21h0m1 6h0m0-18h0m1 4h0m0-2h0m0 6h0m1-17h0m3 34h0m2 6h0m1-42h0m0 42h0m4-30h0m1 13h0m1 15h0m0-20h0m1-13h0m0 9h0m1 16h0m0-3h0m1-20h0m1 12h0m4 5h0m1-23h0m1 22h0m0-5h0m2 0h0m1 20h0m1-11h0m2-16h0m0 29h0m3-11h0m2-1h0m8-4h0m0-22h0m1 4h0m6-5h0m5 38h0m1-18h0m1-12h0m2 34h0m0-39h0m6-4h0m0 29h0m13 7h0m1-23h0m0-6h0m9-8h0m12 26h0m1 16h0m3-34h0m2 32h0m16-32h0m12 24h0m31 8h0m1-6h0m4 6h0m61-9h0m39-14h0m-6 46h0m-92 27h0m0 1h0m-12-33h0m-4 4h0m-2 28h0m0-13h0m-7-18h0m-9-8h0m-10 6h0m-10 21h0m-5 5h0m-1 10h0m-5-6h0m-1 1h0m-3 4h0m-4-46h0m-6 36h0m-1-11h0m-8 0h0m-1 8h0m-3 2h0m-2-28h0m0 33h0m0-41h0m-1 47h0m-3-36h0m-2 12h0m-2 7h0m-5-29h0m-5 44h0m-4-2h0m-2-31h0m-2-1h0m-9 4h0m-2 2h0m-2 11h0m-3 1h0m0 17h0m0-16h0m-2-1h0m-2-2h0m-1 3h0m-1-9h0m-1 16h0m0-15h0m-4 7h0m-1 5h0m-1-10h0m-4-11h0m-1 6h0m-1-13h0m-5 13h0m-2-14h0m-1 4h0m-1 1h0m0 18h0m0-21h0m-1 9h0m-2 4h0m-2 18h0m-2 3h0m0-3h0m-1-32h0m-2 26h0m0-1h0m-1 14h0m-1-3h0m0 1h0m-1-14h0m0 16h0m0-9h0m-2-13h0m0 18h0m-1 1h0m-2-8h0m-3 9h0m-3 0h0m-1-15h0m0 14h0m-2-34h0m-1 31h0m0-9h0m-2-2h0m0 15h0m0-32h0m-2-4h0m0 9h0m-1 31h0m-1-27h0m-1 0h0m-1 0h0m0 3h0m-1 5h0m-3-9h0m0 14h0m0 10h0m0-10h0m0-15h0m-1 13h0m0 12h0m-1-12h0m0-21h0m-3 0h0m-2 2h0m-1-9h0m-1 10h0m0 15h0m24 22h0m2 10h0m1-4h0m1 8h0m2-12h0m1 4h0m0 17h0m1-23h0m0 44h0m2-27h0m0 20h0m2 10h0m1-23h0m2-24h0m1 0h0m1 20h0m3-17h0m1 14h0m1-8h0m1 23h0m1 10h0m1-25h0m0 10h0m1 17h0m0-21h0m0-10h0m4 31h0m1-4h0m3-18h0m0-8h0m0 29h0m4-31h0m1 36h0m2-38h0m0-4h0m0 42h0m0-20h0m0-23h0m0 21h0m2-19h0m4 13h0m1 4h0m0 23h0m1-7h0m1-9h0m0-16h0m0 6h0m1-2h0m0 6h0m4-25h0m2 4h0m2 2h0m3-3h0m0 6h0m1 9h0m2-15h0m3 18h0m2 4h0m0 12h0m1-18h0m1 28h0m4-25h0m1-4h0m2 16h0m2 2h0m1-19h0m2 0h0m1 8h0m1 19h0m2-1h0m1-4h0m0-8h0m3-31h0m1 0h0m2 36h0m1 13h0m4-34h0m0-14h0m0 47h0m8-11h0m0 3h0m8-14h0m5 5h0m15-15h0m3 33h0m2-18h0m3-6h0m4-5h0m34 10h0m9-10h0m1-16h0m18 13h0m28 14h0m4 5h0m26-20h0m51 24h0m18 21h0m-21 23h0m-12-4h0m-60-21h0m-6 28h0m-10-4h0m-3 16h0m-8-11h0m-8-4h0m-1-18h0m-10 27h0m-3 3h0m-9-19h0m-6-23h0m0 21h0m-5 0h0m-4-19h0m-1 5h0m-25 38h0m-9-3h0m0-36h0m-2 6h0m-7 10h0m0 16h0m0-32h0m-5 27h0m-1 11h0m-3-39h0m-3 18h0m-1-3h0m-3-11h0m-3 0h0m0 5h0m-1 31h0m-3-22h0m-3-12h0m-6 27h0m0-19h0m-1-3h0m-1-7h0m-4 32h0m-6-35h0m0 28h0m-3-16h0m-3-17h0m-1 2h0m0 6h0m-2 21h0m-1-21h0m-2 7h0m-7-8h0m-3 28h0m-4-21h0m-1-14h0m0 23h0m-2-13h0m0 34h0m-2-42h0m-1 23h0m-1-10h0m-3-13h0m-2 33h0m-2-2h0m0-12h0m-1 16h0m-1-26h0m0 18h0m-1-19h0m-2-5h0m0-2h0m-1 39h0m-2-25h0m-1-1h0m-1-13h0m-1-7h0m0 24h0m-1 10h0m-1-1h0m0-12h0m-1 1h0m-2 5h0m0-9h0m-2-19h0m-1 45h0m0-30h0m-2 7h0m0 4h0m-1-20h0m0 39h0m0-21h0m-3 7h0m0 7h0m-1-15h0m-1-17h0m0 37h0m-1-18h0m-1 13h0m-1-24h0m-1-5h0m4 47h0m2 25h0m2-16h0m1 14h0m0-28h0m1 14h0m1 30h0m1-14h0m0-30h0m1 4h0m0 23h0m0-28h0m2 41h0m1-18h0m0-15h0m1 32h0m2-10h0m1 16h0m1-23h0m2-13h0m1 22h0m3 12h0m2-22h0m0 3h0m2-13h0m1 35h0m3-15h0m0 15h0m4-33h0m0 19h0m2-24h0m4-5h0m1 42h0m2-25h0m1 8h0m3-22h0m1 24h0m1 14h0m0-28h0m4 10h0m2 12h0m0-24h0m0 26h0m1-13h0m2-16h0m1 30h0m1-34h0m1 35h0m0-12h0m2 17h0m1-17h0m3 7h0m5-6h0m1-7h0m10-12h0m1 1h0m2 25h0m1-28h0m3 22h0m1-12h0m0 4h0m1-10h0m3 7h0m1 17h0m1-8h0m1-4h0m2-5h0m3-14h0m0-1h0m1-6h0m5 38h0m2 8h0m4-4h0m12-38h0m1 18h0m6-15h0m1-3h0m0 24h0m2 9h0m0 5h0m4 5h0m6 1h0m4-23h0m1 15h0m15 2h0m0-32h0m2 6h0m2 25h0m9-5h0m6-6h0m8-3h0m14-11h0m23 27h0m20-24h0m89-3h0m8 41h0m-60 41h0m-8-45h0m-14 41h0m-4-21h0m-8-5h0m-14-19h0m-50 45h0m-17-21h0m-5-19h0m-4 44h0m-5-29h0m-1 27h0m-1-36h0m-7 2h0m-15-8h0m-3 20h0m-1-8h0m-8 2h0m-3-12h0m-3 39h0m-1-20h0m-6 14h0m0-25h0m-2 0h0m-1-14h0m0 36h0m-1-25h0m-3 36h0m0 1h0m-9-32h0m-1 27h0m-1-42h0m-3 23h0m-2 18h0m-3-9h0m-2-34h0m0 13h0m-3 26h0m-1-9h0m-1-20h0m-4 32h0m-1-22h0m-1-4h0m-1 20h0m0-33h0m-3 24h0m-2-12h0m-1 4h0m0 6h0m-3 19h0m-3-32h0m-1 29h0m-1-19h0m0-7h0m0 32h0m-2-14h0m-1-5h0m-2 12h0m-4-27h0m-2 21h0m0 10h0m-4-12h0m0-8h0m-3-6h0m-4 6h0m0 10h0m-1-15h0m0 27h0m-1-26h0m0 3h0m-2-7h0m0 17h0m-1-1h0m0-27h0m-2 38h0m-1-30h0m0-8h0m0 10h0m-3 5h0m-2 14h0m-1 3h0m0 11h0m-2-31h0m-2 2h0m0 17h0m0-2h0m0-5h0m-5-13h0m0 4h0m-2-6h0m-2-3h0m15 40h0m4 10h0m3-2h0m0 12h0m0-3h0m4 26h0m0-31h0m0-5h0m2 31h0m0-10h0m1-7h0m0-18h0m2 14h0m0 4h0m0 18h0m1-38h0m1 24h0m0-8h0m1 28h0m0-11h0m1-32h0m1-2h0m1 12h0m1-6h0m1 24h0m1 3h0m0-10h0m1 1h0m0 16h0m4 6h0m4-13h0m0-19h0m2-15h0m2 33h0m0-21h0m4 27h0m0-9h0m0-30h0m3 34h0m1 7h0m1-15h0m0 19h0m2-3h0m10-2h0m1-28h0m2 16h0m1 16h0m2-9h0m2 11h0m0-12h0m4 11h0m1 0h0m3-1h0m1-21h0m3-3h0m1 18h0m0-20h0m3 11h0m2 10h0m1-35h0m1 21h0m0 4h0m1 5h0m0-24h0m3 34h0m1-20h0m0 18h0m1-35h0m0 32h0m1-7h0m1 6h0m2-27h0m2 24h0m3 8h0m2-43h0m1 35h0m1-25h0m2 9h0m0 10h0m2-29h0m0 31h0m1 16h0m1-28h0m3-14h0m4 0h0m2 31h0m1-14h0m0 10h0m7 2h0m0 3h0m6-18h0m5-2h0m8-2h0m2-2h0m1 30h0m0-22h0m3-18h0m1 43h0m6-15h0m21-2h0m7-8h0m72-6h0m8-5h0m11 10h0m18-2h0m115 5h0m-100 56h0m-26 18h0m-29-33h0m-37 29h0m-5-36h0m-24 16h0m-5 2h0m-4-2h0m-11 15h0m0-4h0m-5-14h0m-2-10h0m-2 17h0m-1-18h0m-6 17h0m0-17h0m-1-5h0m-5-1h0m0 18h0m-5-20h0m-1 17h0m-1-1h0m-2 17h0m-5-1h0m-6 14h0m0-8h0m-3-34h0m-1 36h0m-4-22h0m-1 2h0m0-11h0m-5 36h0m-8-29h0m-1 17h0m-5 15h0m-3-16h0m0 1h0m-1-10h0m-1 11h0m-1 7h0m0-4h0m-1-9h0m-2 19h0m-3-45h0m-2 29h0m-1-23h0m-1 25h0m0-24h0m-3-8h0m0 31h0m0 12h0m-2-7h0m0-2h0m-1-1h0m-1-13h0m-1 19h0m-1-35h0m-2 11h0m-3 9h0m-1 0h0m0-4h0m-2 22h0m-1-39h0m-4 22h0m0-6h0m-1-11h0m-5 37h0m0-27h0m0 5h0m-1-19h0m0-2h0m-3 30h0m0 9h0m-1-4h0m0-39h0m-3 19h0m-3-13h0m0 11h0m-1 9h0m0 12h0m-1-16h0m-1 26h0m0-31h0m0 30h0m-1-36h0m-1 3h0m-2 27h0m-1-39h0m0 33h0m-1-23h0m0 32h0m-2-34h0m-1-9h0m0 1h0m0 25h0m-1 12h0m0-30h0m-1 33h0m-1 3h0m0-27h0m-2 18h0m-1-17h0m0 19h0m-2-35h0m-2 25h0m-1-1h0m-2-20h0m-1 16h0m-1-8h0m-3-8h0m-2-4h0m0 4h0m-2 0h0m19 60h0m1-17h0m1 13h0m1 18h0m0-30h0m1 4h0m1 23h0m0-28h0m1 23h0m1 17h0m1-38h0m1 32h0m1-13h0m1-20h0m4 8h0m1 12h0m1-1h0m0 20h0m1 6h0m2-44h0m3-2h0m1 12h0m2 34h0m0-19h0m1 5h0m0-5h0m1-26h0m2 6h0m2 7h0m0 18h0m2-3h0m0-4h0m1 10h0m2 14h0m1-37h0m1 20h0m1-28h0m2 42h0m5-12h0m2-26h0m1 31h0m3-23h0m2 8h0m0 12h0m2-3h0m1-30h0m0 2h0m1 16h0m1 22h0m5 4h0m6-46h0m0 17h0m1 16h0m0-23h0m9 30h0m1-9h0m2 16h0m4-18h0m0 6h0m1-16h0m0 4h0m0 11h0m5-10h0m2 19h0m3-28h0m0 11h0m1-2h0m2-21h0m2 21h0m3-1h0m3-16h0m6 7h0m0 23h0m11 10h0m6-5h0m9-2h0m3-2h0m11-34h0m0 24h0m1-15h0m8 32h0m35-37h0m172 76h0m-32-27h0m-73-5h0m-40 2h0m-25 11h0m-21-9h0m0 22h0m-3 13h0m-12-10h0m-9-13h0m-15 23h0m-8-34h0m-12-8h0m0 3h0m-1 17h0m-2-20h0m-8 40h0m-5-34h0m-3 35h0m-2-15h0m0-23h0m-7 22h0m0 0h0m-6-6h0m-2 25h0m0-41h0m-4 36h0m-2-39h0m-1 43h0m-4-7h0m0-6h0m-1-26h0m0 22h0m-3-1h0m-6 23h0m0-20h0m-2-26h0m-1 23h0m0-1h0m-1-7h0m-1 10h0m-1-7h0m0 16h0m-1-17h0m-1 15h0m0-19h0m-5 2h0m-1 27h0m-1-11h0m0-29h0m-1 20h0m-2-9h0m-1-5h0m-1 6h0m-1 13h0m-3-9h0m-3 4h0m0 22h0m-4-38h0m0 3h0m-1 38h0m-1-33h0m0 15h0m-2-24h0m-1 23h0m-1 14h0m0-5h0m0 0h0m0 4h0m-1-21h0m-2-4h0m-2 4h0m0 20h0m-1 0h0m0 1h0m-1-19h0m-1-23h0m0 45h0m-1-33h0m-1-13h0m-1 34h0m0-34h0m-1 12h0m-1 5h0m-1 6h0m-1-15h0m0 30h0m-1 4h0m0 0h0m-1-15h0m0 20h0m-4-22h0m-1 16h0m-1-34h0m6 59h0m1 17h0m0-30h0m2 19h0m2-18h0m2 45h0m0-21h0m0 1h0m0-2h0m1-8h0m0 6h0m0-10h0m2 3h0m0-4h0m1 32h0m1-43h0m3 14h0m1-14h0m0 21h0m1 4h0m0 11h0m2-1h0m0-4h0m1-19h0m2-14h0m0 45h0m2 1h0m0-11h0m0-34h0m2 43h0m3-37h0m0 38h0m1-3h0m1-27h0m0 5h0m1 11h0m1-28h0m0 32h0m5-27h0m2-2h0m2 16h0m2-13h0m2 10h0m0-18h0m4 0h0m8 41h0m2-43h0m0 5h0m0 31h0m9-32h0m0 23h0m18 22h0m4-6h0m1-31h0m4 20h0m3-11h0m3 23h0m2-12h0m4-25h0m2 42h0m2-32h0m0 2h0m7-1h0m5 11h0m8 16h0m4-26h0m4 29h0m2-1h0m18-27h0m14-18h0m18 3h0m4 4h0m27 10h0m62 29h0m7 26h0m-3 13h0m-41 11h0m-9-48h0m-30 0h0m-6 5h0m-20 6h0m0 25h0m-25 5h0m-3-41h0m-2 5h0m-12 35h0m0-29h0m-13 27h0m-1 2h0m-8-8h0m-15-16h0m0-16h0m-1 28h0m-2-20h0m-12 16h0m-2-18h0m-1 11h0m-3 30h0m-1-24h0m-3 4h0m-1-5h0m-4-16h0m-2 21h0m-1 15h0m-2-32h0m0 34h0m-2-19h0m-2 0h0m-2-24h0m0 13h0m0 27h0m0-1h0m0-36h0m-2-3h0m-2 44h0m-3-37h0m-2 14h0m0-13h0m-2 6h0m-1 6h0m-4-13h0m-3-4h0m-6 38h0m-1-30h0m-3 3h0m-1-9h0m-5 21h0m-1 9h0m-1-5h0m-1 17h0m-1-18h0m0-19h0m-1 8h0m0 14h0m-1 5h0m-1-15h0m-2-4h0m0-18h0m0 14h0m-2 32h0m-1-47h0m-2 5h0m0 31h0m-2-19h0m-1-13h0m-1 42h0m0-32h0m-2 6h0m-1-11h0m-1-7h0m0 13h0m1 42h0m1 23h0m0-29h0m1 32h0m1-20h0m1 15h0m2-23h0m1 25h0m0 10h0m1-30h0m1-9h0m1 21h0m0 10h0m0-12h0m0 6h0m0 15h0m1-32h0m2-7h0m0 6h0m1 26h0m2-31h0m0 19h0m1 5h0m1-7h0m0 15h0m1-25h0m2 24h0m1 14h0m1-47h0m2 41h0m4-6h0m3-5h0m2-31h0m1 2h0m4 45h0m3-32h0m1 29h0m5-13h0m1-1h0m1-23h0m2 6h0m0-12h0m6 2h0m6 31h0m0 11h0m1-9h0m4-17h0m5-4h0m0-6h0m1 40h0m1-49h0m1 17h0m0 17h0m5-18h0m1 31h0m1-4h0m2-11h0m6 13h0m1-38h0m1 13h0m3-19h0m2 6h0m3 7h0m3-1h0m4-10h0m3 4h0m4 22h0m9 11h0m8-16h0m0 24h0m3-34h0m6-4h0m21 5h0m30 6h0m3 14h0m46 0h0m80 43h0m-47-2h0m-77-14h0m-5-1h0m-8-6h0m-7 24h0m-14-24h0m-3 4h0m-11 27h0m-2 12h0m-3 0h0m-9-5h0m-2-2h0m-10-19h0m-1 2h0m-4 13h0m-1-28h0m-3 36h0m-5-41h0m-3-1h0m-1 18h0m0 21h0m-1-29h0m-9-5h0m-2 9h0m-3 30h0m-2-14h0m-1 6h0m-6 8h0m0-19h0m-2 15h0m-1 1h0m-1-43h0m-2 32h0m-3-3h0m-1-14h0m-1-1h0m-5 12h0m-2-14h0m-1 30h0m-1-30h0m0 11h0m-1 21h0m0 1h0m-1-17h0m0 1h0m0-23h0m-5 40h0m0-27h0m-2-20h0m-3 30h0m-1 12h0m0-17h0m-2-12h0m-2 7h0m-2 29h0m-2-30h0m-1-12h0m-1 6h0m-9 12h0m-1-12h0m0-12h0m-1-1h0m-2 6h0m0 4h0m0 11h0m-1 23h0m0 5h0m0-49h0m0 26h0m-3-13h0m0-12h0m0 15h0m-2 13h0m0 17h0m-1-20h0m0 1h0m-1 5h0m-2-11h0m0 9h0m-4 6h0m-1 1h0m-1-20h0m-1-5h0m-1-6h0m0 38h0m0-9h0m-1 1h0m-1-16h0m0-1h0m-1 8h0m0 18h0m-1-20h0m19 25h0" fill="none" stroke="#333" stroke-opacity=".8" stroke-width="4.2" stroke-linecap="round"/>
<g fill="none" stroke="rgba(0,0,0,.49)" stroke-width="4.5" stroke-linejoin="round"><path d="M1275.1 2138.9L1280.4 2130.6L1280.9 2106.3L1275.1 2082L1275.1 2082L1274.4 2057.7L1274.5 2033.4L1270.9 2009.1L1267.1 1994.4L1263.5 1984.8L1259 1974.5L1251 1963.1L1249.2 1960.5L1243 1953.9L1235 1952.2L1227 1957L1219 1959.4L1216.8 1960.5L1211 1963.7L1203 1972.7L1195 1979.3L1189.8 1984.8L1187 1991.4L1182.5 2009.1L1178.9 2030.8L1178.5 2033.4L1175.6 2057.7L1177.5 2082L1178.9 2103.4L1179.2 2106.3L1180 2130.6"/><path d="M1351.9 2130.6L1352.6 2106.3L1352.2 2082L1353.3 2057.7L1353.6 2033.4L1351.2 2009.1L1347.5 1984.8L1347.2 1983L1343 1960.5L1339.1 1942.8L1337.9 1936.2L1333.1 1911.9L1331.1 1902.5L1325.5 1887.6L1323.1 1883.4L1315.1 1868.2L1313.6 1863.3L1307.1 1843.4L1304.9 1839L1299.1 1830.5L1291.1 1819.7L1287.9 1814.7L1283.1 1806.7L1275.1 1795.5L1267.1 1793L1259 1793.6L1251 1790.4L1251 1790.4L1243 1782.9L1235 1777.5L1227 1771.3L1220.6 1766.1L1219 1764.6L1215.6 1766.1L1211 1768.1L1203 1777.1L1195 1785.4L1189.1 1790.4L1187 1792.2L1178.9 1796.1L1170.9 1799.9"/><path d="M1390.2 2130.6L1389.5 2106.3L1389.3 2082L1392.8 2057.7L1391.9 2033.4L1387.2 2015.8L1385.9 2009.1L1383.9 1984.8L1383.2 1960.5L1381 1936.2L1379.2 1926.2L1375.9 1911.9L1371.2 1901.1L1363.6 1887.6L1363.2 1886.3L1358.2 1863.3L1355.2 1848.8L1353.2 1839L1347.6 1814.7L1347.2 1813.2L1340.5 1790.4L1339.1 1783.9L1333.5 1766.1L1331.1 1762.8L1323.1 1751.8L1316.4 1741.8L1315.1 1740L1307.1 1731.6L1299.1 1725.2L1293.9 1717.5L1291.1 1709.4L1283.1 1694.4L1282.4 1693.2L1275.1 1684.9L1267.1 1672.6L1264.1 1668.9L1259 1664.3L1251 1663.7L1243 1667.1L1235 1666.6L1227 1665.2L1222 1668.9L1219 1671.2L1211 1683.1L1203 1683.5L1195 1678.3L1187 1679L1178.9 1686.5L1173.7 1693.2L1170.9 1696.2"/><path d="M1412.8 2130.6L1415.4 2106.3L1417.5 2082L1417 2057.7L1415.3 2033.4L1414 2009.1L1411.2 1989.1L1410.2 1984.8L1408.4 1960.5L1406.6 1936.2L1403.2 1925.6L1397.4 1911.9L1395.2 1905.7L1391.3 1887.6L1387.2 1872.8L1383.8 1863.3L1379.2 1840.7L1378.9 1839L1377.6 1814.7L1372.5 1790.4L1371.2 1787.7L1363.2 1778.4L1357.5 1766.1L1355.2 1756.4L1352.4 1741.8L1347.2 1722.3L1342.4 1717.5L1339.1 1712.7L1331.1 1703.9L1323.1 1693.3L1323.1 1693.2L1315.1 1670.1L1314.8 1668.9L1307.1 1654.2L1299.1 1646.7L1296.1 1644.6L1291.1 1639L1283.1 1629.9L1275.1 1626.2L1267.1 1625.1L1259 1622.3L1256 1620.3L1251 1613.3L1243 1609L1235 1605.2L1227 1605L1219 1612.7L1211 1619.8L1209.7 1620.3L1203 1622.4L1195 1624.1L1187 1622.6L1178.9 1624.1L1170.9 1633.9"/></g>
</g>
<g clip-path="url(#c00)">
<path d="M219 570V242.8h.9V198.8h.9V214.1h.9V214.1h.9V210.3h.9V172h.9V206.5h.9V174h.9V141.4h.9V141.4h.9V193.1h.9V198.8h.9V175.9h.9V200.7h.9V206.5h.9V227.5h.9V206.5h.9V189.3h.9V229.4h.9V143.3h.9V189.3h.9V210.3h.9V187.3h.9V214.1h.9V195h.9V185.4h.9V177.8h.9V172h.9V177.8h.9V225.6h.9V191.2h.9V198.8h.9V237.1h.9V210.3h.9V208.4h.9V216h.9V187.3h.9V210.3h.9V256.2h.9V208.4h.9V200.7h.9V208.4h.9V263.9h.9V189.3h.9V223.7h.9V208.4h.9V221.8h.9V225.6h.9V223.7h.9V223.7h.9V219.9h.9V240.9h.9V218h.9V223.7h.9V225.6h.9V256.2h.9V250.5h.9V216h.9V248.6h.9V219.9h.9V275.4h.9V242.8h.9V288.8h.9V263.9h.9V271.5h.9V288.8h.9V306h.9V311.7h.9V283h.9V252.4h.9V290.7h.9V265.8h.9V286.8h.9V279.2h.9V267.7h.9V290.7h.9V260.1h.9V284.9h.9V252.4h.9V281.1h.9V306h.9V294.5h.9V283h.9V321.3h.9V306h.9V304.1h.9V306h.9V269.6h.9V353.8h.9V321.3h.9V300.2h.9V296.4h.9V281.1h.9V346.1h.9V323.2h.9V298.3h.9V298.3h.9V338.5h.9V325.1h.9V336.6h.9V309.8h.9V325.1h.9V353.8h.9V334.7h.9V363.4h.9V330.8h.9V338.5h.9V348.1h.9V323.2h.9V344.2h.9V363.4h.9V380.6h.9V386.3h.9V351.9h.9V384.4h.9V355.7h.9V361.5h.9V357.6h.9V372.9h.9V394h.9V357.6h.9V372.9h.9V351.9h.9V371h.9V388.2h.9V378.7h.9V355.7h.9V382.5h.9V411.2h.9V372.9h.9V390.2h.9V395.9h.9V397.8h.9V407.4h.9V426.5h.9V422.7h.9V405.5h.9V424.6h.9V405.5h.9V420.8h.9V394h.9V399.7h.9V395.9h.9V418.9h.9V416.9h.9V413.1h.9V445.6h.9V441.8h.9V411.2h.9V447.6h.9V426.5h.9V416.9h.9V453.3h.9V426.5h.9V424.6h.9V455.2h.9V416.9h.9V434.2h.9V447.6h.9V449.5h.9V474.3h.9V434.2h.9V424.6h.9V462.9h.9V468.6h.9V480.1h.9V472.4h.9V428.4h.9V453.3h.9V453.3h.9V466.7h.9V470.5h.9V459h.9V491.6h.9V474.3h.9V478.2h.9V474.3h.9V482h.9V453.3h.9V487.7h.9V476.2h.9V478.2h.9V478.2h.9V468.6h.9V464.8h.9V472.4h.9V470.5h.9V495.4h.9V485.8h.9V489.6h.9V493.5h.9V506.9h.9V480.1h.9V493.5h.9V497.3h.9V483.9h.9V489.6h.9V482h.9V506.9h.9V503h.9V491.6h.9V489.6h.9V493.5h.9V499.2h.9V514.5h.9V497.3h.9V504.9h.9V499.2h.9V491.6h.9V512.6h.9V489.6h.9V508.8h.9V504.9h.9V508.8h.9V491.6h.9V504.9h.9V495.4h.9V506.9h.9V499.2h.9V491.6h.9V474.3h.9V504.9h.9V516.4h.9V520.3h.9V493.5h.9V504.9h.9V503h.9V524.1h.9V512.6h.9V504.9h.9V524.1h.9V506.9h.9V518.3h.9V520.3h.9V503h.9V516.4h.9V524.1h.9V499.2h.9V529.8h.9V512.6h.9V514.5h.9V524.1h.9V506.9h.9V520.3h.9V516.4h.9V512.6h.9V514.5h.9V514.5h.9V493.5h.9V503h.9V508.8h.9V524.1h.9V520.3h.9V503h.9V518.3h.9V516.4h.9V499.2h.9V499.2h.9V497.3h.9V495.4h.9V522.2h.9V514.5h.9V516.4h.9V493.5h.9V518.3h.9V520.3h.9V510.7h.9V514.5h.9V495.4h.9V503h.9V503h.9V499.2h.9V506.9h.9V493.5h.9V526h.9V504.9h.9V501.1h.9V491.6h.9V524.1h.9V510.7h.9V495.4h.9V497.3h.9V522.2h.9V497.3h.9V522.2h.9V524.1h.9V518.3h.9V504.9h.9V522.2h.9V510.7h.9V508.8h.9V495.4h.9V514.5h.9V499.2h.9V514.5h.9V514.5h.9V508.8h.9V510.7h.9V501.1h.9V489.6h.9V508.8h.9V508.8h.9V506.9h.9V493.5h.9V497.3h.9V483.9h.9V508.8h.9V480.1h.9V499.2h.9V514.5h.9V474.3h.9V503h.9V503h.9V468.6h.9V497.3h.9V499.2h.9V499.2h.9V504.9h.9V504.9h.9V493.5h.9V510.7h.9V499.2h.9V504.9h.9V504.9h.9V495.4h.9V482h.9V487.7h.9V495.4h.9V476.2h.9V491.6h.9V516.4h.9V487.7h.9V512.6h.9V499.2h.9V495.4h.9V476.2h.9V504.9h.9V512.6h.9V487.7h.9V470.5h.9V478.2h.9V495.4h.9V476.2h.9V482h.9V493.5h.9V504.9h.9V489.6h.9V487.7h.9V472.4h.9V497.3h.9V489.6h.9V491.6h.9V493.5h.9V470.5h.9V476.2h.9V466.7h.9V457.1h.9V470.5h.9V457.1h.9V478.2h.9V476.2h.9V455.2h.9V470.5h.9V468.6h.9V483.9h.9V485.8h.9V499.2h.9V487.7h.9V459h.9V455.2h.9V472.4h.9V489.6h.9V457.1h.9V460.9h.9V453.3h.9V470.5h.9V432.2h.9V483.9h.9V451.4h.9V472.4h.9V468.6h.9V468.6h.9V455.2h.9V476.2h.9V459h.9V466.7h.9V459h.9V459h.9V439.9h.9V455.2h.9V464.8h.9V447.6h.9V447.6h.9V474.3h.9V451.4h.9V453.3h.9V476.2h.9V466.7h.9V460.9h.9V447.6h.9V453.3h.9V468.6h.9V441.8h.9V453.3h.9V474.3h.9V439.9h.9V441.8h.9V439.9h.9V443.7h.9V470.5h.9V457.1h.9V453.3h.9V432.2h.9V453.3h.9V451.4h.9V426.5h.9V443.7h.9V413.1h.9V468.6h.9V449.5h.9V453.3h.9V422.7h.9V451.4h.9V418.9h.9V436.1h.9V439.9h.9V439.9h.9V411.2h.9V432.2h.9V438h.9V443.7h.9V447.6h.9V459h.9V449.5h.9V432.2h.9V403.5h.9V438h.9V401.6h.9V432.2h.9V447.6h.9V426.5h.9V424.6h.9V409.3h.9V432.2h.9V434.2h.9V434.2h.9V432.2h.9V436.1h.9V418.9h.9V416.9h.9V411.2h.9V413.1h.9V418.9h.9V411.2h.9V420.8h.9V443.7h.9V428.4h.9V409.3h.9V407.4h.9V407.4h.9V428.4h.9V411.2h.9V436.1h.9V441.8h.9V445.6h.9V409.3h.9V457.1h.9V445.6h.9V422.7h.9V415h.9V394h.9V434.2h.9V411.2h.9V411.2h.9V411.2h.9V449.5h.9V409.3h.9V418.9h.9V380.6h.9V428.4h.9V407.4h.9V443.7h.9V409.3h.9V424.6h.9V415h.9V432.2h.9V395.9h.9V411.2h.9V382.5h.9V386.3h.9V438h.9V388.2h.9V376.8h.9V386.3h.9V394h.9V413.1h.9V374.8h.9V415h.9V432.2h.9V409.3h.9V570z" fill="#e8e8e8"/>
<path d="M219.9 242.8V198.8h.9V214.1h.9V214.1h.9V210.3h.9V172h.9V206.5h.9V174h.9V141.4h.9V141.4h.9V193.1h.9V198.8h.9V175.9h.9V200.7h.9V206.5h.9V227.5h.9V206.5h.9V189.3h.9V229.4h.9V143.3h.9V189.3h.9V210.3h.9V187.3h.9V214.1h.9V195h.9V185.4h.9V177.8h.9V172h.9V177.8h.9V225.6h.9V191.2h.9V198.8h.9V237.1h.9V210.3h.9V208.4h.9V216h.9V187.3h.9V210.3h.9V256.2h.9V208.4h.9V200.7h.9V208.4h.9V263.9h.9V189.3h.9V223.7h.9V208.4h.9V221.8h.9V225.6h.9V223.7h.9V223.7h.9V219.9h.9V240.9h.9V218h.9V223.7h.9V225.6h.9V256.2h.9V250.5h.9V216h.9V248.6h.9V219.9h.9V275.4h.9V242.8h.9V288.8h.9V263.9h.9V271.5h.9V288.8h.9V306h.9V311.7h.9V283h.9V252.4h.9V290.7h.9V265.8h.9V286.8h.9V279.2h.9V267.7h.9V290.7h.9V260.1h.9V284.9h.9V252.4h.9V281.1h.9V306h.9V294.5h.9V283h.9V321.3h.9V306h.9V304.1h.9V306h.9V269.6h.9V353.8h.9V321.3h.9V300.2h.9V296.4h.9V281.1h.9V346.1h.9V323.2h.9V298.3h.9V298.3h.9V338.5h.9V325.1h.9V336.6h.9V309.8h.9V325.1h.9V353.8h.9V334.7h.9V363.4h.9V330.8h.9V338.5h.9V348.1h.9V323.2h.9V344.2h.9V363.4h.9V380.6h.9V386.3h.9V351.9h.9V384.4h.9V355.7h.9V361.5h.9V357.6h.9V372.9h.9V394h.9V357.6h.9V372.9h.9V351.9h.9V371h.9V388.2h.9V378.7h.9V355.7h.9V382.5h.9V411.2h.9V372.9h.9V390.2h.9V395.9h.9V397.8h.9V407.4h.9V426.5h.9V422.7h.9V405.5h.9V424.6h.9V405.5h.9V420.8h.9V394h.9V399.7h.9V395.9h.9V418.9h.9V416.9h.9V413.1h.9V445.6h.9V441.8h.9V411.2h.9V447.6h.9V426.5h.9V416.9h.9V453.3h.9V426.5h.9V424.6h.9V455.2h.9V416.9h.9V434.2h.9V447.6h.9V449.5h.9V474.3h.9V434.2h.9V424.6h.9V462.9h.9V468.6h.9V480.1h.9V472.4h.9V428.4h.9V453.3h.9V453.3h.9V466.7h.9V470.5h.9V459h.9V491.6h.9V474.3h.9V478.2h.9V474.3h.9V482h.9V453.3h.9V487.7h.9V476.2h.9V478.2h.9V478.2h.9V468.6h.9V464.8h.9V472.4h.9V470.5h.9V495.4h.9V485.8h.9V489.6h.9V493.5h.9V506.9h.9V480.1h.9V493.5h.9V497.3h.9V483.9h.9V489.6h.9V482h.9V506.9h.9V503h.9V491.6h.9V489.6h.9V493.5h.9V499.2h.9V514.5h.9V497.3h.9V504.9h.9V499.2h.9V491.6h.9V512.6h.9V489.6h.9V508.8h.9V504.9h.9V508.8h.9V491.6h.9V504.9h.9V495.4h.9V506.9h.9V499.2h.9V491.6h.9V474.3h.9V504.9h.9V516.4h.9V520.3h.9V493.5h.9V504.9h.9V503h.9V524.1h.9V512.6h.9V504.9h.9V524.1h.9V506.9h.9V518.3h.9V520.3h.9V503h.9V516.4h.9V524.1h.9V499.2h.9V529.8h.9V512.6h.9V514.5h.9V524.1h.9V506.9h.9V520.3h.9V516.4h.9V512.6h.9V514.5h.9V514.5h.9V493.5h.9V503h.9V508.8h.9V524.1h.9V520.3h.9V503h.9V518.3h.9V516.4h.9V499.2h.9V499.2h.9V497.3h.9V495.4h.9V522.2h.9V514.5h.9V516.4h.9V493.5h.9V518.3h.9V520.3h.9V510.7h.9V514.5h.9V495.4h.9V503h.9V503h.9V499.2h.9V506.9h.9V493.5h.9V526h.9V504.9h.9V501.1h.9V491.6h.9V524.1h.9V510.7h.9V495.4h.9V497.3h.9V522.2h.9V497.3h.9V522.2h.9V524.1h.9V518.3h.9V504.9h.9V522.2h.9V510.7h.9V508.8h.9V495.4h.9V514.5h.9V499.2h.9V514.5h.9V514.5h.9V508.8h.9V510.7h.9V501.1h.9V489.6h.9V508.8h.9V508.8h.9V506.9h.9V493.5h.9V497.3h.9V483.9h.9V508.8h.9V480.1h.9V499.2h.9V514.5h.9V474.3h.9V503h.9V503h.9V468.6h.9V497.3h.9V499.2h.9V499.2h.9V504.9h.9V504.9h.9V493.5h.9V510.7h.9V499.2h.9V504.9h.9V504.9h.9V495.4h.9V482h.9V487.7h.9V495.4h.9V476.2h.9V491.6h.9V516.4h.9V487.7h.9V512.6h.9V499.2h.9V495.4h.9V476.2h.9V504.9h.9V512.6h.9V487.7h.9V470.5h.9V478.2h.9V495.4h.9V476.2h.9V482h.9V493.5h.9V504.9h.9V489.6h.9V487.7h.9V472.4h.9V497.3h.9V489.6h.9V491.6h.9V493.5h.9V470.5h.9V476.2h.9V466.7h.9V457.1h.9V470.5h.9V457.1h.9V478.2h.9V476.2h.9V455.2h.9V470.5h.9V468.6h.9V483.9h.9V485.8h.9V499.2h.9V487.7h.9V459h.9V455.2h.9V472.4h.9V489.6h.9V457.1h.9V460.9h.9V453.3h.9V470.5h.9V432.2h.9V483.9h.9V451.4h.9V472.4h.9V468.6h.9V468.6h.9V455.2h.9V476.2h.9V459h.9V466.7h.9V459h.9V459h.9V439.9h.9V455.2h.9V464.8h.9V447.6h.9V447.6h.9V474.3h.9V451.4h.9V453.3h.9V476.2h.9V466.7h.9V460.9h.9V447.6h.9V453.3h.9V468.6h.9V441.8h.9V453.3h.9V474.3h.9V439.9h.9V441.8h.9V439.9h.9V443.7h.9V470.5h.9V457.1h.9V453.3h.9V432.2h.9V453.3h.9V451.4h.9V426.5h.9V443.7h.9V413.1h.9V468.6h.9V449.5h.9V453.3h.9V422.7h.9V451.4h.9V418.9h.9V436.1h.9V439.9h.9V439.9h.9V411.2h.9V432.2h.9V438h.9V443.7h.9V447.6h.9V459h.9V449.5h.9V432.2h.9V403.5h.9V438h.9V401.6h.9V432.2h.9V447.6h.9V426.5h.9V424.6h.9V409.3h.9V432.2h.9V434.2h.9V434.2h.9V432.2h.9V436.1h.9V418.9h.9V416.9h.9V411.2h.9V413.1h.9V418.9h.9V411.2h.9V420.8h.9V443.7h.9V428.4h.9V409.3h.9V407.4h.9V407.4h.9V428.4h.9V411.2h.9V436.1h.9V441.8h.9V445.6h.9V409.3h.9V457.1h.9V445.6h.9V422.7h.9V415h.9V394h.9V434.2h.9V411.2h.9V411.2h.9V411.2h.9V449.5h.9V409.3h.9V418.9h.9V380.6h.9V428.4h.9V407.4h.9V443.7h.9V409.3h.9V424.6h.9V415h.9V432.2h.9V395.9h.9V411.2h.9V382.5h.9V386.3h.9V438h.9V388.2h.9V376.8h.9V386.3h.9V394h.9V413.1h.9V374.8h.9V415h.9V432.2h.9V409.3h.9" fill="none" stroke="#808080" stroke-width="4" stroke-linejoin="miter"/>
<path d="M397.2 570V120" stroke="rgba(0,0,0,.5)" stroke-width="4.5" stroke-dasharray="13.5 13.5" fill="none"/>
<path d="M219 460L232.5 460L249.6 462L266.7 465.6L283.8 470.6L300.9 476.8L318 483.7L335.1 491.1L352.2 498.5L369.3 505.6L386.4 512L403.5 517.7L420.6 522.4L437.7 526.1L454.8 528.7L471.9 530.2L489 530.7L506.1 530.4L523.2 529.3L540.3 527.6L557.4 525.4L574.5 522.8L591.6 520L608.7 517.2L625.8 514.3L642.9 511.6L660 509L669 507.8" fill="none" stroke="#000" stroke-width="4.5" stroke-linejoin="round"/>
</g>
<g clip-path="url(#c11)">
<path d="M723 1074V647.2h9V651.3h9V648.2h9V652.1h9V659.5h9V645.4h9V684.6h9V671.8h9V685.8h9V695h9V679.7h9V702.7h9V706.5h9V699.1h9V722.9h9V728.5h9V761h9V767.4h9V765.9h9V775.8h9V794.5h9V814.7h9V817.8h9V818.8h9V825.4h9V842.8h9V853.1h9V865.3h9V867.9h9V879.7h9V897.8h9V898.8h9V906.5h9V922.1h9V930.5h9V929h9V942.6h9V960.2h9V953.3h9V961.7h9V970.4h9V977.3h9V994.5h9V991.4h9V998.3h9V1000.6h9V999.8h9V1014.7h9V1015.4h9V1020.6h9V1074z" fill="#e8e8e8"/>
<path d="M732 647.2V651.3h9V648.2h9V652.1h9V659.5h9V645.4h9V684.6h9V671.8h9V685.8h9V695h9V679.7h9V702.7h9V706.5h9V699.1h9V722.9h9V728.5h9V761h9V767.4h9V765.9h9V775.8h9V794.5h9V814.7h9V817.8h9V818.8h9V825.4h9V842.8h9V853.1h9V865.3h9V867.9h9V879.7h9V897.8h9V898.8h9V906.5h9V922.1h9V930.5h9V929h9V942.6h9V960.2h9V953.3h9V961.7h9V970.4h9V977.3h9V994.5h9V991.4h9V998.3h9V1000.6h9V999.8h9V1014.7h9V1015.4h9V1020.6h9" fill="none" stroke="#808080" stroke-width="4" stroke-linejoin="miter"/>
<path d="M942.78 1074V624" stroke="rgba(0,0,0,.5)" stroke-width="4.5" stroke-dasharray="13.5 13.5" fill="none"/>
<path d="M723 874.3L728.2 874.1L751.6 876L775 880.4L798.4 887.1L821.8 895.8L845.2 906.2L868.6 918L892 930.6L915.4 943.6L938.8 956.8L962.2 969.7L985.6 982.1L1009 993.7L1032.4 1004.5L1055.8 1014.2L1079.2 1023L1102.6 1030.7L1126 1037.5L1149.4 1043.3L1172.8 1048.4L1173 1048.4" fill="none" stroke="#000" stroke-width="4.5" stroke-linejoin="round"/>
</g>
<g clip-path="url(#c22)">
<path d="M1227 1578V1150.3h22.5V1167.5h22.5V1219.1h22.5V1279.2h22.5V1349.4h22.5V1411h22.5V1461.2h22.5V1502.7h22.5V1535.7h22.5V1551.4h22.5V1564.3h22.5V1570.1h22.5V1573.8h22.5V1575.5h22.5V1577.5h22.5V1577.9h22.5V1577.8h22.5V1578h22.5V1578h22.5V1578h22.5V1578z" fill="#e8e8e8"/>
<path d="M1249.5 1150.3V1167.5h22.5V1219.1h22.5V1279.2h22.5V1349.4h22.5V1411h22.5V1461.2h22.5V1502.7h22.5V1535.7h22.5V1551.4h22.5V1564.3h22.5V1570.1h22.5V1573.8h22.5V1575.5h22.5V1577.5h22.5V1577.9h22.5V1577.8h22.5V1578h22.5V1578h22.5V1578h22.5" fill="none" stroke="#808080" stroke-width="4" stroke-linejoin="miter"/>
<path d="M1227.36 1578V1128" stroke="rgba(0,0,0,.5)" stroke-width="4.5" stroke-dasharray="13.5 13.5" fill="none"/>
<path d="M1316.1 1578V1128" stroke="rgba(0,0,0,.5)" stroke-width="4.5" stroke-dasharray="13.5 13.5" fill="none"/>
<path d="M1227 1359.5L1237.2 1362.3L1248.7 1367.5L1260.2 1373.2L1268.8 1380.9L1275.9 1390.4L1283.1 1399.6L1291.7 1408.2L1300.3 1419.6L1308.9 1435.4L1317.5 1449.7L1326.1 1462.6L1340.4 1481.2L1357.6 1504.2L1371.9 1519.9L1383.4 1529.9L1397.7 1540.5L1412 1552L1423.5 1557.2L1437.8 1561.7L1452.1 1566.6L1472.2 1572.1L1498 1575.2L1543.8 1576.9L1677 1577.5" fill="none" stroke="#000" stroke-width="4.5" stroke-linejoin="round"/>
</g>
<g clip-path="url(#c33)">
<path d="M1731 2082V1653.5h90V1722.6h90V1828.5h90V1925h90V1994.7h90V2082z" fill="#e8e8e8"/>
<path d="M1821 1653.5V1722.6h90V1828.5h90V1925h90V1994.7h90" fill="none" stroke="#808080" stroke-width="4" stroke-linejoin="miter"/>
<path d="M1731.36 2082V1632" stroke="rgba(0,0,0,.5)" stroke-width="4.5" stroke-dasharray="13.5 13.5" fill="none"/>
<path d="M1956.63 2082V1632" stroke="rgba(0,0,0,.5)" stroke-width="4.5" stroke-dasharray="13.5 13.5" fill="none"/>
<path d="M1731 1875.1L1744.5 1875.1L1769.7 1878.1L1794.9 1885.5L1818.7 1894.4L1845.4 1904.2L1870.6 1915.1L1895.8 1928.5L1919.6 1942.7L1956.6 1962.9L1981.9 1976.9L2018.9 1996.1L2044.2 2007.1L2079.8 2019.9L2115.4 2033.2L2145 2043L2168.8 2050.1L2181 2053.1" fill="none" stroke="#000" stroke-width="4.5" stroke-linejoin="round"/>
</g>
<g fill="none" stroke="#000" stroke-width="3"><rect x="219" y="120" width="450" height="450"/><rect x="219" y="624" width="450" height="450"/><rect x="723" y="624" width="450" height="450"/><rect x="219" y="1128" width="450" height="450"/><rect x="723" y="1128" width="450" height="450"/><rect x="1227" y="1128" width="450" height="450"/><rect x="219" y="1632" width="450" height="450"/><rect x="723" y="1632" width="450" height="450"/><rect x="1227" y="1632" width="450" height="450"/><rect x="1731" y="1632" width="450" height="450"/></g>
<path d="M202.5 1074H219M202.5 984H219M202.5 894H219M202.5 804H219M202.5 714H219M202.5 624H219M202.5 1578H219M202.5 1488H219M202.5 1398H219M202.5 1308H219M202.5 1218H219M202.5 1128H219M202.5 2082H219M202.5 1992H219M202.5 1902H219M202.5 1812H219M202.5 1722H219M202.5 1632H219M219 2082V2098.5M309 2082V2098.5M399 2082V2098.5M489 2082V2098.5M579 2082V2098.5M669 2082V2098.5M723 2082V2098.5M813 2082V2098.5M903 2082V2098.5M993 2082V2098.5M1083 2082V2098.5M1173 2082V2098.5M1227 2082V2098.5M1317 2082V2098.5M1407 2082V2098.5M1497 2082V2098.5M1587 2082V2098.5M1677 2082V2098.5M1731 2082V2098.5M1821 2082V2098.5M1911 2082V2098.5M2001 2082V2098.5M2091 2082V2098.5M2181 2082V2098.5" stroke="#000" stroke-width="3" fill="none"/>
<g font-size="42" text-anchor="middle"><text transform="translate(181.5,1081.7) rotate(-45)" y="15.2">0</text><text transform="translate(181.5,991.7) rotate(-45)" y="15.2">1</text><text transform="translate(181.5,901.7) rotate(-45)" y="15.2">2</text><text transform="translate(181.5,811.7) rotate(-45)" y="15.2">3</text><text transform="translate(181.5,721.7) rotate(-45)" y="15.2">4</text><text transform="translate(181.5,631.7) rotate(-45)" y="15.2">5</text><text transform="translate(181.5,1585.7) rotate(-45)" y="15.2">0</text><text transform="translate(181.5,1495.7) rotate(-45)" y="15.2">1</text><text transform="translate(181.5,1405.7) rotate(-45)" y="15.2">2</text><text transform="translate(181.5,1315.7) rotate(-45)" y="15.2">3</text><text transform="translate(181.5,1225.7) rotate(-45)" y="15.2">4</text><text transform="translate(181.5,1135.7) rotate(-45)" y="15.2">5</text><text transform="translate(181.5,2089.7) rotate(-45)" y="15.2">0</text><text transform="translate(181.5,1999.7) rotate(-45)" y="15.2">1</text><text transform="translate(181.5,1909.7) rotate(-45)" y="15.2">2</text><text transform="translate(181.5,1819.7) rotate(-45)" y="15.2">3</text><text transform="translate(181.5,1729.7) rotate(-45)" y="15.2">4</text><text transform="translate(181.5,1639.7) rotate(-45)" y="15.2">5</text><text transform="translate(228.5,2132) rotate(-45)" y="15.2">0</text><text transform="translate(318.5,2132) rotate(-45)" y="15.2">1</text><text transform="translate(408.5,2132) rotate(-45)" y="15.2">2</text><text transform="translate(498.5,2132) rotate(-45)" y="15.2">3</text><text transform="translate(588.5,2132) rotate(-45)" y="15.2">4</text><text transform="translate(678.5,2132) rotate(-45)" y="15.2">5</text><text transform="translate(732.5,2132) rotate(-45)" y="15.2">0</text><text transform="translate(822.5,2132) rotate(-45)" y="15.2">1</text><text transform="translate(912.5,2132) rotate(-45)" y="15.2">2</text><text transform="translate(1002.5,2132) rotate(-45)" y="15.2">3</text><text transform="translate(1092.5,2132) rotate(-45)" y="15.2">4</text><text transform="translate(1182.5,2132) rotate(-45)" y="15.2">5</text><text transform="translate(1236.5,2132) rotate(-45)" y="15.2">0</text><text transform="translate(1326.5,2132) rotate(-45)" y="15.2">1</text><text transform="translate(1416.5,2132) rotate(-45)" y="15.2">2</text><text transform="translate(1506.5,2132) rotate(-45)" y="15.2">3</text><text transform="translate(1596.5,2132) rotate(-45)" y="15.2">4</text><text transform="translate(1686.5,2132) rotate(-45)" y="15.2">5</text><text transform="translate(1740.5,2132) rotate(-45)" y="15.2">0</text><text transform="translate(1830.5,2132) rotate(-45)" y="15.2">1</text><text transform="translate(1920.5,2132) rotate(-45)" y="15.2">2</text><text transform="translate(2010.5,2132) rotate(-45)" y="15.2">3</text><text transform="translate(2100.5,2132) rotate(-45)" y="15.2">4</text><text transform="translate(2190.5,2132) rotate(-45)" y="15.2">5</text></g>
<g font-size="44" text-anchor="middle"><text x="444.0" y="2237">α</text><text x="948.0" y="2237">β</text><text x="1452.0" y="2237">γ</text><text x="1956.0" y="2237">δ</text><text transform="translate(84.7,849.0) rotate(-90)">β</text><text transform="translate(84.7,1353.0) rotate(-90)">γ</text><text transform="translate(84.7,1857.0) rotate(-90)">δ</text></g>
<text x="416.5" y="91.5" font-size="42">2</text><text x="471.5" y="74.9" font-size="27.7" text-anchor="end">+5</text><text x="471.5" y="101.8" font-size="27.7" text-anchor="end">-2</text>
<text x="884.5" y="595.5" font-size="42">-0.0</text><text x="1011.5" y="578.9" font-size="27.7" text-anchor="end">+2.4</text><text x="1011.5" y="605.8" font-size="27.7" text-anchor="end">-2.5</text>
<text x="1452.0" y="1106.7" font-size="42" text-anchor="middle">0.0 ± 1.0</text>
<text x="1956.0" y="1610.7" font-size="42" text-anchor="middle">0.0 ± 2.5</text></svg></body></html>
